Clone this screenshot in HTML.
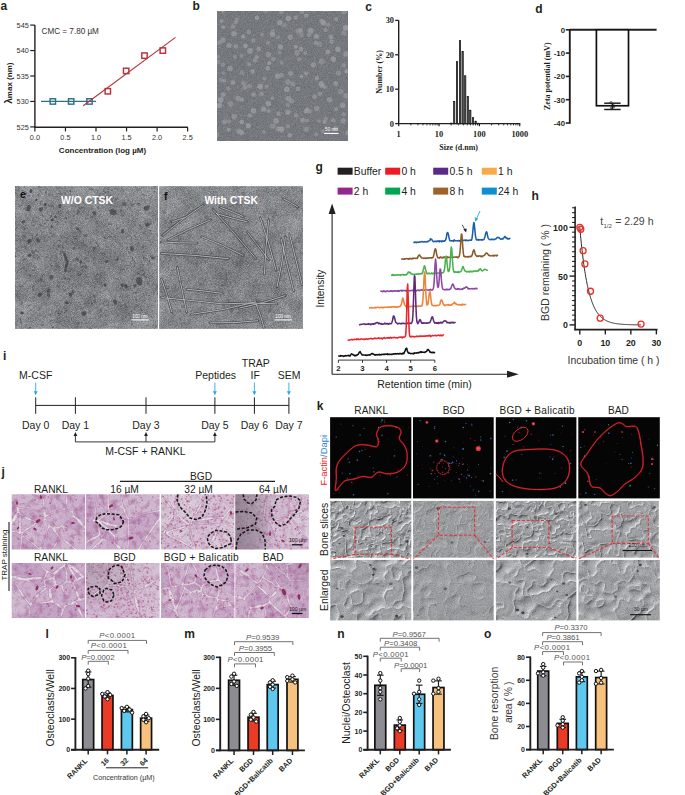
<!DOCTYPE html>
<html><head><meta charset="utf-8"><style>
html,body{margin:0;padding:0;background:#fff;}
body{width:685px;height:795px;overflow:hidden;}
svg{display:block;}

</style></head><body>
<svg width="685" height="795" viewBox="0 0 685 795">
<defs>
<filter id="nb" x="0" y="0" width="100%" height="100%" color-interpolation-filters="sRGB">
<feTurbulence type="fractalNoise" baseFrequency="1.2" numOctaves="2" seed="3"/>
<feColorMatrix type="matrix" values="0.2 0 0 0 0.350  0.2 0 0 0 0.365  0.2 0 0 0 0.385  0 0 0 0 1"/>
<feComposite in2="SourceGraphic" operator="in"/>
</filter>
<clipPath id="cb"><rect x="217" y="11" width="131" height="130"/></clipPath>
<filter id="blur06" x="-5%" y="-5%" width="110%" height="110%"><feGaussianBlur stdDeviation="0.75"/></filter>
<filter id="blur04" x="-5%" y="-5%" width="110%" height="110%"><feGaussianBlur stdDeviation="0.4"/></filter>
<filter id="nb2" x="0" y="0" width="100%" height="100%" color-interpolation-filters="sRGB">
<feTurbulence type="fractalNoise" baseFrequency="1.3" numOctaves="1" seed="13"/>
<feColorMatrix type="matrix" values="0.6 0 0 0 0.200  0.6 0 0 0 0.200  0.6 0 0 0 0.200  0 0 0 0 0.22"/>
<feComposite in2="SourceGraphic" operator="in"/>
</filter>
<filter id="ne" x="0" y="0" width="100%" height="100%" color-interpolation-filters="sRGB">
<feTurbulence type="fractalNoise" baseFrequency="1.4" numOctaves="2" seed="5"/>
<feColorMatrix type="matrix" values="0.56 0 0 0 0.240  0.56 0 0 0 0.255  0.56 0 0 0 0.275  0 0 0 0 1"/>
<feComposite in2="SourceGraphic" operator="in"/>
</filter>
<filter id="nf" x="0" y="0" width="100%" height="100%" color-interpolation-filters="sRGB">
<feTurbulence type="fractalNoise" baseFrequency="1.4" numOctaves="2" seed="9"/>
<feColorMatrix type="matrix" values="0.56 0 0 0 0.240  0.56 0 0 0 0.255  0.56 0 0 0 0.275  0 0 0 0 1"/>
<feComposite in2="SourceGraphic" operator="in"/>
</filter>
<clipPath id="ce"><rect x="15" y="186.2" width="143" height="142.6"/></clipPath>
<clipPath id="cf"><rect x="159.3" y="186.2" width="143.6" height="142.6"/></clipPath>
<filter id="blur08" x="-20%" y="-20%" width="140%" height="140%"><feGaussianBlur stdDeviation="0.65"/></filter>
<radialGradient id="gshade" cx="0.5" cy="0.6" r="0.75"><stop offset="0" stop-color="#000" stop-opacity="0.07"/><stop offset="1" stop-color="#fff" stop-opacity="0.05"/></radialGradient>
<filter id="mott" x="0" y="0" width="100%" height="100%" color-interpolation-filters="sRGB">
<feTurbulence type="fractalNoise" baseFrequency="0.06" numOctaves="3" seed="21"/>
<feColorMatrix type="matrix" values="1.0 0 0 0 0.000  1.0 0 0 0 0.000  1.0 0 0 0 0.000  0 0 0 0 0.22"/>
<feComposite in2="SourceGraphic" operator="in"/>
</filter>
<filter id="mott2" x="0" y="0" width="100%" height="100%" color-interpolation-filters="sRGB">
<feTurbulence type="fractalNoise" baseFrequency="0.06" numOctaves="3" seed="27"/>
<feColorMatrix type="matrix" values="1.0 0 0 0 0.000  1.0 0 0 0 0.000  1.0 0 0 0 0.000  0 0 0 0 0.22"/>
<feComposite in2="SourceGraphic" operator="in"/>
</filter>
<filter id="nstr" x="0" y="0" width="100%" height="100%" color-interpolation-filters="sRGB">
<feTurbulence type="fractalNoise" baseFrequency="0.25 1.1" numOctaves="2" seed="33"/>
<feColorMatrix type="matrix" values="1.0 0 0 0 0.000  1.0 0 0 0 0.000  1.0 0 0 0 0.000  0 0 0 0 0.13"/>
<feComposite in2="SourceGraphic" operator="in"/>
</filter>
<filter id="nstr2" x="0" y="0" width="100%" height="100%" color-interpolation-filters="sRGB">
<feTurbulence type="fractalNoise" baseFrequency="0.25 1.1" numOctaves="2" seed="35"/>
<feColorMatrix type="matrix" values="1.0 0 0 0 0.000  1.0 0 0 0 0.000  1.0 0 0 0 0.000  0 0 0 0 0.13"/>
<feComposite in2="SourceGraphic" operator="in"/>
</filter>
<filter id="nj2" x="0" y="0" width="100%" height="100%" color-interpolation-filters="sRGB"><feTurbulence type="fractalNoise" baseFrequency="0.16" numOctaves="3" seed="4"/><feColorMatrix type="matrix" values="0 0 0 0 0.62  0 0 0 0 0.25  0 0 0 0 0.52  2.4 0 0 0 -1.1"/><feComposite in2="SourceGraphic" operator="in"/></filter>
<filter id="nj3" x="0" y="0" width="100%" height="100%" color-interpolation-filters="sRGB"><feTurbulence type="fractalNoise" baseFrequency="0.9" numOctaves="2" seed="8"/><feColorMatrix type="matrix" values="0 0 0 0 0.55  0 0 0 0 0.25  0 0 0 0 0.5  0 0 0 0 0  2.0 0 0 0 -0.9"/><feComposite in2="SourceGraphic" operator="in"/></filter>
<clipPath id="cj00"><rect x="11.7" y="494.2" width="73.5" height="55.2"/></clipPath>
<clipPath id="cj01"><rect x="86.1" y="494.2" width="73.5" height="55.2"/></clipPath>
<clipPath id="cj02"><rect x="161.0" y="494.2" width="73.5" height="55.2"/></clipPath>
<clipPath id="cj03"><rect x="235.3" y="494.2" width="73.5" height="55.2"/></clipPath>
<clipPath id="cj10"><rect x="11.7" y="562.9" width="73.5" height="55.2"/></clipPath>
<clipPath id="cj11"><rect x="86.1" y="562.9" width="73.5" height="55.2"/></clipPath>
<clipPath id="cj12"><rect x="161.0" y="562.9" width="73.5" height="55.2"/></clipPath>
<clipPath id="cj13"><rect x="235.3" y="562.9" width="73.5" height="55.2"/></clipPath>
<linearGradient id="gj64" x1="0" y1="0" x2="1" y2="0"><stop offset="0" stop-color="#5e5360" stop-opacity="0.55"/><stop offset="0.35" stop-color="#6e6270" stop-opacity="0.35"/><stop offset="0.5" stop-color="#6e6270" stop-opacity="0"/></linearGradient>
<radialGradient id="gjb" cx="0" cy="0" r="0.9"><stop offset="0" stop-color="#6a626b" stop-opacity="0.3"/><stop offset="1" stop-color="#6a626b" stop-opacity="0"/></radialGradient>
<radialGradient id="gjr" cx="1" cy="0" r="0.7"><stop offset="0" stop-color="#8a5a80" stop-opacity="0.35"/><stop offset="1" stop-color="#8a5a80" stop-opacity="0"/></radialGradient>
<filter id="sem2_0" x="0" y="0" width="100%" height="100%" color-interpolation-filters="sRGB">
<feTurbulence type="fractalNoise" baseFrequency="0.13" numOctaves="2" seed="20" result="n1"/>
<feTurbulence type="fractalNoise" baseFrequency="0.0927" numOctaves="2" seed="23" result="n2"/>
<feComposite in="n1" in2="n2" operator="arithmetic" k2="0.5" k3="0.5" result="s"/>
<feColorMatrix in="s" type="matrix" values="1 0 0 0 0  1 0 0 0 0  1 0 0 0 0  0 0 0 0 1" result="s1"/>
<feComponentTransfer in="s1" result="r"><feFuncR type="table" tableValues="0 0 1 0 0"/><feFuncG type="table" tableValues="0 0 1 0 0"/><feFuncB type="table" tableValues="0 0 1 0 0"/></feComponentTransfer>
<feComponentTransfer in="r" result="r2"><feFuncR type="gamma" exponent="6"/><feFuncG type="gamma" exponent="6"/><feFuncB type="gamma" exponent="6"/></feComponentTransfer>
<feGaussianBlur in="r2" stdDeviation="0.35" result="rb"/>
<feOffset in="rb" dx="0.9" dy="0.9" result="ro"/>
<feColorMatrix in="s" type="matrix" values="0 0 0 0 0  0 0 0 0 0  0 0 0 0 0  1 0 0 0 0" result="a"/>
<feDiffuseLighting in="a" surfaceScale="4" diffuseConstant="1" lighting-color="#fff" result="l"><feDistantLight azimuth="235" elevation="55"/></feDiffuseLighting>
<feTurbulence type="fractalNoise" baseFrequency="1.1" numOctaves="1" seed="25" result="n"/>
<feColorMatrix in="n" type="matrix" values="0.22 0 0 0 0.485  0.22 0 0 0 0.490  0.22 0 0 0 0.500  0 0 0 0 1" result="g"/>
<feComposite in="l" in2="g" operator="arithmetic" k2="0.4" k3="1" k4="-0.300" result="g2"/>
<feComposite in="ro" in2="g2" operator="arithmetic" k2="-0.24" k3="1" k4="0" result="g3"/>
<feComposite in="rb" in2="g3" operator="arithmetic" k2="0.27" k3="1" k4="0" result="c"/>
<feComposite in="c" in2="SourceGraphic" operator="in"/>
</filter>
<filter id="sem3_0" x="0" y="0" width="100%" height="100%" color-interpolation-filters="sRGB">
<feTurbulence type="fractalNoise" baseFrequency="0.065" numOctaves="2" seed="40" result="n1"/>
<feTurbulence type="fractalNoise" baseFrequency="0.0463" numOctaves="2" seed="43" result="n2"/>
<feComposite in="n1" in2="n2" operator="arithmetic" k2="0.5" k3="0.5" result="s"/>
<feColorMatrix in="s" type="matrix" values="1 0 0 0 0  1 0 0 0 0  1 0 0 0 0  0 0 0 0 1" result="s1"/>
<feComponentTransfer in="s1" result="r"><feFuncR type="table" tableValues="0 0 1 0 0"/><feFuncG type="table" tableValues="0 0 1 0 0"/><feFuncB type="table" tableValues="0 0 1 0 0"/></feComponentTransfer>
<feComponentTransfer in="r" result="r2"><feFuncR type="gamma" exponent="5"/><feFuncG type="gamma" exponent="5"/><feFuncB type="gamma" exponent="5"/></feComponentTransfer>
<feGaussianBlur in="r2" stdDeviation="0.5" result="rb"/>
<feOffset in="rb" dx="0.9" dy="0.9" result="ro"/>
<feColorMatrix in="s" type="matrix" values="0 0 0 0 0  0 0 0 0 0  0 0 0 0 0  1 0 0 0 0" result="a"/>
<feDiffuseLighting in="a" surfaceScale="4" diffuseConstant="1" lighting-color="#fff" result="l"><feDistantLight azimuth="235" elevation="55"/></feDiffuseLighting>
<feTurbulence type="fractalNoise" baseFrequency="1.1" numOctaves="1" seed="45" result="n"/>
<feColorMatrix in="n" type="matrix" values="0.22 0 0 0 0.480  0.22 0 0 0 0.485  0.22 0 0 0 0.495  0 0 0 0 1" result="g"/>
<feComposite in="l" in2="g" operator="arithmetic" k2="0.55" k3="1" k4="-0.413" result="g2"/>
<feComposite in="ro" in2="g2" operator="arithmetic" k2="-0.3" k3="1" k4="0" result="g3"/>
<feComposite in="rb" in2="g3" operator="arithmetic" k2="0.32" k3="1" k4="0" result="c"/>
<feComposite in="c" in2="SourceGraphic" operator="in"/>
</filter>
<filter id="sem2_1" x="0" y="0" width="100%" height="100%" color-interpolation-filters="sRGB">
<feTurbulence type="fractalNoise" baseFrequency="0.1" numOctaves="2" seed="21" result="n1"/>
<feTurbulence type="fractalNoise" baseFrequency="0.0713" numOctaves="2" seed="24" result="n2"/>
<feComposite in="n1" in2="n2" operator="arithmetic" k2="0.5" k3="0.5" result="s"/>
<feColorMatrix in="s" type="matrix" values="1 0 0 0 0  1 0 0 0 0  1 0 0 0 0  0 0 0 0 1" result="s1"/>
<feComponentTransfer in="s1" result="r"><feFuncR type="table" tableValues="0 0 1 0 0"/><feFuncG type="table" tableValues="0 0 1 0 0"/><feFuncB type="table" tableValues="0 0 1 0 0"/></feComponentTransfer>
<feComponentTransfer in="r" result="r2"><feFuncR type="gamma" exponent="6"/><feFuncG type="gamma" exponent="6"/><feFuncB type="gamma" exponent="6"/></feComponentTransfer>
<feGaussianBlur in="r2" stdDeviation="0.35" result="rb"/>
<feOffset in="rb" dx="0.9" dy="0.9" result="ro"/>
<feColorMatrix in="s" type="matrix" values="0 0 0 0 0  0 0 0 0 0  0 0 0 0 0  1 0 0 0 0" result="a"/>
<feDiffuseLighting in="a" surfaceScale="4" diffuseConstant="1" lighting-color="#fff" result="l"><feDistantLight azimuth="235" elevation="55"/></feDiffuseLighting>
<feTurbulence type="fractalNoise" baseFrequency="1.1" numOctaves="1" seed="26" result="n"/>
<feColorMatrix in="n" type="matrix" values="0.22 0 0 0 0.485  0.22 0 0 0 0.490  0.22 0 0 0 0.500  0 0 0 0 1" result="g"/>
<feComposite in="l" in2="g" operator="arithmetic" k2="0.18000000000000002" k3="1" k4="-0.135" result="g2"/>
<feComposite in="ro" in2="g2" operator="arithmetic" k2="-0.108" k3="1" k4="0" result="g3"/>
<feComposite in="rb" in2="g3" operator="arithmetic" k2="0.12150000000000001" k3="1" k4="0" result="c"/>
<feComposite in="c" in2="SourceGraphic" operator="in"/>
</filter>
<filter id="sem3_1" x="0" y="0" width="100%" height="100%" color-interpolation-filters="sRGB">
<feTurbulence type="fractalNoise" baseFrequency="0.065" numOctaves="2" seed="41" result="n1"/>
<feTurbulence type="fractalNoise" baseFrequency="0.0463" numOctaves="2" seed="44" result="n2"/>
<feComposite in="n1" in2="n2" operator="arithmetic" k2="0.5" k3="0.5" result="s"/>
<feColorMatrix in="s" type="matrix" values="1 0 0 0 0  1 0 0 0 0  1 0 0 0 0  0 0 0 0 1" result="s1"/>
<feComponentTransfer in="s1" result="r"><feFuncR type="table" tableValues="0 0 1 0 0"/><feFuncG type="table" tableValues="0 0 1 0 0"/><feFuncB type="table" tableValues="0 0 1 0 0"/></feComponentTransfer>
<feComponentTransfer in="r" result="r2"><feFuncR type="gamma" exponent="5"/><feFuncG type="gamma" exponent="5"/><feFuncB type="gamma" exponent="5"/></feComponentTransfer>
<feGaussianBlur in="r2" stdDeviation="0.5" result="rb"/>
<feOffset in="rb" dx="0.9" dy="0.9" result="ro"/>
<feColorMatrix in="s" type="matrix" values="0 0 0 0 0  0 0 0 0 0  0 0 0 0 0  1 0 0 0 0" result="a"/>
<feDiffuseLighting in="a" surfaceScale="4" diffuseConstant="1" lighting-color="#fff" result="l"><feDistantLight azimuth="235" elevation="55"/></feDiffuseLighting>
<feTurbulence type="fractalNoise" baseFrequency="1.1" numOctaves="1" seed="46" result="n"/>
<feColorMatrix in="n" type="matrix" values="0.22 0 0 0 0.480  0.22 0 0 0 0.485  0.22 0 0 0 0.495  0 0 0 0 1" result="g"/>
<feComposite in="l" in2="g" operator="arithmetic" k2="0.24750000000000003" k3="1" k4="-0.186" result="g2"/>
<feComposite in="ro" in2="g2" operator="arithmetic" k2="-0.135" k3="1" k4="0" result="g3"/>
<feComposite in="rb" in2="g3" operator="arithmetic" k2="0.14400000000000002" k3="1" k4="0" result="c"/>
<feComposite in="c" in2="SourceGraphic" operator="in"/>
</filter>
<filter id="sem2_2" x="0" y="0" width="100%" height="100%" color-interpolation-filters="sRGB">
<feTurbulence type="fractalNoise" baseFrequency="0.12" numOctaves="2" seed="22" result="n1"/>
<feTurbulence type="fractalNoise" baseFrequency="0.0856" numOctaves="2" seed="25" result="n2"/>
<feComposite in="n1" in2="n2" operator="arithmetic" k2="0.5" k3="0.5" result="s"/>
<feColorMatrix in="s" type="matrix" values="1 0 0 0 0  1 0 0 0 0  1 0 0 0 0  0 0 0 0 1" result="s1"/>
<feComponentTransfer in="s1" result="r"><feFuncR type="table" tableValues="0 0 1 0 0"/><feFuncG type="table" tableValues="0 0 1 0 0"/><feFuncB type="table" tableValues="0 0 1 0 0"/></feComponentTransfer>
<feComponentTransfer in="r" result="r2"><feFuncR type="gamma" exponent="6"/><feFuncG type="gamma" exponent="6"/><feFuncB type="gamma" exponent="6"/></feComponentTransfer>
<feGaussianBlur in="r2" stdDeviation="0.35" result="rb"/>
<feOffset in="rb" dx="0.9" dy="0.9" result="ro"/>
<feColorMatrix in="s" type="matrix" values="0 0 0 0 0  0 0 0 0 0  0 0 0 0 0  1 0 0 0 0" result="a"/>
<feDiffuseLighting in="a" surfaceScale="4" diffuseConstant="1" lighting-color="#fff" result="l"><feDistantLight azimuth="235" elevation="55"/></feDiffuseLighting>
<feTurbulence type="fractalNoise" baseFrequency="1.1" numOctaves="1" seed="27" result="n"/>
<feColorMatrix in="n" type="matrix" values="0.22 0 0 0 0.485  0.22 0 0 0 0.490  0.22 0 0 0 0.500  0 0 0 0 1" result="g"/>
<feComposite in="l" in2="g" operator="arithmetic" k2="0.4" k3="1" k4="-0.300" result="g2"/>
<feComposite in="ro" in2="g2" operator="arithmetic" k2="-0.24" k3="1" k4="0" result="g3"/>
<feComposite in="rb" in2="g3" operator="arithmetic" k2="0.27" k3="1" k4="0" result="c"/>
<feComposite in="c" in2="SourceGraphic" operator="in"/>
</filter>
<filter id="sem3_2" x="0" y="0" width="100%" height="100%" color-interpolation-filters="sRGB">
<feTurbulence type="fractalNoise" baseFrequency="0.065" numOctaves="2" seed="42" result="n1"/>
<feTurbulence type="fractalNoise" baseFrequency="0.0463" numOctaves="2" seed="45" result="n2"/>
<feComposite in="n1" in2="n2" operator="arithmetic" k2="0.5" k3="0.5" result="s"/>
<feColorMatrix in="s" type="matrix" values="1 0 0 0 0  1 0 0 0 0  1 0 0 0 0  0 0 0 0 1" result="s1"/>
<feComponentTransfer in="s1" result="r"><feFuncR type="table" tableValues="0 0 1 0 0"/><feFuncG type="table" tableValues="0 0 1 0 0"/><feFuncB type="table" tableValues="0 0 1 0 0"/></feComponentTransfer>
<feComponentTransfer in="r" result="r2"><feFuncR type="gamma" exponent="5"/><feFuncG type="gamma" exponent="5"/><feFuncB type="gamma" exponent="5"/></feComponentTransfer>
<feGaussianBlur in="r2" stdDeviation="0.5" result="rb"/>
<feOffset in="rb" dx="0.9" dy="0.9" result="ro"/>
<feColorMatrix in="s" type="matrix" values="0 0 0 0 0  0 0 0 0 0  0 0 0 0 0  1 0 0 0 0" result="a"/>
<feDiffuseLighting in="a" surfaceScale="4" diffuseConstant="1" lighting-color="#fff" result="l"><feDistantLight azimuth="235" elevation="55"/></feDiffuseLighting>
<feTurbulence type="fractalNoise" baseFrequency="1.1" numOctaves="1" seed="47" result="n"/>
<feColorMatrix in="n" type="matrix" values="0.22 0 0 0 0.480  0.22 0 0 0 0.485  0.22 0 0 0 0.495  0 0 0 0 1" result="g"/>
<feComposite in="l" in2="g" operator="arithmetic" k2="0.55" k3="1" k4="-0.413" result="g2"/>
<feComposite in="ro" in2="g2" operator="arithmetic" k2="-0.3" k3="1" k4="0" result="g3"/>
<feComposite in="rb" in2="g3" operator="arithmetic" k2="0.32" k3="1" k4="0" result="c"/>
<feComposite in="c" in2="SourceGraphic" operator="in"/>
</filter>
<filter id="sem2_3" x="0" y="0" width="100%" height="100%" color-interpolation-filters="sRGB">
<feTurbulence type="fractalNoise" baseFrequency="0.1" numOctaves="2" seed="23" result="n1"/>
<feTurbulence type="fractalNoise" baseFrequency="0.0713" numOctaves="2" seed="26" result="n2"/>
<feComposite in="n1" in2="n2" operator="arithmetic" k2="0.5" k3="0.5" result="s"/>
<feColorMatrix in="s" type="matrix" values="1 0 0 0 0  1 0 0 0 0  1 0 0 0 0  0 0 0 0 1" result="s1"/>
<feComponentTransfer in="s1" result="r"><feFuncR type="table" tableValues="0 0 1 0 0"/><feFuncG type="table" tableValues="0 0 1 0 0"/><feFuncB type="table" tableValues="0 0 1 0 0"/></feComponentTransfer>
<feComponentTransfer in="r" result="r2"><feFuncR type="gamma" exponent="6"/><feFuncG type="gamma" exponent="6"/><feFuncB type="gamma" exponent="6"/></feComponentTransfer>
<feGaussianBlur in="r2" stdDeviation="0.35" result="rb"/>
<feOffset in="rb" dx="0.9" dy="0.9" result="ro"/>
<feColorMatrix in="s" type="matrix" values="0 0 0 0 0  0 0 0 0 0  0 0 0 0 0  1 0 0 0 0" result="a"/>
<feDiffuseLighting in="a" surfaceScale="4" diffuseConstant="1" lighting-color="#fff" result="l"><feDistantLight azimuth="235" elevation="55"/></feDiffuseLighting>
<feTurbulence type="fractalNoise" baseFrequency="1.1" numOctaves="1" seed="28" result="n"/>
<feColorMatrix in="n" type="matrix" values="0.22 0 0 0 0.485  0.22 0 0 0 0.490  0.22 0 0 0 0.500  0 0 0 0 1" result="g"/>
<feComposite in="l" in2="g" operator="arithmetic" k2="0.38" k3="1" k4="-0.285" result="g2"/>
<feComposite in="ro" in2="g2" operator="arithmetic" k2="-0.22799999999999998" k3="1" k4="0" result="g3"/>
<feComposite in="rb" in2="g3" operator="arithmetic" k2="0.2565" k3="1" k4="0" result="c"/>
<feComposite in="c" in2="SourceGraphic" operator="in"/>
</filter>
<filter id="sem3_3" x="0" y="0" width="100%" height="100%" color-interpolation-filters="sRGB">
<feTurbulence type="fractalNoise" baseFrequency="0.065" numOctaves="2" seed="43" result="n1"/>
<feTurbulence type="fractalNoise" baseFrequency="0.0463" numOctaves="2" seed="46" result="n2"/>
<feComposite in="n1" in2="n2" operator="arithmetic" k2="0.5" k3="0.5" result="s"/>
<feColorMatrix in="s" type="matrix" values="1 0 0 0 0  1 0 0 0 0  1 0 0 0 0  0 0 0 0 1" result="s1"/>
<feComponentTransfer in="s1" result="r"><feFuncR type="table" tableValues="0 0 1 0 0"/><feFuncG type="table" tableValues="0 0 1 0 0"/><feFuncB type="table" tableValues="0 0 1 0 0"/></feComponentTransfer>
<feComponentTransfer in="r" result="r2"><feFuncR type="gamma" exponent="5"/><feFuncG type="gamma" exponent="5"/><feFuncB type="gamma" exponent="5"/></feComponentTransfer>
<feGaussianBlur in="r2" stdDeviation="0.5" result="rb"/>
<feOffset in="rb" dx="0.9" dy="0.9" result="ro"/>
<feColorMatrix in="s" type="matrix" values="0 0 0 0 0  0 0 0 0 0  0 0 0 0 0  1 0 0 0 0" result="a"/>
<feDiffuseLighting in="a" surfaceScale="4" diffuseConstant="1" lighting-color="#fff" result="l"><feDistantLight azimuth="235" elevation="55"/></feDiffuseLighting>
<feTurbulence type="fractalNoise" baseFrequency="1.1" numOctaves="1" seed="48" result="n"/>
<feColorMatrix in="n" type="matrix" values="0.22 0 0 0 0.480  0.22 0 0 0 0.485  0.22 0 0 0 0.495  0 0 0 0 1" result="g"/>
<feComposite in="l" in2="g" operator="arithmetic" k2="0.5225" k3="1" k4="-0.392" result="g2"/>
<feComposite in="ro" in2="g2" operator="arithmetic" k2="-0.285" k3="1" k4="0" result="g3"/>
<feComposite in="rb" in2="g3" operator="arithmetic" k2="0.304" k3="1" k4="0" result="c"/>
<feComposite in="c" in2="SourceGraphic" operator="in"/>
</filter>
<filter id="glow" x="-10%" y="-10%" width="120%" height="120%"><feGaussianBlur stdDeviation="0.5"/></filter>
<filter id="glow2" x="-50%" y="-50%" width="200%" height="200%"><feGaussianBlur stdDeviation="0.7"/></filter>
</defs>
<rect width="685" height="795" fill="#fff"/>
<text x="0.50" y="10.00" font-size="12" text-anchor="start" font-weight="bold" font-style="normal" fill="#231f20" font-family='"Liberation Sans", sans-serif' >a</text>
<line x1="34.90" y1="25.10" x2="34.90" y2="127.90" stroke="#231f20" stroke-width="1.4" />
<line x1="30.20" y1="126.90" x2="34.90" y2="126.90" stroke="#231f20" stroke-width="1.2" />
<text x="28.80" y="129.50" font-size="7.3" text-anchor="end" font-weight="normal" font-style="normal" fill="#333" font-family='"Liberation Sans", sans-serif' >525</text>
<line x1="30.20" y1="101.45" x2="34.90" y2="101.45" stroke="#231f20" stroke-width="1.2" />
<text x="28.80" y="104.05" font-size="7.3" text-anchor="end" font-weight="normal" font-style="normal" fill="#333" font-family='"Liberation Sans", sans-serif' >530</text>
<line x1="30.20" y1="76.00" x2="34.90" y2="76.00" stroke="#231f20" stroke-width="1.2" />
<text x="28.80" y="78.60" font-size="7.3" text-anchor="end" font-weight="normal" font-style="normal" fill="#333" font-family='"Liberation Sans", sans-serif' >535</text>
<line x1="30.20" y1="50.55" x2="34.90" y2="50.55" stroke="#231f20" stroke-width="1.2" />
<text x="28.80" y="53.15" font-size="7.3" text-anchor="end" font-weight="normal" font-style="normal" fill="#333" font-family='"Liberation Sans", sans-serif' >540</text>
<line x1="30.20" y1="25.10" x2="34.90" y2="25.10" stroke="#231f20" stroke-width="1.2" />
<text x="28.80" y="27.70" font-size="7.3" text-anchor="end" font-weight="normal" font-style="normal" fill="#333" font-family='"Liberation Sans", sans-serif' >545</text>
<line x1="34.20" y1="127.20" x2="187.90" y2="127.20" stroke="#231f20" stroke-width="1.4" />
<line x1="34.90" y1="127.20" x2="34.90" y2="131.40" stroke="#231f20" stroke-width="1.2" />
<text x="34.90" y="140.30" font-size="7.3" text-anchor="middle" font-weight="normal" font-style="normal" fill="#333" font-family='"Liberation Sans", sans-serif' >0.0</text>
<line x1="65.45" y1="127.20" x2="65.45" y2="131.40" stroke="#231f20" stroke-width="1.2" />
<text x="65.45" y="140.30" font-size="7.3" text-anchor="middle" font-weight="normal" font-style="normal" fill="#333" font-family='"Liberation Sans", sans-serif' >0.5</text>
<line x1="96.00" y1="127.20" x2="96.00" y2="131.40" stroke="#231f20" stroke-width="1.2" />
<text x="96.00" y="140.30" font-size="7.3" text-anchor="middle" font-weight="normal" font-style="normal" fill="#333" font-family='"Liberation Sans", sans-serif' >1.0</text>
<line x1="126.55" y1="127.20" x2="126.55" y2="131.40" stroke="#231f20" stroke-width="1.2" />
<text x="126.55" y="140.30" font-size="7.3" text-anchor="middle" font-weight="normal" font-style="normal" fill="#333" font-family='"Liberation Sans", sans-serif' >1.5</text>
<line x1="157.10" y1="127.20" x2="157.10" y2="131.40" stroke="#231f20" stroke-width="1.2" />
<text x="157.10" y="140.30" font-size="7.3" text-anchor="middle" font-weight="normal" font-style="normal" fill="#333" font-family='"Liberation Sans", sans-serif' >2.0</text>
<line x1="187.65" y1="127.20" x2="187.65" y2="131.40" stroke="#231f20" stroke-width="1.2" />
<text x="187.65" y="140.30" font-size="7.3" text-anchor="middle" font-weight="normal" font-style="normal" fill="#333" font-family='"Liberation Sans", sans-serif' >2.5</text>
<text x="102.50" y="153.30" font-size="8" text-anchor="middle" font-weight="bold" font-style="normal" fill="#231f20" font-family='"Liberation Sans", sans-serif' >Concentration (log µM)</text>
<text x="11.90" y="83.20" font-size="8.0" text-anchor="middle" font-weight="bold" font-style="normal" fill="#231f20" font-family='"Liberation Sans", sans-serif' transform="rotate(-90 11.9 83.2)" ><tspan font-size="10.2">λ</tspan>max (nm)</text>
<text x="41.60" y="33.90" font-size="8.15" text-anchor="start" font-weight="normal" font-style="normal" fill="#333" font-family='"Liberation Sans", sans-serif' >CMC = 7.80 µM</text>
<line x1="41.01" y1="101.45" x2="96.00" y2="101.45" stroke="#2f7286" stroke-width="1.2" />
<rect x="50.13" y="98.75" width="5.4" height="5.4" fill="none" stroke="#2f7286" stroke-width="1.45"/>
<rect x="68.46" y="98.75" width="5.4" height="5.4" fill="none" stroke="#2f7286" stroke-width="1.45"/>
<rect x="86.79" y="98.75" width="5.4" height="5.4" fill="none" stroke="#2f7286" stroke-width="1.45"/>
<line x1="83.20" y1="105.70" x2="175.50" y2="37.40" stroke="#b8333b" stroke-width="1.15" />
<rect x="105.12" y="88.57" width="5.4" height="5.4" fill="none" stroke="#b8333b" stroke-width="1.45"/>
<rect x="123.45" y="68.21" width="5.4" height="5.4" fill="none" stroke="#b8333b" stroke-width="1.45"/>
<rect x="141.78" y="52.94" width="5.4" height="5.4" fill="none" stroke="#b8333b" stroke-width="1.45"/>
<rect x="160.11" y="47.85" width="5.4" height="5.4" fill="none" stroke="#b8333b" stroke-width="1.45"/>
<text x="192.50" y="10.00" font-size="12" text-anchor="start" font-weight="bold" font-style="normal" fill="#231f20" font-family='"Liberation Sans", sans-serif' >b</text>
<rect x="217.00" y="11.00" width="131.00" height="130.00" fill="#6c6f73" filter="url(#nb)"/>
<g clip-path="url(#cb)" filter="url(#blur06)">
<circle cx="214.0" cy="12.2" r="2.0" fill="#9fa2a7" opacity="0.74"/>
<circle cx="222.8" cy="11.1" r="1.9" fill="#9fa2a7" opacity="0.70"/>
<circle cx="258.2" cy="8.1" r="2.1" fill="#9fa2a7" opacity="0.77"/>
<circle cx="265.7" cy="10.2" r="2.9" fill="#9fa2a7" opacity="0.57"/>
<circle cx="272.8" cy="8.2" r="2.0" fill="#9fa2a7" opacity="0.66"/>
<circle cx="281.4" cy="11.6" r="2.5" fill="#9fa2a7" opacity="0.68"/>
<circle cx="290.0" cy="7.6" r="2.1" fill="#9fa2a7" opacity="0.79"/>
<circle cx="301.8" cy="11.7" r="2.4" fill="#9fa2a7" opacity="0.65"/>
<circle cx="314.7" cy="9.0" r="2.5" fill="#9fa2a7" opacity="0.73"/>
<circle cx="324.6" cy="9.4" r="2.9" fill="#9fa2a7" opacity="0.59"/>
<circle cx="334.4" cy="8.3" r="2.4" fill="#9fa2a7" opacity="0.56"/>
<circle cx="344.1" cy="11.6" r="2.8" fill="#9fa2a7" opacity="0.66"/>
<circle cx="352.2" cy="11.6" r="2.4" fill="#9fa2a7" opacity="0.84"/>
<circle cx="221.6" cy="20.9" r="2.0" fill="#9fa2a7" opacity="0.80"/>
<circle cx="235.7" cy="22.1" r="2.2" fill="#9fa2a7" opacity="0.69"/>
<circle cx="236.9" cy="19.3" r="2.1" fill="#9fa2a7" opacity="0.59"/>
<circle cx="257.0" cy="17.7" r="2.3" fill="#9fa2a7" opacity="0.85"/>
<circle cx="279.8" cy="22.6" r="2.7" fill="#9fa2a7" opacity="0.85"/>
<circle cx="288.3" cy="18.5" r="2.8" fill="#9fa2a7" opacity="0.89"/>
<circle cx="295.8" cy="17.6" r="2.1" fill="#9fa2a7" opacity="0.72"/>
<circle cx="306.2" cy="15.8" r="2.3" fill="#9fa2a7" opacity="0.68"/>
<circle cx="321.7" cy="21.1" r="2.4" fill="#9fa2a7" opacity="0.77"/>
<circle cx="323.5" cy="22.7" r="2.7" fill="#9fa2a7" opacity="0.86"/>
<circle cx="336.1" cy="18.9" r="2.0" fill="#9fa2a7" opacity="0.77"/>
<circle cx="214.1" cy="27.0" r="2.0" fill="#9fa2a7" opacity="0.55"/>
<circle cx="223.2" cy="27.2" r="1.9" fill="#9fa2a7" opacity="0.86"/>
<circle cx="233.2" cy="26.4" r="2.2" fill="#9fa2a7" opacity="0.68"/>
<circle cx="248.8" cy="32.1" r="2.4" fill="#9fa2a7" opacity="0.72"/>
<circle cx="272.6" cy="30.8" r="2.1" fill="#9fa2a7" opacity="0.56"/>
<circle cx="284.4" cy="25.5" r="2.4" fill="#9fa2a7" opacity="0.56"/>
<circle cx="297.9" cy="31.1" r="2.6" fill="#9fa2a7" opacity="0.64"/>
<circle cx="300.5" cy="30.4" r="2.4" fill="#9fa2a7" opacity="0.82"/>
<circle cx="310.6" cy="30.7" r="2.9" fill="#9fa2a7" opacity="0.85"/>
<circle cx="325.4" cy="30.1" r="2.1" fill="#9fa2a7" opacity="0.73"/>
<circle cx="328.1" cy="24.6" r="2.2" fill="#9fa2a7" opacity="0.64"/>
<circle cx="345.7" cy="27.9" r="2.8" fill="#9fa2a7" opacity="0.90"/>
<circle cx="350.2" cy="26.1" r="2.1" fill="#9fa2a7" opacity="0.62"/>
<circle cx="222.9" cy="40.0" r="2.7" fill="#9fa2a7" opacity="0.72"/>
<circle cx="234.0" cy="33.7" r="2.6" fill="#9fa2a7" opacity="0.87"/>
<circle cx="243.2" cy="36.7" r="2.1" fill="#9fa2a7" opacity="0.83"/>
<circle cx="253.2" cy="40.6" r="2.3" fill="#9fa2a7" opacity="0.69"/>
<circle cx="262.1" cy="34.4" r="2.0" fill="#9fa2a7" opacity="0.60"/>
<circle cx="272.4" cy="34.2" r="2.7" fill="#9fa2a7" opacity="0.89"/>
<circle cx="278.1" cy="37.3" r="2.0" fill="#9fa2a7" opacity="0.55"/>
<circle cx="290.3" cy="37.1" r="2.8" fill="#9fa2a7" opacity="0.70"/>
<circle cx="301.4" cy="34.7" r="2.2" fill="#9fa2a7" opacity="0.65"/>
<circle cx="308.9" cy="35.0" r="2.3" fill="#9fa2a7" opacity="0.60"/>
<circle cx="316.5" cy="36.6" r="2.5" fill="#9fa2a7" opacity="0.87"/>
<circle cx="331.0" cy="36.9" r="2.4" fill="#9fa2a7" opacity="0.73"/>
<circle cx="343.9" cy="33.1" r="2.7" fill="#9fa2a7" opacity="0.61"/>
<circle cx="358.1" cy="37.4" r="2.2" fill="#9fa2a7" opacity="0.73"/>
<circle cx="219.5" cy="42.5" r="2.5" fill="#9fa2a7" opacity="0.64"/>
<circle cx="229.0" cy="45.6" r="2.5" fill="#9fa2a7" opacity="0.82"/>
<circle cx="235.7" cy="46.4" r="2.4" fill="#9fa2a7" opacity="0.73"/>
<circle cx="245.4" cy="45.8" r="2.4" fill="#9fa2a7" opacity="0.88"/>
<circle cx="258.7" cy="49.0" r="2.2" fill="#9fa2a7" opacity="0.75"/>
<circle cx="267.9" cy="42.7" r="2.0" fill="#9fa2a7" opacity="0.70"/>
<circle cx="280.5" cy="46.9" r="2.7" fill="#9fa2a7" opacity="0.86"/>
<circle cx="295.7" cy="46.8" r="2.0" fill="#9fa2a7" opacity="0.86"/>
<circle cx="301.0" cy="49.1" r="2.3" fill="#9fa2a7" opacity="0.72"/>
<circle cx="315.9" cy="42.9" r="2.3" fill="#9fa2a7" opacity="0.73"/>
<circle cx="320.0" cy="44.1" r="2.6" fill="#9fa2a7" opacity="0.56"/>
<circle cx="331.7" cy="41.8" r="2.2" fill="#9fa2a7" opacity="0.77"/>
<circle cx="338.0" cy="49.3" r="2.7" fill="#9fa2a7" opacity="0.89"/>
<circle cx="217.8" cy="56.4" r="2.2" fill="#9fa2a7" opacity="0.60"/>
<circle cx="235.0" cy="56.7" r="2.2" fill="#9fa2a7" opacity="0.60"/>
<circle cx="241.6" cy="55.8" r="2.0" fill="#9fa2a7" opacity="0.57"/>
<circle cx="250.0" cy="50.9" r="2.8" fill="#9fa2a7" opacity="0.77"/>
<circle cx="256.6" cy="57.0" r="2.0" fill="#9fa2a7" opacity="0.85"/>
<circle cx="268.4" cy="54.6" r="2.8" fill="#9fa2a7" opacity="0.64"/>
<circle cx="279.6" cy="52.2" r="2.0" fill="#9fa2a7" opacity="0.61"/>
<circle cx="297.0" cy="52.7" r="2.7" fill="#9fa2a7" opacity="0.65"/>
<circle cx="305.4" cy="53.0" r="1.9" fill="#9fa2a7" opacity="0.64"/>
<circle cx="327.8" cy="51.8" r="2.4" fill="#9fa2a7" opacity="0.88"/>
<circle cx="346.0" cy="54.2" r="2.7" fill="#9fa2a7" opacity="0.69"/>
<circle cx="357.8" cy="58.0" r="2.2" fill="#9fa2a7" opacity="0.84"/>
<circle cx="218.2" cy="62.1" r="2.2" fill="#9fa2a7" opacity="0.57"/>
<circle cx="222.9" cy="64.7" r="2.2" fill="#9fa2a7" opacity="0.61"/>
<circle cx="249.0" cy="64.2" r="2.2" fill="#9fa2a7" opacity="0.63"/>
<circle cx="255.0" cy="60.2" r="2.3" fill="#9fa2a7" opacity="0.64"/>
<circle cx="269.1" cy="63.2" r="2.1" fill="#9fa2a7" opacity="0.89"/>
<circle cx="273.4" cy="59.0" r="2.3" fill="#9fa2a7" opacity="0.72"/>
<circle cx="281.6" cy="62.9" r="1.9" fill="#9fa2a7" opacity="0.64"/>
<circle cx="299.4" cy="59.1" r="2.2" fill="#9fa2a7" opacity="0.63"/>
<circle cx="313.3" cy="64.8" r="2.6" fill="#9fa2a7" opacity="0.80"/>
<circle cx="321.6" cy="61.5" r="2.9" fill="#9fa2a7" opacity="0.60"/>
<circle cx="333.4" cy="59.3" r="2.7" fill="#9fa2a7" opacity="0.86"/>
<circle cx="343.8" cy="65.3" r="2.0" fill="#9fa2a7" opacity="0.73"/>
<circle cx="354.3" cy="65.2" r="2.7" fill="#9fa2a7" opacity="0.75"/>
<circle cx="223.4" cy="73.0" r="2.1" fill="#9fa2a7" opacity="0.56"/>
<circle cx="230.2" cy="68.4" r="2.7" fill="#9fa2a7" opacity="0.75"/>
<circle cx="242.1" cy="72.9" r="2.4" fill="#9fa2a7" opacity="0.55"/>
<circle cx="252.7" cy="71.5" r="2.4" fill="#9fa2a7" opacity="0.78"/>
<circle cx="267.7" cy="68.2" r="2.2" fill="#9fa2a7" opacity="0.81"/>
<circle cx="281.5" cy="75.2" r="2.4" fill="#9fa2a7" opacity="0.68"/>
<circle cx="290.6" cy="73.6" r="2.5" fill="#9fa2a7" opacity="0.77"/>
<circle cx="306.1" cy="73.4" r="2.2" fill="#9fa2a7" opacity="0.75"/>
<circle cx="338.5" cy="73.0" r="2.6" fill="#9fa2a7" opacity="0.65"/>
<circle cx="346.3" cy="71.2" r="2.0" fill="#9fa2a7" opacity="0.86"/>
<circle cx="360.3" cy="74.9" r="1.9" fill="#9fa2a7" opacity="0.71"/>
<circle cx="221.0" cy="79.7" r="2.2" fill="#9fa2a7" opacity="0.62"/>
<circle cx="224.1" cy="80.8" r="2.0" fill="#9fa2a7" opacity="0.73"/>
<circle cx="233.0" cy="82.6" r="2.4" fill="#9fa2a7" opacity="0.86"/>
<circle cx="243.5" cy="83.2" r="2.4" fill="#9fa2a7" opacity="0.56"/>
<circle cx="264.6" cy="78.6" r="2.0" fill="#9fa2a7" opacity="0.67"/>
<circle cx="277.5" cy="76.2" r="2.7" fill="#9fa2a7" opacity="0.84"/>
<circle cx="287.9" cy="81.8" r="2.8" fill="#9fa2a7" opacity="0.65"/>
<circle cx="292.9" cy="84.0" r="2.5" fill="#9fa2a7" opacity="0.68"/>
<circle cx="301.5" cy="76.6" r="2.0" fill="#9fa2a7" opacity="0.84"/>
<circle cx="316.8" cy="78.2" r="2.2" fill="#9fa2a7" opacity="0.73"/>
<circle cx="321.5" cy="83.7" r="2.8" fill="#9fa2a7" opacity="0.83"/>
<circle cx="335.8" cy="83.5" r="2.4" fill="#9fa2a7" opacity="0.80"/>
<circle cx="351.0" cy="82.1" r="2.5" fill="#9fa2a7" opacity="0.65"/>
<circle cx="228.2" cy="88.5" r="2.2" fill="#9fa2a7" opacity="0.65"/>
<circle cx="245.1" cy="86.9" r="2.6" fill="#9fa2a7" opacity="0.66"/>
<circle cx="249.7" cy="86.2" r="2.1" fill="#9fa2a7" opacity="0.62"/>
<circle cx="260.2" cy="86.6" r="2.8" fill="#9fa2a7" opacity="0.90"/>
<circle cx="266.7" cy="86.4" r="2.0" fill="#9fa2a7" opacity="0.67"/>
<circle cx="286.9" cy="89.3" r="2.8" fill="#9fa2a7" opacity="0.81"/>
<circle cx="297.9" cy="88.9" r="2.3" fill="#9fa2a7" opacity="0.67"/>
<circle cx="321.8" cy="85.9" r="2.4" fill="#9fa2a7" opacity="0.77"/>
<circle cx="324.9" cy="87.0" r="2.1" fill="#9fa2a7" opacity="0.69"/>
<circle cx="340.9" cy="91.5" r="2.8" fill="#9fa2a7" opacity="0.56"/>
<circle cx="359.6" cy="88.6" r="2.5" fill="#9fa2a7" opacity="0.55"/>
<circle cx="220.7" cy="99.9" r="2.8" fill="#9fa2a7" opacity="0.89"/>
<circle cx="223.2" cy="94.7" r="2.4" fill="#9fa2a7" opacity="0.79"/>
<circle cx="238.1" cy="98.5" r="2.7" fill="#9fa2a7" opacity="0.71"/>
<circle cx="241.8" cy="99.6" r="2.1" fill="#9fa2a7" opacity="0.87"/>
<circle cx="253.7" cy="94.5" r="2.2" fill="#9fa2a7" opacity="0.77"/>
<circle cx="261.6" cy="94.1" r="2.4" fill="#9fa2a7" opacity="0.75"/>
<circle cx="272.2" cy="98.2" r="1.9" fill="#9fa2a7" opacity="0.66"/>
<circle cx="288.2" cy="98.5" r="2.8" fill="#9fa2a7" opacity="0.72"/>
<circle cx="291.6" cy="101.0" r="2.6" fill="#9fa2a7" opacity="0.66"/>
<circle cx="314.5" cy="96.8" r="2.2" fill="#9fa2a7" opacity="0.78"/>
<circle cx="320.2" cy="93.8" r="2.2" fill="#9fa2a7" opacity="0.70"/>
<circle cx="329.6" cy="99.7" r="2.6" fill="#9fa2a7" opacity="0.73"/>
<circle cx="345.9" cy="95.9" r="2.7" fill="#9fa2a7" opacity="0.63"/>
<circle cx="353.7" cy="95.8" r="2.9" fill="#9fa2a7" opacity="0.72"/>
<circle cx="219.4" cy="105.4" r="2.6" fill="#9fa2a7" opacity="0.88"/>
<circle cx="230.5" cy="103.8" r="2.9" fill="#9fa2a7" opacity="0.60"/>
<circle cx="263.6" cy="109.0" r="2.6" fill="#9fa2a7" opacity="0.90"/>
<circle cx="268.3" cy="103.6" r="2.8" fill="#9fa2a7" opacity="0.81"/>
<circle cx="288.0" cy="105.1" r="2.2" fill="#9fa2a7" opacity="0.61"/>
<circle cx="306.9" cy="109.6" r="2.0" fill="#9fa2a7" opacity="0.89"/>
<circle cx="316.6" cy="108.5" r="2.7" fill="#9fa2a7" opacity="0.70"/>
<circle cx="335.9" cy="109.3" r="2.1" fill="#9fa2a7" opacity="0.68"/>
<circle cx="342.5" cy="105.3" r="2.7" fill="#9fa2a7" opacity="0.82"/>
<circle cx="234.1" cy="116.6" r="2.8" fill="#9fa2a7" opacity="0.67"/>
<circle cx="249.8" cy="115.6" r="2.2" fill="#9fa2a7" opacity="0.80"/>
<circle cx="253.5" cy="110.8" r="2.7" fill="#9fa2a7" opacity="0.87"/>
<circle cx="268.8" cy="111.0" r="2.1" fill="#9fa2a7" opacity="0.72"/>
<circle cx="278.5" cy="113.8" r="2.2" fill="#9fa2a7" opacity="0.70"/>
<circle cx="287.9" cy="112.2" r="2.7" fill="#9fa2a7" opacity="0.81"/>
<circle cx="296.2" cy="115.5" r="2.2" fill="#9fa2a7" opacity="0.66"/>
<circle cx="305.8" cy="111.4" r="2.1" fill="#9fa2a7" opacity="0.81"/>
<circle cx="309.2" cy="111.1" r="2.5" fill="#9fa2a7" opacity="0.66"/>
<circle cx="325.9" cy="118.5" r="2.2" fill="#9fa2a7" opacity="0.58"/>
<circle cx="343.6" cy="114.3" r="2.1" fill="#9fa2a7" opacity="0.70"/>
<circle cx="352.9" cy="116.6" r="2.7" fill="#9fa2a7" opacity="0.78"/>
<circle cx="224.7" cy="121.7" r="2.5" fill="#9fa2a7" opacity="0.68"/>
<circle cx="228.8" cy="121.4" r="2.1" fill="#9fa2a7" opacity="0.60"/>
<circle cx="241.7" cy="122.0" r="2.3" fill="#9fa2a7" opacity="0.90"/>
<circle cx="248.3" cy="125.7" r="2.6" fill="#9fa2a7" opacity="0.90"/>
<circle cx="272.6" cy="126.0" r="2.8" fill="#9fa2a7" opacity="0.56"/>
<circle cx="276.1" cy="120.9" r="2.9" fill="#9fa2a7" opacity="0.75"/>
<circle cx="287.9" cy="126.2" r="2.3" fill="#9fa2a7" opacity="0.64"/>
<circle cx="302.5" cy="120.3" r="2.5" fill="#9fa2a7" opacity="0.77"/>
<circle cx="307.1" cy="120.5" r="2.1" fill="#9fa2a7" opacity="0.64"/>
<circle cx="319.1" cy="121.0" r="1.9" fill="#9fa2a7" opacity="0.66"/>
<circle cx="324.7" cy="121.9" r="2.1" fill="#9fa2a7" opacity="0.83"/>
<circle cx="333.2" cy="120.2" r="2.3" fill="#9fa2a7" opacity="0.74"/>
<circle cx="343.1" cy="120.7" r="2.6" fill="#9fa2a7" opacity="0.69"/>
<circle cx="354.5" cy="126.8" r="2.2" fill="#9fa2a7" opacity="0.75"/>
<circle cx="216.3" cy="134.8" r="2.9" fill="#9fa2a7" opacity="0.68"/>
<circle cx="228.6" cy="129.7" r="1.9" fill="#9fa2a7" opacity="0.87"/>
<circle cx="239.0" cy="131.2" r="2.8" fill="#9fa2a7" opacity="0.71"/>
<circle cx="241.6" cy="132.4" r="2.5" fill="#9fa2a7" opacity="0.87"/>
<circle cx="263.9" cy="132.0" r="2.0" fill="#9fa2a7" opacity="0.65"/>
<circle cx="278.3" cy="128.9" r="2.4" fill="#9fa2a7" opacity="0.83"/>
<circle cx="281.6" cy="129.1" r="2.8" fill="#9fa2a7" opacity="0.89"/>
<circle cx="289.9" cy="135.3" r="2.3" fill="#9fa2a7" opacity="0.87"/>
<circle cx="306.2" cy="129.3" r="2.7" fill="#9fa2a7" opacity="0.63"/>
<circle cx="316.0" cy="134.5" r="2.1" fill="#9fa2a7" opacity="0.63"/>
<circle cx="322.8" cy="131.1" r="2.0" fill="#9fa2a7" opacity="0.64"/>
<circle cx="335.6" cy="128.4" r="2.5" fill="#9fa2a7" opacity="0.82"/>
<circle cx="348.1" cy="132.7" r="2.5" fill="#9fa2a7" opacity="0.77"/>
</g>
<rect x="217.00" y="11.00" width="131.00" height="130.00" fill="#777" filter="url(#nb2)"/>
<text x="331.50" y="131.40" font-size="4.6" text-anchor="middle" font-weight="normal" font-style="normal" fill="#fff" font-family='"Liberation Sans", sans-serif' >50 nm</text>
<line x1="324.00" y1="133.40" x2="338.50" y2="133.40" stroke="#fff" stroke-width="1.1" />
<text x="365.30" y="10.50" font-size="12" text-anchor="start" font-weight="bold" font-style="normal" fill="#231f20" font-family='"Liberation Sans", sans-serif' >c</text>
<line x1="398.70" y1="20.20" x2="398.70" y2="124.30" stroke="#231f20" stroke-width="1.4" />
<line x1="395.20" y1="123.60" x2="398.70" y2="123.60" stroke="#231f20" stroke-width="1.3" />
<text x="394.00" y="126.50" font-size="8.4" text-anchor="end" font-weight="bold" font-style="normal" fill="#231f20" font-family='"Liberation Serif", serif' >0</text>
<line x1="395.20" y1="89.20" x2="398.70" y2="89.20" stroke="#231f20" stroke-width="1.3" />
<text x="394.00" y="92.10" font-size="8.4" text-anchor="end" font-weight="bold" font-style="normal" fill="#231f20" font-family='"Liberation Serif", serif' >10</text>
<line x1="395.20" y1="54.80" x2="398.70" y2="54.80" stroke="#231f20" stroke-width="1.3" />
<text x="394.00" y="57.70" font-size="8.4" text-anchor="end" font-weight="bold" font-style="normal" fill="#231f20" font-family='"Liberation Serif", serif' >20</text>
<line x1="395.20" y1="20.40" x2="398.70" y2="20.40" stroke="#231f20" stroke-width="1.3" />
<text x="394.00" y="23.30" font-size="8.4" text-anchor="end" font-weight="bold" font-style="normal" fill="#231f20" font-family='"Liberation Serif", serif' >30</text>
<rect x="450.62" y="123.04" width="1.36" height="0.86" fill="#555" stroke="#000" stroke-width="0.6"/>
<rect x="453.52" y="101.54" width="1.36" height="22.36" fill="#555" stroke="#000" stroke-width="0.6"/>
<rect x="456.32" y="61.29" width="1.36" height="62.61" fill="#555" stroke="#000" stroke-width="0.6"/>
<rect x="459.32" y="40.31" width="1.36" height="83.59" fill="#555" stroke="#000" stroke-width="0.6"/>
<rect x="461.92" y="51.66" width="1.36" height="72.24" fill="#555" stroke="#000" stroke-width="0.6"/>
<rect x="464.52" y="75.74" width="1.36" height="48.16" fill="#555" stroke="#000" stroke-width="0.6"/>
<rect x="467.12" y="96.38" width="1.36" height="27.52" fill="#555" stroke="#000" stroke-width="0.6"/>
<rect x="469.62" y="110.14" width="1.36" height="13.76" fill="#555" stroke="#000" stroke-width="0.6"/>
<rect x="472.32" y="117.36" width="1.36" height="6.54" fill="#555" stroke="#000" stroke-width="0.6"/>
<rect x="474.92" y="121.15" width="1.36" height="2.75" fill="#555" stroke="#000" stroke-width="0.6"/>
<rect x="477.52" y="123.21" width="1.36" height="0.69" fill="#555" stroke="#000" stroke-width="0.6"/>
<line x1="398.00" y1="123.60" x2="520.30" y2="123.60" stroke="#231f20" stroke-width="1.4" />
<line x1="398.70" y1="123.60" x2="398.70" y2="126.20" stroke="#231f20" stroke-width="1.2" />
<line x1="410.85" y1="123.60" x2="410.85" y2="125.40" stroke="#231f20" stroke-width="0.9" />
<line x1="417.95" y1="123.60" x2="417.95" y2="125.40" stroke="#231f20" stroke-width="0.9" />
<line x1="422.99" y1="123.60" x2="422.99" y2="125.40" stroke="#231f20" stroke-width="0.9" />
<line x1="426.90" y1="123.60" x2="426.90" y2="125.40" stroke="#231f20" stroke-width="0.9" />
<line x1="430.10" y1="123.60" x2="430.10" y2="125.40" stroke="#231f20" stroke-width="0.9" />
<line x1="432.80" y1="123.60" x2="432.80" y2="125.40" stroke="#231f20" stroke-width="0.9" />
<line x1="435.14" y1="123.60" x2="435.14" y2="125.40" stroke="#231f20" stroke-width="0.9" />
<line x1="437.20" y1="123.60" x2="437.20" y2="125.40" stroke="#231f20" stroke-width="0.9" />
<line x1="439.05" y1="123.60" x2="439.05" y2="126.20" stroke="#231f20" stroke-width="1.2" />
<line x1="451.20" y1="123.60" x2="451.20" y2="125.40" stroke="#231f20" stroke-width="0.9" />
<line x1="458.30" y1="123.60" x2="458.30" y2="125.40" stroke="#231f20" stroke-width="0.9" />
<line x1="463.34" y1="123.60" x2="463.34" y2="125.40" stroke="#231f20" stroke-width="0.9" />
<line x1="467.25" y1="123.60" x2="467.25" y2="125.40" stroke="#231f20" stroke-width="0.9" />
<line x1="470.45" y1="123.60" x2="470.45" y2="125.40" stroke="#231f20" stroke-width="0.9" />
<line x1="473.15" y1="123.60" x2="473.15" y2="125.40" stroke="#231f20" stroke-width="0.9" />
<line x1="475.49" y1="123.60" x2="475.49" y2="125.40" stroke="#231f20" stroke-width="0.9" />
<line x1="477.55" y1="123.60" x2="477.55" y2="125.40" stroke="#231f20" stroke-width="0.9" />
<line x1="479.40" y1="123.60" x2="479.40" y2="126.20" stroke="#231f20" stroke-width="1.2" />
<line x1="491.55" y1="123.60" x2="491.55" y2="125.40" stroke="#231f20" stroke-width="0.9" />
<line x1="498.65" y1="123.60" x2="498.65" y2="125.40" stroke="#231f20" stroke-width="0.9" />
<line x1="503.69" y1="123.60" x2="503.69" y2="125.40" stroke="#231f20" stroke-width="0.9" />
<line x1="507.60" y1="123.60" x2="507.60" y2="125.40" stroke="#231f20" stroke-width="0.9" />
<line x1="510.80" y1="123.60" x2="510.80" y2="125.40" stroke="#231f20" stroke-width="0.9" />
<line x1="513.50" y1="123.60" x2="513.50" y2="125.40" stroke="#231f20" stroke-width="0.9" />
<line x1="515.84" y1="123.60" x2="515.84" y2="125.40" stroke="#231f20" stroke-width="0.9" />
<line x1="517.90" y1="123.60" x2="517.90" y2="125.40" stroke="#231f20" stroke-width="0.9" />
<line x1="519.75" y1="123.60" x2="519.75" y2="126.20" stroke="#231f20" stroke-width="1.2" />
<text x="398.70" y="136.80" font-size="8.4" text-anchor="middle" font-weight="bold" font-style="normal" fill="#231f20" font-family='"Liberation Serif", serif' >1</text>
<text x="439.05" y="136.80" font-size="8.4" text-anchor="middle" font-weight="bold" font-style="normal" fill="#231f20" font-family='"Liberation Serif", serif' >10</text>
<text x="479.40" y="136.80" font-size="8.4" text-anchor="middle" font-weight="bold" font-style="normal" fill="#231f20" font-family='"Liberation Serif", serif' >100</text>
<text x="519.75" y="136.80" font-size="8.4" text-anchor="middle" font-weight="bold" font-style="normal" fill="#231f20" font-family='"Liberation Serif", serif' >1000</text>
<text x="458.70" y="150.00" font-size="8.0" text-anchor="middle" font-weight="bold" font-style="normal" fill="#231f20" font-family='"Liberation Serif", serif' >Size (d.nm)</text>
<text x="381.50" y="72.00" font-size="8.0" text-anchor="middle" font-weight="bold" font-style="normal" fill="#231f20" font-family='"Liberation Serif", serif' transform="rotate(-90 381.5 72.0)" >Number (%)</text>
<text x="535.30" y="13.00" font-size="12" text-anchor="start" font-weight="bold" font-style="normal" fill="#231f20" font-family='"Liberation Sans", sans-serif' >d</text>
<line x1="569.80" y1="29.00" x2="569.80" y2="123.80" stroke="#231f20" stroke-width="1.9" />
<line x1="565.80" y1="29.80" x2="569.80" y2="29.80" stroke="#231f20" stroke-width="1.6" />
<text x="565.00" y="32.60" font-size="7.8" text-anchor="end" font-weight="bold" font-style="normal" fill="#231f20" font-family='"Liberation Sans", sans-serif' >0</text>
<line x1="565.80" y1="53.10" x2="569.80" y2="53.10" stroke="#231f20" stroke-width="1.6" />
<text x="565.00" y="55.90" font-size="7.8" text-anchor="end" font-weight="bold" font-style="normal" fill="#231f20" font-family='"Liberation Sans", sans-serif' >-10</text>
<line x1="565.80" y1="76.40" x2="569.80" y2="76.40" stroke="#231f20" stroke-width="1.6" />
<text x="565.00" y="79.20" font-size="7.8" text-anchor="end" font-weight="bold" font-style="normal" fill="#231f20" font-family='"Liberation Sans", sans-serif' >-20</text>
<line x1="565.80" y1="99.70" x2="569.80" y2="99.70" stroke="#231f20" stroke-width="1.6" />
<text x="565.00" y="102.50" font-size="7.8" text-anchor="end" font-weight="bold" font-style="normal" fill="#231f20" font-family='"Liberation Sans", sans-serif' >-30</text>
<line x1="565.80" y1="123.00" x2="569.80" y2="123.00" stroke="#231f20" stroke-width="1.6" />
<text x="565.00" y="125.80" font-size="7.8" text-anchor="end" font-weight="bold" font-style="normal" fill="#231f20" font-family='"Liberation Sans", sans-serif' >-40</text>
<line x1="569.80" y1="29.80" x2="656.60" y2="29.80" stroke="#231f20" stroke-width="1.9" />
<rect x="596.4" y="29.80" width="32.1" height="75.96" fill="#fff" stroke="#111" stroke-width="1.7"/>
<line x1="612.40" y1="103.19" x2="612.40" y2="109.49" stroke="#231f20" stroke-width="1.5" />
<line x1="604.20" y1="103.19" x2="620.60" y2="103.19" stroke="#231f20" stroke-width="1.5" />
<line x1="604.20" y1="109.49" x2="620.60" y2="109.49" stroke="#231f20" stroke-width="1.5" />
<circle cx="610.90" cy="102.50" r="1.0" fill="none" stroke="#111" stroke-width="0.6"/>
<circle cx="613.20" cy="105.06" r="1.0" fill="none" stroke="#111" stroke-width="0.6"/>
<circle cx="611.40" cy="107.86" r="1.0" fill="none" stroke="#111" stroke-width="0.6"/>
<circle cx="613.80" cy="106.69" r="1.0" fill="none" stroke="#111" stroke-width="0.6"/>
<text x="550.20" y="76.20" font-size="8.0" text-anchor="middle" font-weight="bold" font-style="normal" fill="#231f20" font-family='"Liberation Serif", serif' transform="rotate(-90 550.2 76.2)" >Zeta potential (mV)</text>
<rect x="15.00" y="186.20" width="143.00" height="142.60" fill="#8f9195" filter="url(#ne)"/>
<rect x="159.30" y="186.20" width="143.60" height="142.60" fill="#8f9195" filter="url(#nf)"/>
<rect x="15.00" y="186.20" width="143.00" height="142.60" fill="#888" filter="url(#mott)"/>
<rect x="159.30" y="186.20" width="143.60" height="142.60" fill="#888" filter="url(#mott2)"/>
<g clip-path="url(#ce)"><rect x="-25" y="146.2" width="223" height="222.6" fill="#888" filter="url(#nstr)" transform="rotate(-35 86.5 257.5)"/></g>
<g clip-path="url(#cf)"><rect x="119.30000000000001" y="146.2" width="223.6" height="222.6" fill="#888" filter="url(#nstr2)" transform="rotate(-35 231.10000000000002 257.5)"/></g>
<rect x="15.00" y="186.20" width="143.00" height="142.60" fill="url(#gshade)" />
<rect x="159.30" y="186.20" width="143.60" height="142.60" fill="url(#gshade)" />
<g clip-path="url(#ce)"><g filter="url(#blur08)">
<ellipse cx="58.8" cy="246.1" rx="1.3" ry="1.0" fill="#3e4146" opacity="0.59" transform="rotate(119 58.8 246.1)"/>
<ellipse cx="78.9" cy="248.7" rx="0.7" ry="0.5" fill="#3e4146" opacity="0.69" transform="rotate(88 78.9 248.7)"/>
<ellipse cx="48.6" cy="295.1" rx="1.8" ry="1.4" fill="#3e4146" opacity="0.61" transform="rotate(32 48.6 295.1)"/>
<ellipse cx="82.7" cy="201.5" rx="0.7" ry="0.5" fill="#3e4146" opacity="0.59" transform="rotate(17 82.7 201.5)"/>
<ellipse cx="78.2" cy="258.9" rx="0.7" ry="0.5" fill="#3e4146" opacity="0.70" transform="rotate(15 78.2 258.9)"/>
<ellipse cx="119.9" cy="297.1" rx="1.1" ry="0.9" fill="#3e4146" opacity="0.39" transform="rotate(91 119.9 297.1)"/>
<ellipse cx="69.0" cy="321.8" rx="0.7" ry="0.5" fill="#3e4146" opacity="0.82" transform="rotate(179 69.0 321.8)"/>
<ellipse cx="119.7" cy="302.4" rx="0.7" ry="0.6" fill="#3e4146" opacity="0.89" transform="rotate(89 119.7 302.4)"/>
<ellipse cx="151.8" cy="316.8" rx="0.7" ry="0.5" fill="#3e4146" opacity="0.79" transform="rotate(168 151.8 316.8)"/>
<ellipse cx="24.4" cy="236.2" rx="1.7" ry="1.3" fill="#3e4146" opacity="0.45" transform="rotate(161 24.4 236.2)"/>
<ellipse cx="54.3" cy="302.5" rx="0.7" ry="0.5" fill="#3e4146" opacity="0.63" transform="rotate(166 54.3 302.5)"/>
<ellipse cx="44.8" cy="223.7" rx="1.1" ry="0.9" fill="#3e4146" opacity="0.53" transform="rotate(7 44.8 223.7)"/>
<ellipse cx="41.0" cy="209.2" rx="2.2" ry="1.7" fill="#3e4146" opacity="0.73" transform="rotate(161 41.0 209.2)"/>
<ellipse cx="39.1" cy="298.1" rx="0.7" ry="0.5" fill="#3e4146" opacity="0.65" transform="rotate(115 39.1 298.1)"/>
<ellipse cx="66.4" cy="310.7" rx="1.2" ry="0.9" fill="#3e4146" opacity="0.67" transform="rotate(159 66.4 310.7)"/>
<ellipse cx="30.0" cy="327.8" rx="1.4" ry="1.1" fill="#3e4146" opacity="0.57" transform="rotate(144 30.0 327.8)"/>
<ellipse cx="52.9" cy="327.4" rx="1.3" ry="1.0" fill="#3e4146" opacity="0.55" transform="rotate(138 52.9 327.4)"/>
<ellipse cx="78.2" cy="211.4" rx="1.7" ry="1.3" fill="#3e4146" opacity="0.39" transform="rotate(148 78.2 211.4)"/>
<ellipse cx="51.3" cy="277.4" rx="2.4" ry="1.9" fill="#3e4146" opacity="0.68" transform="rotate(119 51.3 277.4)"/>
<ellipse cx="59.7" cy="186.5" rx="0.7" ry="0.5" fill="#3e4146" opacity="0.44" transform="rotate(111 59.7 186.5)"/>
<ellipse cx="76.8" cy="259.3" rx="2.1" ry="1.6" fill="#3e4146" opacity="0.43" transform="rotate(41 76.8 259.3)"/>
<ellipse cx="108.4" cy="189.4" rx="0.7" ry="0.5" fill="#3e4146" opacity="0.55" transform="rotate(19 108.4 189.4)"/>
<ellipse cx="66.1" cy="218.2" rx="1.3" ry="1.0" fill="#3e4146" opacity="0.68" transform="rotate(37 66.1 218.2)"/>
<ellipse cx="104.2" cy="253.9" rx="0.7" ry="0.5" fill="#3e4146" opacity="0.87" transform="rotate(44 104.2 253.9)"/>
<ellipse cx="36.4" cy="199.9" rx="1.4" ry="1.1" fill="#3e4146" opacity="0.83" transform="rotate(141 36.4 199.9)"/>
<ellipse cx="72.5" cy="223.9" rx="0.7" ry="0.5" fill="#3e4146" opacity="0.71" transform="rotate(101 72.5 223.9)"/>
<ellipse cx="65.1" cy="278.3" rx="1.0" ry="0.8" fill="#3e4146" opacity="0.87" transform="rotate(132 65.1 278.3)"/>
<ellipse cx="50.5" cy="315.0" rx="0.7" ry="0.5" fill="#3e4146" opacity="0.65" transform="rotate(73 50.5 315.0)"/>
<ellipse cx="49.0" cy="194.5" rx="1.8" ry="1.3" fill="#3e4146" opacity="0.37" transform="rotate(99 49.0 194.5)"/>
<ellipse cx="149.6" cy="206.5" rx="0.7" ry="0.6" fill="#3e4146" opacity="0.69" transform="rotate(91 149.6 206.5)"/>
<ellipse cx="106.7" cy="302.2" rx="0.7" ry="0.5" fill="#3e4146" opacity="0.53" transform="rotate(54 106.7 302.2)"/>
<ellipse cx="21.9" cy="313.0" rx="1.8" ry="1.4" fill="#3e4146" opacity="0.75" transform="rotate(1 21.9 313.0)"/>
<ellipse cx="135.8" cy="292.5" rx="1.0" ry="0.8" fill="#3e4146" opacity="0.76" transform="rotate(81 135.8 292.5)"/>
<ellipse cx="47.3" cy="201.2" rx="0.7" ry="0.6" fill="#3e4146" opacity="0.38" transform="rotate(60 47.3 201.2)"/>
<ellipse cx="122.2" cy="285.3" rx="2.0" ry="1.5" fill="#3e4146" opacity="0.74" transform="rotate(48 122.2 285.3)"/>
<ellipse cx="94.2" cy="248.4" rx="1.8" ry="1.4" fill="#3e4146" opacity="0.64" transform="rotate(48 94.2 248.4)"/>
<ellipse cx="106.8" cy="323.8" rx="0.7" ry="0.6" fill="#3e4146" opacity="0.84" transform="rotate(3 106.8 323.8)"/>
<ellipse cx="52.2" cy="219.9" rx="1.7" ry="1.3" fill="#3e4146" opacity="0.87" transform="rotate(134 52.2 219.9)"/>
<ellipse cx="61.7" cy="311.7" rx="0.8" ry="0.7" fill="#3e4146" opacity="0.49" transform="rotate(163 61.7 311.7)"/>
<ellipse cx="105.2" cy="285.0" rx="1.5" ry="1.1" fill="#3e4146" opacity="0.89" transform="rotate(85 105.2 285.0)"/>
<ellipse cx="135.1" cy="285.7" rx="2.0" ry="1.5" fill="#3e4146" opacity="0.60" transform="rotate(130 135.1 285.7)"/>
<ellipse cx="96.6" cy="230.1" rx="0.7" ry="0.6" fill="#3e4146" opacity="0.70" transform="rotate(14 96.6 230.1)"/>
<ellipse cx="145.2" cy="206.8" rx="0.7" ry="0.5" fill="#3e4146" opacity="0.42" transform="rotate(167 145.2 206.8)"/>
<ellipse cx="64.3" cy="206.4" rx="0.7" ry="0.5" fill="#3e4146" opacity="0.38" transform="rotate(125 64.3 206.4)"/>
<ellipse cx="105.6" cy="285.6" rx="1.6" ry="1.3" fill="#3e4146" opacity="0.40" transform="rotate(106 105.6 285.6)"/>
<ellipse cx="67.0" cy="302.8" rx="1.9" ry="1.4" fill="#3e4146" opacity="0.84" transform="rotate(12 67.0 302.8)"/>
<ellipse cx="139.1" cy="316.6" rx="2.3" ry="1.7" fill="#3e4146" opacity="0.42" transform="rotate(37 139.1 316.6)"/>
<ellipse cx="31.0" cy="191.1" rx="2.0" ry="1.5" fill="#3e4146" opacity="0.80" transform="rotate(114 31.0 191.1)"/>
<ellipse cx="133.0" cy="276.3" rx="0.8" ry="0.6" fill="#3e4146" opacity="0.41" transform="rotate(18 133.0 276.3)"/>
<ellipse cx="123.3" cy="215.4" rx="0.8" ry="0.6" fill="#3e4146" opacity="0.59" transform="rotate(4 123.3 215.4)"/>
<ellipse cx="51.7" cy="226.5" rx="1.6" ry="1.2" fill="#3e4146" opacity="0.56" transform="rotate(58 51.7 226.5)"/>
<ellipse cx="152.9" cy="258.0" rx="2.0" ry="1.5" fill="#3e4146" opacity="0.69" transform="rotate(6 152.9 258.0)"/>
<ellipse cx="74.0" cy="248.4" rx="1.7" ry="1.3" fill="#3e4146" opacity="0.55" transform="rotate(127 74.0 248.4)"/>
<ellipse cx="91.9" cy="217.1" rx="2.0" ry="1.5" fill="#3e4146" opacity="0.41" transform="rotate(148 91.9 217.1)"/>
<ellipse cx="39.4" cy="186.4" rx="0.7" ry="0.6" fill="#3e4146" opacity="0.77" transform="rotate(176 39.4 186.4)"/>
<ellipse cx="15.6" cy="256.2" rx="1.1" ry="0.8" fill="#3e4146" opacity="0.79" transform="rotate(33 15.6 256.2)"/>
<ellipse cx="85.7" cy="235.7" rx="1.9" ry="1.5" fill="#3e4146" opacity="0.50" transform="rotate(170 85.7 235.7)"/>
<ellipse cx="55.6" cy="216.8" rx="1.5" ry="1.2" fill="#3e4146" opacity="0.63" transform="rotate(20 55.6 216.8)"/>
<ellipse cx="106.0" cy="197.7" rx="1.8" ry="1.4" fill="#3e4146" opacity="0.74" transform="rotate(142 106.0 197.7)"/>
<ellipse cx="104.8" cy="236.9" rx="0.9" ry="0.7" fill="#3e4146" opacity="0.57" transform="rotate(160 104.8 236.9)"/>
<ellipse cx="27.3" cy="312.9" rx="0.7" ry="0.5" fill="#3e4146" opacity="0.47" transform="rotate(47 27.3 312.9)"/>
<ellipse cx="143.9" cy="257.7" rx="0.9" ry="0.7" fill="#3e4146" opacity="0.84" transform="rotate(42 143.9 257.7)"/>
<ellipse cx="80.9" cy="262.0" rx="1.7" ry="1.3" fill="#3e4146" opacity="0.77" transform="rotate(116 80.9 262.0)"/>
<ellipse cx="64.8" cy="232.8" rx="0.7" ry="0.5" fill="#3e4146" opacity="0.82" transform="rotate(119 64.8 232.8)"/>
<ellipse cx="121.1" cy="210.4" rx="1.0" ry="0.8" fill="#3e4146" opacity="0.78" transform="rotate(104 121.1 210.4)"/>
<ellipse cx="33.0" cy="252.1" rx="2.1" ry="1.6" fill="#3e4146" opacity="0.49" transform="rotate(34 33.0 252.1)"/>
<ellipse cx="58.1" cy="286.5" rx="1.9" ry="1.5" fill="#3e4146" opacity="0.44" transform="rotate(28 58.1 286.5)"/>
<ellipse cx="50.4" cy="232.8" rx="1.1" ry="0.9" fill="#3e4146" opacity="0.45" transform="rotate(59 50.4 232.8)"/>
<ellipse cx="42.1" cy="325.3" rx="1.6" ry="1.2" fill="#3e4146" opacity="0.41" transform="rotate(173 42.1 325.3)"/>
<ellipse cx="29.5" cy="241.0" rx="2.4" ry="1.9" fill="#3e4146" opacity="0.79" transform="rotate(132 29.5 241.0)"/>
<ellipse cx="77.2" cy="214.2" rx="1.4" ry="1.1" fill="#3e4146" opacity="0.42" transform="rotate(37 77.2 214.2)"/>
<ellipse cx="70.5" cy="191.0" rx="0.9" ry="0.7" fill="#3e4146" opacity="0.79" transform="rotate(125 70.5 191.0)"/>
<ellipse cx="86.6" cy="276.4" rx="1.0" ry="0.8" fill="#3e4146" opacity="0.44" transform="rotate(109 86.6 276.4)"/>
<ellipse cx="72.9" cy="291.9" rx="2.2" ry="1.7" fill="#3e4146" opacity="0.59" transform="rotate(103 72.9 291.9)"/>
<ellipse cx="122.1" cy="246.3" rx="0.7" ry="0.6" fill="#3e4146" opacity="0.75" transform="rotate(158 122.1 246.3)"/>
<ellipse cx="125.7" cy="286.0" rx="2.0" ry="1.5" fill="#3e4146" opacity="0.73" transform="rotate(115 125.7 286.0)"/>
<ellipse cx="79.9" cy="230.8" rx="1.4" ry="1.1" fill="#3e4146" opacity="0.41" transform="rotate(76 79.9 230.8)"/>
<ellipse cx="126.9" cy="287.9" rx="1.4" ry="1.1" fill="#3e4146" opacity="0.50" transform="rotate(76 126.9 287.9)"/>
<ellipse cx="80.1" cy="274.8" rx="1.0" ry="0.7" fill="#3e4146" opacity="0.72" transform="rotate(167 80.1 274.8)"/>
<ellipse cx="41.2" cy="279.5" rx="1.8" ry="1.3" fill="#3e4146" opacity="0.57" transform="rotate(88 41.2 279.5)"/>
<ellipse cx="154.4" cy="191.6" rx="1.2" ry="0.9" fill="#3e4146" opacity="0.45" transform="rotate(141 154.4 191.6)"/>
<ellipse cx="149.5" cy="260.2" rx="0.7" ry="0.5" fill="#3e4146" opacity="0.67" transform="rotate(97 149.5 260.2)"/>
<ellipse cx="117.6" cy="259.2" rx="1.4" ry="1.1" fill="#3e4146" opacity="0.81" transform="rotate(94 117.6 259.2)"/>
<ellipse cx="73.7" cy="321.4" rx="0.7" ry="0.6" fill="#3e4146" opacity="0.73" transform="rotate(71 73.7 321.4)"/>
<ellipse cx="124.1" cy="203.7" rx="2.4" ry="1.9" fill="#3e4146" opacity="0.55" transform="rotate(10 124.1 203.7)"/>
<ellipse cx="54.2" cy="243.2" rx="0.7" ry="0.5" fill="#3e4146" opacity="0.59" transform="rotate(76 54.2 243.2)"/>
<ellipse cx="114.9" cy="236.4" rx="0.8" ry="0.6" fill="#3e4146" opacity="0.48" transform="rotate(133 114.9 236.4)"/>
<ellipse cx="149.4" cy="261.4" rx="0.7" ry="0.6" fill="#3e4146" opacity="0.79" transform="rotate(71 149.4 261.4)"/>
<ellipse cx="45.3" cy="204.6" rx="1.7" ry="1.3" fill="#3e4146" opacity="0.80" transform="rotate(114 45.3 204.6)"/>
<ellipse cx="82.1" cy="266.3" rx="0.7" ry="0.6" fill="#3e4146" opacity="0.88" transform="rotate(64 82.1 266.3)"/>
<ellipse cx="106.3" cy="303.0" rx="3.0" ry="2.5" fill="none" stroke="#55585d" stroke-width="0.7" opacity="0.59"/>
<ellipse cx="57.1" cy="264.4" rx="1.7" ry="1.4" fill="none" stroke="#55585d" stroke-width="0.7" opacity="0.73"/>
<ellipse cx="65.7" cy="307.5" rx="2.0" ry="1.6" fill="none" stroke="#55585d" stroke-width="0.7" opacity="0.55"/>
<ellipse cx="51.3" cy="247.0" rx="1.8" ry="1.5" fill="none" stroke="#55585d" stroke-width="0.7" opacity="0.40"/>
<ellipse cx="118.2" cy="226.3" rx="1.9" ry="1.6" fill="none" stroke="#55585d" stroke-width="0.7" opacity="0.52"/>
<ellipse cx="83.6" cy="247.3" rx="2.7" ry="2.2" fill="none" stroke="#55585d" stroke-width="0.7" opacity="0.66"/>
<ellipse cx="66.8" cy="318.6" rx="3.1" ry="2.6" fill="none" stroke="#55585d" stroke-width="0.7" opacity="0.42"/>
<ellipse cx="133.4" cy="315.4" rx="2.9" ry="2.5" fill="none" stroke="#55585d" stroke-width="0.7" opacity="0.46"/>
<ellipse cx="133.9" cy="276.5" rx="1.5" ry="1.2" fill="none" stroke="#55585d" stroke-width="0.7" opacity="0.40"/>
<ellipse cx="151.1" cy="279.7" rx="1.9" ry="1.6" fill="none" stroke="#55585d" stroke-width="0.7" opacity="0.44"/>
<ellipse cx="35.4" cy="219.5" rx="2.9" ry="2.4" fill="none" stroke="#55585d" stroke-width="0.7" opacity="0.54"/>
<ellipse cx="36.8" cy="315.1" rx="3.0" ry="2.5" fill="none" stroke="#55585d" stroke-width="0.7" opacity="0.47"/>
<ellipse cx="142.4" cy="273.0" rx="2.9" ry="2.5" fill="none" stroke="#55585d" stroke-width="0.7" opacity="0.67"/>
<ellipse cx="142.8" cy="298.6" rx="3.1" ry="2.5" fill="none" stroke="#55585d" stroke-width="0.7" opacity="0.48"/>
<ellipse cx="114.1" cy="261.9" rx="2.9" ry="2.4" fill="none" stroke="#55585d" stroke-width="0.7" opacity="0.58"/>
<ellipse cx="141.2" cy="265.4" rx="1.9" ry="1.6" fill="none" stroke="#55585d" stroke-width="0.7" opacity="0.49"/>
<ellipse cx="34.9" cy="256.5" rx="1.6" ry="1.3" fill="none" stroke="#55585d" stroke-width="0.7" opacity="0.59"/>
<ellipse cx="35.7" cy="256.3" rx="2.4" ry="2.0" fill="none" stroke="#55585d" stroke-width="0.7" opacity="0.62"/>
<ellipse cx="138.4" cy="187.1" rx="3.1" ry="2.5" fill="none" stroke="#55585d" stroke-width="0.7" opacity="0.59"/>
<ellipse cx="95.4" cy="281.1" rx="3.1" ry="2.5" fill="none" stroke="#55585d" stroke-width="0.7" opacity="0.55"/>
<ellipse cx="74.9" cy="323.2" rx="1.6" ry="1.3" fill="none" stroke="#55585d" stroke-width="0.7" opacity="0.65"/>
<ellipse cx="106.0" cy="190.3" rx="2.6" ry="2.2" fill="none" stroke="#55585d" stroke-width="0.7" opacity="0.67"/>
<ellipse cx="148.2" cy="233.3" rx="3.3" ry="2.8" fill="none" stroke="#55585d" stroke-width="0.7" opacity="0.60"/>
<ellipse cx="84.3" cy="314.2" rx="1.5" ry="1.3" fill="none" stroke="#55585d" stroke-width="0.7" opacity="0.69"/>
<ellipse cx="104.4" cy="234.5" rx="3.1" ry="2.6" fill="none" stroke="#55585d" stroke-width="0.7" opacity="0.55"/>
<ellipse cx="82.9" cy="261.1" rx="2.9" ry="2.4" fill="none" stroke="#55585d" stroke-width="0.7" opacity="0.48"/>
<ellipse cx="77.2" cy="246.4" rx="2.5" ry="2.1" fill="none" stroke="#55585d" stroke-width="0.7" opacity="0.73"/>
<ellipse cx="56.9" cy="304.2" rx="2.2" ry="1.8" fill="none" stroke="#55585d" stroke-width="0.7" opacity="0.60"/>
<ellipse cx="53.9" cy="258.4" rx="3.3" ry="2.8" fill="none" stroke="#55585d" stroke-width="0.7" opacity="0.66"/>
<ellipse cx="128.2" cy="233.4" rx="2.0" ry="1.7" fill="none" stroke="#55585d" stroke-width="0.7" opacity="0.52"/>
<ellipse cx="98.9" cy="276.7" rx="2.9" ry="2.5" fill="none" stroke="#55585d" stroke-width="0.7" opacity="0.42"/>
<ellipse cx="118.3" cy="312.5" rx="2.5" ry="2.1" fill="none" stroke="#55585d" stroke-width="0.7" opacity="0.42"/>
<ellipse cx="58.0" cy="187.1" rx="1.8" ry="1.5" fill="none" stroke="#55585d" stroke-width="0.7" opacity="0.77"/>
<ellipse cx="102.0" cy="280.0" rx="3.0" ry="2.5" fill="none" stroke="#55585d" stroke-width="0.7" opacity="0.76"/>
<ellipse cx="102.5" cy="274.1" rx="2.6" ry="2.2" fill="none" stroke="#55585d" stroke-width="0.7" opacity="0.68"/>
<ellipse cx="100.3" cy="283.3" rx="1.8" ry="1.5" fill="none" stroke="#55585d" stroke-width="0.7" opacity="0.67"/>
<ellipse cx="80.5" cy="295.0" rx="1.6" ry="1.4" fill="none" stroke="#55585d" stroke-width="0.7" opacity="0.47"/>
<ellipse cx="20.3" cy="296.6" rx="3.2" ry="2.7" fill="none" stroke="#55585d" stroke-width="0.7" opacity="0.66"/>
<ellipse cx="67.7" cy="303.5" rx="3.0" ry="2.5" fill="none" stroke="#55585d" stroke-width="0.7" opacity="0.62"/>
<ellipse cx="51.9" cy="229.3" rx="2.2" ry="1.9" fill="none" stroke="#55585d" stroke-width="0.7" opacity="0.53"/>
<ellipse cx="76.6" cy="277.7" rx="3.2" ry="2.7" fill="none" stroke="#55585d" stroke-width="0.7" opacity="0.42"/>
<ellipse cx="96.2" cy="191.8" rx="1.7" ry="1.4" fill="none" stroke="#55585d" stroke-width="0.7" opacity="0.72"/>
<ellipse cx="97.3" cy="317.2" rx="2.3" ry="1.9" fill="none" stroke="#55585d" stroke-width="0.7" opacity="0.41"/>
<ellipse cx="70.4" cy="270.6" rx="3.2" ry="2.7" fill="none" stroke="#55585d" stroke-width="0.7" opacity="0.79"/>
<ellipse cx="83.0" cy="245.0" rx="1.6" ry="1.4" fill="none" stroke="#55585d" stroke-width="0.7" opacity="0.66"/>
<ellipse cx="45.4" cy="207.8" rx="1.5" ry="1.2" fill="none" stroke="#55585d" stroke-width="0.7" opacity="0.40"/>
<ellipse cx="112.8" cy="203.6" rx="3.3" ry="2.7" fill="none" stroke="#55585d" stroke-width="0.7" opacity="0.44"/>
<ellipse cx="139.3" cy="204.6" rx="1.5" ry="1.2" fill="none" stroke="#55585d" stroke-width="0.7" opacity="0.69"/>
<ellipse cx="49.6" cy="290.8" rx="1.8" ry="1.5" fill="none" stroke="#55585d" stroke-width="0.7" opacity="0.42"/>
<ellipse cx="125.7" cy="288.0" rx="3.1" ry="2.6" fill="none" stroke="#55585d" stroke-width="0.7" opacity="0.69"/>
<ellipse cx="27.1" cy="275.8" rx="2.8" ry="2.3" fill="none" stroke="#55585d" stroke-width="0.7" opacity="0.58"/>
<ellipse cx="148.3" cy="222.4" rx="3.3" ry="2.7" fill="none" stroke="#55585d" stroke-width="0.7" opacity="0.69"/>
<ellipse cx="16.6" cy="188.3" rx="2.7" ry="2.2" fill="none" stroke="#55585d" stroke-width="0.7" opacity="0.73"/>
<ellipse cx="26.4" cy="230.6" rx="2.8" ry="2.4" fill="none" stroke="#55585d" stroke-width="0.7" opacity="0.47"/>
<ellipse cx="138.1" cy="255.6" rx="1.6" ry="1.3" fill="none" stroke="#55585d" stroke-width="0.7" opacity="0.55"/>
<ellipse cx="97.2" cy="248.8" rx="2.7" ry="2.3" fill="none" stroke="#55585d" stroke-width="0.7" opacity="0.46"/>
<ellipse cx="129.0" cy="238.0" rx="2.7" ry="2.2" fill="none" stroke="#55585d" stroke-width="0.7" opacity="0.65"/>
<ellipse cx="74.8" cy="241.2" rx="2.9" ry="2.5" fill="none" stroke="#55585d" stroke-width="0.7" opacity="0.78"/>
<ellipse cx="127.2" cy="267.0" rx="2.0" ry="1.7" fill="none" stroke="#55585d" stroke-width="0.7" opacity="0.42"/>
<ellipse cx="154.3" cy="286.5" rx="3.0" ry="2.5" fill="none" stroke="#55585d" stroke-width="0.7" opacity="0.53"/>
<ellipse cx="28.6" cy="208.1" rx="3.0" ry="2.2" fill="#3c3f44" opacity="0.7" transform="rotate(109 28.6 208.1)"/>
<ellipse cx="113.1" cy="212.3" rx="3.5" ry="2.6" fill="#3c3f44" opacity="0.7" transform="rotate(176 113.1 212.3)"/>
<ellipse cx="146.5" cy="208.1" rx="3.0" ry="2.2" fill="#3c3f44" opacity="0.7" transform="rotate(150 146.5 208.1)"/>
<ellipse cx="122.5" cy="231.1" rx="2.4" ry="1.8" fill="#3c3f44" opacity="0.7" transform="rotate(108 122.5 231.1)"/>
<ellipse cx="38.0" cy="240.5" rx="2.4" ry="1.8" fill="#3c3f44" opacity="0.7" transform="rotate(56 38.0 240.5)"/>
<ellipse cx="131.9" cy="248.8" rx="2.7" ry="2.0" fill="#3c3f44" opacity="0.7" transform="rotate(77 131.9 248.8)"/>
<ellipse cx="83.9" cy="313.5" rx="2.7" ry="2.0" fill="#3c3f44" opacity="0.7" transform="rotate(160 83.9 313.5)"/>
<ellipse cx="115.2" cy="302.1" rx="2.7" ry="2.0" fill="#3c3f44" opacity="0.7" transform="rotate(68 115.2 302.1)"/>
<ellipse cx="40.1" cy="294.8" rx="2.4" ry="1.8" fill="#3c3f44" opacity="0.7" transform="rotate(123 40.1 294.8)"/>
<ellipse cx="48.4" cy="290.6" rx="2.2" ry="1.6" fill="#3c3f44" opacity="0.7" transform="rotate(108 48.4 290.6)"/>
<ellipse cx="147.6" cy="224.8" rx="2.4" ry="1.8" fill="#3c3f44" opacity="0.7" transform="rotate(161 147.6 224.8)"/>
<ellipse cx="23.4" cy="221.7" rx="2.0" ry="1.5" fill="#3c3f44" opacity="0.7" transform="rotate(145 23.4 221.7)"/>
<ellipse cx="70.3" cy="294.8" rx="2.2" ry="1.6" fill="#3c3f44" opacity="0.7" transform="rotate(51 70.3 294.8)"/>
<ellipse cx="77.6" cy="229.0" rx="1.9" ry="1.4" fill="#3c3f44" opacity="0.7" transform="rotate(0 77.6 229.0)"/>
<ellipse cx="94.3" cy="213.3" rx="2.4" ry="1.8" fill="#3c3f44" opacity="0.7" transform="rotate(47 94.3 213.3)"/>
<ellipse cx="139.2" cy="281.2" rx="4.1" ry="3.0" fill="#3c3f44" opacity="0.7" transform="rotate(76 139.2 281.2)"/>
<ellipse cx="59.9" cy="206.0" rx="2.2" ry="1.6" fill="#3c3f44" opacity="0.7" transform="rotate(106 59.9 206.0)"/>
<ellipse cx="29.6" cy="255.1" rx="2.0" ry="1.5" fill="#3c3f44" opacity="0.7" transform="rotate(147 29.6 255.1)"/>
<ellipse cx="106.9" cy="261.4" rx="1.9" ry="1.4" fill="#3c3f44" opacity="0.7" transform="rotate(160 106.9 261.4)"/>
<path d="M64.1,253.0 L67.2,262.4 L65.1,271.8" stroke="#3c3f44" stroke-width="2.6" fill="none" opacity="0.7"/>
</g>
<path d="M21.0 305.0Q22.0 302.4 22.6 301.2M136.7 301.3Q135.4 298.1 135.0 297.4M94.2 299.9Q96.0 300.9 95.3 303.5M101.8 282.8Q100.0 283.8 99.7 283.3M128.2 251.8Q130.7 252.0 131.5 253.8M97.9 314.1Q99.0 313.4 100.2 312.1M42.0 213.6Q42.4 215.5 43.6 216.9M72.6 260.0Q74.5 260.2 73.5 261.3M30.2 276.4Q30.7 275.0 30.6 274.5M89.3 189.1Q92.6 189.6 93.7 190.1M96.1 223.5Q97.7 222.9 96.6 220.8M132.1 323.6Q131.2 323.4 132.1 325.2M27.0 193.5Q24.9 194.1 23.1 192.0M145.1 195.4Q142.9 196.0 142.9 193.8M51.8 266.7Q50.9 264.7 49.0 263.3M79.1 209.0Q80.5 207.1 83.5 208.0M51.6 236.4Q54.3 233.8 55.0 234.0M127.5 287.4Q124.8 284.6 124.8 283.8M123.0 320.2Q122.7 319.9 121.9 318.0M30.1 232.4Q30.0 232.3 30.0 234.3M49.1 206.6Q49.4 205.0 48.4 205.2M20.1 318.5Q21.6 321.8 20.9 322.7M35.0 250.0Q37.8 251.6 38.5 252.4M79.7 234.7Q80.7 232.3 81.0 232.0M46.7 194.3Q45.3 193.9 46.0 191.2M53.1 244.9Q54.8 245.4 54.4 246.8M39.0 256.2Q37.0 259.6 37.3 260.0M23.1 313.8Q22.5 312.3 22.1 312.0M51.9 215.0Q51.9 217.9 48.9 218.3M29.0 227.5Q30.3 226.3 30.3 226.5M154.9 188.5Q154.3 185.8 155.8 186.1M134.0 261.3Q135.8 261.7 135.1 263.9M96.7 205.9Q98.1 206.7 98.3 209.3M26.3 198.7Q24.5 196.8 24.0 196.8M102.6 287.1Q102.3 284.3 103.8 284.1M119.8 244.4Q120.6 243.1 119.5 242.8M135.4 309.5Q135.9 309.4 133.8 309.5M139.7 224.2Q140.1 225.0 141.3 227.8M68.1 271.0Q69.4 271.1 71.1 271.1M32.3 288.1Q32.6 286.9 33.9 284.4M69.5 293.3Q72.8 294.1 73.4 294.9M88.4 261.9Q89.0 260.8 86.9 261.5M41.1 200.8Q39.7 201.6 41.1 204.8M115.0 214.0Q116.8 214.3 118.2 214.4M115.5 200.9Q115.4 198.4 118.0 198.2M85.6 257.6Q85.1 257.4 85.2 259.4M99.6 309.0Q101.3 309.3 101.6 311.6M133.1 319.9Q133.1 320.9 131.0 321.7M71.6 320.4Q71.0 318.7 72.0 317.9M77.3 326.1Q78.9 325.2 78.7 322.1M22.7 260.0Q24.0 259.2 26.8 258.8M105.5 238.2Q104.4 238.0 103.8 237.8M18.0 206.1Q21.2 206.1 21.7 205.3M130.7 312.3Q131.7 311.1 131.9 311.2M112.0 225.2Q110.3 223.9 107.9 224.1M89.4 248.0Q89.9 248.1 91.7 247.3M32.2 270.9Q33.0 270.4 35.1 270.1M91.3 207.4Q91.4 207.7 92.7 208.7M56.2 220.9Q58.6 222.1 58.9 222.6M96.5 278.9Q97.0 280.8 97.6 282.4M102.6 253.1Q101.4 254.1 101.8 255.1M69.8 269.7Q72.2 269.0 72.3 269.9M94.6 256.3Q93.5 259.3 93.6 260.6M37.7 195.7Q37.3 194.4 39.6 193.7M77.9 291.1Q80.1 292.5 79.6 292.4M37.1 234.3Q36.4 236.7 35.0 237.1M132.4 260.0Q133.1 258.1 132.2 256.3M127.2 287.2Q129.2 285.3 128.9 286.3M124.5 269.7Q122.5 269.5 120.1 269.8M127.1 310.7Q125.9 309.7 125.0 309.0M118.4 228.0Q116.8 228.4 116.0 230.0M127.6 307.3Q125.2 306.8 124.7 307.4M35.7 268.3Q36.2 267.3 34.2 267.4M135.6 305.7Q136.4 306.7 137.6 305.2M16.5 193.0Q16.4 193.2 13.8 191.8M92.0 328.6Q91.0 328.1 89.0 328.2M66.2 271.0Q65.4 272.8 63.6 274.5M29.2 239.6Q28.1 241.7 26.6 241.5M152.9 255.6Q152.8 255.8 149.8 256.8M90.8 302.5Q92.8 304.6 92.0 304.7M88.3 202.0Q90.7 202.3 91.1 199.8M142.0 246.2Q142.7 247.2 143.3 248.2M41.9 212.2Q40.3 212.5 39.6 209.8M106.0 192.2Q103.8 193.8 102.7 194.3M15.6 229.6Q17.0 227.3 17.3 226.9M86.2 265.1Q86.1 268.3 85.9 268.5M97.1 244.8Q98.6 244.3 98.6 246.2M29.3 210.5Q27.7 211.2 25.4 210.0M23.9 188.0Q24.7 186.3 24.2 185.5M39.2 224.2Q41.2 225.0 42.6 226.7M79.3 241.2Q81.5 243.3 83.3 242.6M77.9 274.6Q79.2 276.5 77.9 276.3M60.0 314.4Q60.8 314.7 61.0 312.2M85.9 321.6Q86.6 322.1 86.0 324.3M59.2 311.0Q56.5 310.2 55.4 311.4M66.3 212.8Q67.6 211.4 68.6 212.4M91.3 241.2Q89.5 242.6 89.9 242.2M65.2 221.1Q64.9 220.8 66.1 223.3M110.0 234.9Q109.8 235.7 112.0 237.9M134.4 204.4Q133.4 204.1 130.7 205.8M65.5 289.2Q63.0 292.1 62.3 292.3M87.2 218.6Q86.9 218.2 85.4 219.2M143.6 270.0Q143.2 270.0 142.1 271.6M139.8 203.7Q137.5 204.4 136.6 203.5M70.0 280.0Q68.6 278.2 67.8 279.0M40.3 307.6Q38.4 309.3 38.8 310.7M66.7 257.6Q65.9 257.5 66.2 259.2M33.0 288.4Q34.0 290.6 32.5 291.1M141.2 309.0Q140.6 310.4 142.8 310.7M109.9 236.3Q109.0 236.5 106.9 238.1M136.1 236.4Q134.2 236.9 134.7 234.9M120.0 287.8Q119.7 287.1 121.5 288.2M58.3 240.5Q59.9 239.8 60.7 241.1M135.0 267.5Q134.6 267.0 134.6 265.3M64.9 186.3Q65.2 183.3 66.8 183.0M137.1 272.8Q137.0 274.0 139.3 273.5M45.0 316.6Q45.6 315.4 45.0 314.8M121.9 304.4Q123.1 305.0 121.6 306.1M148.0 284.8Q148.3 282.7 147.7 280.8M22.8 285.8Q22.7 285.3 20.0 287.1M124.0 192.4Q122.7 190.7 122.8 188.7M153.6 277.1Q151.2 276.4 151.5 276.5M73.9 214.9Q74.1 216.3 73.2 216.7M49.0 220.7Q48.9 220.1 46.2 220.4M57.8 312.4Q58.3 314.5 59.8 314.8M93.4 294.6Q94.5 296.1 95.1 297.7M124.6 304.7Q125.0 304.6 126.3 306.3M23.6 226.3Q24.1 226.8 24.8 229.7M61.4 253.0Q59.5 252.3 60.1 254.6M156.9 293.2Q159.9 294.3 160.0 295.1M30.6 255.9Q29.7 254.9 28.7 256.7M146.5 278.1Q145.5 275.8 143.5 275.0M50.2 206.0Q53.1 205.7 53.9 206.6M41.6 277.2Q41.8 276.3 44.0 273.7M133.7 292.1Q134.2 292.4 132.8 293.9M67.7 264.8Q65.6 264.9 65.0 267.7M96.1 275.8Q98.0 275.5 97.6 272.5M85.7 257.4Q86.6 257.2 87.0 259.4M113.4 209.5Q110.1 208.9 109.3 211.1M77.8 213.4Q78.7 213.7 77.6 211.9M127.5 246.9Q127.2 248.3 126.8 250.3M63.4 248.8Q63.6 246.0 61.4 245.3M57.3 249.4Q55.2 247.7 54.9 248.4M61.3 251.9Q64.5 252.9 65.4 251.1M152.5 274.6Q153.4 274.1 153.2 273.0M57.5 267.6Q59.3 266.6 60.3 266.8M64.1 312.4Q65.7 312.4 66.1 312.8M27.2 280.4Q25.8 281.6 24.9 282.7M95.8 242.7Q97.7 243.5 97.3 244.1M31.1 309.1Q31.1 309.3 31.0 310.9M85.0 265.2Q84.0 266.8 85.4 268.4M99.1 197.6Q98.2 199.2 97.7 198.6M93.7 288.1Q95.2 287.8 93.8 286.3M29.6 304.6Q30.2 305.4 28.0 305.9M125.8 205.7Q125.2 204.5 126.1 204.1M17.2 270.9Q18.1 271.9 17.7 273.3M142.1 274.8Q144.4 274.7 144.3 272.5M39.0 292.5Q38.5 295.1 37.0 295.7M32.5 239.4Q33.0 235.9 32.2 235.1M101.3 200.4Q98.3 201.1 97.6 199.2" stroke="#3a3e44" stroke-width="0.9" fill="none" opacity="0.6"/>
</g>
<g clip-path="url(#cf)">
<path d="M162.5 235.6Q181.8 218.8 203.4 205.1M167.7 239.8Q188.6 228.5 210.8 219.8M212.9 209.3Q234.9 233.7 256.0 258.7M216.1 213.5Q231.7 218.2 247.6 221.9M220.3 207.2Q232.1 211.3 243.4 216.7M201.3 236.7Q223.0 244.8 243.4 255.6M161.4 253.5Q195.1 254.7 228.7 258.7M161.4 241.9Q179.2 243.2 197.1 243.0M260.2 217.7Q269.6 243.6 276.0 270.3M268.6 219.8Q265.5 247.1 264.4 274.5M281.2 238.8Q286.9 265.2 293.8 291.3M285.4 236.7Q282.7 262.1 277.0 287.1M289.6 234.6Q295.8 259.8 302.2 285.0M177.2 267.1Q182.1 289.7 186.6 312.3M161.4 297.6Q191.9 300.3 222.4 303.9M190.8 314.4Q223.9 310.7 256.0 301.8M222.4 303.9Q249.7 302.1 277.0 303.9M256.0 303.9Q261.2 316.2 264.4 329.1M209.8 322.8Q234.0 323.5 258.1 320.7M247.6 232.4Q258.3 245.9 268.6 259.8M283.3 198.8Q290.9 202.7 298.0 207.2M186.6 289.2Q204.6 290.8 222.4 293.4M171.9 221.9Q178.2 219.7 184.5 217.7M239.2 308.1Q262.8 303.5 285.4 295.5M161.4 278.7Q167.4 295.3 171.9 312.3" stroke="#34383e" stroke-width="2.4" fill="none" opacity="0.68" stroke-linecap="round"/>
<path d="M162.5 235.6Q181.8 218.8 203.4 205.1M167.7 239.8Q188.6 228.5 210.8 219.8M212.9 209.3Q234.9 233.7 256.0 258.7M216.1 213.5Q231.7 218.2 247.6 221.9M220.3 207.2Q232.1 211.3 243.4 216.7M201.3 236.7Q223.0 244.8 243.4 255.6M161.4 253.5Q195.1 254.7 228.7 258.7M161.4 241.9Q179.2 243.2 197.1 243.0M260.2 217.7Q269.6 243.6 276.0 270.3M268.6 219.8Q265.5 247.1 264.4 274.5M281.2 238.8Q286.9 265.2 293.8 291.3M285.4 236.7Q282.7 262.1 277.0 287.1M289.6 234.6Q295.8 259.8 302.2 285.0M177.2 267.1Q182.1 289.7 186.6 312.3M161.4 297.6Q191.9 300.3 222.4 303.9M190.8 314.4Q223.9 310.7 256.0 301.8M222.4 303.9Q249.7 302.1 277.0 303.9M256.0 303.9Q261.2 316.2 264.4 329.1M209.8 322.8Q234.0 323.5 258.1 320.7M247.6 232.4Q258.3 245.9 268.6 259.8M283.3 198.8Q290.9 202.7 298.0 207.2M186.6 289.2Q204.6 290.8 222.4 293.4M171.9 221.9Q178.2 219.7 184.5 217.7M239.2 308.1Q262.8 303.5 285.4 295.5M161.4 278.7Q167.4 295.3 171.9 312.3" stroke="#c0c3c7" stroke-width="1.0" fill="none" opacity="0.85"/>
<g filter="url(#blur08)">
<circle cx="256.3" cy="222.5" r="1.1" fill="#55585d" opacity="0.5"/>
<circle cx="223.5" cy="305.7" r="1.7" fill="#55585d" opacity="0.5"/>
<circle cx="175.6" cy="189.2" r="1.0" fill="#55585d" opacity="0.5"/>
<circle cx="274.3" cy="212.6" r="1.6" fill="#55585d" opacity="0.5"/>
<circle cx="200.9" cy="284.2" r="1.4" fill="#55585d" opacity="0.5"/>
<circle cx="180.0" cy="311.0" r="1.6" fill="#55585d" opacity="0.5"/>
<circle cx="258.3" cy="301.4" r="2.2" fill="#55585d" opacity="0.5"/>
<circle cx="161.3" cy="235.0" r="1.0" fill="#55585d" opacity="0.5"/>
<circle cx="231.4" cy="310.7" r="2.0" fill="#55585d" opacity="0.5"/>
<circle cx="164.4" cy="212.2" r="2.0" fill="#55585d" opacity="0.5"/>
<circle cx="256.9" cy="242.2" r="1.5" fill="#55585d" opacity="0.5"/>
<circle cx="182.0" cy="306.7" r="1.4" fill="#55585d" opacity="0.5"/>
<circle cx="284.7" cy="273.3" r="0.9" fill="#55585d" opacity="0.5"/>
<circle cx="206.6" cy="217.0" r="2.1" fill="#55585d" opacity="0.5"/>
<circle cx="243.9" cy="192.4" r="1.1" fill="#55585d" opacity="0.5"/>
<circle cx="211.1" cy="252.9" r="1.7" fill="#55585d" opacity="0.5"/>
<circle cx="215.0" cy="236.6" r="0.8" fill="#55585d" opacity="0.5"/>
<circle cx="242.5" cy="233.8" r="0.8" fill="#55585d" opacity="0.5"/>
<circle cx="225.3" cy="326.9" r="0.9" fill="#55585d" opacity="0.5"/>
<circle cx="180.2" cy="281.9" r="1.2" fill="#55585d" opacity="0.5"/>
<circle cx="198.6" cy="257.5" r="1.2" fill="#55585d" opacity="0.5"/>
<circle cx="241.0" cy="261.5" r="2.2" fill="#55585d" opacity="0.5"/>
<circle cx="301.8" cy="191.1" r="1.6" fill="#55585d" opacity="0.5"/>
<circle cx="270.0" cy="310.6" r="2.0" fill="#55585d" opacity="0.5"/>
<circle cx="250.2" cy="276.7" r="1.3" fill="#55585d" opacity="0.5"/>
</g></g>
<text x="20.00" y="198.20" font-size="10.5" text-anchor="start" font-weight="bold" font-style="normal" fill="#111" font-family='"Liberation Sans", sans-serif' >e</text>
<text x="164.00" y="200.40" font-size="10.5" text-anchor="start" font-weight="bold" font-style="normal" fill="#111" font-family='"Liberation Sans", sans-serif' >f</text>
<text x="87.00" y="204.20" font-size="10.4" text-anchor="middle" font-weight="bold" font-style="normal" fill="#fff" font-family='"Liberation Sans", sans-serif' >W/O CTSK</text>
<text x="231.20" y="204.20" font-size="10.4" text-anchor="middle" font-weight="bold" font-style="normal" fill="#fff" font-family='"Liberation Sans", sans-serif' >With CTSK</text>
<text x="140.00" y="318.40" font-size="4.6" text-anchor="middle" font-weight="normal" font-style="normal" fill="#fff" font-family='"Liberation Sans", sans-serif' >100 nm</text>
<line x1="131.50" y1="319.90" x2="148.80" y2="319.90" stroke="#fff" stroke-width="1.0" />
<text x="283.00" y="318.40" font-size="4.6" text-anchor="middle" font-weight="normal" font-style="normal" fill="#fff" font-family='"Liberation Sans", sans-serif' >100 nm</text>
<line x1="274.50" y1="319.90" x2="291.80" y2="319.90" stroke="#fff" stroke-width="1.0" />
<text x="315.50" y="171.00" font-size="12" text-anchor="start" font-weight="bold" font-style="normal" fill="#231f20" font-family='"Liberation Sans", sans-serif' >g</text>
<rect x="337.60" y="167.70" width="15.00" height="7.00" fill="#231f20" />
<text x="353.80" y="175.00" font-size="10.4" text-anchor="start" font-weight="normal" font-style="normal" fill="#231f20" font-family='"Liberation Sans", sans-serif' >Buffer</text>
<rect x="385.20" y="167.70" width="15.00" height="7.00" fill="#ed1c24" />
<text x="401.40" y="175.00" font-size="10.4" text-anchor="start" font-weight="normal" font-style="normal" fill="#231f20" font-family='"Liberation Sans", sans-serif' >0 h</text>
<rect x="433.20" y="167.70" width="15.00" height="7.00" fill="#5b2a86" />
<text x="449.40" y="175.00" font-size="10.4" text-anchor="start" font-weight="normal" font-style="normal" fill="#231f20" font-family='"Liberation Sans", sans-serif' >0.5 h</text>
<rect x="481.80" y="167.70" width="15.00" height="7.00" fill="#f8a94a" />
<text x="498.00" y="175.00" font-size="10.4" text-anchor="start" font-weight="normal" font-style="normal" fill="#231f20" font-family='"Liberation Sans", sans-serif' >1 h</text>
<rect x="337.60" y="187.60" width="15.00" height="7.00" fill="#92278f" />
<text x="353.80" y="194.90" font-size="10.4" text-anchor="start" font-weight="normal" font-style="normal" fill="#231f20" font-family='"Liberation Sans", sans-serif' >2 h</text>
<rect x="385.20" y="187.60" width="15.00" height="7.00" fill="#00a651" />
<text x="401.40" y="194.90" font-size="10.4" text-anchor="start" font-weight="normal" font-style="normal" fill="#231f20" font-family='"Liberation Sans", sans-serif' >4 h</text>
<rect x="433.20" y="187.60" width="15.00" height="7.00" fill="#a0622d" />
<text x="449.40" y="194.90" font-size="10.4" text-anchor="start" font-weight="normal" font-style="normal" fill="#231f20" font-family='"Liberation Sans", sans-serif' >8 h</text>
<rect x="481.80" y="187.60" width="15.00" height="7.00" fill="#0d8fd0" />
<text x="498.00" y="194.90" font-size="10.4" text-anchor="start" font-weight="normal" font-style="normal" fill="#231f20" font-family='"Liberation Sans", sans-serif' >24 h</text>
<line x1="332.10" y1="374.20" x2="332.10" y2="212.00" stroke="#231f20" stroke-width="1.1" />
<path d="M332.1,203.5 L328.6,214 L335.6,214 Z" fill="#231f20"/>
<line x1="332.10" y1="374.20" x2="508.00" y2="374.20" stroke="#231f20" stroke-width="1.1" />
<path d="M518.7,374.2 L507,370.7 L507,377.7 Z" fill="#231f20"/>
<text x="324.30" y="288.50" font-size="10.2" text-anchor="middle" font-weight="normal" font-style="normal" fill="#231f20" font-family='"Liberation Sans", sans-serif' transform="rotate(-90 324.3 288.5)" >Intensity</text>
<text x="424.50" y="387.80" font-size="10.5" text-anchor="middle" font-weight="normal" font-style="normal" fill="#231f20" font-family='"Liberation Sans", sans-serif' >Retention time (min)</text>
<line x1="338.40" y1="360.10" x2="434.80" y2="360.10" stroke="#231f20" stroke-width="0.9" />
<line x1="338.40" y1="360.10" x2="338.40" y2="362.80" stroke="#231f20" stroke-width="0.9" />
<text x="338.40" y="370.70" font-size="7.8" text-anchor="middle" font-weight="bold" font-style="normal" fill="#231f20" font-family='"Liberation Sans", sans-serif' >2</text>
<line x1="362.50" y1="360.10" x2="362.50" y2="362.80" stroke="#231f20" stroke-width="0.9" />
<text x="362.50" y="370.70" font-size="7.8" text-anchor="middle" font-weight="bold" font-style="normal" fill="#231f20" font-family='"Liberation Sans", sans-serif' >3</text>
<line x1="386.60" y1="360.10" x2="386.60" y2="362.80" stroke="#231f20" stroke-width="0.9" />
<text x="386.60" y="370.70" font-size="7.8" text-anchor="middle" font-weight="bold" font-style="normal" fill="#231f20" font-family='"Liberation Sans", sans-serif' >4</text>
<line x1="410.70" y1="360.10" x2="410.70" y2="362.80" stroke="#231f20" stroke-width="0.9" />
<text x="410.70" y="370.70" font-size="7.8" text-anchor="middle" font-weight="bold" font-style="normal" fill="#231f20" font-family='"Liberation Sans", sans-serif' >5</text>
<line x1="434.80" y1="360.10" x2="434.80" y2="362.80" stroke="#231f20" stroke-width="0.9" />
<text x="434.80" y="370.70" font-size="7.8" text-anchor="middle" font-weight="bold" font-style="normal" fill="#231f20" font-family='"Liberation Sans", sans-serif' >6</text>
<polyline points="413.40,242.32 413.90,242.59 414.40,242.03 414.90,242.49 415.40,242.16 415.90,242.14 416.40,242.67 416.90,242.21 417.40,242.14 417.90,242.32 418.40,242.40 418.90,242.09 419.40,242.23 419.90,241.82 420.40,241.96 420.90,241.92 421.40,241.68 421.90,241.62 422.40,241.57 422.90,241.90 423.40,241.90 423.90,241.84 424.40,241.92 424.90,241.55 425.40,241.85 425.90,241.91 426.40,242.02 426.90,241.60 427.40,241.69 427.90,241.25 428.40,241.54 428.90,240.88 429.40,240.59 429.90,240.45 430.40,238.80 430.90,239.08 431.40,239.15 431.90,239.69 432.40,240.68 432.90,241.27 433.40,241.68 433.90,241.46 434.40,241.39 434.90,241.37 435.40,241.26 435.90,241.48 436.40,241.27 436.90,241.72 437.40,240.97 437.90,241.14 438.40,241.16 438.90,240.86 439.40,241.84 439.90,240.74 440.40,241.25 440.90,241.18 441.40,241.70 441.90,240.78 442.40,241.52 442.90,241.05 443.40,241.18 443.90,241.02 444.40,241.29 444.90,240.64 445.40,240.33 445.90,239.09 446.40,237.19 446.90,233.45 447.40,232.63 447.90,232.69 448.40,234.38 448.90,237.23 449.40,239.10 449.90,240.76 450.40,240.84 450.90,240.85 451.40,240.87 451.90,240.86 452.40,240.85 452.90,240.65 453.40,241.37 453.90,240.36 454.40,239.92 454.90,240.77 455.40,240.75 455.90,240.86 456.40,240.70 456.90,240.69 457.40,240.80 457.90,240.94 458.40,240.56 458.90,240.57 459.40,241.13 459.90,240.75 460.40,240.36 460.90,241.17 461.40,240.76 461.90,240.40 462.40,240.24 462.90,240.59 463.40,240.29 463.90,240.21 464.40,240.14 464.90,240.32 465.40,240.70 465.90,240.30 466.40,240.03 466.90,240.54 467.40,240.37 467.90,240.54 468.40,240.62 468.90,240.26 469.40,240.24 469.90,240.25 470.40,239.95 470.90,240.32 471.40,240.18 471.90,238.75 472.40,235.75 472.90,230.65 473.40,224.94 473.90,222.42 474.40,225.00 474.90,230.43 475.40,235.59 475.90,238.17 476.40,239.74 476.90,239.95 477.40,239.69 477.90,239.40 478.40,239.95 478.90,240.21 479.40,239.74 479.90,239.78 480.40,239.74 480.90,240.03 481.40,239.62 481.90,240.07 482.40,239.73 482.90,240.01 483.40,239.69 483.90,239.35 484.40,238.29 484.90,236.95 485.40,234.78 485.90,232.79 486.40,231.73 486.90,232.41 487.40,234.88 487.90,237.26 488.40,238.47 488.90,239.11 489.40,239.37 489.90,239.72 490.40,239.65 490.90,239.27 491.40,239.58 491.90,239.35 492.40,239.26 492.90,239.74 493.40,239.62 493.90,239.21 494.40,239.37 494.90,239.41 495.40,238.99 495.90,238.86 496.40,238.65 496.90,237.53 497.40,237.59 497.90,237.44 498.40,237.47 498.90,237.37 499.40,238.26 499.90,238.39 500.40,239.03 500.90,239.19 501.40,239.14 501.90,238.88 502.40,238.85 502.90,239.01 503.40,238.13 503.90,237.79 504.40,237.06 504.90,236.44 505.40,237.27 505.90,237.31 506.40,238.54 506.90,238.01 507.40,238.21 507.90,239.10 508.40,239.02 508.90,238.77 509.40,238.82 509.90,238.34 510.40,238.64" fill="none" stroke="#1f5fa8" stroke-width="1.55" stroke-linejoin="round" />
<polyline points="401.20,259.01 401.70,259.10 402.20,258.85 402.70,259.03 403.21,259.16 403.71,259.01 404.21,259.28 404.71,258.65 405.21,258.87 405.71,258.66 406.22,258.62 406.72,258.75 407.22,258.84 407.72,258.87 408.22,258.87 408.72,259.29 409.22,258.93 409.73,258.29 410.23,258.72 410.73,258.50 411.23,258.51 411.73,258.95 412.23,258.55 412.74,258.10 413.24,258.64 413.74,258.47 414.24,258.23 414.74,258.28 415.24,258.33 415.75,258.46 416.25,258.32 416.75,258.32 417.25,258.45 417.75,257.15 418.25,256.16 418.75,255.29 419.26,255.12 419.76,255.00 420.26,256.46 420.76,256.76 421.26,257.51 421.76,258.07 422.27,257.98 422.77,258.06 423.27,258.31 423.77,258.36 424.27,258.19 424.77,258.08 425.27,258.47 425.78,258.21 426.28,258.03 426.78,258.38 427.28,257.83 427.78,258.08 428.28,258.19 428.79,258.00 429.29,257.84 429.79,258.05 430.29,257.81 430.79,257.78 431.29,257.65 431.79,258.20 432.30,257.64 432.80,257.75 433.30,256.72 433.80,254.83 434.30,252.50 434.80,249.89 435.31,248.80 435.81,249.49 436.31,252.34 436.81,255.06 437.31,256.63 437.81,257.54 438.32,257.94 438.82,257.72 439.32,258.11 439.82,257.22 440.32,257.53 440.82,256.94 441.32,257.75 441.83,257.55 442.33,257.94 442.83,257.40 443.33,256.97 443.83,257.78 444.33,257.11 444.84,257.11 445.34,257.36 445.84,257.54 446.34,257.24 446.84,257.40 447.34,256.86 447.84,257.75 448.35,257.28 448.85,257.31 449.35,257.41 449.85,257.28 450.35,257.27 450.85,256.97 451.36,257.16 451.86,257.28 452.36,257.41 452.86,257.10 453.36,257.14 453.86,257.18 454.36,257.22 454.87,257.11 455.37,256.98 455.87,256.90 456.37,257.29 456.87,257.06 457.37,256.97 457.88,257.82 458.38,257.11 458.88,256.88 459.38,255.81 459.88,252.83 460.38,247.72 460.88,239.68 461.39,233.99 461.89,234.74 462.39,241.05 462.89,248.43 463.39,253.52 463.89,256.35 464.40,256.67 464.90,256.41 465.40,256.86 465.90,256.70 466.40,256.65 466.90,256.79 467.41,256.66 467.91,257.09 468.41,256.62 468.91,256.61 469.41,256.82 469.91,256.37 470.41,256.74 470.92,256.39 471.42,256.46 471.92,255.32 472.42,254.35 472.92,251.98 473.42,250.47 473.93,249.88 474.43,250.82 474.93,253.00 475.43,254.76 475.93,255.14 476.43,255.83 476.93,256.51 477.44,256.34 477.94,255.88 478.44,256.33 478.94,255.91 479.44,255.96 479.94,255.84 480.45,256.07 480.95,256.68 481.45,256.19 481.95,256.05 482.45,256.68 482.95,255.88 483.45,255.84 483.96,255.56 484.46,255.28 484.96,254.43 485.46,254.11 485.96,253.06 486.46,253.06 486.97,253.27 487.47,253.65 487.97,254.34 488.47,255.15 488.97,254.95 489.47,255.70 489.98,255.77 490.48,255.80 490.98,255.73 491.48,255.82 491.98,255.63 492.48,255.86 492.98,255.27 493.49,255.89 493.99,255.43 494.49,255.75 494.99,255.49 495.49,255.48 495.99,255.38 496.50,255.89 497.00,255.27 497.50,255.22 498.00,255.55" fill="none" stroke="#8c5a2b" stroke-width="1.55" stroke-linejoin="round" />
<polyline points="391.00,275.01 391.50,274.99 392.00,275.42 392.51,274.66 393.01,275.17 393.51,274.62 394.01,275.43 394.51,275.18 395.02,275.45 395.52,274.96 396.02,275.16 396.52,274.97 397.02,274.83 397.53,275.03 398.03,274.65 398.53,274.85 399.03,275.09 399.54,274.91 400.04,274.77 400.54,275.39 401.04,274.84 401.54,274.65 402.05,274.82 402.55,274.62 403.05,274.63 403.55,274.62 404.05,275.19 404.56,274.66 405.06,274.67 405.56,274.74 406.06,274.96 406.56,274.19 407.07,273.70 407.57,273.91 408.07,272.27 408.57,272.03 409.07,272.11 409.58,272.76 410.08,272.49 410.58,272.71 411.08,273.96 411.58,273.95 412.09,274.11 412.59,274.36 413.09,274.30 413.59,274.30 414.10,274.10 414.60,274.50 415.10,274.53 415.60,274.14 416.10,274.00 416.61,274.27 417.11,274.18 417.61,273.78 418.11,273.90 418.61,274.25 419.12,273.94 419.62,273.86 420.12,273.97 420.62,273.88 421.12,273.84 421.63,273.23 422.13,273.78 422.63,272.45 423.13,270.41 423.63,268.49 424.14,266.31 424.64,265.78 425.14,267.43 425.64,270.06 426.15,271.70 426.65,273.21 427.15,273.88 427.65,273.25 428.15,273.40 428.66,273.71 429.16,273.06 429.66,273.40 430.16,273.76 430.66,273.68 431.17,273.54 431.67,272.90 432.17,273.93 432.67,273.46 433.17,273.49 433.68,273.40 434.18,272.82 434.68,272.87 435.18,272.90 435.68,273.66 436.19,272.95 436.69,273.07 437.19,273.04 437.69,273.23 438.19,273.18 438.70,273.10 439.20,272.70 439.70,272.20 440.20,273.01 440.71,273.01 441.21,273.22 441.71,272.87 442.21,272.71 442.71,272.93 443.22,272.33 443.72,272.03 444.22,270.60 444.72,267.56 445.22,262.66 445.73,257.30 446.23,256.13 446.73,259.41 447.23,264.99 447.73,269.22 448.24,271.44 448.74,271.39 449.24,270.73 449.74,267.42 450.24,261.29 450.75,252.65 451.25,247.09 451.75,248.71 452.25,255.72 452.75,264.26 453.26,269.74 453.76,271.48 454.26,272.40 454.76,272.21 455.27,271.84 455.77,272.26 456.27,272.00 456.77,272.20 457.27,272.04 457.78,272.21 458.28,271.57 458.78,272.60 459.28,272.39 459.78,271.92 460.29,271.66 460.79,271.55 461.29,270.97 461.79,269.63 462.29,268.12 462.80,266.50 463.30,266.80 463.80,268.55 464.30,269.74 464.80,270.43 465.31,271.21 465.81,271.29 466.31,271.45 466.81,271.99 467.32,271.62 467.82,271.94 468.32,271.68 468.82,271.23 469.32,271.42 469.83,272.14 470.33,271.34 470.83,271.24 471.33,271.80 471.83,271.49 472.34,271.44 472.84,271.79 473.34,270.94 473.84,271.47 474.34,271.08 474.85,270.96 475.35,271.09 475.85,271.56 476.35,271.19 476.85,270.69 477.36,270.74 477.86,271.16 478.36,270.63 478.86,269.57 479.36,269.99 479.87,269.00 480.37,268.84 480.87,269.46 481.37,270.21 481.88,270.80 482.38,270.90 482.88,270.56 483.38,270.33 483.88,269.70 484.39,269.60 484.89,269.20 485.39,269.49 485.89,269.46 486.39,270.07 486.90,270.27 487.40,270.33 487.90,270.37" fill="none" stroke="#4bb24f" stroke-width="1.55" stroke-linejoin="round" />
<polyline points="380.40,291.52 380.90,290.94 381.40,291.18 381.90,291.37 382.41,291.71 382.91,291.33 383.41,290.90 383.91,291.37 384.41,290.98 384.91,291.57 385.42,291.19 385.92,291.68 386.42,291.19 386.92,290.95 387.42,290.82 387.92,291.09 388.42,291.27 388.93,291.44 389.43,291.20 389.93,290.93 390.43,291.23 390.93,290.73 391.43,291.20 391.94,290.87 392.44,291.42 392.94,291.27 393.44,291.10 393.94,290.74 394.44,291.12 394.94,291.06 395.45,290.81 395.95,290.78 396.45,291.24 396.95,290.81 397.45,291.00 397.95,291.22 398.46,290.49 398.96,291.29 399.46,291.09 399.96,290.66 400.46,290.56 400.96,290.48 401.46,291.01 401.97,290.11 402.47,290.98 402.97,290.77 403.47,290.54 403.97,290.57 404.47,290.59 404.98,290.61 405.48,290.88 405.98,290.43 406.48,290.90 406.98,290.85 407.48,290.53 407.99,290.73 408.49,290.43 408.99,290.56 409.49,290.66 409.99,291.00 410.49,290.49 410.99,290.45 411.50,290.48 412.00,290.41 412.50,290.17 413.00,290.90 413.50,290.26 414.00,290.25 414.51,290.21 415.01,290.54 415.51,291.10 416.01,291.10 416.51,290.57 417.01,290.40 417.51,290.29 418.02,290.03 418.52,290.45 419.02,290.23 419.52,290.76 420.02,290.15 420.52,289.95 421.03,289.73 421.53,289.73 422.03,290.31 422.53,290.23 423.03,289.84 423.53,289.73 424.03,290.17 424.54,290.00 425.04,290.13 425.54,290.05 426.04,289.84 426.54,289.59 427.04,290.04 427.55,290.02 428.05,290.03 428.55,290.20 429.05,290.18 429.55,289.81 430.05,290.07 430.55,289.36 431.06,290.06 431.56,289.87 432.06,290.10 432.56,289.99 433.06,289.02 433.56,287.42 434.07,282.95 434.57,273.86 435.07,264.17 435.57,259.12 436.07,263.30 436.57,272.80 437.07,281.50 437.58,286.38 438.08,287.44 438.58,286.38 439.08,281.13 439.58,274.18 440.08,269.08 440.59,269.40 441.09,275.44 441.59,282.20 442.09,286.09 442.59,288.72 443.09,289.39 443.59,289.41 444.10,289.53 444.60,289.91 445.10,289.55 445.60,289.76 446.10,289.70 446.60,289.04 447.11,289.86 447.61,289.45 448.11,289.31 448.61,289.58 449.11,289.91 449.61,289.10 450.11,289.00 450.62,288.89 451.12,287.51 451.62,286.26 452.12,284.91 452.62,284.02 453.12,284.15 453.63,285.52 454.13,287.20 454.63,288.05 455.13,288.72 455.63,288.98 456.13,289.04 456.64,289.41 457.14,289.33 457.64,288.58 458.14,289.21 458.64,288.80 459.14,288.77 459.64,289.37 460.15,289.36 460.65,289.31 461.15,289.17 461.65,289.44 462.15,288.66 462.65,289.12 463.16,288.64 463.66,288.47 464.16,287.87 464.66,288.21 465.16,287.76 465.66,287.16 466.16,286.72 466.67,287.16 467.17,287.30 467.67,287.97 468.17,288.78 468.67,289.01 469.17,288.87 469.68,288.92 470.18,288.69 470.68,288.81 471.18,288.66 471.68,288.81 472.18,288.51 472.68,288.91 473.19,288.58 473.69,288.68 474.19,288.57 474.69,288.98 475.19,288.81 475.69,288.36 476.20,288.31 476.70,288.68 477.20,288.55 477.70,288.44" fill="none" stroke="#8e4aa0" stroke-width="1.55" stroke-linejoin="round" />
<polyline points="369.00,307.84 369.50,308.01 370.00,307.81 370.50,307.77 371.00,307.60 371.50,307.76 372.00,308.07 372.50,307.88 373.00,308.01 373.50,307.80 374.00,307.82 374.50,307.75 375.00,307.27 375.50,307.88 376.00,307.77 376.50,307.75 377.00,307.19 377.50,307.16 378.00,307.35 378.50,307.44 379.00,307.62 379.50,307.51 380.00,307.63 380.50,307.32 381.00,307.54 381.50,307.55 382.00,307.27 382.50,307.84 383.00,307.53 383.50,307.68 384.00,307.20 384.50,307.16 385.00,307.24 385.50,307.28 386.00,307.44 386.50,307.33 387.00,307.14 387.50,306.99 388.00,307.08 388.50,307.50 389.00,306.98 389.50,307.22 390.00,307.25 390.50,306.75 391.00,307.12 391.50,307.41 392.00,306.57 392.50,306.97 393.00,307.01 393.50,306.81 394.00,307.12 394.50,306.96 395.00,306.60 395.50,307.15 396.00,307.09 396.50,307.14 397.00,307.25 397.50,306.96 398.00,306.88 398.50,306.51 399.00,306.97 399.50,306.62 400.00,306.55 400.50,305.99 401.00,305.15 401.50,303.52 402.00,301.56 402.50,298.61 403.00,298.15 403.50,299.87 404.00,302.52 404.50,304.48 405.00,305.22 405.50,305.67 406.00,306.59 406.50,306.35 407.00,306.25 407.50,306.75 408.00,306.77 408.50,306.51 409.00,306.52 409.50,306.55 410.00,306.82 410.50,306.56 411.00,306.51 411.50,306.50 412.00,305.96 412.50,306.65 413.00,306.55 413.50,306.43 414.00,305.78 414.50,306.10 415.00,306.45 415.50,305.77 416.00,306.16 416.50,306.44 417.00,305.84 417.50,306.55 418.00,306.27 418.50,306.08 419.00,306.18 419.50,306.24 420.00,306.09 420.50,306.33 421.00,305.85 421.50,305.81 422.00,305.72 422.50,303.74 423.00,298.73 423.50,290.06 424.00,279.06 424.50,272.00 425.00,274.73 425.50,285.21 426.00,295.66 426.50,302.07 427.00,305.07 427.50,304.79 428.00,304.10 428.50,300.32 429.00,295.77 429.50,292.16 430.00,291.83 430.50,295.18 431.00,299.79 431.50,303.24 432.00,304.93 432.50,305.59 433.00,305.52 433.50,305.64 434.00,305.70 434.50,305.54 435.00,305.71 435.50,305.64 436.00,305.99 436.50,305.55 437.00,305.34 437.50,305.33 438.00,305.40 438.50,305.56 439.00,305.05 439.50,304.71 440.00,304.01 440.50,301.34 441.00,300.17 441.50,299.84 442.00,300.51 442.50,301.97 443.00,303.34 443.50,304.63 444.00,305.02 444.50,304.98 445.00,305.75 445.50,305.23 446.00,304.98 446.50,305.08 447.00,305.03 447.50,305.05 448.00,304.37 448.50,304.91 449.00,305.27 449.50,304.70 450.00,304.96 450.50,305.18 451.00,305.11 451.50,305.16 452.00,304.16 452.50,304.15 453.00,303.67 453.50,303.41 454.00,303.17 454.50,302.17 455.00,303.38 455.50,303.20 456.00,304.20 456.50,304.00 457.00,304.61 457.50,304.95 458.00,304.63 458.50,304.71 459.00,304.85 459.50,304.67 460.00,304.59 460.50,304.98 461.00,304.84 461.50,304.49 462.00,305.23 462.50,304.24 463.00,304.74 463.50,304.42 464.00,304.51 464.50,304.63 465.00,304.49 465.50,304.58 466.00,304.02" fill="none" stroke="#f0823a" stroke-width="1.55" stroke-linejoin="round" />
<polyline points="359.20,324.29 359.70,324.82 360.20,324.46 360.70,324.45 361.21,324.33 361.71,324.25 362.21,324.32 362.71,324.14 363.21,323.96 363.71,323.91 364.22,323.84 364.72,324.19 365.22,324.27 365.72,324.53 366.22,324.24 366.72,324.17 367.22,324.26 367.73,324.08 368.23,323.60 368.73,324.34 369.23,323.94 369.73,324.11 370.23,323.98 370.74,324.78 371.24,324.32 371.74,324.13 372.24,323.72 372.74,324.23 373.24,323.76 373.75,324.26 374.25,323.52 374.75,323.76 375.25,323.80 375.75,323.01 376.25,322.88 376.75,322.58 377.26,322.67 377.76,322.45 378.26,323.08 378.76,323.80 379.26,323.17 379.76,323.51 380.27,323.94 380.77,323.68 381.27,323.51 381.77,324.23 382.27,324.10 382.77,324.13 383.27,324.11 383.78,324.01 384.28,323.60 384.78,323.19 385.28,323.93 385.78,323.51 386.28,323.80 386.79,323.88 387.29,323.44 387.79,323.67 388.29,324.20 388.79,323.94 389.29,323.31 389.80,323.67 390.30,323.70 390.80,323.77 391.30,323.54 391.80,322.59 392.30,321.01 392.80,319.03 393.31,316.21 393.81,315.96 394.31,316.71 394.81,318.71 395.31,320.93 395.81,322.63 396.32,322.89 396.82,322.91 397.32,323.68 397.82,323.96 398.32,323.54 398.82,323.58 399.32,323.55 399.83,323.30 400.33,323.65 400.83,323.74 401.33,323.53 401.83,323.75 402.33,323.24 402.84,323.56 403.34,323.29 403.84,323.35 404.34,323.54 404.84,323.50 405.34,323.67 405.85,323.61 406.35,323.13 406.85,323.76 407.35,323.01 407.85,323.38 408.35,323.47 408.85,323.36 409.36,323.50 409.86,323.37 410.36,323.10 410.86,323.55 411.36,323.25 411.86,322.61 412.37,321.09 412.87,315.63 413.37,304.17 413.87,287.87 414.37,275.88 414.87,276.44 415.38,289.86 415.88,305.25 416.38,316.62 416.88,321.24 417.38,323.09 417.88,323.65 418.38,322.66 418.89,321.92 419.39,320.36 419.89,319.54 420.39,319.93 420.89,321.32 421.39,322.64 421.90,323.18 422.40,322.99 422.90,323.17 423.40,322.76 423.90,323.27 424.40,323.06 424.90,322.83 425.41,322.91 425.91,323.24 426.41,323.11 426.91,323.24 427.41,322.95 427.91,323.10 428.42,322.98 428.92,322.61 429.42,322.81 429.92,322.39 430.42,321.25 430.92,319.96 431.43,318.37 431.93,316.95 432.43,316.83 432.93,318.07 433.43,320.24 433.93,321.59 434.43,322.56 434.94,323.13 435.44,322.89 435.94,322.56 436.44,323.26 436.94,322.92 437.44,323.25 437.95,322.67 438.45,323.52 438.95,322.56 439.45,322.90 439.95,323.06 440.45,322.19 440.95,322.63 441.46,322.40 441.96,323.18 442.46,322.78 442.96,322.09 443.46,321.48 443.96,320.97 444.47,321.02 444.97,320.57 445.47,321.01 445.97,321.18 446.47,321.38 446.97,322.68 447.48,322.62 447.98,322.46 448.48,322.60 448.98,323.03 449.48,322.91 449.98,322.37 450.48,323.05 450.99,322.52 451.49,322.81 451.99,322.35 452.49,322.48 452.99,322.84 453.49,322.33 454.00,322.64 454.50,322.72 455.00,322.44 455.50,322.97" fill="none" stroke="#5e2a7e" stroke-width="1.55" stroke-linejoin="round" />
<polyline points="347.60,339.66 348.10,339.93 348.60,340.17 349.10,340.21 349.60,340.10 350.11,339.79 350.61,339.84 351.11,339.67 351.61,339.38 352.11,339.56 352.61,339.89 353.11,339.69 353.61,339.53 354.11,339.32 354.61,339.53 355.12,339.39 355.62,339.52 356.12,339.60 356.62,338.89 357.12,339.41 357.62,339.05 358.12,339.15 358.62,339.05 359.12,339.61 359.62,339.48 360.13,339.41 360.63,339.08 361.13,338.88 361.63,339.12 362.13,339.24 362.63,339.15 363.13,339.31 363.63,339.03 364.13,339.54 364.64,339.23 365.14,339.54 365.64,339.08 366.14,338.94 366.64,338.76 367.14,339.15 367.64,339.18 368.14,338.94 368.64,338.97 369.14,338.78 369.65,338.72 370.15,338.73 370.65,338.31 371.15,338.50 371.65,338.73 372.15,338.73 372.65,338.95 373.15,338.81 373.65,338.73 374.16,338.61 374.66,338.02 375.16,338.57 375.66,338.31 376.16,338.63 376.66,338.41 377.16,338.37 377.66,338.30 378.16,338.33 378.66,337.89 379.17,337.96 379.67,338.63 380.17,338.42 380.67,338.17 381.17,338.17 381.67,338.14 382.17,339.02 382.67,338.31 383.17,338.16 383.68,337.97 384.18,337.52 384.68,338.12 385.18,338.41 385.68,338.27 386.18,338.08 386.68,337.84 387.18,337.67 387.68,337.96 388.18,337.81 388.69,337.61 389.19,338.28 389.69,337.61 390.19,337.68 390.69,337.20 391.19,338.19 391.69,337.70 392.19,337.70 392.69,337.77 393.19,337.46 393.70,337.49 394.20,337.69 394.70,337.39 395.20,337.65 395.70,337.85 396.20,337.71 396.70,337.85 397.20,337.74 397.70,337.88 398.21,337.50 398.71,337.51 399.21,337.10 399.71,337.31 400.21,337.15 400.71,337.28 401.21,337.02 401.71,337.33 402.21,337.87 402.71,337.01 403.22,337.32 403.72,337.31 404.22,336.95 404.72,337.00 405.22,336.60 405.72,334.83 406.22,326.89 406.72,310.40 407.22,289.58 407.73,283.99 408.23,299.36 408.73,319.80 409.23,331.74 409.73,335.99 410.23,336.73 410.73,336.87 411.23,337.03 411.73,336.27 412.23,336.32 412.74,336.63 413.24,336.80 413.74,336.54 414.24,336.59 414.74,336.89 415.24,336.76 415.74,336.54 416.24,336.46 416.74,336.15 417.24,336.61 417.75,336.49 418.25,336.20 418.75,336.54 419.25,336.30 419.75,336.28 420.25,335.93 420.75,336.54 421.25,336.10 421.75,336.34 422.26,336.30 422.76,336.08 423.26,336.18 423.76,336.11 424.26,336.08 424.76,336.16 425.26,335.93 425.76,336.24 426.26,336.07 426.76,335.72 427.27,336.09 427.77,335.87 428.27,336.06 428.77,335.33 429.27,335.98 429.77,335.30 430.27,335.73 430.77,336.61 431.27,335.95 431.78,336.03 432.28,335.56 432.78,335.43 433.28,335.67 433.78,335.77 434.28,335.62 434.78,335.45 435.28,335.37 435.78,335.47 436.28,335.95 436.79,335.52 437.29,335.40 437.79,335.41 438.29,335.21 438.79,335.09 439.29,335.44 439.79,335.72 440.29,335.48 440.79,334.99 441.29,335.69 441.80,335.35 442.30,335.74 442.80,335.20 443.30,334.88 443.80,335.25" fill="none" stroke="#e8262c" stroke-width="1.55" stroke-linejoin="round" />
<polyline points="338.20,355.86 338.70,355.97 339.20,355.91 339.70,355.97 340.20,356.21 340.70,355.58 341.20,355.91 341.70,355.85 342.20,355.73 342.70,355.91 343.21,355.92 343.71,356.52 344.21,355.96 344.71,355.86 345.21,356.06 345.71,355.57 346.21,355.66 346.71,355.93 347.21,355.65 347.71,355.51 348.21,355.59 348.71,355.37 349.21,355.94 349.71,355.84 350.21,355.91 350.71,354.73 351.21,354.23 351.71,353.89 352.21,354.11 352.72,354.36 353.22,355.04 353.72,355.13 354.22,355.05 354.72,355.87 355.22,355.35 355.72,355.75 356.22,355.35 356.72,355.40 357.22,354.78 357.72,354.58 358.22,354.26 358.72,353.40 359.22,352.32 359.72,351.96 360.22,351.68 360.72,352.90 361.22,353.63 361.72,354.25 362.22,355.02 362.73,355.00 363.23,354.95 363.73,355.07 364.23,355.06 364.73,355.07 365.23,355.14 365.73,354.99 366.23,355.31 366.73,355.46 367.23,355.30 367.73,354.94 368.23,354.85 368.73,355.08 369.23,354.90 369.73,355.21 370.23,354.74 370.73,354.50 371.23,353.86 371.73,353.77 372.24,353.42 372.74,353.56 373.24,354.32 373.74,354.27 374.24,354.54 374.74,354.97 375.24,355.15 375.74,354.75 376.24,354.61 376.74,354.89 377.24,354.92 377.74,354.80 378.24,354.43 378.74,354.51 379.24,354.87 379.74,354.32 380.24,354.59 380.74,354.86 381.24,354.80 381.75,354.36 382.25,354.43 382.75,354.43 383.25,354.19 383.75,354.47 384.25,354.22 384.75,354.57 385.25,354.13 385.75,354.22 386.25,354.21 386.75,354.35 387.25,353.71 387.75,354.54 388.25,354.23 388.75,354.30 389.25,354.56 389.75,354.24 390.25,354.32 390.75,354.23 391.25,354.39 391.76,354.33 392.26,354.43 392.76,354.11 393.26,353.85 393.76,354.16 394.26,353.80 394.76,354.05 395.26,353.95 395.76,353.49 396.26,353.91 396.76,353.73 397.26,353.64 397.76,353.50 398.26,354.03 398.76,354.06 399.26,353.61 399.76,353.61 400.26,353.64 400.76,353.57 401.27,353.95 401.77,353.55 402.27,354.00 402.77,353.15 403.27,353.21 403.77,353.63 404.27,352.75 404.77,351.20 405.27,350.63 405.77,348.80 406.27,348.21 406.77,348.31 407.27,350.70 407.77,351.96 408.27,352.85 408.77,353.22 409.27,353.01 409.77,353.18 410.27,353.57 410.78,353.69 411.28,353.59 411.78,353.51 412.28,353.44 412.78,353.50 413.28,353.89 413.78,353.34 414.28,352.91 414.78,353.36 415.28,353.12 415.78,352.89 416.28,352.78 416.78,353.20 417.28,352.76 417.78,352.78 418.28,352.50 418.78,352.88 419.28,352.38 419.78,352.26 420.28,351.88 420.79,351.86 421.29,352.37 421.79,351.81 422.29,352.30 422.79,352.18 423.29,352.18 423.79,352.20 424.29,352.20 424.79,352.52 425.29,352.21 425.79,351.62 426.29,351.44 426.79,351.22 427.29,349.81 427.79,349.59 428.29,349.54 428.79,350.30 429.29,350.58 429.79,351.90 430.30,351.87 430.80,352.50 431.30,352.34 431.80,352.72 432.30,352.53 432.80,352.30 433.30,352.73 433.80,352.39 434.30,352.79 434.80,351.98" fill="none" stroke="#111111" stroke-width="1.55" stroke-linejoin="round" />
<line x1="480.00" y1="211.00" x2="476.20" y2="219.50" stroke="#29a9e0" stroke-width="0.9" />
<path d="M475.3,221.8 L474.6,217.2 L478.2,218.8 Z" fill="#29a9e0"/>
<line x1="462.20" y1="224.80" x2="465.30" y2="230.50" stroke="#231f20" stroke-width="0.8" />
<path d="M466.2,232.6 L463.3,229.6 L466.7,228.6 Z" fill="#231f20"/>
<text x="531.50" y="200.00" font-size="12" text-anchor="start" font-weight="bold" font-style="normal" fill="#231f20" font-family='"Liberation Sans", sans-serif' >h</text>
<line x1="575.10" y1="206.50" x2="575.10" y2="330.20" stroke="#231f20" stroke-width="1.6" />
<line x1="569.50" y1="324.90" x2="575.10" y2="324.90" stroke="#231f20" stroke-width="1.4" />
<line x1="572.10" y1="320.02" x2="575.10" y2="320.02" stroke="#231f20" stroke-width="1.1" />
<line x1="572.10" y1="315.14" x2="575.10" y2="315.14" stroke="#231f20" stroke-width="1.1" />
<line x1="572.10" y1="310.26" x2="575.10" y2="310.26" stroke="#231f20" stroke-width="1.1" />
<line x1="572.10" y1="305.38" x2="575.10" y2="305.38" stroke="#231f20" stroke-width="1.1" />
<line x1="572.10" y1="300.50" x2="575.10" y2="300.50" stroke="#231f20" stroke-width="1.1" />
<line x1="572.10" y1="295.62" x2="575.10" y2="295.62" stroke="#231f20" stroke-width="1.1" />
<line x1="572.10" y1="290.74" x2="575.10" y2="290.74" stroke="#231f20" stroke-width="1.1" />
<line x1="572.10" y1="285.86" x2="575.10" y2="285.86" stroke="#231f20" stroke-width="1.1" />
<line x1="572.10" y1="280.98" x2="575.10" y2="280.98" stroke="#231f20" stroke-width="1.1" />
<line x1="569.50" y1="276.10" x2="575.10" y2="276.10" stroke="#231f20" stroke-width="1.4" />
<line x1="572.10" y1="271.22" x2="575.10" y2="271.22" stroke="#231f20" stroke-width="1.1" />
<line x1="572.10" y1="266.34" x2="575.10" y2="266.34" stroke="#231f20" stroke-width="1.1" />
<line x1="572.10" y1="261.46" x2="575.10" y2="261.46" stroke="#231f20" stroke-width="1.1" />
<line x1="572.10" y1="256.58" x2="575.10" y2="256.58" stroke="#231f20" stroke-width="1.1" />
<line x1="572.10" y1="251.70" x2="575.10" y2="251.70" stroke="#231f20" stroke-width="1.1" />
<line x1="572.10" y1="246.82" x2="575.10" y2="246.82" stroke="#231f20" stroke-width="1.1" />
<line x1="572.10" y1="241.94" x2="575.10" y2="241.94" stroke="#231f20" stroke-width="1.1" />
<line x1="572.10" y1="237.06" x2="575.10" y2="237.06" stroke="#231f20" stroke-width="1.1" />
<line x1="572.10" y1="232.18" x2="575.10" y2="232.18" stroke="#231f20" stroke-width="1.1" />
<line x1="569.50" y1="227.30" x2="575.10" y2="227.30" stroke="#231f20" stroke-width="1.4" />
<line x1="572.10" y1="222.42" x2="575.10" y2="222.42" stroke="#231f20" stroke-width="1.1" />
<line x1="572.10" y1="217.54" x2="575.10" y2="217.54" stroke="#231f20" stroke-width="1.1" />
<line x1="572.10" y1="212.66" x2="575.10" y2="212.66" stroke="#231f20" stroke-width="1.1" />
<line x1="572.10" y1="207.78" x2="575.10" y2="207.78" stroke="#231f20" stroke-width="1.1" />
<text x="567.80" y="328.30" font-size="9.4" text-anchor="end" font-weight="bold" font-style="normal" fill="#231f20" font-family='"Liberation Sans", sans-serif' textLength="4.9" lengthAdjust="spacingAndGlyphs">0</text>
<text x="567.80" y="279.50" font-size="9.4" text-anchor="end" font-weight="bold" font-style="normal" fill="#231f20" font-family='"Liberation Sans", sans-serif' textLength="9.8" lengthAdjust="spacingAndGlyphs">50</text>
<text x="567.80" y="230.70" font-size="9.4" text-anchor="end" font-weight="bold" font-style="normal" fill="#231f20" font-family='"Liberation Sans", sans-serif' textLength="14.7" lengthAdjust="spacingAndGlyphs">100</text>
<line x1="574.30" y1="329.60" x2="657.50" y2="329.60" stroke="#231f20" stroke-width="1.6" />
<line x1="579.80" y1="329.60" x2="579.80" y2="334.40" stroke="#231f20" stroke-width="1.4" />
<text x="579.80" y="345.80" font-size="8.9" text-anchor="middle" font-weight="bold" font-style="normal" fill="#231f20" font-family='"Liberation Sans", sans-serif' >0</text>
<line x1="605.33" y1="329.60" x2="605.33" y2="334.40" stroke="#231f20" stroke-width="1.4" />
<text x="605.33" y="345.80" font-size="8.9" text-anchor="middle" font-weight="bold" font-style="normal" fill="#231f20" font-family='"Liberation Sans", sans-serif' >10</text>
<line x1="630.86" y1="329.60" x2="630.86" y2="334.40" stroke="#231f20" stroke-width="1.4" />
<text x="630.86" y="345.80" font-size="8.9" text-anchor="middle" font-weight="bold" font-style="normal" fill="#231f20" font-family='"Liberation Sans", sans-serif' >20</text>
<line x1="656.39" y1="329.60" x2="656.39" y2="334.40" stroke="#231f20" stroke-width="1.4" />
<text x="656.39" y="345.80" font-size="8.9" text-anchor="middle" font-weight="bold" font-style="normal" fill="#231f20" font-family='"Liberation Sans", sans-serif' >30</text>
<polyline points="579.80,227.30 580.06,230.21 580.31,233.03 580.57,235.77 580.82,238.43 581.08,241.01 581.33,243.51 581.59,245.94 581.84,248.29 582.10,250.57 582.35,252.79 582.61,254.94 582.86,257.03 583.12,259.05 583.37,261.01 583.63,262.92 583.88,264.77 584.14,266.56 584.40,268.30 584.65,269.99 584.91,271.62 585.16,273.21 585.42,274.75 585.67,276.25 585.93,277.70 586.18,279.11 586.44,280.47 586.69,281.80 586.95,283.08 587.20,284.33 587.46,285.54 587.71,286.71 587.97,287.85 588.22,288.95 588.48,290.03 588.74,291.07 588.99,292.07 589.25,293.05 589.50,294.00 589.76,294.92 590.01,295.82 590.27,296.68 590.52,297.53 590.78,298.34 591.03,299.13 591.29,299.90 591.54,300.65 591.80,301.37 592.05,302.07 592.31,302.75 592.56,303.41 592.82,304.05 593.08,304.68 593.33,305.28 593.59,305.86 593.84,306.43 594.10,306.98 594.35,307.52 594.61,308.03 594.86,308.54 595.12,309.02 595.37,309.50 595.63,309.96 595.88,310.40 596.14,310.83 596.39,311.25 596.65,311.66 596.91,312.06 597.16,312.44 597.42,312.81 597.67,313.17 597.93,313.52 598.18,313.86 598.44,314.19 598.69,314.51 598.95,314.82 599.20,315.12 599.46,315.41 599.71,315.69 599.97,315.97 600.22,316.23 600.48,316.49 600.73,316.74 600.99,316.99 601.25,317.22 601.50,317.45 601.76,317.67 602.01,317.89 602.27,318.10 602.52,318.30 602.78,318.50 603.03,318.69 603.29,318.87 603.54,319.05 603.80,319.23 604.05,319.40 604.31,319.56 604.56,319.72 604.82,319.87 605.07,320.02 605.33,320.17 605.59,320.31 605.84,320.45 606.10,320.58 606.35,320.71 606.61,320.83 606.86,320.96 607.12,321.07 607.37,321.19 607.63,321.30 607.88,321.40 608.14,321.51 608.39,321.61 608.65,321.71 608.90,321.80 609.16,321.90 609.41,321.99 609.67,322.07 609.93,322.16 610.18,322.24 610.44,322.32 610.69,322.39 610.95,322.47 611.20,322.54 611.46,322.61 611.71,322.68 611.97,322.75 612.22,322.81 612.48,322.87 612.73,322.93 612.99,322.99 613.24,323.05 613.50,323.10 613.75,323.16 614.01,323.21 614.27,323.26 614.52,323.31 614.78,323.36 615.03,323.40 615.29,323.45 615.54,323.49 615.80,323.53 616.05,323.57 616.31,323.61 616.56,323.65 616.82,323.69 617.07,323.72 617.33,323.76 617.58,323.79 617.84,323.83 618.09,323.86 618.35,323.89 618.61,323.92 618.86,323.95 619.12,323.98 619.37,324.00 619.63,324.03 619.88,324.06 620.14,324.08 620.39,324.11 620.65,324.13 620.90,324.15 621.16,324.18 621.41,324.20 621.67,324.22 621.92,324.24 622.18,324.26 622.44,324.28 622.69,324.30 622.95,324.31 623.20,324.33 623.46,324.35 623.71,324.36 623.97,324.38 624.22,324.40 624.48,324.41 624.73,324.43 624.99,324.44 625.24,324.45 625.50,324.47 625.75,324.48 626.01,324.49 626.26,324.50 626.52,324.52 626.78,324.53 627.03,324.54 627.29,324.55 627.54,324.56 627.80,324.57 628.05,324.58 628.31,324.59 628.56,324.60 628.82,324.61 629.07,324.62 629.33,324.63 629.58,324.63 629.84,324.64 630.09,324.65 630.35,324.66 630.60,324.66 630.86,324.67 631.12,324.68 631.37,324.68 631.63,324.69 631.88,324.70 632.14,324.70 632.39,324.71 632.65,324.71 632.90,324.72 633.16,324.73 633.41,324.73 633.67,324.74 633.92,324.74 634.18,324.75 634.43,324.75 634.69,324.75 634.94,324.76 635.20,324.76 635.46,324.77 635.71,324.77 635.97,324.77 636.22,324.78 636.48,324.78 636.73,324.79 636.99,324.79 637.24,324.79 637.50,324.80 637.75,324.80 638.01,324.80 638.26,324.80 638.52,324.81 638.77,324.81 639.03,324.81 639.28,324.82 639.54,324.82 639.80,324.82 640.05,324.82 640.31,324.83 640.56,324.83 640.82,324.83 641.07,324.83" fill="none" stroke="#111" stroke-width="0.9" stroke-linejoin="round" />
<circle cx="579.80" cy="227.30" r="3.0" fill="none" stroke="#e8302a" stroke-width="1.3"/>
<circle cx="580.82" cy="229.25" r="3.0" fill="none" stroke="#e8302a" stroke-width="1.3"/>
<circle cx="583.12" cy="250.72" r="3.0" fill="none" stroke="#e8302a" stroke-width="1.3"/>
<circle cx="584.91" cy="263.90" r="3.0" fill="none" stroke="#e8302a" stroke-width="1.3"/>
<circle cx="590.52" cy="291.23" r="3.0" fill="none" stroke="#e8302a" stroke-width="1.3"/>
<circle cx="600.22" cy="318.17" r="3.0" fill="none" stroke="#e8302a" stroke-width="1.3"/>
<circle cx="641.07" cy="324.12" r="3.0" fill="none" stroke="#e8302a" stroke-width="1.3"/>
<text x="548.60" y="272.50" font-size="10.4" text-anchor="middle" font-weight="normal" font-style="normal" fill="#333" font-family='"Liberation Sans", sans-serif' transform="rotate(-90 548.6 272.5)" textLength="97" lengthAdjust="spacingAndGlyphs">BGD remaining ( % )</text>
<text x="600.20" y="225.40" font-size="10.4" text-anchor="start" font-weight="normal" font-style="normal" fill="#444" font-family='"Liberation Sans", sans-serif' >t</text>
<text x="603.40" y="227.60" font-size="6.0" text-anchor="start" font-weight="normal" font-style="normal" fill="#444" font-family='"Liberation Sans", sans-serif' >1/2</text>
<text x="615.20" y="225.40" font-size="10.4" text-anchor="start" font-weight="normal" font-style="normal" fill="#444" font-family='"Liberation Sans", sans-serif' textLength="38.3" lengthAdjust="spacingAndGlyphs">= 2.29 h</text>
<text x="567.50" y="364.00" font-size="10.6" text-anchor="start" font-weight="normal" font-style="normal" fill="#333" font-family='"Liberation Sans", sans-serif' textLength="92" lengthAdjust="spacingAndGlyphs">Incubation time ( h )</text>
<text x="3.00" y="360.00" font-size="12" text-anchor="start" font-weight="bold" font-style="normal" fill="#231f20" font-family='"Liberation Sans", sans-serif' >i</text>
<line x1="35.70" y1="405.40" x2="288.90" y2="405.40" stroke="#231f20" stroke-width="1.0" />
<line x1="35.70" y1="397.30" x2="35.70" y2="413.80" stroke="#231f20" stroke-width="1.0" />
<text x="35.70" y="428.90" font-size="10.5" text-anchor="middle" font-weight="normal" font-style="normal" fill="#231f20" font-family='"Liberation Sans", sans-serif' >Day 0</text>
<line x1="75.40" y1="397.30" x2="75.40" y2="413.80" stroke="#231f20" stroke-width="1.0" />
<text x="75.40" y="428.90" font-size="10.5" text-anchor="middle" font-weight="normal" font-style="normal" fill="#231f20" font-family='"Liberation Sans", sans-serif' >Day 1</text>
<line x1="146.00" y1="397.30" x2="146.00" y2="413.80" stroke="#231f20" stroke-width="1.0" />
<text x="146.00" y="428.90" font-size="10.5" text-anchor="middle" font-weight="normal" font-style="normal" fill="#231f20" font-family='"Liberation Sans", sans-serif' >Day 3</text>
<line x1="214.90" y1="397.30" x2="214.90" y2="413.80" stroke="#231f20" stroke-width="1.0" />
<text x="214.90" y="428.90" font-size="10.5" text-anchor="middle" font-weight="normal" font-style="normal" fill="#231f20" font-family='"Liberation Sans", sans-serif' >Day 5</text>
<line x1="254.40" y1="397.30" x2="254.40" y2="413.80" stroke="#231f20" stroke-width="1.0" />
<text x="254.40" y="428.90" font-size="10.5" text-anchor="middle" font-weight="normal" font-style="normal" fill="#231f20" font-family='"Liberation Sans", sans-serif' >Day 6</text>
<line x1="288.90" y1="397.30" x2="288.90" y2="413.80" stroke="#231f20" stroke-width="1.0" />
<text x="288.90" y="428.90" font-size="10.5" text-anchor="middle" font-weight="normal" font-style="normal" fill="#231f20" font-family='"Liberation Sans", sans-serif' >Day 7</text>
<line x1="35.70" y1="382.60" x2="35.70" y2="392.20" stroke="#29abe2" stroke-width="0.9" />
<path d="M33.70,391.20 L37.70,391.20 L35.70,395.20 Z" fill="#29abe2"/>
<line x1="214.90" y1="382.60" x2="214.90" y2="392.20" stroke="#29abe2" stroke-width="0.9" />
<path d="M212.90,391.20 L216.90,391.20 L214.90,395.20 Z" fill="#29abe2"/>
<line x1="254.40" y1="382.60" x2="254.40" y2="392.20" stroke="#29abe2" stroke-width="0.9" />
<path d="M252.40,391.20 L256.40,391.20 L254.40,395.20 Z" fill="#29abe2"/>
<line x1="288.90" y1="382.60" x2="288.90" y2="392.20" stroke="#29abe2" stroke-width="0.9" />
<path d="M286.90,391.20 L290.90,391.20 L288.90,395.20 Z" fill="#29abe2"/>
<text x="35.70" y="379.40" font-size="10.5" text-anchor="middle" font-weight="normal" font-style="normal" fill="#231f20" font-family='"Liberation Sans", sans-serif' >M-CSF</text>
<text x="215.70" y="379.40" font-size="10.5" text-anchor="middle" font-weight="normal" font-style="normal" fill="#231f20" font-family='"Liberation Sans", sans-serif' >Peptides</text>
<text x="255.80" y="367.00" font-size="10.5" text-anchor="middle" font-weight="normal" font-style="normal" fill="#231f20" font-family='"Liberation Sans", sans-serif' >TRAP</text>
<text x="255.20" y="379.40" font-size="10.5" text-anchor="middle" font-weight="normal" font-style="normal" fill="#231f20" font-family='"Liberation Sans", sans-serif' >IF</text>
<text x="289.10" y="379.40" font-size="10.5" text-anchor="middle" font-weight="normal" font-style="normal" fill="#231f20" font-family='"Liberation Sans", sans-serif' >SEM</text>
<line x1="75.40" y1="441.90" x2="214.90" y2="441.90" stroke="#231f20" stroke-width="0.9" />
<line x1="75.40" y1="441.90" x2="75.40" y2="435.00" stroke="#231f20" stroke-width="0.9" />
<path d="M73.50,436.00 L77.30,436.00 L75.40,432.00 Z" fill="#231f20"/>
<line x1="146.00" y1="441.90" x2="146.00" y2="435.00" stroke="#231f20" stroke-width="0.9" />
<path d="M144.10,436.00 L147.90,436.00 L146.00,432.00 Z" fill="#231f20"/>
<line x1="214.90" y1="441.90" x2="214.90" y2="435.00" stroke="#231f20" stroke-width="0.9" />
<path d="M213.00,436.00 L216.80,436.00 L214.90,432.00 Z" fill="#231f20"/>
<text x="145.40" y="454.50" font-size="10.5" text-anchor="middle" font-weight="normal" font-style="normal" fill="#231f20" font-family='"Liberation Sans", sans-serif' >M-CSF + RANKL</text>
<text x="1.50" y="475.50" font-size="12" text-anchor="start" font-weight="bold" font-style="normal" fill="#231f20" font-family='"Liberation Sans", sans-serif' >j</text>
<line x1="119.90" y1="481.40" x2="275.00" y2="481.40" stroke="#231f20" stroke-width="1.2" />
<text x="201.10" y="479.90" font-size="10.2" text-anchor="middle" font-weight="normal" font-style="normal" fill="#231f20" font-family='"Liberation Sans", sans-serif' >BGD</text>
<text x="51.00" y="492.50" font-size="10.2" text-anchor="middle" font-weight="normal" font-style="normal" fill="#231f20" font-family='"Liberation Sans", sans-serif' >RANKL</text>
<text x="124.50" y="492.50" font-size="10.2" text-anchor="middle" font-weight="normal" font-style="normal" fill="#231f20" font-family='"Liberation Sans", sans-serif' >16 µM</text>
<text x="198.60" y="492.50" font-size="10.2" text-anchor="middle" font-weight="normal" font-style="normal" fill="#231f20" font-family='"Liberation Sans", sans-serif' >32 µM</text>
<text x="273.20" y="492.50" font-size="10.2" text-anchor="middle" font-weight="normal" font-style="normal" fill="#231f20" font-family='"Liberation Sans", sans-serif' >64 µM</text>
<text x="51.00" y="560.60" font-size="10.2" text-anchor="middle" font-weight="normal" font-style="normal" fill="#231f20" font-family='"Liberation Sans", sans-serif' >RANKL</text>
<text x="124.50" y="560.60" font-size="10.2" text-anchor="middle" font-weight="normal" font-style="normal" fill="#231f20" font-family='"Liberation Sans", sans-serif' >BGD</text>
<text x="201.20" y="560.60" font-size="10.2" text-anchor="middle" font-weight="normal" font-style="normal" fill="#231f20" font-family='"Liberation Sans", sans-serif' textLength="75">BGD + Balicatib</text>
<text x="273.20" y="560.60" font-size="10.2" text-anchor="middle" font-weight="normal" font-style="normal" fill="#231f20" font-family='"Liberation Sans", sans-serif' >BAD</text>
<line x1="9.00" y1="522.00" x2="9.00" y2="591.00" stroke="#231f20" stroke-width="1.1" />
<text x="7.30" y="555.10" font-size="8" text-anchor="middle" font-weight="normal" font-style="normal" fill="#231f20" font-family='"Liberation Sans", sans-serif' transform="rotate(-90 7.3 555.1)" >TRAP staining</text>
<g clip-path="url(#cj00)">
<rect x="11.70" y="494.20" width="73.50" height="55.20" fill="#f3edf3" />
<path d="M21.5,531.7 C22.4,532.2 24.7,529.6 26.8,528.0 C29.0,526.5 34.2,523.9 34.3,522.6 C34.4,521.2 29.5,520.9 27.3,519.8 C25.2,518.6 22.5,514.8 21.5,515.7 C20.5,516.5 21.3,522.3 21.3,524.9 C21.3,527.6 20.6,531.2 21.5,531.7 Z" fill="#dabcda" stroke="#c07fb6" stroke-width="0.6" opacity="0.95"/>
<path d="M61.4,527.9 C59.1,527.8 60.5,528.7 59.5,528.9 C58.5,529.0 55.6,528.1 55.4,528.8 C55.3,529.5 57.5,531.7 58.5,533.2 C59.5,534.7 59.6,536.2 61.4,537.8 C63.2,539.4 66.6,540.7 69.4,542.8 C72.2,544.8 75.8,548.9 77.9,550.1 C80.1,551.3 80.6,549.6 82.1,549.7 C83.5,549.7 85.8,551.7 86.4,550.5 C87.1,549.3 86.0,545.5 85.9,542.7 C85.9,539.9 88.5,535.9 86.4,533.7 C84.3,531.5 77.5,530.4 73.3,529.5 C69.1,528.5 63.7,528.0 61.4,527.9 Z" fill="#dabcda" stroke="#c07fb6" stroke-width="0.6" opacity="0.95"/>
<path d="M53.9,526.7 C54.8,526.7 56.8,527.1 58.0,526.8 C59.1,526.6 59.3,526.3 60.8,525.2 C62.3,524.0 65.1,521.5 66.9,519.9 C68.8,518.3 71.2,516.5 72.1,515.6 C73.0,514.8 72.3,515.3 72.2,514.8 C72.1,514.3 72.4,513.5 71.5,512.8 C70.6,512.1 68.0,511.0 66.8,510.6 C65.5,510.1 66.0,509.7 64.2,510.1 C62.4,510.4 59.0,511.4 56.0,512.5 C53.1,513.7 48.1,515.9 46.4,516.9 C44.8,517.8 46.2,517.9 46.2,518.2 C46.2,518.6 46.1,518.5 46.4,519.1 C46.7,519.8 47.4,521.3 48.1,522.2 C48.7,523.2 49.5,524.1 50.2,524.9 C51.0,525.7 51.9,526.8 52.5,527.1 C53.1,527.4 53.0,526.8 53.9,526.7 Z" fill="#d8b8d8" stroke="#c07fb6" stroke-width="0.6" opacity="0.95"/>
<path d="M74.0,517.8 C72.0,517.1 69.6,519.3 67.9,520.6 C66.2,521.9 62.6,524.2 63.7,525.6 C64.8,527.0 70.7,528.1 74.4,529.0 C78.2,529.8 84.4,530.3 86.3,530.5 C88.2,530.8 85.9,530.4 85.9,530.3 C85.9,530.2 87.3,530.8 86.3,529.8 C85.3,528.9 82.1,526.4 80.1,524.4 C78.0,522.4 76.0,518.4 74.0,517.8 Z" fill="#cea8cf" stroke="#c07fb6" stroke-width="0.6" opacity="0.95"/>
<path d="M18.7,531.4 C19.4,530.4 18.7,526.9 18.7,524.1 C18.8,521.4 19.0,516.8 18.9,515.0 C18.9,513.3 18.4,513.9 18.4,513.7 C18.3,513.5 19.0,512.6 18.6,513.7 C18.2,514.7 17.1,517.9 15.8,520.0 C14.5,522.1 11.5,524.6 10.6,526.2 C9.7,527.9 10.2,529.0 10.3,529.7 C10.5,530.5 10.6,530.9 11.3,531.0 C12.0,531.0 13.0,530.1 14.3,530.1 C15.5,530.2 17.9,532.4 18.7,531.4 Z" fill="#d8b8d8" stroke="#c07fb6" stroke-width="0.6" opacity="0.95"/>
<path d="M20.9,536.2 C21.1,534.6 21.4,534.2 21.3,533.9 C21.1,533.6 20.1,533.9 19.8,534.1 C19.6,534.3 19.7,534.9 19.7,534.9 C19.6,535.0 20.1,534.6 19.5,534.2 C18.9,533.8 17.8,532.7 16.4,532.5 C14.9,532.4 11.8,531.9 11.0,533.5 C10.2,535.0 11.7,539.0 11.6,541.8 C11.5,544.7 9.8,549.3 10.5,550.5 C11.1,551.7 14.2,549.2 15.7,549.1 C17.2,549.1 18.8,551.1 19.5,550.2 C20.2,549.3 19.9,546.1 20.2,543.7 C20.4,541.4 20.7,537.8 20.9,536.2 Z" fill="#d2aed3" stroke="#c07fb6" stroke-width="0.6" opacity="0.95"/>
<path d="M73.2,512.1 C72.5,513.4 74.7,513.4 74.8,513.9 C75.0,514.5 73.3,514.3 74.3,515.3 C75.2,516.4 78.6,518.2 80.6,520.1 C82.6,522.0 85.4,528.0 86.2,526.8 C86.9,525.6 85.1,517.4 85.2,512.9 C85.2,508.5 87.5,501.3 86.5,500.1 C85.5,499.0 81.4,504.0 79.2,506.0 C76.9,508.0 74.0,510.7 73.2,512.1 Z" fill="#cea8cf" stroke="#c07fb6" stroke-width="0.6" opacity="0.95"/>
<path d="M47.9,526.1 C48.5,523.7 47.9,523.3 47.4,522.4 C47.0,521.4 46.2,520.5 45.1,520.5 C43.9,520.4 42.1,521.6 40.7,522.1 C39.3,522.6 38.5,522.4 36.7,523.5 C34.9,524.6 32.2,527.1 29.9,528.7 C27.6,530.3 23.7,532.2 22.8,533.1 C21.8,534.1 23.9,534.0 23.9,534.4 C23.9,534.8 21.6,534.5 22.8,535.6 C24.0,536.7 28.3,539.2 31.1,541.0 C34.0,542.9 37.7,547.6 39.9,546.9 C42.1,546.1 42.9,539.9 44.2,536.4 C45.5,532.9 47.4,528.4 47.9,526.1 Z" fill="#dcc0dc" stroke="#c07fb6" stroke-width="0.6" opacity="0.95"/>
<path d="M17.6,507.0 C20.6,508.0 26.8,508.6 31.0,509.1 C35.1,509.6 40.4,511.2 42.3,509.8 C44.3,508.5 42.8,503.9 42.5,501.1 C42.2,498.2 43.4,494.1 40.6,492.8 C37.9,491.5 31.0,493.3 26.0,493.4 C20.9,493.5 13.1,493.1 10.4,493.4 C7.7,493.8 9.7,494.8 9.7,495.5 C9.8,496.2 10.2,496.3 10.8,497.6 C11.4,498.8 12.2,501.6 13.3,503.2 C14.5,504.8 14.7,506.0 17.6,507.0 Z" fill="#dabcda" stroke="#c07fb6" stroke-width="0.6" opacity="0.95"/>
<path d="M36.1,521.0 C38.3,521.7 38.8,521.5 40.1,521.1 C41.5,520.7 43.9,519.2 44.4,518.6 C44.9,518.0 43.2,517.7 43.2,517.3 C43.1,516.9 44.3,517.0 44.2,516.3 C44.0,515.6 42.7,513.9 42.5,513.1 C42.4,512.3 45.4,512.0 43.4,511.5 C41.3,510.9 34.4,510.3 30.4,509.9 C26.4,509.5 20.9,509.2 19.2,509.1 C17.5,509.1 20.2,509.1 20.1,509.5 C20.1,509.9 18.8,510.9 18.9,511.4 C19.0,511.9 20.3,512.4 20.6,512.7 C21.0,513.1 20.0,512.8 21.1,513.5 C22.2,514.3 24.9,515.7 27.4,517.0 C29.9,518.2 34.0,520.3 36.1,521.0 Z" fill="#d2aed3" stroke="#c07fb6" stroke-width="0.6" opacity="0.95"/>
<path d="M60.2,539.3 C58.1,539.5 57.0,544.2 56.0,546.0 C54.9,547.8 52.4,549.3 53.8,550.0 C55.1,550.7 60.6,550.2 64.1,550.2 C67.6,550.3 74.1,551.4 74.8,550.5 C75.5,549.6 70.8,546.7 68.3,544.8 C65.9,543.0 62.3,539.1 60.2,539.3 Z" fill="#dcc0dc" stroke="#c07fb6" stroke-width="0.6" opacity="0.95"/>
<path d="M38.7,549.0 C37.2,548.0 33.6,545.0 31.0,543.1 C28.4,541.2 24.4,537.5 22.9,537.5 C21.4,537.6 22.2,541.2 22.0,543.4 C21.8,545.6 20.1,549.6 21.7,550.7 C23.3,551.8 28.8,549.8 31.7,549.7 C34.6,549.6 37.5,550.2 38.9,550.1 C40.3,549.9 40.1,549.0 40.1,548.8 C40.1,548.7 40.2,549.9 38.7,549.0 Z" fill="#cea8cf" stroke="#c07fb6" stroke-width="0.6" opacity="0.95"/>
<path d="M58.4,537.9 C58.5,536.1 55.9,535.3 54.9,533.9 C53.9,532.4 53.1,530.3 52.5,529.3 C51.9,528.4 51.8,528.3 51.3,528.1 C50.7,527.9 50.5,526.3 49.3,528.0 C48.2,529.6 45.7,534.6 44.5,538.1 C43.2,541.5 42.4,546.7 41.8,548.8 C41.3,550.8 41.2,550.2 41.1,550.4 C41.0,550.7 40.4,550.3 41.3,550.4 C42.2,550.4 44.8,550.9 46.3,550.8 C47.9,550.8 49.2,551.1 50.5,550.2 C51.9,549.3 53.0,547.2 54.4,545.2 C55.7,543.2 58.3,539.8 58.4,537.9 Z" fill="#d2aed3" stroke="#c07fb6" stroke-width="0.6" opacity="0.95"/>
<path d="M85.9,497.3 C87.1,495.5 86.4,495.3 86.4,494.5 C86.4,493.8 87.8,493.3 86.1,492.9 C84.4,492.5 79.5,492.2 76.4,492.3 C73.4,492.4 69.2,491.9 67.7,493.4 C66.2,495.0 68.1,499.0 67.7,501.5 C67.3,504.1 65.3,507.2 65.4,508.6 C65.6,510.0 67.4,509.6 68.5,509.9 C69.6,510.3 70.3,511.6 72.1,510.8 C74.0,509.9 77.2,507.1 79.5,504.8 C81.8,502.6 84.8,499.0 85.9,497.3 Z" fill="#d8b8d8" stroke="#c07fb6" stroke-width="0.6" opacity="0.95"/>
<path d="M44.9,511.0 C45.1,512.6 45.8,511.6 46.1,512.1 C46.4,512.7 45.4,514.1 46.7,514.2 C48.0,514.2 50.9,513.3 53.8,512.3 C56.6,511.2 62.0,509.9 64.0,508.1 C65.9,506.2 65.1,503.5 65.3,501.1 C65.6,498.7 67.2,494.7 65.5,493.6 C63.8,492.5 58.6,494.5 54.9,494.4 C51.2,494.3 45.0,491.8 43.3,493.1 C41.6,494.4 44.5,499.1 44.7,502.1 C45.0,505.1 44.6,509.3 44.9,511.0 Z" fill="#d8b8d8" stroke="#c07fb6" stroke-width="0.6" opacity="0.95"/>
<path d="M16.4,508.3 C15.8,507.1 14.0,504.9 13.2,503.7 C12.3,502.6 11.3,500.2 11.1,501.4 C10.8,502.7 11.8,507.6 11.7,511.1 C11.6,514.6 10.2,521.4 10.4,522.4 C10.6,523.3 12.1,518.6 13.1,516.8 C14.2,515.0 16.1,512.7 16.7,511.7 C17.3,510.6 16.6,511.3 16.6,510.7 C16.5,510.2 17.0,509.4 16.4,508.3 Z" fill="#cea8cf" stroke="#c07fb6" stroke-width="0.6" opacity="0.95"/>
<rect x="11.70" y="494.20" width="73.50" height="55.20" fill="#000" filter="url(#nj2)" opacity="0.55"/>
<rect x="11.70" y="494.20" width="73.50" height="55.20" fill="#000" filter="url(#nj3)" opacity="0.3"/>
<path d="M73.4 537.8l-0.1 0.4M68.9 496.0l-0.5 -0.1M41.3 530.6l0.1 -0.2M20.4 504.3l0.2 -0.3M54.2 524.5l0.1 0.2M14.3 524.3l0.0 0.3" stroke="#b0437f" stroke-width="1.6" stroke-linecap="round" opacity="0.36" fill="none"/>
<path d="M11.8 517.6l0.3 0.2M38.7 547.1l-0.2 -0.1M63.8 531.3l-0.1 0.4M48.0 536.2l-0.5 -0.1M85.1 509.9l0.5 0.1M65.2 549.0l-0.2 -0.1M34.1 516.1l0.1 -0.0" stroke="#b0437f" stroke-width="1.1" stroke-linecap="round" opacity="0.64" fill="none"/>
<path d="M47.7 533.6l-0.4 0.3M67.1 540.0l-0.2 0.0M32.3 549.2l0.1 0.0M30.2 507.0l0.3 -0.4M16.0 512.6l0.1 0.2" stroke="#b0437f" stroke-width="0.7" stroke-linecap="round" opacity="0.64" fill="none"/>
<path d="M32.8 494.7l0.3 0.4M84.1 515.6l0.1 0.2M78.9 539.5l0.3 0.3M58.4 507.1l-0.1 -0.0M47.1 509.8l0.2 0.4M22.6 495.6l0.2 -0.4M18.4 513.4l-0.2 0.1M78.3 525.7l-0.4 0.1" stroke="#b0437f" stroke-width="1.1" stroke-linecap="round" opacity="0.36" fill="none"/>
<path d="M69.4 526.1l0.4 0.3M39.8 495.3l0.2 -0.2M50.1 516.2l-0.2 -0.4M13.3 535.6l0.2 -0.1M32.2 532.3l0.3 -0.3" stroke="#b0437f" stroke-width="0.7" stroke-linecap="round" opacity="0.36" fill="none"/>
<path d="M40.3 515.7l-0.4 0.1M49.9 503.2l0.4 0.2M18.5 538.9l0.3 0.3M66.6 525.9l-0.2 -0.1M34.7 499.8l0.5 0.4M23.2 503.7l-0.0 0.1M66.1 530.0l0.3 0.2M48.4 497.1l-0.0 0.1M76.1 499.6l0.1 -0.1" stroke="#b0437f" stroke-width="1.6" stroke-linecap="round" opacity="0.64" fill="none"/>
<ellipse cx="41.0" cy="497.0" rx="2.1" ry="1.0" fill="#8a1d55" opacity="0.9" transform="rotate(77 41.0 497.0)"/>
<ellipse cx="38.0" cy="521.0" rx="2.9" ry="1.4" fill="#8a1d55" opacity="0.9" transform="rotate(146 38.0 521.0)"/>
<ellipse cx="73.0" cy="523.0" rx="1.9" ry="1.0" fill="#8a1d55" opacity="0.9" transform="rotate(1 73.0 523.0)"/>
<ellipse cx="17.0" cy="503.0" rx="1.8" ry="0.9" fill="#8a1d55" opacity="0.9" transform="rotate(89 17.0 503.0)"/>
<ellipse cx="18.0" cy="528.0" rx="1.6" ry="0.8" fill="#8a1d55" opacity="0.9" transform="rotate(126 18.0 528.0)"/>
<ellipse cx="35.0" cy="529.0" rx="1.9" ry="1.0" fill="#8a1d55" opacity="0.9" transform="rotate(35 35.0 529.0)"/>
</g>
<g clip-path="url(#cj01)">
<rect x="86.10" y="494.20" width="73.50" height="55.20" fill="#f3edf3" />
<path d="M123.8,505.9 C124.5,507.8 125.3,509.6 126.3,511.6 C127.3,513.6 126.7,517.5 129.6,517.7 C132.6,518.0 138.8,514.6 143.9,513.1 C149.1,511.7 158.0,510.7 160.5,508.8 C163.1,506.8 159.4,504.2 159.4,501.6 C159.3,499.0 163.1,494.9 160.0,493.4 C156.9,491.8 147.0,492.3 140.8,492.2 C134.5,492.1 125.5,491.5 122.4,492.9 C119.3,494.2 122.0,497.9 122.2,500.1 C122.5,502.3 123.1,504.0 123.8,505.9 Z" fill="#dcc0dc" stroke="#c07fb6" stroke-width="0.6" opacity="0.95"/>
<path d="M139.9,550.4 C140.0,553.0 145.8,551.1 149.2,551.1 C152.6,551.2 158.8,553.4 160.5,550.7 C162.3,548.0 159.7,540.1 159.7,535.0 C159.8,529.9 162.7,520.0 160.9,520.0 C159.1,520.1 152.5,530.1 149.0,535.1 C145.5,540.2 139.9,547.7 139.9,550.4 Z" fill="#dabcda" stroke="#c07fb6" stroke-width="0.6" opacity="0.95"/>
<path d="M116.9,544.0 C117.8,544.8 119.3,544.9 120.3,546.0 C121.3,547.1 121.9,549.7 122.7,550.6 C123.6,551.4 124.9,551.1 125.5,551.0 C126.2,550.9 126.3,552.4 126.7,550.0 C127.1,547.5 127.7,541.0 127.8,536.2 C128.0,531.3 127.8,523.5 127.6,520.9 C127.5,518.2 127.3,520.1 126.9,520.2 C126.6,520.3 126.4,521.2 125.3,521.6 C124.2,522.1 121.8,522.1 120.4,523.0 C119.0,523.9 117.6,525.8 116.9,527.0 C116.1,528.2 116.1,528.8 115.8,530.4 C115.6,532.0 115.4,534.7 115.3,536.4 C115.2,538.2 114.7,539.6 115.0,540.9 C115.3,542.2 116.0,543.1 116.9,544.0 Z" fill="#dcc0dc" stroke="#c07fb6" stroke-width="0.6" opacity="0.95"/>
<path d="M95.5,519.8 C95.4,522.3 95.7,520.7 95.9,520.7 C96.1,520.7 96.5,519.8 96.6,519.8 C96.6,519.9 96.1,521.2 96.2,521.1 C96.3,521.0 96.8,519.5 97.0,519.3 C97.2,519.1 97.2,520.0 97.4,520.0 C97.6,519.9 97.3,519.8 98.1,519.1 C99.0,518.5 100.9,517.6 102.5,516.3 C104.1,515.0 106.8,512.2 107.8,511.3 C108.7,510.4 108.2,511.0 108.1,510.9 C108.1,510.8 107.7,512.1 107.5,510.6 C107.3,509.1 107.2,504.7 107.1,501.8 C107.1,499.0 107.5,494.9 106.9,493.4 C106.4,492.0 105.2,493.3 103.9,493.3 C102.6,493.3 100.4,491.4 99.2,493.5 C98.0,495.5 97.3,501.3 96.7,505.7 C96.1,510.1 95.7,517.3 95.5,519.8 Z" fill="#d8b8d8" stroke="#c07fb6" stroke-width="0.6" opacity="0.95"/>
<path d="M97.5,522.4 C96.3,522.2 99.1,526.7 99.7,528.7 C100.3,530.7 100.4,533.2 100.9,534.3 C101.3,535.5 101.9,534.8 102.3,535.5 C102.8,536.1 102.3,537.4 103.5,538.4 C104.6,539.3 107.4,540.4 109.2,541.0 C110.9,541.7 113.1,542.7 113.8,542.4 C114.6,542.0 113.8,540.1 113.6,539.0 C113.5,538.0 114.1,537.7 112.9,536.2 C111.8,534.7 109.2,532.3 106.6,530.0 C104.1,527.7 98.6,522.7 97.5,522.4 Z" fill="#cea8cf" stroke="#c07fb6" stroke-width="0.6" opacity="0.95"/>
<path d="M114.7,544.6 C113.3,543.5 111.0,542.7 109.0,542.1 C106.9,541.6 104.1,540.5 102.4,541.1 C100.8,541.7 100.4,544.3 98.8,545.8 C97.2,547.2 91.4,549.0 92.8,549.8 C94.1,550.6 102.5,550.5 107.0,550.7 C111.5,550.9 118.1,551.1 119.8,550.8 C121.5,550.4 118.0,549.4 117.1,548.4 C116.3,547.4 116.1,545.6 114.7,544.6 Z" fill="#d8b8d8" stroke="#c07fb6" stroke-width="0.6" opacity="0.95"/>
<path d="M92.9,520.0 C93.9,517.6 94.9,510.0 95.6,505.6 C96.2,501.1 97.6,495.5 96.9,493.4 C96.1,491.4 93.1,493.4 91.1,493.3 C89.1,493.3 85.6,491.2 84.8,493.3 C84.0,495.3 86.4,501.3 86.3,505.7 C86.3,510.1 84.2,517.5 84.7,519.8 C85.3,522.2 88.3,519.8 89.6,519.9 C91.0,519.9 91.9,522.4 92.9,520.0 Z" fill="#d2aed3" stroke="#c07fb6" stroke-width="0.6" opacity="0.95"/>
<path d="M95.4,522.2 C94.9,521.5 94.1,523.0 93.9,522.9 C93.8,522.9 95.3,522.3 94.5,522.0 C93.7,521.7 90.4,521.0 89.0,521.1 C87.5,521.2 86.1,520.7 85.7,522.6 C85.2,524.5 86.3,529.3 86.3,532.5 C86.2,535.7 84.6,540.9 85.4,541.8 C86.2,542.7 88.9,539.0 91.0,537.8 C93.1,536.6 97.2,536.2 98.2,534.5 C99.2,532.7 97.4,529.2 97.0,527.2 C96.5,525.1 95.9,522.9 95.4,522.2 Z" fill="#cea8cf" stroke="#c07fb6" stroke-width="0.6" opacity="0.95"/>
<path d="M116.0,524.6 C118.2,524.7 119.1,523.2 120.1,522.5 C121.2,521.9 123.0,521.8 122.3,520.7 C121.6,519.6 118.1,517.1 115.9,516.0 C113.6,514.8 110.4,513.8 108.7,513.8 C106.9,513.8 106.6,515.0 105.3,515.9 C104.0,516.9 100.7,518.7 101.0,519.7 C101.3,520.7 104.7,521.2 107.2,522.1 C109.7,522.9 113.9,524.5 116.0,524.6 Z" fill="#d2aed3" stroke="#c07fb6" stroke-width="0.6" opacity="0.95"/>
<path d="M101.4,522.5 C101.4,522.8 105.4,525.4 107.5,527.4 C109.6,529.4 112.8,533.6 114.0,534.3 C115.2,535.0 114.6,532.8 114.7,531.5 C114.8,530.2 115.6,527.4 114.4,526.5 C113.2,525.5 109.6,526.4 107.4,525.7 C105.2,525.1 101.4,522.2 101.4,522.5 Z" fill="#cea8cf" stroke="#c07fb6" stroke-width="0.6" opacity="0.95"/>
<path d="M109.9,509.5 C110.9,510.6 114.0,508.3 115.9,507.6 C117.8,506.9 120.5,506.8 121.2,505.2 C121.9,503.7 120.4,500.3 120.3,498.3 C120.3,496.3 122.0,494.0 120.9,493.1 C119.8,492.2 115.8,492.8 113.8,492.8 C111.8,492.9 109.7,492.2 109.0,493.6 C108.3,494.9 109.2,498.2 109.4,500.9 C109.5,503.5 108.8,508.4 109.9,509.5 Z" fill="#dabcda" stroke="#c07fb6" stroke-width="0.6" opacity="0.95"/>
<path d="M110.2,512.1 C110.8,513.3 116.1,514.5 118.5,515.7 C121.0,516.9 124.0,518.8 125.1,519.4 C126.2,520.0 124.7,519.3 125.1,519.2 C125.5,519.1 127.5,519.6 127.4,518.8 C127.3,517.9 125.5,515.8 124.5,514.0 C123.5,512.2 123.0,509.0 121.4,508.1 C119.8,507.2 116.9,508.0 115.0,508.7 C113.1,509.4 109.6,511.0 110.2,512.1 Z" fill="#d8b8d8" stroke="#c07fb6" stroke-width="0.6" opacity="0.95"/>
<path d="M101.2,539.2 C102.1,537.7 100.4,537.2 100.2,536.7 C99.9,536.2 101.0,535.4 99.8,536.0 C98.6,536.7 95.2,539.3 92.8,540.6 C90.3,541.9 86.3,542.8 85.1,543.8 C84.0,544.8 85.9,545.3 86.0,546.4 C86.0,547.6 85.2,550.1 85.3,550.7 C85.4,551.2 85.6,549.6 86.3,549.5 C87.0,549.4 88.0,550.7 89.3,550.1 C90.7,549.5 92.6,547.5 94.6,545.7 C96.5,543.8 100.2,540.7 101.2,539.2 Z" fill="#dabcda" stroke="#c07fb6" stroke-width="0.6" opacity="0.95"/>
<path d="M129.3,519.9 C126.9,520.6 130.0,518.8 130.1,518.8 C130.1,518.8 129.7,517.1 129.6,519.9 C129.5,522.7 129.8,530.4 129.6,535.5 C129.5,540.6 128.4,548.4 128.9,550.7 C129.4,553.1 131.1,549.6 132.5,549.4 C133.8,549.3 134.3,552.5 136.8,549.9 C139.4,547.2 143.8,539.3 147.7,533.6 C151.6,527.9 157.8,519.1 160.1,515.7 C162.4,512.4 161.3,514.0 161.4,513.3 C161.5,512.6 163.7,511.3 160.8,511.5 C158.0,511.7 149.6,513.1 144.3,514.5 C139.1,515.9 131.7,519.1 129.3,519.9 Z" fill="#d2aed3" stroke="#c07fb6" stroke-width="0.6" opacity="0.95"/>
<rect x="86.10" y="494.20" width="73.50" height="55.20" fill="#000" filter="url(#nj2)" opacity="0.55"/>
<rect x="86.10" y="494.20" width="73.50" height="55.20" fill="#000" filter="url(#nj3)" opacity="0.3"/>
<path d="M149.8 541.3l0.2 0.2M138.7 523.4l0.0 0.1M112.4 543.1l-0.3 -0.4M141.0 497.6l0.1 0.1M101.2 543.6l0.3 -0.3M132.1 517.7l0.2 0.0M104.1 513.1l0.4 0.4" stroke="#b0437f" stroke-width="1.6" stroke-linecap="round" opacity="0.64" fill="none"/>
<path d="M153.1 497.2l-0.5 -0.2M135.9 507.8l-0.3 -0.4M99.9 520.5l-0.0 0.4M117.1 537.8l0.2 -0.4M90.0 514.3l0.3 0.1M147.4 523.4l-0.3 -0.1M87.0 519.9l-0.2 -0.0M102.3 533.0l-0.2 0.1M122.0 500.3l0.4 0.1M99.6 547.5l-0.1 0.1M125.5 519.6l0.2 -0.2M145.9 526.1l-0.2 -0.3M113.0 506.2l-0.2 0.3" stroke="#b0437f" stroke-width="1.6" stroke-linecap="round" opacity="0.36" fill="none"/>
<path d="M99.6 504.4l-0.0 -0.4M96.9 545.3l0.4 0.3M114.4 506.7l0.5 0.0M89.0 498.2l0.5 -0.4M135.3 527.1l0.2 -0.1M136.2 511.3l-0.3 -0.4M132.2 533.3l0.1 0.1M142.4 500.4l0.3 0.2M151.6 510.2l-0.1 -0.2M99.4 507.0l-0.3 0.1" stroke="#b0437f" stroke-width="1.1" stroke-linecap="round" opacity="0.64" fill="none"/>
<path d="M158.5 496.3l0.4 0.1M159.2 541.9l0.1 -0.2M115.2 537.3l0.1 0.0M91.2 531.1l0.2 -0.1M144.3 520.0l-0.2 -0.2M93.6 533.4l0.4 0.1M138.7 512.7l0.1 -0.2M100.0 515.2l0.4 0.3M131.4 533.4l0.3 0.2M107.7 497.0l0.4 0.1M99.2 494.7l0.2 0.0" stroke="#b0437f" stroke-width="1.1" stroke-linecap="round" opacity="0.36" fill="none"/>
<path d="M94.1 518.3l-0.3 -0.0M128.6 501.1l0.4 0.2M148.1 505.4l-0.2 0.3M123.5 537.4l0.5 -0.4M113.4 539.8l0.3 -0.3M92.2 513.1l0.3 -0.1M126.3 536.8l-0.3 -0.4M139.7 502.5l0.3 0.0M122.4 525.0l0.3 -0.2" stroke="#b0437f" stroke-width="0.7" stroke-linecap="round" opacity="0.64" fill="none"/>
<path d="M110.8 548.3l0.3 0.1M117.1 523.5l-0.4 -0.0M110.4 521.8l0.0 -0.1M127.6 519.4l-0.4 -0.0M155.3 533.0l-0.4 -0.2M103.6 498.8l0.1 0.1M144.8 540.9l-0.4 -0.3M142.7 543.6l-0.0 0.1M146.1 505.0l-0.1 -0.1M158.7 512.7l-0.5 0.3" stroke="#b0437f" stroke-width="0.7" stroke-linecap="round" opacity="0.36" fill="none"/>
<ellipse cx="111.0" cy="506.0" rx="2.4" ry="1.2" fill="#8a1d55" opacity="0.9" transform="rotate(147 111.0 506.0)"/>
<ellipse cx="131.0" cy="538.0" rx="2.6" ry="1.3" fill="#8a1d55" opacity="0.9" transform="rotate(167 131.0 538.0)"/>
<ellipse cx="114.0" cy="519.0" rx="1.6" ry="0.8" fill="#8a1d55" opacity="0.9" transform="rotate(78 114.0 519.0)"/>
</g>
<g clip-path="url(#cj02)">
<rect x="161.00" y="494.20" width="73.50" height="55.20" fill="#f4f0f5" />
<path d="M188.1,525.3 C189.7,524.9 187.8,525.1 187.7,525.0 C187.7,524.9 188.7,525.6 187.6,524.8 C186.5,524.0 182.9,521.9 181.0,520.3 C179.0,518.8 177.7,515.1 175.9,515.5 C174.1,515.9 171.9,519.8 170.1,522.5 C168.4,525.3 166.3,530.3 165.6,531.9 C164.8,533.5 165.8,532.4 165.8,532.3 C165.9,532.3 163.8,532.4 165.8,531.6 C167.8,530.9 174.2,528.7 177.9,527.7 C181.6,526.6 186.5,525.8 188.1,525.3 Z" fill="#e2cce2" stroke="#c07fb6" stroke-width="0.6" opacity="0.95"/>
<path d="M192.7,546.7 C194.1,546.0 190.9,539.4 190.2,536.3 C189.5,533.1 190.2,528.9 188.4,527.8 C186.6,526.8 182.5,528.8 179.2,529.7 C175.9,530.6 168.3,531.7 168.6,533.4 C168.9,535.2 177.3,537.9 181.3,540.2 C185.3,542.4 191.2,547.3 192.7,546.7 Z" fill="#e6d6e7" stroke="#c07fb6" stroke-width="0.6" opacity="0.95"/>
<path d="M194.6,519.4 C195.7,521.3 203.1,517.7 207.8,517.1 C212.5,516.6 219.0,517.6 222.6,516.2 C226.1,514.8 227.0,511.0 229.2,508.8 C231.4,506.6 234.9,505.0 235.7,503.0 C236.6,501.1 234.4,498.9 234.3,497.3 C234.3,495.8 237.6,494.2 235.4,493.7 C233.2,493.1 225.6,494.0 221.0,494.0 C216.4,494.0 210.8,491.7 207.6,493.7 C204.3,495.7 203.5,501.9 201.4,506.2 C199.2,510.5 193.6,517.6 194.6,519.4 Z" fill="#e2cce2" stroke="#c07fb6" stroke-width="0.6" opacity="0.95"/>
<path d="M216.5,525.9 C215.3,523.5 208.4,524.7 204.0,524.4 C199.7,524.1 192.7,524.0 190.4,523.9 C188.1,523.8 190.3,523.7 190.2,523.8 C190.1,523.9 189.8,524.5 189.6,524.5 C189.5,524.6 189.2,524.1 189.3,524.3 C189.3,524.5 189.3,523.5 189.8,525.7 C190.4,528.0 191.6,534.1 192.5,537.9 C193.5,541.7 195.3,546.7 195.7,548.6 C196.2,550.5 195.2,548.9 195.3,549.1 C195.5,549.3 195.7,549.7 196.6,550.0 C197.5,550.3 199.1,551.0 200.6,551.0 C202.1,551.1 203.5,552.4 205.3,550.3 C207.2,548.2 209.9,542.5 211.7,538.4 C213.6,534.4 217.8,528.2 216.5,525.9 Z" fill="#e2cce2" stroke="#c07fb6" stroke-width="0.6" opacity="0.95"/>
<path d="M162.9,532.1 C164.4,530.7 167.7,526.2 169.6,523.2 C171.5,520.2 174.6,517.2 174.4,514.0 C174.1,510.8 170.6,507.4 168.2,503.9 C165.8,500.5 161.3,495.0 159.9,493.1 C158.5,491.2 159.9,492.4 160.0,492.5 C160.0,492.7 160.1,490.5 160.0,493.7 C159.9,497.0 159.5,505.8 159.5,512.3 C159.4,518.7 159.5,529.3 159.7,532.5 C159.9,535.7 160.2,531.5 160.7,531.5 C161.2,531.4 161.4,533.5 162.9,532.1 Z" fill="#e6d6e7" stroke="#c07fb6" stroke-width="0.6" opacity="0.95"/>
<path d="M193.0,522.0 C190.6,522.2 193.6,520.8 193.5,521.0 C193.3,521.1 190.3,522.3 192.1,522.7 C193.9,523.0 200.0,522.7 204.3,522.9 C208.6,523.1 215.4,523.9 218.1,523.8 C220.8,523.7 220.0,523.2 220.5,522.2 C221.0,521.3 223.2,518.5 221.1,518.1 C219.0,517.8 212.7,519.4 208.0,520.0 C203.3,520.7 195.5,521.9 193.0,522.0 Z" fill="#e2cce2" stroke="#c07fb6" stroke-width="0.6" opacity="0.95"/>
<path d="M224.6,518.0 C223.3,519.7 222.1,521.6 221.3,522.8 C220.5,524.0 221.0,522.4 219.9,525.1 C218.8,527.8 216.8,534.9 214.7,539.0 C212.6,543.2 206.0,548.1 207.2,549.9 C208.3,551.6 216.9,549.6 221.6,549.6 C226.3,549.6 233.0,553.6 235.3,550.1 C237.6,546.5 235.4,535.8 235.4,528.5 C235.3,521.2 236.1,508.8 235.1,506.1 C234.0,503.4 230.6,510.6 228.9,512.5 C227.1,514.5 225.8,516.3 224.6,518.0 Z" fill="#e6d6e7" stroke="#c07fb6" stroke-width="0.6" opacity="0.95"/>
<path d="M176.0,512.7 C178.4,515.4 181.4,516.9 183.6,518.5 C185.7,520.2 188.0,521.7 189.1,522.4 C190.1,523.1 189.7,522.9 189.8,523.0 C189.9,523.0 189.5,522.8 189.7,522.7 C189.8,522.5 190.5,522.5 190.8,522.1 C191.0,521.7 190.0,522.7 191.2,520.3 C192.4,517.8 195.7,512.0 198.0,507.4 C200.4,502.9 207.8,495.5 205.3,493.1 C202.9,490.7 190.5,493.1 183.4,493.2 C176.3,493.2 165.0,492.0 162.6,493.5 C160.3,494.9 167.1,498.8 169.4,502.0 C171.6,505.2 173.6,509.9 176.0,512.7 Z" fill="#e6d6e7" stroke="#c07fb6" stroke-width="0.6" opacity="0.95"/>
<path d="M163.9,533.7 C163.3,533.7 163.2,533.2 162.5,533.5 C161.8,533.8 159.9,534.1 159.7,535.5 C159.4,536.8 161.2,539.1 161.3,541.6 C161.4,544.2 157.3,549.2 160.1,550.8 C162.8,552.4 172.2,551.5 177.9,551.5 C183.5,551.5 191.5,551.0 194.0,550.8 C196.5,550.5 192.8,550.2 192.9,550.0 C192.9,549.9 196.4,551.2 194.2,549.8 C192.0,548.4 184.4,544.4 179.6,541.8 C174.8,539.2 167.8,535.7 165.5,534.2 C163.2,532.8 166.2,533.2 166.0,533.2 C165.7,533.1 164.5,533.6 163.9,533.7 Z" fill="#dcc3dd" stroke="#c07fb6" stroke-width="0.6" opacity="0.95"/>
<rect x="161.00" y="494.20" width="73.50" height="55.20" fill="#000" filter="url(#nj2)" opacity="0.3"/>
<rect x="161.00" y="494.20" width="73.50" height="55.20" fill="#000" filter="url(#nj3)" opacity="0.3"/>
<path d="M174.4 509.5l0.3 0.1M175.2 498.6l0.0 -0.2M204.8 509.2l0.5 0.4M193.3 545.1l0.1 0.2M214.4 521.3l0.3 -0.4M226.9 522.0l-0.2 -0.3M221.6 522.3l0.2 -0.2M199.9 539.4l0.4 -0.1M227.2 535.5l0.3 0.3M166.5 535.4l-0.4 0.4M225.7 495.6l0.4 0.4M204.2 543.3l-0.2 -0.0M171.0 495.5l0.2 0.2M220.9 541.5l-0.3 0.1M229.8 513.1l0.5 0.2M208.8 514.0l-0.4 -0.1M208.3 499.9l0.3 0.0M205.8 537.8l0.4 0.1M184.6 511.1l-0.5 -0.0M164.3 541.1l0.4 0.2M230.5 536.4l0.1 0.3M186.0 509.3l0.4 -0.3M173.2 518.9l0.0 -0.2M208.4 495.4l0.1 0.4M162.6 538.5l0.5 -0.3M215.7 520.7l-0.3 -0.4M162.1 531.3l0.5 0.1M218.3 532.9l-0.3 0.3M190.1 538.6l-0.2 0.3M199.3 545.9l-0.0 -0.3M217.1 535.5l0.4 -0.2M175.5 525.2l-0.2 -0.1M226.4 494.8l0.2 0.2M172.2 533.9l0.0 -0.3M172.7 520.6l-0.4 0.2M229.9 544.5l-0.5 0.3M201.6 542.9l0.2 -0.2M205.9 516.3l-0.0 -0.1M221.6 536.3l0.3 -0.2M213.4 495.8l0.5 0.2M202.7 527.5l-0.2 0.2M186.5 496.5l0.4 0.2M209.9 532.8l0.1 -0.2M222.7 539.8l0.4 0.3M186.6 506.2l0.0 0.3M181.9 531.1l-0.3 -0.0M231.1 547.6l-0.1 0.3M227.1 499.9l0.4 0.3M175.4 524.6l-0.5 0.3M231.7 498.6l0.5 0.4M184.2 517.6l-0.2 0.2M165.4 514.1l0.2 -0.3M208.6 508.7l0.4 0.3M203.6 530.3l-0.2 -0.0M178.1 543.1l-0.3 -0.2M228.7 518.5l0.0 0.0M208.0 536.0l0.5 0.4M168.2 526.2l-0.4 0.2M203.1 515.4l-0.5 -0.2M193.7 535.7l0.1 0.1M178.7 510.1l-0.3 -0.2M219.8 500.5l0.1 0.0M223.7 542.6l0.2 -0.0M175.6 514.1l0.5 -0.2" stroke="#b0437f" stroke-width="1.6" stroke-linecap="round" opacity="0.36" fill="none"/>
<path d="M181.8 498.9l-0.2 0.0M221.9 512.2l-0.3 0.4M206.0 527.4l0.3 -0.0M185.9 499.1l-0.0 -0.3M206.1 507.6l0.1 -0.2M162.0 538.3l-0.3 0.4M176.5 496.1l-0.4 0.1M184.5 504.9l-0.2 0.2M188.8 501.2l0.3 0.4M187.1 501.3l0.5 -0.3M224.4 531.6l0.3 -0.1M203.0 528.3l0.3 0.1M232.2 546.3l-0.1 0.2M187.3 520.9l-0.4 -0.1M175.1 547.2l0.4 -0.3M195.7 544.6l0.4 0.2M208.4 522.3l-0.3 -0.4M219.4 539.6l0.0 0.0M230.3 502.9l0.3 0.3M218.9 507.1l-0.3 -0.1M208.2 522.8l-0.0 0.2M165.1 547.8l-0.3 0.4M202.8 500.8l0.2 -0.3M224.8 508.7l-0.1 -0.3M180.1 521.8l-0.4 -0.0M206.3 547.2l0.1 -0.2M200.4 518.5l0.4 -0.2M165.9 501.8l0.1 0.1M218.0 526.9l0.4 -0.3M202.2 499.9l-0.5 -0.2M233.6 496.8l0.2 -0.3M171.4 524.4l-0.1 -0.4M197.0 541.9l0.2 -0.0M168.4 537.1l-0.1 -0.3M202.7 497.2l0.1 0.0M215.3 509.9l0.0 0.0M195.8 545.8l-0.0 -0.0M161.3 543.3l0.1 -0.0M161.1 503.5l0.3 -0.0M221.4 498.2l-0.3 0.2M174.5 502.1l0.3 -0.3M222.5 528.9l0.0 0.1M225.3 547.3l-0.1 0.2M173.7 512.3l-0.0 0.1M189.0 494.5l-0.5 -0.2M213.8 534.9l-0.1 -0.1M167.6 545.8l-0.1 -0.0M170.6 512.6l-0.3 0.3M200.5 511.8l0.3 0.2M219.5 516.2l-0.2 -0.0M187.1 521.1l-0.0 -0.3M218.5 508.4l-0.2 0.3M221.9 520.4l-0.4 -0.1M219.6 496.2l0.4 0.1M180.8 542.6l-0.4 0.2M180.0 531.9l0.4 0.1M189.9 507.7l-0.0 -0.3M226.7 540.9l-0.5 -0.4M221.3 545.0l0.4 0.1M216.8 529.2l-0.5 0.4M167.0 525.0l0.1 -0.2M186.6 525.9l-0.3 0.3" stroke="#b0437f" stroke-width="1.6" stroke-linecap="round" opacity="0.64" fill="none"/>
<path d="M190.5 531.7l0.3 -0.3M192.1 496.0l-0.2 0.1M208.4 513.2l0.2 0.4M223.8 543.5l0.2 -0.1M176.9 523.6l0.4 -0.3M233.2 507.0l-0.4 -0.1M172.2 543.2l0.2 -0.3M194.4 523.8l-0.3 -0.0M184.4 510.8l-0.2 -0.0M189.9 524.6l-0.0 0.1M223.0 539.0l0.1 -0.1M177.7 524.7l0.1 0.2M211.8 542.3l0.4 0.4M203.6 505.9l-0.2 0.1M205.3 524.1l0.1 -0.1M214.5 503.3l-0.1 -0.2M193.5 536.4l0.4 0.2M188.7 515.1l-0.4 -0.1M210.7 501.5l0.5 0.0M167.1 546.8l-0.0 0.3M198.1 541.4l-0.0 -0.0M212.1 513.9l0.4 0.1M168.9 507.3l0.1 -0.0M161.8 517.9l0.5 -0.3M227.3 548.3l0.5 -0.3M216.5 547.6l0.1 0.2M197.9 513.1l-0.1 -0.3M202.2 506.7l-0.5 0.1M230.9 516.3l-0.3 -0.3M165.7 538.6l-0.4 0.1M208.5 499.6l0.3 -0.4M179.9 522.8l-0.4 -0.3M188.5 526.2l0.4 -0.1M233.9 494.6l-0.0 -0.1M175.3 526.7l0.1 -0.0M186.9 494.6l-0.0 -0.3M192.7 523.1l0.3 -0.0M163.6 503.0l-0.0 0.1M168.0 501.3l-0.0 0.2M167.9 498.2l-0.3 -0.2M207.5 521.2l0.0 -0.2M215.8 499.8l-0.4 -0.1M219.9 525.6l0.3 0.1M183.3 518.1l-0.3 -0.1M229.3 512.2l0.3 -0.3M224.4 498.6l-0.4 -0.1M189.2 542.8l-0.0 -0.1M210.6 539.9l0.2 -0.3M201.8 499.0l-0.3 0.2M167.4 502.5l-0.2 0.0M161.9 527.0l0.3 -0.2" stroke="#b0437f" stroke-width="0.7" stroke-linecap="round" opacity="0.64" fill="none"/>
<path d="M195.6 514.4l-0.2 -0.1M226.6 527.1l0.3 -0.3M227.6 545.4l0.2 -0.3M195.4 511.8l0.2 0.1M229.1 517.2l-0.0 0.3M161.4 542.3l0.2 0.4M214.9 508.4l0.2 -0.0M192.7 531.9l0.2 -0.2M205.4 521.2l0.4 -0.1M161.7 514.9l0.4 0.2M218.6 518.8l0.4 -0.1M164.4 510.7l-0.3 -0.0M202.2 521.9l0.1 -0.4M170.9 524.0l-0.4 -0.1M234.4 531.5l-0.2 -0.4M204.5 495.9l0.2 -0.4M210.7 509.3l0.2 0.2M219.8 505.2l0.2 0.0M227.4 547.2l0.3 -0.3M161.6 533.2l-0.2 -0.1M205.6 523.1l0.5 -0.0M233.2 532.8l0.2 -0.3M211.8 544.3l0.3 0.3M162.2 507.5l0.3 -0.0M191.9 539.6l-0.1 0.3M224.8 526.7l0.3 0.1M197.7 541.3l-0.5 -0.3M233.0 495.5l0.2 0.4M215.3 497.0l0.2 0.0M215.6 544.3l-0.1 0.1M227.2 500.6l0.2 -0.0M207.5 521.1l-0.2 0.3M223.6 518.1l-0.1 0.2M173.5 535.0l-0.1 0.3M215.4 507.1l0.3 -0.2M229.8 539.0l-0.2 -0.2M199.0 497.3l0.5 0.4M226.8 540.8l-0.2 0.3M228.6 500.0l-0.4 0.2M164.3 495.8l-0.4 0.3M219.9 512.3l0.4 0.1M198.9 512.1l0.4 0.0M176.5 527.2l0.3 -0.3M224.8 502.6l0.2 0.2M173.1 542.7l0.2 -0.1M184.6 546.6l0.4 -0.0M203.4 548.2l-0.2 -0.1M225.2 539.4l-0.4 -0.1M229.2 523.1l-0.4 -0.2M184.4 508.6l-0.4 -0.3M205.3 518.7l0.1 0.4M161.0 540.1l-0.1 -0.4M170.8 498.6l0.4 0.2M208.0 498.6l-0.2 0.2M178.4 495.7l-0.0 -0.2M166.3 535.9l-0.2 0.0M185.0 529.8l-0.3 0.3M201.8 518.9l-0.3 0.2M224.7 539.8l-0.3 -0.0M231.6 521.7l-0.1 0.1M190.1 512.0l-0.1 0.2M214.7 517.4l-0.4 -0.3M227.7 496.0l0.5 -0.3" stroke="#b0437f" stroke-width="0.7" stroke-linecap="round" opacity="0.36" fill="none"/>
<path d="M189.3 546.9l0.0 -0.3M201.0 514.5l0.4 -0.2M187.2 502.9l-0.1 -0.3M161.6 535.3l0.0 -0.3M211.0 525.4l0.1 0.3M230.2 525.8l-0.1 -0.3M208.5 521.1l-0.3 -0.3M209.3 503.7l-0.3 0.3M203.1 549.3l-0.1 0.2M202.9 542.6l0.1 0.0M208.9 506.5l-0.5 0.1M182.3 500.5l0.0 0.2M232.7 499.4l0.1 0.3M165.7 506.8l-0.0 -0.4M196.8 510.8l0.4 -0.3M211.2 537.4l0.3 -0.3M195.4 504.6l0.2 -0.1M189.2 527.7l-0.0 0.3M185.6 516.3l0.2 -0.4M189.2 509.9l-0.4 -0.1M224.9 531.2l-0.1 -0.2M165.4 533.7l0.5 0.2M161.1 496.6l0.3 0.4M185.7 516.6l-0.0 -0.2M177.9 528.9l-0.3 0.2M177.2 518.4l0.4 -0.1M219.5 503.7l0.4 0.3M230.5 512.4l0.4 -0.4M226.9 545.7l-0.2 -0.1M179.7 495.0l0.4 -0.2M168.8 543.5l-0.3 -0.1M165.5 544.0l-0.4 -0.4M197.6 502.1l-0.4 0.0M201.6 527.8l0.4 -0.3M190.7 497.3l-0.3 0.0M173.4 518.3l-0.1 0.2M189.3 511.4l0.2 0.3M228.7 523.2l0.2 -0.3M177.5 504.9l-0.5 -0.1M230.7 531.9l-0.0 0.3M206.3 509.7l-0.5 0.0M163.0 531.4l0.2 0.3M214.1 497.2l-0.5 -0.2M218.1 496.0l-0.4 0.1M177.5 503.5l0.1 -0.2M170.4 518.2l0.3 0.2M231.4 543.8l0.5 0.1M188.5 495.7l0.4 -0.1M182.4 536.9l0.2 -0.1M168.5 519.2l0.5 -0.3M182.1 523.5l-0.4 -0.3M197.0 510.9l-0.4 -0.3M162.6 535.9l-0.2 -0.2M223.1 508.9l-0.1 -0.3M177.6 521.0l0.2 -0.3M213.7 495.4l0.4 -0.0M215.1 504.6l0.4 0.2M221.2 543.8l0.2 -0.1" stroke="#b0437f" stroke-width="1.1" stroke-linecap="round" opacity="0.36" fill="none"/>
<path d="M173.4 514.6l-0.2 -0.3M167.8 516.3l0.4 0.1M168.8 545.1l-0.0 0.3M216.1 546.0l0.3 -0.4M194.1 515.4l-0.2 -0.3M213.7 503.9l0.1 0.3M213.3 545.9l-0.2 -0.2M218.4 495.8l0.1 0.3M175.8 501.0l-0.4 -0.0M188.2 522.7l0.2 -0.4M167.9 546.8l0.2 -0.3M188.1 534.7l-0.4 0.4M202.1 543.7l-0.2 0.4M202.4 506.5l-0.2 0.2M213.2 517.1l0.0 -0.2M233.0 523.5l0.3 0.3M213.0 547.4l-0.5 0.1M228.2 500.4l0.2 0.0M233.9 524.6l-0.2 0.0M206.2 498.4l-0.4 -0.3M191.8 525.3l-0.4 -0.1M231.5 543.7l-0.4 0.3M163.0 509.3l0.1 -0.4M234.0 538.8l-0.2 -0.3M215.3 538.8l0.1 0.2M229.9 515.5l-0.3 -0.2M164.8 515.0l0.5 0.0M175.5 540.5l0.2 0.1M232.1 527.2l0.1 0.2M193.8 513.5l0.3 0.3M174.3 503.9l0.2 0.2M181.9 525.9l-0.1 0.3M177.7 497.8l-0.2 -0.2M233.0 518.2l-0.4 0.1M182.9 519.0l-0.0 -0.2M216.2 508.8l0.2 0.3M187.0 501.4l0.1 -0.0M217.6 514.1l-0.1 0.2M162.6 496.9l0.5 -0.3M180.9 546.4l0.4 -0.1M233.1 513.8l0.5 -0.3M226.1 529.3l0.5 0.2M227.9 494.8l-0.4 0.1M185.4 545.6l-0.0 -0.1M224.6 508.0l0.1 0.1M200.7 538.5l-0.1 -0.1M223.6 532.8l-0.0 -0.2M214.4 496.4l-0.5 0.3M179.5 518.0l0.1 0.3M214.0 510.1l0.4 -0.1M195.8 542.0l-0.4 0.0M202.7 534.1l0.4 -0.2M220.8 501.4l-0.0 -0.1M190.5 544.8l0.1 -0.4M203.5 514.8l-0.4 0.1M222.8 516.6l0.0 -0.2M196.4 528.2l0.4 0.2M222.9 547.3l0.3 0.4M179.9 506.3l-0.2 -0.1M192.9 509.9l0.4 -0.1M209.3 500.0l0.2 0.2M232.6 503.4l0.3 -0.2M196.9 508.2l0.0 0.1M182.8 502.7l-0.4 0.2M207.1 496.9l0.2 -0.2M173.5 528.2l0.3 -0.3M211.6 519.7l0.2 -0.3M233.2 544.3l-0.2 0.1M211.1 498.3l-0.2 0.4M170.8 507.2l0.5 0.3M177.7 535.9l-0.4 -0.2M213.7 534.4l0.4 0.3M209.4 508.1l-0.4 0.2M165.7 523.3l-0.3 0.1M175.0 528.8l0.1 -0.2M232.2 540.3l-0.4 -0.1M211.9 528.3l-0.2 0.3M197.9 507.5l0.2 -0.3M190.5 537.5l0.1 -0.2M233.0 546.2l0.2 0.3M172.5 533.3l-0.0 -0.1M195.5 541.8l-0.4 0.2" stroke="#b0437f" stroke-width="1.1" stroke-linecap="round" opacity="0.64" fill="none"/>
<ellipse cx="231.0" cy="513.0" rx="1.9" ry="1.0" fill="#8a1d55" opacity="0.9" transform="rotate(87 231.0 513.0)"/>
<ellipse cx="181.0" cy="531.0" rx="1.4" ry="0.7" fill="#8a1d55" opacity="0.9" transform="rotate(37 181.0 531.0)"/>
</g>
<g clip-path="url(#cj03)">
<rect x="235.30" y="494.20" width="73.50" height="55.20" fill="#f3eef4" />
<path d="M291.0,516.1 C290.9,518.5 296.5,523.5 299.5,527.5 C302.6,531.5 307.8,540.8 309.3,540.3 C310.9,539.7 308.8,529.4 308.9,524.2 C309.0,519.0 311.4,510.6 309.9,508.8 C308.4,507.0 303.1,512.1 300.0,513.3 C296.8,514.5 291.1,513.8 291.0,516.1 Z" fill="#e6d6e7" stroke="#c07fb6" stroke-width="0.6" opacity="0.95"/>
<path d="M281.1,550.4 C284.3,552.6 289.5,549.6 294.3,549.6 C299.0,549.6 306.8,550.8 309.4,550.5 C312.0,550.2 309.6,548.9 309.7,547.8 C309.8,546.8 311.6,547.0 309.9,544.2 C308.3,541.3 303.3,535.2 299.9,530.8 C296.4,526.4 292.5,519.5 289.1,517.7 C285.6,515.9 282.3,519.2 279.2,520.0 C276.1,520.8 271.3,519.8 270.7,522.5 C270.0,525.2 273.3,531.6 275.1,536.3 C276.8,540.9 277.9,548.2 281.1,550.4 Z" fill="#e2cce2" stroke="#c07fb6" stroke-width="0.6" opacity="0.95"/>
<path d="M260.9,518.6 C262.9,520.8 262.3,519.0 262.6,518.9 C263.0,518.8 262.7,520.4 263.0,518.1 C263.2,515.8 263.8,509.0 264.1,504.9 C264.5,500.8 267.3,495.5 265.2,493.6 C263.1,491.6 255.7,493.1 251.5,493.0 C247.2,493.0 239.8,491.2 239.6,493.3 C239.5,495.4 247.3,501.5 250.8,505.7 C254.4,510.0 259.0,516.4 260.9,518.6 Z" fill="#e6d6e7" stroke="#c07fb6" stroke-width="0.6" opacity="0.95"/>
<path d="M264.8,518.7 C264.8,520.7 265.5,518.9 266.3,519.2 C267.0,519.5 267.0,520.6 269.3,520.4 C271.6,520.2 276.8,518.8 280.0,518.0 C283.2,517.2 287.3,516.1 288.6,515.7 C289.9,515.2 287.9,515.3 287.9,515.3 C287.9,515.3 288.6,517.5 288.6,515.7 C288.7,513.8 288.2,508.1 288.1,504.4 C288.1,500.6 289.8,495.3 288.2,493.4 C286.5,491.4 281.6,492.8 278.1,492.9 C274.6,492.9 269.2,491.3 267.2,493.6 C265.2,496.0 266.4,502.8 266.0,507.0 C265.6,511.2 264.8,516.6 264.8,518.7 Z" fill="#dcc3dd" stroke="#c07fb6" stroke-width="0.6" opacity="0.95"/>
<path d="M260.9,520.7 C258.2,522.1 251.5,526.3 247.1,529.1 C242.7,531.8 236.6,534.6 234.5,537.1 C232.4,539.6 234.7,541.8 234.7,544.0 C234.7,546.2 231.1,549.2 234.6,550.3 C238.0,551.4 248.2,550.6 255.6,550.7 C262.9,550.7 275.7,553.1 278.7,550.6 C281.8,548.2 275.6,540.8 273.9,536.0 C272.3,531.3 270.2,524.5 269.0,522.2 C267.9,519.8 267.9,522.2 267.0,521.9 C266.2,521.6 264.6,520.6 264.0,520.4 C263.3,520.2 263.8,520.7 263.3,520.8 C262.8,520.8 263.6,519.3 260.9,520.7 Z" fill="#dcc3dd" stroke="#c07fb6" stroke-width="0.6" opacity="0.95"/>
<path d="M290.5,514.2 C292.2,515.3 296.8,511.7 300.0,510.4 C303.1,509.1 307.9,508.4 309.5,506.5 C311.1,504.6 309.4,501.0 309.5,498.9 C309.6,496.7 311.5,494.6 310.0,493.7 C308.5,492.8 303.7,493.4 300.6,493.4 C297.4,493.4 292.8,492.0 290.9,493.7 C289.1,495.5 289.5,500.3 289.5,503.7 C289.4,507.1 288.7,513.1 290.5,514.2 Z" fill="#e2cce2" stroke="#c07fb6" stroke-width="0.6" opacity="0.95"/>
<path d="M259.2,519.4 C259.6,515.9 252.0,511.4 248.3,507.0 C244.6,502.6 239.2,495.1 237.2,492.9 C235.1,490.7 236.7,493.6 236.3,493.7 C235.8,493.8 234.8,490.1 234.5,493.5 C234.2,496.9 234.6,507.4 234.5,514.1 C234.4,520.9 232.1,531.7 234.0,534.0 C236.0,536.3 242.1,530.2 246.3,527.8 C250.5,525.3 258.9,522.8 259.2,519.4 Z" fill="#e2cce2" stroke="#c07fb6" stroke-width="0.6" opacity="0.95"/>
<rect x="235.30" y="494.20" width="73.50" height="55.20" fill="#000" filter="url(#nj2)" opacity="0.35"/>
<rect x="235.30" y="494.20" width="73.50" height="55.20" fill="#000" filter="url(#nj3)" opacity="0.3"/>
<path d="M290.5 538.6l-0.2 0.4M303.5 526.1l0.4 -0.3M268.6 533.3l-0.1 -0.1M255.0 500.3l0.2 0.3M308.6 504.8l-0.2 -0.3M247.7 518.3l-0.1 0.2M308.8 503.6l0.1 0.1M308.7 532.6l0.4 -0.3M298.2 497.0l-0.0 0.1M286.2 544.4l0.4 0.2M295.6 528.3l0.4 0.3M282.0 502.3l0.3 0.1M237.6 536.4l0.2 0.0M243.0 510.2l-0.0 -0.3M296.7 524.0l-0.3 -0.1M289.9 544.9l0.4 -0.0M263.4 511.9l0.5 0.1M281.7 494.3l0.5 0.2M294.6 507.2l-0.4 -0.1M265.0 514.3l0.1 0.0M243.6 525.9l0.3 0.1M261.6 542.5l0.2 -0.1M245.2 547.6l0.1 -0.2M267.4 526.3l0.1 -0.0M239.7 511.4l0.1 0.0M275.2 540.8l0.1 -0.3M237.3 513.7l-0.3 0.1M301.8 516.4l0.1 0.1M255.0 541.8l0.4 0.0M289.5 520.3l0.4 -0.1M247.8 508.1l-0.4 -0.2M306.7 509.2l0.2 -0.0M275.3 530.5l-0.3 0.3M269.8 544.8l-0.1 -0.2M293.8 505.6l0.3 -0.0M258.1 512.1l0.4 -0.3M253.9 494.6l0.4 -0.0M307.3 547.9l-0.4 -0.3M266.3 509.9l-0.1 -0.4M246.3 503.1l-0.4 -0.0M275.9 513.6l-0.4 0.1M298.3 534.1l0.2 -0.1M280.6 547.4l0.3 -0.3M238.1 545.3l-0.4 -0.3M272.2 547.3l-0.4 -0.4M280.2 536.0l0.3 -0.4M237.2 502.9l0.1 0.3M299.7 523.8l-0.4 0.1" stroke="#b0437f" stroke-width="1.1" stroke-linecap="round" opacity="0.36" fill="none"/>
<path d="M241.9 510.4l-0.2 -0.1M290.5 516.9l0.4 -0.1M280.6 537.4l-0.4 -0.4M262.5 526.1l0.3 0.1M265.1 501.5l-0.5 0.2M267.1 496.8l-0.5 0.2M306.3 519.8l0.2 -0.1M246.5 502.6l0.3 0.3M284.3 529.7l0.0 0.1M277.5 511.2l-0.4 0.1M270.7 494.5l0.4 0.4M301.0 546.1l-0.2 -0.3M267.2 521.5l-0.4 -0.3M280.1 529.9l-0.4 0.1M259.8 505.5l0.4 -0.0M264.5 500.2l0.2 0.1M262.3 513.5l-0.3 -0.3M264.1 505.0l0.4 -0.1M237.2 509.5l-0.1 -0.1M263.1 502.4l-0.5 -0.1M275.2 530.8l0.3 -0.4M295.3 543.0l-0.4 0.3M295.7 499.9l-0.4 0.4M279.5 541.6l-0.5 -0.0M292.4 540.4l0.2 -0.3M282.5 523.6l0.2 -0.1M269.0 540.4l-0.2 -0.3M245.1 510.5l0.1 -0.2M303.0 519.6l-0.5 0.4M299.6 515.6l-0.0 0.3M292.9 510.8l0.2 -0.0M253.2 509.5l-0.4 -0.4M298.3 505.3l0.2 0.4M239.5 509.4l-0.4 -0.3M251.0 549.1l0.3 -0.2M308.2 497.3l-0.1 -0.0M286.8 525.3l-0.4 -0.1M238.0 522.4l0.4 -0.4M304.7 542.5l0.3 -0.2M247.9 513.9l0.1 0.2M308.3 518.5l-0.3 0.2M246.9 528.4l0.4 0.3M271.7 506.6l0.3 -0.1" stroke="#b0437f" stroke-width="1.1" stroke-linecap="round" opacity="0.64" fill="none"/>
<path d="M256.4 528.0l-0.4 -0.0M264.7 533.4l-0.0 -0.3M308.4 502.9l-0.2 0.2M258.8 518.8l-0.5 -0.3M262.4 494.6l-0.1 -0.3M291.1 549.3l-0.2 -0.3M283.2 535.2l0.3 0.2M260.1 539.7l-0.5 -0.2M287.3 517.6l0.1 0.1M286.2 495.2l-0.2 0.0M236.8 512.7l-0.3 0.3M266.9 534.4l0.2 0.4M295.2 528.8l0.3 0.4M248.3 496.8l0.0 0.2M277.4 545.7l-0.4 0.3M265.2 519.9l0.4 0.2M246.8 509.2l0.0 -0.2M255.3 497.0l0.0 -0.1M266.6 542.5l0.1 -0.2M277.6 524.1l0.1 -0.0M308.0 500.6l-0.2 -0.4M297.3 526.7l0.2 0.2M270.3 531.8l-0.4 -0.4M276.9 540.2l-0.4 0.0M301.8 547.5l0.2 0.1M261.1 507.2l-0.1 -0.2M267.5 534.3l-0.0 -0.3M275.0 544.4l-0.1 -0.0M291.5 498.9l-0.5 -0.0M302.3 538.4l0.4 0.3M247.6 533.4l0.5 -0.4M264.7 517.4l0.1 0.1M247.6 518.6l-0.0 0.0M246.7 525.3l-0.1 0.3M302.9 510.9l0.4 0.1M273.1 515.6l-0.2 0.1M275.8 528.6l0.3 -0.1M259.6 539.0l0.4 0.2M238.5 511.4l-0.1 -0.0M248.7 533.1l0.3 0.2M289.5 520.7l-0.2 -0.2M272.6 522.8l-0.3 0.2M299.6 533.2l-0.3 0.2M243.1 533.6l0.0 -0.3M297.7 527.6l-0.3 -0.1M244.8 496.1l-0.2 -0.2M288.9 522.4l0.2 0.3M245.7 528.7l0.0 0.3M301.4 500.0l-0.4 0.1M269.7 513.2l-0.2 0.2M302.3 540.9l-0.2 -0.2M290.1 524.0l0.4 0.0M260.5 520.2l0.2 0.3M242.3 530.1l0.0 -0.3M258.8 529.2l0.1 -0.1M259.4 499.4l-0.3 0.0M299.8 506.3l-0.0 -0.4" stroke="#b0437f" stroke-width="1.6" stroke-linecap="round" opacity="0.64" fill="none"/>
<path d="M248.4 536.8l-0.2 -0.1M262.9 505.1l0.1 -0.1M268.8 516.9l0.2 0.1M281.8 542.2l-0.0 0.3M279.5 547.1l-0.3 0.4M264.1 542.6l0.0 -0.1M281.6 517.6l0.4 -0.0M277.5 534.4l0.4 -0.0M300.6 496.6l0.1 0.2M306.1 517.3l-0.0 0.3M268.3 503.8l-0.2 -0.1M300.1 519.5l0.2 0.2M307.5 503.9l-0.5 0.0M240.3 500.7l0.2 0.2M240.0 533.5l-0.3 -0.3M247.8 498.8l0.4 -0.1M305.6 526.3l-0.4 0.3M289.2 507.1l-0.0 -0.3M251.1 549.1l-0.0 0.1M292.2 526.3l-0.1 -0.3M281.6 542.0l0.2 -0.2M291.4 527.2l-0.2 -0.3M270.8 495.5l0.3 0.3M253.9 539.6l0.2 -0.3M288.6 508.5l-0.5 -0.2M301.5 501.7l0.5 -0.2M301.5 520.5l0.2 -0.1M258.2 506.1l-0.4 0.0M296.6 543.8l-0.2 0.2M251.0 506.4l-0.5 -0.3M270.9 538.4l-0.1 -0.2M279.5 545.5l0.4 -0.2M280.9 517.1l0.2 0.3M279.8 514.2l0.3 -0.0M259.0 540.9l0.4 0.2M236.5 504.6l0.2 0.4M308.2 495.6l0.4 0.3M303.6 507.7l-0.1 -0.1M304.7 502.0l-0.3 0.2M282.3 503.3l-0.3 0.2" stroke="#b0437f" stroke-width="0.7" stroke-linecap="round" opacity="0.36" fill="none"/>
<path d="M259.1 531.0l0.4 -0.2M244.2 511.8l-0.4 -0.1M244.6 521.1l-0.2 0.2M235.6 502.3l0.3 0.4M264.5 534.9l-0.5 -0.0M285.6 540.1l0.5 0.1M247.4 527.0l0.1 -0.1M304.8 519.0l0.2 0.2M244.2 524.2l0.3 -0.2M282.0 506.4l0.3 0.2M246.9 515.4l-0.1 -0.3M294.5 540.8l-0.3 0.2M242.8 521.0l0.5 -0.3M304.7 509.9l-0.2 -0.3M242.1 545.2l0.3 0.4M289.6 545.5l-0.1 -0.3M239.5 496.2l-0.2 -0.2M305.4 547.4l0.0 -0.3M286.8 545.5l0.0 0.0M297.1 530.6l0.4 -0.1M267.9 547.1l0.2 -0.0M282.2 522.6l0.3 0.2M256.8 518.3l-0.5 0.1M252.0 505.1l0.4 -0.1M236.5 545.1l0.5 -0.3M260.8 520.4l0.5 -0.2M301.7 542.0l-0.2 0.0M251.1 515.8l0.3 0.1M292.3 539.3l0.2 -0.3M304.8 539.6l-0.5 0.2M261.2 494.8l-0.4 0.4M290.9 508.0l-0.0 -0.3M297.6 547.5l0.3 -0.1M245.3 517.0l0.5 -0.0M238.3 534.3l-0.2 -0.3M299.8 512.8l-0.2 0.0M295.7 542.4l0.4 0.0M276.5 536.8l0.5 -0.2M253.8 495.9l-0.5 -0.2" stroke="#b0437f" stroke-width="0.7" stroke-linecap="round" opacity="0.64" fill="none"/>
<path d="M287.7 504.3l-0.4 0.2M282.3 537.2l0.2 -0.3M270.6 501.4l-0.3 0.2M294.7 506.3l-0.4 0.3M283.6 499.9l0.0 0.3M283.3 522.0l0.3 -0.1M255.5 520.1l-0.5 -0.3M276.5 511.5l-0.5 -0.2M306.7 539.3l0.2 0.3M235.7 502.4l0.2 0.4M244.1 528.4l0.4 -0.2M260.6 532.1l0.3 -0.3M280.3 496.0l-0.3 0.2M298.1 540.9l0.2 -0.3M283.1 525.6l0.3 0.3M285.9 505.0l0.4 0.3M290.4 511.2l-0.3 0.1M293.0 513.9l-0.3 0.0M289.6 541.6l-0.3 -0.0M259.7 511.4l-0.0 0.1M252.9 548.9l0.0 -0.2M296.7 535.0l0.2 0.0M301.7 498.5l-0.5 -0.3M286.9 527.4l-0.0 0.1M261.7 524.4l0.4 -0.2M247.6 544.1l0.5 -0.3M257.9 547.2l0.4 -0.1M256.8 507.8l-0.4 -0.2M238.8 548.5l-0.3 0.0M246.7 522.0l0.1 0.4M239.5 527.3l-0.2 0.1M291.8 510.6l-0.1 0.2M270.5 516.8l-0.1 -0.1" stroke="#b0437f" stroke-width="1.6" stroke-linecap="round" opacity="0.36" fill="none"/>
<ellipse cx="283.0" cy="541.0" rx="2.1" ry="1.0" fill="#8a1d55" opacity="0.9" transform="rotate(31 283.0 541.0)"/>
<ellipse cx="270.0" cy="534.0" rx="1.9" ry="1.0" fill="#8a1d55" opacity="0.9" transform="rotate(90 270.0 534.0)"/>
<ellipse cx="296.0" cy="510.0" rx="1.6" ry="0.8" fill="#8a1d55" opacity="0.9" transform="rotate(152 296.0 510.0)"/>
</g>
<g clip-path="url(#cj10)">
<rect x="11.70" y="562.90" width="73.50" height="55.20" fill="#f3ecf3" />
<path d="M74.5,583.2 C74.8,585.0 77.2,589.7 78.1,592.1 C79.1,594.6 79.5,597.2 80.3,598.1 C81.0,598.9 81.5,597.4 82.4,597.3 C83.4,597.1 85.5,599.0 86.1,597.4 C86.7,595.8 86.0,591.0 86.1,587.8 C86.1,584.5 86.4,579.9 86.2,578.1 C86.0,576.3 85.2,577.1 84.8,577.1 C84.5,577.2 84.5,578.0 84.0,578.3 C83.4,578.6 82.7,578.5 81.6,579.0 C80.5,579.4 78.3,580.5 77.4,580.9 C76.5,581.2 76.8,580.8 76.3,581.2 C75.8,581.5 74.2,581.3 74.5,583.2 Z" fill="#d2aed3" stroke="#c07fb6" stroke-width="0.6" opacity="0.95"/>
<path d="M66.7,564.3 C66.3,563.2 67.3,564.3 67.1,564.5 C66.9,564.7 65.3,564.2 65.3,565.7 C65.4,567.2 67.2,571.0 67.6,573.5 C68.0,576.0 67.4,579.5 67.8,580.7 C68.2,581.8 69.2,580.0 70.0,580.2 C70.8,580.4 72.0,581.8 72.8,581.8 C73.6,581.7 74.3,580.1 74.7,579.6 C75.1,579.2 76.1,580.5 75.3,579.0 C74.5,577.6 71.3,573.4 69.9,570.9 C68.4,568.5 67.2,565.4 66.7,564.3 Z" fill="#d2aed3" stroke="#c07fb6" stroke-width="0.6" opacity="0.95"/>
<path d="M52.7,576.4 C53.4,575.9 53.8,575.0 53.7,574.8 C53.7,574.5 52.7,575.3 52.3,575.0 C51.8,574.8 51.6,573.6 50.9,573.3 C50.2,572.9 48.6,572.6 48.0,572.9 C47.4,573.1 47.7,573.9 47.3,574.8 C46.8,575.7 45.4,577.8 45.2,578.2 C45.0,578.7 46.2,577.4 46.3,577.5 C46.4,577.7 45.0,579.0 45.6,579.1 C46.1,579.1 48.3,578.3 49.5,577.9 C50.7,577.4 52.0,577.0 52.7,576.4 Z" fill="#dabcda" stroke="#c07fb6" stroke-width="0.6" opacity="0.95"/>
<path d="M47.9,570.5 C49.1,571.2 49.0,571.2 49.9,571.6 C50.8,572.0 52.0,573.3 53.3,572.7 C54.6,572.2 56.1,569.6 57.7,568.3 C59.4,567.0 62.0,565.8 63.2,564.8 C64.4,563.8 64.6,563.0 65.0,562.5 C65.3,562.1 65.4,562.4 65.3,562.3 C65.2,562.2 64.3,562.0 64.3,562.0 C64.3,562.0 67.1,562.6 65.2,562.4 C63.3,562.3 57.1,561.3 52.9,561.1 C48.6,561.0 41.3,560.7 39.6,561.7 C38.0,562.7 41.6,565.6 43.0,567.1 C44.4,568.6 46.7,569.7 47.9,570.5 Z" fill="#d8b8d8" stroke="#c07fb6" stroke-width="0.6" opacity="0.95"/>
<path d="M43.7,580.7 C43.9,580.1 44.8,579.4 44.7,579.0 C44.7,578.7 44.8,578.4 43.4,578.6 C41.9,578.8 38.5,579.9 36.0,580.2 C33.6,580.4 28.7,579.6 28.7,580.2 C28.8,580.8 34.0,582.8 36.6,583.8 C39.1,584.8 42.8,586.2 43.9,586.0 C45.1,585.8 43.6,583.6 43.6,582.7 C43.5,581.8 43.5,581.3 43.7,580.7 Z" fill="#cea8cf" stroke="#c07fb6" stroke-width="0.6" opacity="0.95"/>
<path d="M11.2,579.7 C9.7,580.9 11.2,593.8 11.1,600.3 C10.9,606.8 8.9,615.7 10.4,618.7 C11.9,621.7 17.1,618.4 20.0,618.5 C22.9,618.5 26.6,620.3 28.1,619.1 C29.5,617.9 28.5,613.7 28.7,611.3 C29.0,609.0 29.6,606.0 29.4,604.9 C29.3,603.7 27.8,604.2 27.7,604.3 C27.6,604.3 30.2,606.8 28.9,605.0 C27.6,603.1 23.1,597.3 20.1,593.1 C17.1,588.9 12.7,578.5 11.2,579.7 Z" fill="#dcc0dc" stroke="#c07fb6" stroke-width="0.6" opacity="0.95"/>
<path d="M67.3,562.3 C67.5,563.4 74.1,566.0 76.7,568.3 C79.4,570.6 82.1,574.8 83.4,576.0 C84.7,577.2 83.9,575.5 84.3,575.4 C84.8,575.4 86.0,576.9 86.1,575.7 C86.2,574.6 85.0,570.9 85.0,568.5 C84.9,566.2 87.2,562.7 85.7,561.5 C84.2,560.4 78.9,561.6 75.8,561.7 C72.8,561.8 67.2,561.2 67.3,562.3 Z" fill="#d8b8d8" stroke="#c07fb6" stroke-width="0.6" opacity="0.95"/>
<path d="M53.8,601.4 C54.8,602.9 57.2,602.5 58.7,603.6 C60.2,604.7 61.6,607.5 62.6,607.7 C63.6,607.9 64.0,605.4 64.8,604.9 C65.6,604.3 67.3,605.8 67.3,604.3 C67.4,602.9 66.2,598.9 65.1,596.0 C64.0,593.1 61.8,588.6 60.6,586.9 C59.4,585.2 58.9,586.0 58.1,585.8 C57.3,585.5 56.6,585.0 55.7,585.5 C54.8,586.1 53.5,588.1 52.7,588.9 C51.9,589.7 51.1,589.2 51.0,590.1 C50.9,591.0 51.7,592.7 52.2,594.5 C52.6,596.4 52.7,599.8 53.8,601.4 Z" fill="#d8b8d8" stroke="#c07fb6" stroke-width="0.6" opacity="0.95"/>
<path d="M32.3,603.5 C32.9,604.5 39.0,602.5 42.1,602.0 C45.1,601.4 49.4,601.2 50.5,600.2 C51.6,599.3 49.1,598.2 48.7,596.5 C48.4,594.8 48.6,591.4 48.5,590.2 C48.5,589.0 48.7,589.5 48.2,589.4 C47.8,589.3 47.3,588.5 45.7,589.6 C44.2,590.8 41.1,594.1 38.8,596.4 C36.6,598.7 31.8,602.6 32.3,603.5 Z" fill="#dabcda" stroke="#c07fb6" stroke-width="0.6" opacity="0.95"/>
<path d="M61.4,584.8 C62.2,584.4 62.6,582.7 63.3,582.0 C64.0,581.3 65.2,582.0 65.6,580.5 C66.0,579.0 66.0,575.4 65.7,573.2 C65.4,571.0 64.8,567.6 63.6,567.4 C62.4,567.3 60.1,571.0 58.6,572.3 C57.1,573.5 55.1,574.6 54.5,575.1 C54.0,575.6 55.1,574.8 55.2,575.1 C55.4,575.5 55.1,576.0 55.3,577.1 C55.5,578.2 56.2,580.6 56.3,581.7 C56.5,582.7 55.8,583.0 56.1,583.5 C56.5,583.9 57.7,584.2 58.6,584.4 C59.5,584.7 60.6,585.2 61.4,584.8 Z" fill="#d2aed3" stroke="#c07fb6" stroke-width="0.6" opacity="0.95"/>
<path d="M23.5,580.7 C20.7,580.1 19.6,580.6 17.8,580.2 C16.0,579.8 12.0,576.5 12.6,578.3 C13.2,580.1 18.6,586.9 21.4,590.9 C24.2,594.9 27.1,601.4 29.5,602.2 C31.9,602.9 33.6,597.5 35.9,595.3 C38.3,593.1 42.0,590.2 43.5,588.8 C45.0,587.4 44.8,587.2 44.9,587.0 C45.0,586.8 45.9,588.3 44.2,587.8 C42.5,587.2 38.2,584.8 34.8,583.6 C31.3,582.5 26.3,581.2 23.5,580.7 Z" fill="#d8b8d8" stroke="#c07fb6" stroke-width="0.6" opacity="0.95"/>
<path d="M84.4,619.5 C85.1,620.7 85.2,617.9 85.5,617.8 C85.8,617.8 85.9,620.3 86.2,619.1 C86.5,617.8 87.2,613.4 87.3,610.2 C87.3,606.9 87.1,601.1 86.3,599.5 C85.5,598.0 83.8,600.8 82.7,601.0 C81.5,601.2 80.4,600.8 79.5,600.9 C78.7,601.0 77.8,601.5 77.3,601.7 C76.9,601.8 76.1,600.4 76.7,601.8 C77.4,603.3 80.0,607.5 81.2,610.4 C82.5,613.4 83.7,618.2 84.4,619.5 Z" fill="#d2aed3" stroke="#c07fb6" stroke-width="0.6" opacity="0.95"/>
<path d="M75.0,600.4 C75.6,600.2 76.2,600.3 76.6,600.1 C77.0,599.8 77.6,600.0 77.4,598.8 C77.3,597.6 76.6,595.4 75.7,592.9 C74.9,590.4 73.3,585.4 72.4,583.9 C71.4,582.4 71.0,584.2 70.0,584.0 C69.1,583.9 67.8,582.8 66.9,583.0 C65.9,583.2 64.9,584.7 64.3,585.1 C63.6,585.5 62.9,584.1 63.0,585.6 C63.2,587.1 64.2,591.2 65.2,594.2 C66.2,597.2 67.7,602.2 68.9,603.3 C70.2,604.5 71.7,601.8 72.7,601.3 C73.7,600.8 74.3,600.6 75.0,600.4 Z" fill="#d8b8d8" stroke="#c07fb6" stroke-width="0.6" opacity="0.95"/>
<path d="M75.5,603.2 C74.7,602.1 74.0,604.4 73.0,604.7 C72.0,605.0 70.5,604.7 69.4,605.0 C68.4,605.3 67.7,605.7 66.8,606.6 C65.8,607.4 64.6,609.0 64.0,610.2 C63.3,611.3 63.4,612.0 62.9,613.5 C62.5,615.0 60.1,617.9 61.4,619.0 C62.7,620.1 67.4,620.1 70.9,620.1 C74.4,620.1 81.1,620.5 82.3,619.0 C83.4,617.5 79.0,613.8 77.9,611.1 C76.7,608.5 76.3,604.3 75.5,603.2 Z" fill="#cea8cf" stroke="#c07fb6" stroke-width="0.6" opacity="0.95"/>
<path d="M71.6,568.2 C71.3,568.4 73.5,571.9 74.5,573.6 C75.4,575.3 76.5,578.0 77.3,578.5 C78.2,578.9 78.9,576.6 79.6,576.4 C80.3,576.2 81.9,577.8 81.3,577.2 C80.7,576.6 77.8,574.1 76.1,572.6 C74.5,571.1 71.8,568.1 71.6,568.2 Z" fill="#d2aed3" stroke="#c07fb6" stroke-width="0.6" opacity="0.95"/>
<path d="M11.1,575.3 C12.1,576.3 14.7,575.4 17.0,575.9 C19.2,576.3 21.4,577.8 24.4,577.9 C27.3,578.1 31.5,577.0 34.7,576.7 C38.0,576.5 42.0,577.1 43.7,576.6 C45.4,576.0 44.6,574.2 44.9,573.5 C45.2,572.7 46.0,573.1 45.4,572.0 C44.8,571.0 42.9,568.7 41.5,567.0 C40.1,565.4 39.8,562.8 37.0,562.1 C34.3,561.5 29.4,563.1 25.1,563.1 C20.8,563.1 13.6,561.0 11.2,562.0 C8.8,563.1 10.7,567.3 10.6,569.5 C10.6,571.7 10.0,574.2 11.1,575.3 Z" fill="#cea8cf" stroke="#c07fb6" stroke-width="0.6" opacity="0.95"/>
<path d="M61.0,609.5 C60.4,607.9 58.1,606.4 56.5,605.3 C54.9,604.3 54.0,603.5 51.6,603.2 C49.3,602.9 45.7,603.3 42.3,603.6 C38.9,604.0 33.0,603.9 31.1,605.4 C29.2,606.9 31.0,610.1 30.8,612.4 C30.7,614.7 27.8,618.0 30.1,619.3 C32.5,620.6 40.1,620.2 45.0,620.0 C49.9,619.9 56.8,619.5 59.4,618.6 C62.1,617.7 60.3,616.4 60.6,614.9 C60.9,613.4 61.7,611.1 61.0,609.5 Z" fill="#cea8cf" stroke="#c07fb6" stroke-width="0.6" opacity="0.95"/>
<path d="M45.9,587.2 C46.0,587.2 47.2,587.6 47.8,587.8 C48.4,588.0 48.7,588.6 49.4,588.5 C50.1,588.4 51.4,588.2 52.1,587.4 C52.9,586.6 54.0,584.6 54.1,583.7 C54.1,582.8 52.8,582.7 52.5,582.0 C52.3,581.2 53.0,579.6 52.5,579.3 C52.0,578.9 50.5,579.8 49.4,580.0 C48.3,580.3 46.4,579.9 45.8,580.8 C45.3,581.6 46.1,583.9 46.1,584.9 C46.1,585.9 45.8,586.3 45.9,586.8 C46.1,587.3 46.9,587.9 46.9,588.0 C46.9,588.1 45.7,587.3 45.9,587.2 Z" fill="#d2aed3" stroke="#c07fb6" stroke-width="0.6" opacity="0.95"/>
<rect x="11.70" y="562.90" width="73.50" height="55.20" fill="#000" filter="url(#nj2)" opacity="0.55"/>
<rect x="11.70" y="562.90" width="73.50" height="55.20" fill="#000" filter="url(#nj3)" opacity="0.3"/>
<path d="M52.1 574.8l0.4 -0.2M58.3 615.2l0.3 -0.2M48.0 614.9l0.4 -0.3M71.7 568.5l-0.4 0.1M72.7 580.7l-0.3 -0.3M76.5 590.2l-0.4 0.1M42.4 577.8l0.4 -0.3M66.8 604.1l0.3 0.2M73.5 564.2l-0.3 -0.3M73.9 578.5l0.1 0.4M49.9 613.5l-0.2 0.1" stroke="#b0437f" stroke-width="1.6" stroke-linecap="round" opacity="0.36" fill="none"/>
<path d="M66.2 590.0l0.2 -0.3M47.4 603.9l0.4 0.1M75.3 609.9l0.5 -0.0M30.9 570.3l0.0 -0.0M48.9 605.9l-0.3 0.3M72.7 588.0l0.0 -0.3M36.3 613.4l-0.1 0.1" stroke="#b0437f" stroke-width="1.6" stroke-linecap="round" opacity="0.64" fill="none"/>
<path d="M41.8 581.1l-0.4 -0.2M66.0 563.8l-0.4 -0.2M13.0 598.2l-0.1 0.1M83.6 610.2l-0.4 0.3M81.4 590.1l-0.0 -0.2M70.0 614.0l-0.3 -0.2" stroke="#b0437f" stroke-width="1.1" stroke-linecap="round" opacity="0.64" fill="none"/>
<path d="M46.4 603.6l-0.2 0.0M19.4 611.4l-0.2 -0.1M31.1 615.7l-0.0 0.4M70.7 586.7l-0.4 0.3M72.1 611.5l0.4 -0.1M75.9 612.1l-0.4 0.2M15.5 580.7l-0.2 0.4M39.0 603.0l-0.5 -0.3M77.2 607.5l0.4 0.3M71.6 588.3l0.5 0.1M62.4 598.0l-0.4 0.4M82.2 612.8l0.0 -0.0M54.3 604.7l0.3 0.3" stroke="#b0437f" stroke-width="0.7" stroke-linecap="round" opacity="0.36" fill="none"/>
<path d="M81.6 609.5l0.2 0.0M65.4 607.0l0.4 -0.2M15.2 605.8l0.3 -0.1M18.3 581.4l0.0 0.4M72.0 589.1l-0.4 0.1M35.6 570.2l-0.3 -0.3M43.5 589.4l-0.2 0.0M56.7 569.7l-0.3 -0.1" stroke="#b0437f" stroke-width="0.7" stroke-linecap="round" opacity="0.64" fill="none"/>
<path d="M34.4 614.4l-0.1 -0.3M60.5 595.6l0.2 -0.1M44.3 598.7l0.4 0.4M39.5 594.6l-0.2 0.2M70.7 600.5l0.4 -0.2" stroke="#b0437f" stroke-width="1.1" stroke-linecap="round" opacity="0.36" fill="none"/>
<ellipse cx="37.0" cy="588.0" rx="2.6" ry="1.3" fill="#8a1d55" opacity="0.9" transform="rotate(109 37.0 588.0)"/>
<ellipse cx="57.0" cy="587.0" rx="2.1" ry="1.0" fill="#8a1d55" opacity="0.9" transform="rotate(129 57.0 587.0)"/>
<ellipse cx="71.0" cy="577.0" rx="1.9" ry="1.0" fill="#8a1d55" opacity="0.9" transform="rotate(107 71.0 577.0)"/>
<ellipse cx="78.0" cy="606.0" rx="2.2" ry="1.1" fill="#8a1d55" opacity="0.9" transform="rotate(6 78.0 606.0)"/>
<ellipse cx="52.0" cy="568.0" rx="1.9" ry="1.0" fill="#8a1d55" opacity="0.9" transform="rotate(124 52.0 568.0)"/>
<ellipse cx="30.0" cy="574.0" rx="1.6" ry="0.8" fill="#8a1d55" opacity="0.9" transform="rotate(30 30.0 574.0)"/>
</g>
<g clip-path="url(#cj11)">
<rect x="86.10" y="562.90" width="73.50" height="55.20" fill="#f1edf2" />
<path d="M133.6,587.2 C133.8,589.5 133.9,587.5 134.1,588.0 C134.3,588.5 132.5,590.9 135.0,590.0 C137.5,589.1 144.6,584.9 148.9,582.6 C153.2,580.2 158.8,578.2 160.8,575.8 C162.8,573.5 161.2,570.7 161.1,568.4 C161.1,566.1 162.8,562.9 160.6,561.9 C158.3,560.9 152.2,562.7 147.5,562.6 C142.8,562.6 134.7,559.7 132.3,561.6 C129.9,563.5 132.8,569.7 133.0,573.9 C133.2,578.2 133.5,584.8 133.6,587.2 Z" fill="#e2cce2" stroke="#c07fb6" stroke-width="0.6" opacity="0.95"/>
<path d="M141.2,619.0 C143.2,621.3 148.2,619.5 151.4,619.5 C154.6,619.5 158.8,622.3 160.4,619.0 C162.0,615.7 160.9,606.6 160.9,599.9 C160.9,593.1 162.3,580.8 160.3,578.5 C158.4,576.3 153.2,584.0 149.2,586.2 C145.2,588.5 137.9,588.8 136.2,592.0 C134.5,595.3 138.3,601.2 139.1,605.7 C139.9,610.2 139.1,616.7 141.2,619.0 Z" fill="#e2cce2" stroke="#c07fb6" stroke-width="0.6" opacity="0.95"/>
<path d="M133.6,592.1 C133.3,589.6 133.8,590.6 133.5,590.1 C133.2,589.6 134.3,589.7 131.9,589.1 C129.5,588.6 123.2,587.3 119.1,586.9 C114.9,586.6 111.1,585.7 107.2,587.0 C103.2,588.4 98.9,592.5 95.3,595.0 C91.6,597.6 86.8,599.6 85.1,602.4 C83.4,605.2 85.1,608.8 85.1,611.7 C85.2,614.5 80.6,618.4 85.3,619.5 C89.9,620.5 104.0,618.1 113.0,618.1 C121.9,618.1 135.3,621.4 139.0,619.3 C142.7,617.2 136.3,610.0 135.4,605.5 C134.5,601.0 133.9,594.7 133.6,592.1 Z" fill="#dcc3dd" stroke="#c07fb6" stroke-width="0.6" opacity="0.95"/>
<path d="M105.5,584.8 C107.6,581.7 107.3,577.8 107.7,574.0 C108.2,570.3 110.2,564.4 108.2,562.4 C106.2,560.3 99.6,561.9 95.7,561.8 C91.8,561.7 86.6,558.4 84.9,561.7 C83.2,565.0 85.4,575.1 85.4,581.4 C85.4,587.7 83.2,597.7 84.8,599.5 C86.4,601.4 91.7,595.0 95.2,592.5 C98.6,590.1 103.4,587.9 105.5,584.8 Z" fill="#dcc3dd" stroke="#c07fb6" stroke-width="0.6" opacity="0.95"/>
<path d="M107.6,584.1 C109.6,586.0 116.6,584.1 120.6,584.6 C124.6,585.0 129.9,588.6 131.6,586.7 C133.3,584.8 131.0,577.2 130.8,573.1 C130.6,569.1 132.0,564.2 130.2,562.4 C128.4,560.7 123.6,562.8 120.2,562.7 C116.8,562.5 111.8,559.8 109.9,561.5 C108.0,563.2 109.1,569.1 108.7,572.9 C108.4,576.6 105.6,582.2 107.6,584.1 Z" fill="#e2cce2" stroke="#c07fb6" stroke-width="0.6" opacity="0.95"/>
<rect x="86.10" y="562.90" width="73.50" height="55.20" fill="#000" filter="url(#nj2)" opacity="0.25"/>
<rect x="86.10" y="562.90" width="73.50" height="55.20" fill="#000" filter="url(#nj3)" opacity="0.3"/>
<path d="M152.1 609.8l-0.2 -0.1M123.6 569.1l-0.5 -0.0M124.3 563.6l0.0 0.4M124.1 605.3l-0.1 0.1M102.9 607.8l0.0 0.0M118.0 590.5l-0.4 -0.2M87.9 597.3l0.4 0.1M144.9 579.6l0.1 -0.2M93.9 597.3l0.1 -0.2M133.4 609.3l0.3 0.4M103.5 605.5l0.3 -0.3M151.6 578.6l0.1 0.4M120.9 590.3l0.3 -0.3M93.2 572.1l0.2 0.2M122.8 580.2l-0.1 0.1M139.5 583.8l0.3 0.0M88.5 588.8l-0.0 0.1M86.5 582.4l-0.1 -0.3M137.1 617.6l0.3 -0.1M101.0 576.5l0.5 -0.0M113.4 581.5l0.5 0.1M125.2 599.7l0.4 0.2M123.0 573.4l0.2 0.4M115.4 563.5l-0.2 0.1M90.2 591.1l0.0 -0.2M146.0 567.8l-0.5 -0.0M103.8 573.0l0.2 -0.3M138.4 602.1l0.4 -0.2M96.6 616.8l-0.3 -0.3M116.5 604.0l-0.5 0.2M97.8 582.7l-0.1 -0.1M145.2 579.1l0.2 0.1M124.0 612.0l-0.4 -0.0M126.9 592.9l0.4 0.0M129.0 605.7l0.4 -0.3M139.7 571.1l0.2 0.4M151.8 617.0l0.3 0.1M147.5 572.9l0.1 -0.3M131.2 613.4l0.2 0.1M99.9 574.9l0.2 -0.1M105.9 593.3l-0.4 0.3M142.6 606.8l0.4 -0.1M141.6 616.7l-0.3 -0.3M150.7 586.9l0.4 -0.2M108.3 576.7l0.5 -0.2M90.9 602.1l0.3 0.1M143.2 581.1l-0.3 0.1M157.9 589.3l0.4 -0.2M107.7 570.5l-0.3 0.4M86.8 610.0l-0.0 0.2M128.9 583.5l0.4 0.3M101.3 606.6l-0.1 -0.0M159.4 580.0l0.2 0.2M115.6 575.6l-0.1 -0.0M134.0 569.4l-0.1 0.4M127.3 564.6l0.0 -0.1M143.4 600.8l-0.1 0.3M86.7 577.8l0.2 0.3M130.2 601.7l0.4 -0.3M132.2 604.5l0.4 -0.1M158.2 586.5l-0.3 0.4M148.2 602.1l0.2 -0.0M98.2 588.4l0.3 -0.3M118.7 565.4l-0.4 0.2M121.1 573.0l-0.3 0.4M124.3 586.0l0.2 -0.4M148.4 582.7l0.3 0.2M87.6 594.3l-0.5 0.2M116.6 616.7l0.1 0.1M150.1 617.8l-0.4 0.1M113.8 564.7l0.2 -0.2M103.2 563.8l0.4 -0.0M108.9 606.9l0.2 -0.4M111.9 572.6l-0.1 -0.3M123.7 598.0l0.0 0.3M128.0 592.3l0.2 -0.3M121.3 598.4l-0.4 -0.1M125.6 577.3l0.2 0.0M106.8 601.2l0.0 0.3M114.5 607.1l-0.2 -0.2M123.1 576.8l0.3 0.1M96.7 615.7l-0.5 -0.0M109.3 597.5l0.2 0.4M151.6 607.7l0.1 0.2M121.4 588.9l-0.3 -0.2M121.2 585.0l-0.4 0.2M94.3 614.3l-0.3 0.0M117.7 606.7l-0.2 -0.1" stroke="#b0437f" stroke-width="1.6" stroke-linecap="round" opacity="0.64" fill="none"/>
<path d="M105.8 593.4l0.3 -0.1M127.7 604.8l0.4 0.2M128.4 591.1l-0.3 -0.2M108.7 600.8l-0.5 0.1M129.7 583.5l-0.2 -0.4M123.9 617.9l0.0 -0.0M138.5 606.3l0.5 0.3M115.3 589.3l-0.0 -0.1M113.0 569.6l-0.4 -0.3M131.7 612.8l0.1 0.0M121.5 606.9l-0.1 -0.4M116.6 583.5l-0.5 -0.4M93.5 567.3l0.0 0.3M141.4 579.2l-0.2 0.1M144.7 606.3l-0.3 -0.2M124.7 582.4l-0.2 -0.1M89.2 571.5l-0.4 -0.1M126.8 616.2l0.2 0.2M151.1 606.9l-0.1 0.2M135.0 594.0l0.1 -0.3M140.1 593.2l-0.1 0.1M149.6 579.8l-0.2 0.4M146.0 581.3l0.4 -0.3M88.8 564.2l0.3 -0.2M145.8 617.1l0.0 -0.1M135.2 586.2l-0.1 0.2M130.9 603.0l0.3 0.1M146.9 563.6l0.2 -0.2M117.8 586.5l-0.2 0.2M136.0 613.5l-0.4 -0.0M97.4 565.6l0.4 0.1M122.6 569.7l0.3 -0.4M110.4 579.5l0.2 0.3M110.1 595.1l0.1 -0.3M106.0 570.6l0.0 -0.4M159.1 610.1l-0.2 -0.1M109.6 584.6l0.2 -0.2M144.7 614.1l-0.5 0.0M128.6 574.6l-0.4 0.2M93.0 589.7l-0.2 0.1M97.1 572.0l0.4 0.4M112.3 598.0l0.5 -0.2M88.7 583.3l-0.3 0.1M117.0 614.0l-0.3 -0.0M146.4 571.7l0.4 0.0M103.7 601.5l-0.1 -0.0M159.4 598.9l-0.0 -0.1M117.8 616.5l-0.5 0.3M105.0 578.5l-0.1 0.3M118.4 564.0l-0.5 0.0M97.6 578.5l0.2 0.3M93.3 564.0l-0.2 -0.2M157.0 607.8l0.2 -0.1M118.0 604.2l0.2 -0.1M148.9 568.7l-0.1 -0.1M133.4 564.5l0.2 -0.4M122.5 580.7l0.4 0.3M118.6 593.9l-0.2 0.3M97.9 588.3l-0.1 0.2M152.1 601.3l-0.4 -0.4M116.9 582.8l-0.1 0.3M104.8 609.0l0.3 -0.4M115.7 598.9l0.0 -0.3M132.4 584.6l-0.3 0.2M146.3 607.8l0.0 0.0M94.4 589.9l0.2 0.0M141.5 597.1l-0.3 0.2M99.1 565.3l-0.4 -0.3M129.2 568.1l0.3 -0.1M131.7 594.0l0.4 -0.1M136.2 613.3l0.4 0.1M87.5 613.2l0.3 0.3M99.6 603.3l0.1 -0.1M121.9 584.5l-0.0 -0.2M147.6 582.4l-0.3 0.4M145.4 616.3l-0.2 0.3" stroke="#b0437f" stroke-width="1.1" stroke-linecap="round" opacity="0.64" fill="none"/>
<path d="M115.1 604.2l-0.4 0.3M87.2 588.7l-0.3 0.2M128.1 573.7l-0.3 -0.2M101.6 565.1l0.3 0.3M128.2 595.3l0.1 0.3M121.8 591.4l0.1 -0.3M148.3 567.3l-0.1 -0.1M143.1 570.1l0.4 -0.2M108.8 563.8l-0.2 0.3M131.3 611.2l0.4 0.4M106.8 583.5l-0.4 -0.1M135.2 581.5l-0.1 0.1M114.6 582.3l0.4 0.2M141.2 588.6l0.3 0.3M89.5 566.8l-0.3 -0.0M103.4 610.8l-0.5 -0.3M151.9 563.3l0.1 -0.4M135.3 564.6l-0.3 0.1M93.6 563.2l0.1 -0.1M155.6 585.3l-0.4 0.3M155.1 598.2l-0.3 -0.2M135.6 583.6l-0.2 0.2M106.6 613.7l0.4 -0.0M87.2 614.5l-0.0 0.2M149.6 608.4l-0.5 0.4M99.4 572.6l-0.2 -0.1M141.3 580.9l0.4 -0.1M149.4 589.3l0.5 -0.4M88.0 568.8l-0.2 0.4M92.6 569.6l-0.4 -0.2M103.8 581.7l0.5 -0.0M118.7 602.7l-0.4 0.0M95.6 594.9l-0.2 0.1M91.4 594.9l0.0 0.3M128.4 602.6l-0.1 0.2M149.9 586.0l-0.3 0.0M137.8 580.9l-0.4 0.2M147.9 616.5l0.2 -0.1M150.1 595.1l-0.0 0.3M92.2 596.3l0.4 -0.4M106.2 599.4l-0.3 -0.3M156.2 599.3l0.3 -0.1M106.3 567.0l-0.0 0.1M129.7 611.4l-0.1 0.4M123.8 610.9l-0.2 0.2M109.9 567.4l0.2 -0.0M153.6 607.2l-0.3 0.3M149.5 606.0l-0.2 -0.2M87.4 585.3l0.1 -0.1M104.6 611.8l-0.1 -0.0M145.7 580.8l0.4 0.3M119.3 564.1l-0.5 -0.3M118.6 583.0l0.3 -0.4M95.4 592.1l-0.4 0.1M118.4 599.2l0.4 0.3M109.2 571.4l-0.0 -0.3M123.1 605.1l-0.5 -0.4M117.0 585.8l-0.3 0.0M97.0 579.0l-0.4 -0.1M118.0 600.6l0.1 -0.3M109.4 614.2l0.4 0.1M95.0 572.5l-0.3 0.0M133.7 616.9l-0.4 0.1M91.3 605.8l0.1 0.2M154.3 610.8l0.2 0.4M159.0 604.5l0.1 0.3M155.5 582.2l-0.4 0.2M110.9 564.9l0.3 -0.2M122.7 613.6l-0.3 0.4M142.6 572.1l0.1 -0.3M141.7 565.4l0.4 0.1" stroke="#b0437f" stroke-width="0.7" stroke-linecap="round" opacity="0.64" fill="none"/>
<path d="M86.9 573.6l0.2 0.3M151.7 608.7l0.2 -0.2M153.6 607.0l0.3 0.2M118.7 587.3l-0.3 0.4M157.2 585.8l-0.5 -0.4M147.9 571.3l-0.3 -0.3M132.4 613.2l-0.1 0.2M126.9 594.4l0.5 0.4M116.6 592.0l0.3 -0.1M145.5 594.1l0.4 0.3M102.1 591.5l-0.1 -0.2M144.5 594.3l-0.3 0.3M146.3 604.5l-0.0 0.3M110.8 590.0l0.5 -0.3M153.8 563.8l-0.1 0.3M94.9 603.8l0.3 -0.1M144.2 594.8l-0.4 -0.3M131.4 569.8l-0.0 -0.0M100.5 598.5l-0.3 -0.1M105.5 600.0l-0.3 -0.2M111.1 587.9l-0.1 0.3M159.3 605.7l0.1 0.3M110.6 600.9l0.4 0.4M153.6 609.8l-0.4 -0.2M106.4 569.4l0.3 -0.3M144.0 598.6l0.1 -0.1M95.2 599.6l-0.1 -0.4M135.6 591.3l0.3 -0.2M140.9 592.4l0.2 0.2M116.8 594.8l0.0 -0.3M111.4 596.3l-0.0 -0.1M131.4 570.7l-0.0 0.1M109.7 598.2l-0.3 -0.2M126.5 595.9l0.2 0.2M130.6 604.0l0.1 0.1M121.0 599.9l-0.2 -0.3M127.4 600.3l-0.3 -0.2M108.5 597.0l-0.4 0.1M127.7 577.1l0.3 -0.3M149.6 591.9l-0.2 -0.1M148.7 600.7l-0.4 0.1M149.7 594.5l0.4 0.3M87.6 575.8l-0.5 -0.3M114.8 584.5l-0.3 -0.0M99.6 591.9l0.2 0.3M106.8 594.3l0.2 -0.3M128.1 583.2l-0.3 -0.2M91.8 607.1l0.5 0.2M96.8 593.7l-0.2 -0.2M93.6 593.2l0.1 0.2M143.8 615.3l0.3 -0.3M97.9 614.3l-0.4 -0.0M120.7 571.1l-0.2 -0.3M134.9 595.5l-0.1 0.4M125.4 565.9l0.5 -0.4M100.8 577.3l0.1 -0.2M95.1 610.9l-0.3 0.4M154.5 598.4l-0.4 -0.1M151.4 570.4l-0.5 -0.4M116.5 572.3l0.3 0.1M99.7 577.0l-0.2 0.0M87.3 613.5l-0.2 -0.2M132.9 563.3l-0.3 -0.2M158.5 604.5l0.3 -0.3M153.3 616.2l0.1 -0.4M147.3 567.2l-0.0 -0.2M95.8 598.9l0.3 0.3M86.6 610.2l-0.0 0.2M129.9 598.9l0.3 -0.0M119.9 609.1l-0.1 0.4M131.2 580.4l0.3 -0.0M115.4 599.9l0.2 -0.1M94.0 602.6l-0.4 -0.0M125.0 580.3l0.1 -0.2M110.2 598.7l-0.3 -0.3" stroke="#b0437f" stroke-width="1.1" stroke-linecap="round" opacity="0.36" fill="none"/>
<path d="M111.1 593.3l0.3 0.2M117.7 580.7l0.2 0.4M96.1 577.0l-0.2 -0.2M136.7 612.2l-0.3 -0.4M143.3 583.9l0.5 -0.3M126.4 609.7l-0.4 0.1M106.9 575.6l-0.1 0.2M145.5 595.8l0.5 -0.3M107.5 607.4l0.2 -0.2M138.0 569.7l0.3 0.2M140.1 613.8l0.2 0.2M88.6 591.9l-0.3 -0.2M111.8 606.2l-0.2 0.0M127.8 599.4l0.3 -0.2M115.1 583.3l0.0 -0.3M121.4 614.3l-0.2 -0.3M98.3 574.2l-0.1 0.4M108.9 606.1l0.4 -0.1M157.0 588.6l-0.3 -0.3M95.2 617.9l-0.1 -0.0M122.4 593.0l0.3 -0.4M118.8 616.9l-0.3 -0.1M118.7 569.6l0.2 0.0M101.3 566.7l-0.3 0.4M154.5 594.2l0.4 0.1M94.9 596.9l-0.3 -0.0M149.1 582.1l0.1 -0.3M103.7 572.0l0.2 -0.4M104.1 604.9l-0.1 -0.2M120.0 563.2l-0.2 -0.1M95.0 570.4l0.1 0.2M121.3 569.8l0.3 -0.0M142.8 609.8l0.4 0.1M148.2 568.8l-0.1 -0.1M144.9 595.7l0.1 0.3M112.0 581.3l0.2 -0.1M118.0 595.1l0.1 -0.1M126.1 589.8l0.1 -0.0M129.2 585.4l-0.4 -0.2M119.5 585.3l0.0 -0.3M125.1 588.0l0.2 -0.2M95.6 572.1l0.3 -0.1M107.3 576.5l0.0 -0.3M143.9 568.2l0.3 -0.1M120.1 580.0l0.4 -0.2M119.6 565.7l-0.2 0.2M135.9 586.5l0.3 -0.1M92.1 574.2l-0.0 -0.1M125.7 566.8l0.4 0.0M128.0 602.6l-0.4 0.2M93.8 599.7l-0.4 -0.0M114.4 575.0l-0.1 0.3M116.6 585.8l-0.0 -0.3M132.6 574.4l0.3 -0.1M146.9 577.3l0.4 -0.4M143.5 586.9l0.4 0.0M127.1 570.7l0.1 -0.2M127.2 616.4l0.2 -0.3M152.2 577.0l-0.3 0.1M97.1 617.1l-0.3 -0.2M112.2 586.1l0.0 0.3M138.1 600.3l0.5 -0.1M105.7 601.4l-0.1 0.2M132.2 596.8l0.3 0.3M91.8 617.8l0.3 -0.0M115.0 583.4l-0.1 -0.4M92.0 587.7l-0.1 0.3M100.9 606.7l0.4 0.3M122.2 568.0l0.4 -0.1M122.8 580.4l0.2 0.1M91.8 566.8l-0.1 -0.4M102.1 575.7l0.4 -0.3M87.7 588.5l0.2 0.1M98.7 567.5l0.4 0.2M153.7 584.3l0.4 -0.1M98.7 599.6l-0.0 0.1M145.1 610.8l-0.2 -0.1M122.7 563.0l0.3 -0.1M122.0 593.6l-0.5 -0.1M129.1 569.2l0.3 -0.3M129.0 608.9l0.1 0.4M151.3 616.8l0.3 -0.1M142.1 615.5l-0.4 0.2" stroke="#b0437f" stroke-width="1.6" stroke-linecap="round" opacity="0.36" fill="none"/>
<path d="M131.3 577.8l0.2 0.3M119.1 566.7l-0.0 0.0M130.3 587.5l0.3 -0.2M123.6 572.0l-0.0 0.3M123.1 574.1l0.1 -0.3M148.5 598.7l0.3 0.3M93.0 597.4l-0.2 0.1M118.2 597.7l0.3 -0.0M99.9 608.2l-0.1 0.2M117.2 595.8l-0.1 -0.0M120.6 577.7l0.3 -0.0M107.5 596.2l-0.1 0.1M112.7 597.8l0.3 -0.1M86.8 601.4l-0.2 -0.3M114.5 596.1l-0.3 0.1M102.0 615.4l-0.1 0.3M121.4 573.8l-0.5 -0.2M147.3 594.1l-0.3 -0.0M91.9 614.4l-0.5 0.4M92.2 608.5l0.2 -0.2M106.7 581.4l0.2 -0.3M143.2 574.5l0.4 -0.2M152.4 611.4l-0.2 -0.3M119.5 603.4l0.0 -0.0M139.5 616.3l0.0 0.1M159.1 577.9l0.3 -0.4M132.3 598.3l-0.0 0.0M147.4 604.7l-0.1 0.2M129.4 570.5l-0.5 -0.1M144.5 577.3l0.3 0.3M158.4 602.1l-0.2 0.1M113.9 574.4l-0.2 -0.1M117.4 615.8l-0.1 0.3M99.2 615.2l0.5 0.1M132.4 611.3l-0.1 -0.1M87.3 578.4l0.1 0.2M148.2 587.9l-0.5 -0.1M112.5 585.0l0.4 -0.4M121.3 596.6l-0.2 -0.3M150.4 592.1l-0.5 0.1M106.9 585.8l-0.1 0.4M109.1 577.0l-0.2 0.4M137.9 589.8l0.2 -0.1M87.6 565.2l0.5 -0.3M157.3 600.3l0.3 -0.1M142.1 617.5l0.0 0.1M104.3 601.0l-0.0 -0.2M152.0 592.1l-0.3 -0.2M134.8 575.6l0.3 -0.3M108.5 590.6l-0.1 -0.3M121.6 565.7l0.5 -0.3M120.3 608.9l-0.4 0.1M131.5 609.7l0.4 0.0M116.6 604.2l0.2 0.2M135.7 609.4l0.2 0.2M139.3 600.4l0.1 0.3M141.8 603.1l-0.3 0.0M108.0 585.2l-0.0 0.2M110.8 608.0l0.2 -0.0M120.9 567.1l-0.0 0.2M138.6 589.1l-0.2 0.0M129.3 579.1l-0.2 0.4M107.5 617.1l0.0 0.1M139.6 613.4l0.2 -0.0M98.2 589.2l-0.3 0.2M131.5 594.3l0.0 -0.3M152.0 611.2l0.3 -0.0M143.6 576.5l0.1 0.4M119.7 576.6l0.1 -0.3M140.1 571.3l-0.3 -0.4M110.7 582.2l0.4 0.3M144.8 586.5l-0.4 -0.2M97.2 601.3l0.3 -0.4M127.5 566.8l-0.3 0.1M128.8 609.1l0.5 0.3M128.6 596.8l-0.0 -0.1M158.2 615.4l-0.3 -0.0M110.8 616.2l0.1 0.4M90.4 599.0l-0.5 -0.4M152.8 579.2l-0.4 -0.3M138.6 589.0l0.1 0.1M131.0 575.4l-0.2 -0.2M143.0 611.2l0.5 -0.3M111.3 615.8l-0.3 0.1M129.5 587.2l0.3 0.2M127.6 568.5l-0.1 -0.1M152.6 613.3l-0.5 -0.3" stroke="#b0437f" stroke-width="0.7" stroke-linecap="round" opacity="0.36" fill="none"/>
<ellipse cx="128.0" cy="580.0" rx="1.4" ry="0.7" fill="#8a1d55" opacity="0.9" transform="rotate(56 128.0 580.0)"/>
</g>
<g clip-path="url(#cj12)">
<rect x="161.00" y="562.90" width="73.50" height="55.20" fill="#f3edf3" />
<path d="M201.6,594.2 C201.9,591.9 201.1,593.0 200.9,592.6 C200.6,592.3 201.0,591.9 200.2,592.2 C199.4,592.5 197.7,594.0 196.2,594.2 C194.7,594.4 192.2,591.2 191.2,593.4 C190.3,595.6 191.0,603.0 190.7,607.2 C190.3,611.5 188.6,617.1 189.1,618.9 C189.6,620.7 192.2,618.1 193.5,618.2 C194.7,618.3 195.6,621.1 196.6,619.2 C197.6,617.4 198.7,611.0 199.5,606.8 C200.4,602.7 201.4,596.6 201.6,594.2 Z" fill="#dabcda" stroke="#c07fb6" stroke-width="0.6" opacity="0.95"/>
<path d="M199.1,619.3 C199.8,621.5 202.6,620.1 204.8,620.1 C207.0,620.0 211.0,619.7 212.3,618.8 C213.6,617.8 212.1,616.0 212.5,614.3 C212.8,612.6 213.8,610.3 214.5,608.5 C215.2,606.7 216.4,604.9 216.7,603.5 C216.9,602.0 216.5,600.5 216.3,599.7 C216.1,598.9 215.6,598.7 215.5,598.5 C215.4,598.4 216.7,599.0 215.7,598.9 C214.6,598.8 211.0,598.5 208.9,598.0 C206.9,597.4 204.8,594.1 203.4,595.6 C202.0,597.1 201.2,603.0 200.5,607.0 C199.8,610.9 198.4,617.1 199.1,619.3 Z" fill="#dabcda" stroke="#c07fb6" stroke-width="0.6" opacity="0.95"/>
<path d="M217.7,607.1 C218.5,607.2 220.9,605.9 222.6,605.6 C224.3,605.2 227.3,605.4 228.1,604.9 C229.0,604.4 227.7,603.1 227.7,602.5 C227.7,601.8 228.9,601.2 228.0,601.1 C227.1,601.0 224.0,601.8 222.4,601.7 C220.9,601.6 219.5,600.0 218.7,600.5 C217.9,601.0 217.9,603.6 217.8,604.7 C217.6,605.8 216.9,606.9 217.7,607.1 Z" fill="#dcc0dc" stroke="#c07fb6" stroke-width="0.6" opacity="0.95"/>
<path d="M172.3,585.0 C173.6,586.9 175.9,584.9 177.4,584.6 C178.9,584.4 180.1,585.4 181.4,583.6 C182.6,581.7 183.7,577.1 184.8,573.6 C185.8,570.0 188.7,564.1 187.7,562.1 C186.6,560.2 181.8,561.8 178.4,561.9 C175.0,561.9 168.9,560.4 167.5,562.3 C166.1,564.3 169.3,569.7 170.1,573.5 C170.9,577.3 171.1,583.2 172.3,585.0 Z" fill="#dabcda" stroke="#c07fb6" stroke-width="0.6" opacity="0.95"/>
<path d="M183.5,585.3 C182.8,585.6 185.0,586.4 185.3,586.7 C185.5,586.9 184.7,586.6 185.0,587.0 C185.4,587.4 186.5,588.4 187.4,589.1 C188.4,589.8 189.6,591.1 190.9,591.2 C192.1,591.4 193.3,590.1 194.8,589.9 C196.3,589.7 199.2,589.9 200.0,589.9 C200.8,589.8 199.6,589.9 199.6,589.5 C199.7,589.2 200.9,588.2 200.5,587.7 C200.1,587.1 198.1,586.7 197.1,586.1 C196.1,585.5 195.7,584.3 194.4,584.2 C193.2,584.0 191.4,584.8 189.6,585.0 C187.7,585.2 184.2,585.1 183.5,585.3 Z" fill="#cea8cf" stroke="#c07fb6" stroke-width="0.6" opacity="0.95"/>
<path d="M229.3,600.8 C229.0,601.5 229.3,602.0 229.6,602.7 C229.9,603.3 230.4,604.1 231.1,604.7 C231.8,605.2 233.0,605.5 233.7,606.2 C234.3,606.9 234.7,609.5 235.1,608.8 C235.6,608.1 236.5,603.8 236.5,602.0 C236.4,600.2 235.8,598.6 235.0,597.9 C234.2,597.3 232.4,597.5 231.5,598.0 C230.5,598.5 229.6,600.0 229.3,600.8 Z" fill="#dabcda" stroke="#c07fb6" stroke-width="0.6" opacity="0.95"/>
<path d="M196.3,582.2 C196.6,582.6 197.4,582.8 198.3,583.2 C199.1,583.7 200.7,584.6 201.4,584.8 C202.1,585.1 202.4,584.6 202.5,584.5 C202.6,584.4 202.3,585.0 202.0,584.1 C201.7,583.3 201.5,580.7 200.8,579.4 C200.2,578.2 198.8,576.5 198.0,576.7 C197.2,576.9 196.4,579.7 196.1,580.6 C195.8,581.5 195.9,581.7 196.3,582.2 Z" fill="#cea8cf" stroke="#c07fb6" stroke-width="0.6" opacity="0.95"/>
<path d="M181.0,585.0 C180.1,585.1 179.2,586.5 177.7,587.0 C176.2,587.5 173.1,588.0 172.1,588.0 C171.1,588.0 171.9,586.9 171.6,587.0 C171.3,587.2 169.7,587.2 170.1,588.9 C170.5,590.5 172.9,594.0 173.9,596.9 C174.8,599.7 174.5,605.9 175.6,606.0 C176.6,606.1 178.8,600.5 180.1,597.5 C181.5,594.6 183.2,590.1 183.6,588.3 C184.1,586.5 183.4,587.1 183.0,586.5 C182.5,586.0 181.9,584.9 181.0,585.0 Z" fill="#d8b8d8" stroke="#c07fb6" stroke-width="0.6" opacity="0.95"/>
<path d="M219.5,579.1 C220.0,580.7 220.6,580.3 221.1,580.8 C221.6,581.4 221.1,582.1 222.4,582.3 C223.8,582.4 226.9,581.7 229.1,581.8 C231.3,582.0 234.7,584.6 235.7,583.0 C236.7,581.4 235.0,575.8 235.0,572.4 C234.9,568.9 237.2,564.1 235.5,562.2 C233.8,560.4 227.9,561.3 224.5,561.3 C221.2,561.3 216.6,560.6 215.5,562.2 C214.3,563.8 217.0,568.1 217.7,570.9 C218.3,573.7 218.9,577.4 219.5,579.1 Z" fill="#d2aed3" stroke="#c07fb6" stroke-width="0.6" opacity="0.95"/>
<path d="M191.1,561.6 C190.6,560.8 190.0,562.1 189.8,562.2 C189.6,562.4 190.5,560.6 190.0,562.4 C189.5,564.3 187.9,570.0 186.8,573.4 C185.7,576.8 183.5,581.2 183.7,582.7 C183.9,584.3 186.2,583.1 187.9,582.9 C189.5,582.8 192.6,582.5 193.6,581.8 C194.6,581.1 193.4,580.0 193.9,578.7 C194.5,577.4 197.0,576.0 196.8,574.0 C196.7,571.9 193.9,568.8 192.9,566.7 C192.0,564.6 191.6,562.3 191.1,561.6 Z" fill="#dabcda" stroke="#c07fb6" stroke-width="0.6" opacity="0.95"/>
<path d="M198.2,573.6 C199.0,575.2 200.3,576.2 201.1,577.8 C202.0,579.4 201.6,582.7 203.3,583.1 C205.0,583.5 209.2,580.8 211.5,580.1 C213.7,579.4 216.4,580.4 217.0,578.9 C217.6,577.3 215.7,573.4 215.2,570.7 C214.6,567.9 215.6,564.0 213.7,562.5 C211.7,560.9 206.9,561.6 203.6,561.6 C200.2,561.5 194.7,561.1 193.5,562.3 C192.4,563.4 195.7,566.6 196.5,568.5 C197.3,570.3 197.5,572.0 198.2,573.6 Z" fill="#d8b8d8" stroke="#c07fb6" stroke-width="0.6" opacity="0.95"/>
<path d="M159.8,589.0 C159.0,589.6 160.0,592.3 160.1,594.4 C160.2,596.4 159.3,599.6 160.4,601.4 C161.5,603.3 164.4,604.3 166.8,605.6 C169.1,606.8 173.9,609.9 174.4,609.0 C175.0,608.1 171.1,603.6 169.9,600.3 C168.8,597.0 168.3,590.6 167.4,589.0 C166.5,587.4 165.8,590.6 164.5,590.5 C163.2,590.5 160.5,588.4 159.8,589.0 Z" fill="#dcc0dc" stroke="#c07fb6" stroke-width="0.6" opacity="0.95"/>
<path d="M184.8,590.3 C183.6,591.8 182.1,597.1 180.8,600.3 C179.5,603.5 177.5,607.9 177.0,609.5 C176.5,611.1 177.9,609.8 177.9,610.0 C177.9,610.1 177.0,609.6 177.0,610.4 C177.0,611.3 177.5,613.4 178.0,614.8 C178.5,616.3 179.2,618.6 180.0,619.2 C180.9,619.8 181.8,618.5 183.1,618.6 C184.3,618.6 186.6,621.3 187.6,619.4 C188.7,617.4 189.1,611.1 189.4,606.8 C189.6,602.4 189.4,595.5 189.2,593.0 C188.9,590.5 188.6,592.1 187.8,591.6 C187.1,591.2 186.0,588.9 184.8,590.3 Z" fill="#dcc0dc" stroke="#c07fb6" stroke-width="0.6" opacity="0.95"/>
<path d="M222.3,584.0 C221.0,585.4 221.8,589.5 221.1,591.8 C220.4,594.1 218.5,596.8 218.1,597.8 C217.7,598.8 218.6,597.9 218.6,598.0 C218.6,598.0 217.1,597.9 218.1,598.1 C219.0,598.4 222.4,599.2 224.2,599.3 C225.9,599.5 227.3,599.5 228.6,599.1 C229.8,598.6 230.6,597.2 231.8,596.4 C233.0,595.7 235.0,595.7 235.8,594.5 C236.5,593.2 236.3,590.6 236.3,588.9 C236.2,587.3 236.9,585.5 235.6,584.6 C234.3,583.8 230.6,583.8 228.4,583.7 C226.2,583.6 223.5,582.7 222.3,584.0 Z" fill="#dabcda" stroke="#c07fb6" stroke-width="0.6" opacity="0.95"/>
<path d="M214.1,618.8 C215.6,619.4 220.2,618.0 223.8,618.0 C227.4,617.9 233.7,619.3 235.7,618.6 C237.7,618.0 235.7,615.4 235.7,614.2 C235.7,613.1 236.3,612.6 235.7,611.7 C235.1,610.8 233.0,609.7 232.0,608.8 C231.1,607.9 231.3,606.4 229.9,606.2 C228.6,606.0 225.9,607.1 223.8,607.7 C221.7,608.3 218.9,608.6 217.4,609.8 C215.9,610.9 215.2,613.0 214.7,614.6 C214.1,616.1 212.6,618.3 214.1,618.8 Z" fill="#d2aed3" stroke="#c07fb6" stroke-width="0.6" opacity="0.95"/>
<path d="M165.4,562.1 C164.8,560.3 164.9,562.8 164.0,562.9 C163.0,562.9 160.8,560.4 160.0,562.2 C159.2,564.1 159.3,569.8 159.3,573.9 C159.3,578.0 159.0,584.6 159.8,586.8 C160.7,589.0 163.2,587.1 164.5,587.1 C165.8,587.2 166.8,587.2 167.7,587.0 C168.5,586.8 169.2,586.1 169.6,586.0 C169.9,585.9 170.0,588.3 169.7,586.2 C169.4,584.1 168.6,577.3 167.9,573.2 C167.2,569.2 166.1,563.8 165.4,562.1 Z" fill="#cea8cf" stroke="#c07fb6" stroke-width="0.6" opacity="0.95"/>
<path d="M203.3,586.8 C203.2,587.3 202.6,588.1 202.3,588.9 C202.1,589.7 201.8,591.2 202.0,591.6 C202.2,592.1 203.2,591.2 203.3,591.5 C203.5,591.7 201.9,592.4 203.0,593.0 C204.0,593.6 207.5,594.6 209.7,595.2 C212.0,595.8 215.1,597.6 216.4,596.6 C217.7,595.7 216.9,591.7 217.6,589.5 C218.3,587.3 220.1,584.6 220.5,583.5 C221.0,582.4 220.5,583.0 220.1,582.7 C219.7,582.4 219.5,581.5 218.0,581.5 C216.5,581.5 213.5,581.8 211.1,582.5 C208.7,583.3 205.1,585.4 203.7,585.9 C202.3,586.4 202.9,585.6 202.8,585.8 C202.8,585.9 203.4,586.2 203.3,586.8 Z" fill="#dcc0dc" stroke="#c07fb6" stroke-width="0.6" opacity="0.95"/>
<path d="M174.8,612.0 C173.2,610.7 169.0,608.6 166.5,607.2 C163.9,605.8 160.8,602.8 159.6,603.6 C158.4,604.3 159.4,609.2 159.4,611.7 C159.5,614.2 158.3,617.3 159.9,618.7 C161.6,620.0 166.3,619.7 169.3,619.8 C172.3,619.9 176.9,620.1 178.0,619.3 C179.1,618.5 176.7,616.3 176.1,615.1 C175.6,613.9 176.4,613.3 174.8,612.0 Z" fill="#d2aed3" stroke="#c07fb6" stroke-width="0.6" opacity="0.95"/>
<rect x="161.00" y="562.90" width="73.50" height="55.20" fill="#000" filter="url(#nj2)" opacity="0.55"/>
<rect x="161.00" y="562.90" width="73.50" height="55.20" fill="#000" filter="url(#nj3)" opacity="0.3"/>
<path d="M232.3 617.0l0.1 0.3M163.3 564.1l0.3 0.1M164.8 594.2l0.2 -0.4M172.6 567.5l0.5 0.0M166.0 611.4l0.1 -0.1M198.6 588.2l0.3 -0.3M170.1 575.2l-0.1 -0.2M172.5 598.3l-0.1 -0.1M171.6 578.9l0.0 -0.4M186.3 594.3l-0.4 -0.3M233.9 605.9l0.2 0.0M203.5 593.4l-0.2 -0.1M208.4 592.8l0.2 -0.3M223.6 607.2l0.3 0.3M219.5 588.6l-0.4 -0.1" stroke="#b0437f" stroke-width="1.6" stroke-linecap="round" opacity="0.36" fill="none"/>
<path d="M206.0 585.9l0.3 -0.2M176.3 569.3l-0.2 0.1M207.3 604.9l0.2 0.0M204.7 595.7l-0.3 -0.4M206.8 598.8l-0.2 0.1M201.2 586.1l-0.2 0.0M191.7 602.2l0.3 -0.3M204.9 578.2l-0.5 0.3M200.6 579.3l0.0 0.3M167.8 590.0l0.1 -0.3M220.4 569.1l-0.4 -0.2M196.6 592.1l0.3 -0.2M205.3 564.4l0.0 -0.0M220.0 585.4l-0.1 -0.4M188.8 582.9l0.0 0.4M214.4 579.1l0.4 0.3M175.7 615.5l0.2 -0.2M171.1 595.5l0.2 0.2M166.8 573.2l0.2 -0.2" stroke="#b0437f" stroke-width="1.6" stroke-linecap="round" opacity="0.64" fill="none"/>
<path d="M217.9 603.5l-0.0 -0.1M202.8 598.5l0.4 -0.1M233.8 585.9l-0.3 0.2M177.1 591.2l0.1 0.0M207.4 584.2l-0.5 -0.4M179.0 572.5l-0.1 0.1M182.9 595.8l-0.3 -0.2M230.7 614.4l-0.2 0.4M167.8 566.5l0.1 -0.3M176.4 617.2l-0.1 0.2M223.7 602.9l0.1 0.3M231.8 568.1l0.3 -0.3M217.3 588.8l0.0 -0.3M183.6 594.9l-0.0 -0.2" stroke="#b0437f" stroke-width="1.1" stroke-linecap="round" opacity="0.64" fill="none"/>
<path d="M167.9 599.0l0.2 0.1M187.0 593.8l0.5 0.3M233.9 583.4l0.0 -0.2M223.0 576.9l0.5 0.2M176.6 576.9l0.4 0.3M216.0 567.0l0.3 0.3" stroke="#b0437f" stroke-width="0.7" stroke-linecap="round" opacity="0.36" fill="none"/>
<path d="M186.8 581.5l0.4 0.3M225.0 594.6l0.5 0.1M231.8 593.2l-0.2 -0.1M188.9 563.4l-0.3 -0.1M167.9 573.3l-0.1 -0.1M192.2 587.0l-0.3 -0.3M164.7 573.3l0.2 -0.0M184.6 589.7l0.3 -0.2M166.8 580.5l0.0 -0.3M211.9 566.2l0.3 0.2M178.2 617.2l0.5 -0.2M168.3 587.5l-0.3 0.4M195.5 588.2l-0.4 0.3M189.3 577.6l0.2 0.1M199.7 589.5l-0.0 0.2M208.4 595.3l-0.2 0.3M189.5 616.2l-0.1 -0.3M162.9 597.5l-0.3 0.2M167.0 616.1l-0.1 -0.3M208.2 582.1l-0.2 -0.4M204.9 581.7l0.4 -0.3M181.0 585.5l-0.0 0.3M205.1 604.5l0.4 -0.3" stroke="#b0437f" stroke-width="0.7" stroke-linecap="round" opacity="0.64" fill="none"/>
<path d="M232.8 607.7l-0.3 0.3M209.1 568.8l-0.2 0.1M185.0 569.7l-0.5 -0.3M199.1 577.2l0.1 0.3M225.6 606.9l-0.4 -0.2M224.2 607.8l-0.1 -0.2M204.0 596.7l-0.0 -0.3M174.3 587.3l-0.1 0.2M174.4 595.1l-0.2 -0.1M210.8 567.5l-0.4 -0.4M214.6 600.3l0.0 -0.3M169.2 576.8l-0.3 0.1M218.5 614.5l0.4 -0.2" stroke="#b0437f" stroke-width="1.1" stroke-linecap="round" opacity="0.36" fill="none"/>
<ellipse cx="196.0" cy="576.0" rx="1.9" ry="1.0" fill="#8a1d55" opacity="0.9" transform="rotate(52 196.0 576.0)"/>
<ellipse cx="170.0" cy="600.0" rx="1.6" ry="0.8" fill="#8a1d55" opacity="0.9" transform="rotate(170 170.0 600.0)"/>
</g>
<g clip-path="url(#cj13)">
<rect x="235.30" y="562.90" width="73.50" height="55.20" fill="#f3edf3" />
<path d="M249.2,608.2 C249.2,606.4 248.3,604.7 247.4,603.3 C246.5,601.9 245.2,600.7 243.7,599.9 C242.1,599.2 239.6,599.5 238.0,598.9 C236.4,598.2 234.8,594.8 234.1,596.1 C233.3,597.4 233.3,602.7 233.4,606.6 C233.5,610.5 233.5,617.3 234.6,619.3 C235.6,621.3 237.7,618.6 239.8,618.6 C241.8,618.5 245.8,619.9 247.1,619.1 C248.4,618.3 247.0,615.8 247.4,613.9 C247.8,612.1 249.2,609.9 249.2,608.2 Z" fill="#d8b8d8" stroke="#c07fb6" stroke-width="0.6" opacity="0.95"/>
<path d="M291.0,562.4 C291.1,562.3 289.9,561.4 289.3,561.4 C288.7,561.3 287.9,561.6 287.5,562.0 C287.1,562.3 286.6,563.3 286.8,563.5 C286.9,563.7 287.9,563.4 288.3,563.2 C288.6,563.0 288.4,562.5 288.9,562.3 C289.3,562.2 290.9,562.6 291.0,562.4 Z" fill="#d2aed3" stroke="#c07fb6" stroke-width="0.6" opacity="0.95"/>
<path d="M281.3,586.9 C282.1,586.5 284.7,585.3 286.0,584.2 C287.3,583.2 289.0,581.6 289.2,580.6 C289.3,579.6 287.4,578.7 287.0,578.1 C286.5,577.5 288.1,578.6 286.4,577.0 C284.7,575.4 279.7,571.2 276.9,568.7 C274.1,566.2 271.2,563.2 269.9,562.1 C268.5,560.9 269.0,561.7 268.8,561.7 C268.7,561.7 269.0,561.4 268.9,561.9 C268.8,562.4 268.3,564.2 268.1,564.7 C267.9,565.3 267.0,563.4 267.9,565.4 C268.8,567.4 271.3,573.4 273.5,577.0 C275.7,580.5 279.6,585.1 280.9,586.6 C282.2,588.1 281.0,586.1 281.1,586.2 C281.1,586.2 280.5,587.2 281.3,586.9 Z" fill="#d2aed3" stroke="#c07fb6" stroke-width="0.6" opacity="0.95"/>
<path d="M286.7,616.3 C286.5,617.2 287.9,617.2 288.0,617.7 C288.1,618.2 285.5,619.3 287.2,619.5 C288.8,619.7 294.1,619.0 297.9,618.9 C301.7,618.8 308.0,620.8 310.1,618.9 C312.2,617.0 310.5,611.4 310.6,607.5 C310.6,603.6 311.6,596.5 310.2,595.5 C308.7,594.4 304.8,599.3 301.7,601.2 C298.6,603.1 293.6,605.1 291.5,606.9 C289.5,608.7 290.0,610.5 289.2,612.0 C288.4,613.6 286.9,615.4 286.7,616.3 Z" fill="#cea8cf" stroke="#c07fb6" stroke-width="0.6" opacity="0.95"/>
<path d="M269.5,597.2 C268.9,596.4 266.5,595.2 264.4,593.6 C262.3,591.9 259.1,587.4 257.0,587.2 C254.8,587.0 253.3,590.4 251.4,592.3 C249.5,594.2 246.1,596.9 245.6,598.8 C245.2,600.7 247.9,602.2 248.9,603.5 C249.8,604.9 249.5,606.6 251.1,606.8 C252.7,607.0 256.3,605.3 258.5,604.8 C260.7,604.3 263.1,604.4 264.4,603.9 C265.7,603.5 265.8,602.7 266.5,602.3 C267.2,601.9 268.5,602.0 268.7,601.4 C269.0,600.8 268.0,599.5 268.1,598.8 C268.3,598.1 270.1,598.1 269.5,597.2 Z" fill="#cea8cf" stroke="#c07fb6" stroke-width="0.6" opacity="0.95"/>
<path d="M267.6,568.8 C266.7,568.1 267.0,570.8 266.5,572.2 C265.9,573.6 263.6,575.7 264.2,577.1 C264.9,578.5 268.1,579.1 270.3,580.6 C272.6,582.1 277.3,586.7 277.6,586.0 C277.8,585.3 273.6,579.3 271.9,576.5 C270.2,573.6 268.5,569.5 267.6,568.8 Z" fill="#d8b8d8" stroke="#c07fb6" stroke-width="0.6" opacity="0.95"/>
<path d="M263.0,578.8 C261.6,578.3 262.9,580.1 262.1,580.9 C261.3,581.7 259.1,583.0 258.3,583.6 C257.5,584.2 257.1,584.0 257.2,584.4 C257.2,584.7 257.5,584.9 258.7,585.8 C259.9,586.8 262.4,588.1 264.4,589.8 C266.3,591.5 268.8,595.6 270.3,596.0 C271.8,596.4 272.2,593.6 273.4,592.4 C274.5,591.2 277.7,590.3 277.3,588.8 C276.9,587.3 273.3,585.0 270.9,583.4 C268.5,581.7 264.5,579.2 263.0,578.8 Z" fill="#dabcda" stroke="#c07fb6" stroke-width="0.6" opacity="0.95"/>
<path d="M284.5,617.0 C283.2,615.5 278.5,611.9 275.9,609.7 C273.3,607.5 270.2,604.6 268.9,603.8 C267.5,602.9 268.3,604.3 267.8,604.6 C267.2,604.9 265.9,604.2 265.7,605.7 C265.4,607.2 266.1,611.3 266.2,613.6 C266.3,615.8 264.9,618.4 266.5,619.2 C268.0,620.0 272.6,618.3 275.7,618.3 C278.7,618.2 283.2,619.0 284.6,619.1 C285.9,619.2 283.7,619.1 283.7,618.7 C283.7,618.4 285.8,618.5 284.5,617.0 Z" fill="#cea8cf" stroke="#c07fb6" stroke-width="0.6" opacity="0.95"/>
<path d="M309.5,578.1 C311.0,576.6 308.7,573.3 308.7,570.6 C308.7,568.0 310.4,563.6 309.4,562.1 C308.5,560.6 305.4,561.4 303.1,561.4 C300.8,561.5 297.4,561.7 295.7,562.3 C293.9,562.8 293.7,564.4 292.5,564.9 C291.4,565.4 289.2,564.4 288.6,565.3 C288.1,566.2 289.4,568.3 289.4,570.1 C289.4,571.8 288.5,574.2 288.5,575.6 C288.6,577.0 289.6,577.6 289.9,578.2 C290.3,578.8 289.3,579.2 290.9,579.4 C292.5,579.6 296.4,579.7 299.5,579.4 C302.6,579.2 307.9,579.6 309.5,578.1 Z" fill="#d8b8d8" stroke="#c07fb6" stroke-width="0.6" opacity="0.95"/>
<path d="M251.6,608.8 C250.5,609.7 251.0,612.3 250.6,614.0 C250.3,615.7 248.2,618.3 249.3,618.9 C250.4,619.5 254.5,617.8 257.1,617.8 C259.6,617.8 263.5,619.7 264.8,618.7 C266.0,617.7 264.6,613.8 264.4,611.7 C264.2,609.7 264.6,606.9 263.4,606.3 C262.2,605.8 259.4,608.0 257.4,608.4 C255.5,608.8 252.8,607.9 251.6,608.8 Z" fill="#dcc0dc" stroke="#c07fb6" stroke-width="0.6" opacity="0.95"/>
<path d="M291.7,604.7 C293.9,605.5 298.4,601.9 301.5,599.9 C304.5,597.8 308.9,594.7 310.1,592.5 C311.3,590.2 308.8,588.2 308.8,586.2 C308.7,584.1 310.9,581.0 309.8,580.1 C308.6,579.3 304.6,580.9 301.6,581.1 C298.6,581.3 294.3,580.7 291.6,581.3 C289.0,582.0 287.3,583.8 285.9,584.9 C284.5,586.0 282.8,586.1 283.2,587.8 C283.6,589.6 286.8,592.6 288.3,595.4 C289.7,598.3 289.5,604.0 291.7,604.7 Z" fill="#d8b8d8" stroke="#c07fb6" stroke-width="0.6" opacity="0.95"/>
<path d="M279.5,589.0 C278.7,589.7 277.4,592.8 276.0,594.2 C274.6,595.6 272.2,596.9 271.2,597.6 C270.2,598.4 270.1,598.0 270.0,598.7 C270.0,599.3 269.5,599.8 270.9,601.5 C272.3,603.2 276.2,606.9 278.5,609.0 C280.8,611.1 283.1,614.0 284.7,614.1 C286.4,614.2 287.7,611.0 288.5,609.7 C289.3,608.4 289.9,608.2 289.4,606.2 C289.0,604.3 287.3,600.6 285.9,597.8 C284.5,595.0 282.3,590.9 281.3,589.5 C280.2,588.1 279.8,589.5 279.7,589.5 C279.5,589.5 280.1,589.3 280.2,589.4 C280.4,589.6 280.8,590.5 280.7,590.4 C280.6,590.3 280.3,588.4 279.5,589.0 Z" fill="#dabcda" stroke="#c07fb6" stroke-width="0.6" opacity="0.95"/>
<path d="M256.0,585.5 C257.2,584.1 256.5,584.3 256.6,584.0 C256.7,583.7 258.3,585.0 256.6,583.8 C254.8,582.6 249.7,579.6 246.0,577.0 C242.4,574.4 236.6,567.6 234.6,568.3 C232.6,569.0 234.2,577.1 234.1,581.4 C234.0,585.7 233.0,591.8 234.0,594.2 C235.0,596.5 238.4,595.1 239.9,595.7 C241.5,596.2 241.9,597.8 243.5,597.3 C245.0,596.7 247.3,594.1 249.4,592.1 C251.5,590.1 254.8,586.8 256.0,585.5 Z" fill="#dabcda" stroke="#c07fb6" stroke-width="0.6" opacity="0.95"/>
<path d="M266.7,562.4 C264.0,562.3 256.4,562.5 251.0,562.5 C245.6,562.4 237.0,561.9 234.3,562.1 C231.6,562.3 234.7,563.1 234.7,563.8 C234.7,564.4 232.4,564.3 234.4,565.8 C236.4,567.3 243.1,570.4 246.8,573.0 C250.6,575.7 254.6,580.7 256.8,581.8 C259.0,582.9 259.1,580.5 260.0,579.5 C260.9,578.6 261.3,577.4 262.1,576.2 C262.9,574.9 264.0,573.9 264.6,572.0 C265.1,570.1 265.1,566.4 265.5,564.9 C266.0,563.4 266.9,563.4 267.1,563.0 C267.3,562.6 269.4,562.5 266.7,562.4 Z" fill="#dcc0dc" stroke="#c07fb6" stroke-width="0.6" opacity="0.95"/>
<path d="M285.8,573.3 C286.9,573.4 285.4,570.8 285.4,569.5 C285.5,568.2 286.2,566.7 286.1,565.7 C286.1,564.7 285.3,564.1 285.0,563.5 C284.7,562.8 285.5,562.0 284.6,561.6 C283.7,561.2 281.4,561.0 279.5,561.0 C277.6,561.0 273.2,560.2 273.1,561.5 C273.0,562.8 276.8,566.9 278.9,568.8 C281.0,570.8 284.7,573.2 285.8,573.3 Z" fill="#dabcda" stroke="#c07fb6" stroke-width="0.6" opacity="0.95"/>
<rect x="235.30" y="562.90" width="73.50" height="55.20" fill="#000" filter="url(#nj2)" opacity="0.55"/>
<rect x="235.30" y="562.90" width="73.50" height="55.20" fill="#000" filter="url(#nj3)" opacity="0.3"/>
<path d="M249.8 609.5l-0.0 -0.3M290.4 585.6l-0.5 -0.1M279.0 576.7l-0.4 0.1M298.4 614.0l0.1 0.3M268.7 606.8l0.5 -0.2M252.1 594.2l0.2 0.3M267.0 617.3l-0.5 0.3M279.3 567.3l-0.4 0.3M307.3 570.9l0.1 -0.1M256.8 594.2l0.0 -0.1M291.3 575.7l-0.2 -0.1" stroke="#b0437f" stroke-width="1.6" stroke-linecap="round" opacity="0.64" fill="none"/>
<path d="M254.5 599.4l-0.3 0.4M261.2 585.2l0.4 0.3M269.6 584.0l0.3 0.2M238.0 596.7l-0.5 0.2M247.4 590.6l0.3 0.3M280.7 614.9l-0.3 0.4M275.0 587.7l0.2 -0.2M237.7 600.1l0.2 0.1M255.5 591.9l0.4 0.2M282.6 602.1l-0.2 0.1M277.4 587.2l-0.5 0.0M243.7 565.0l0.4 0.1M238.3 573.6l0.2 0.3M262.1 609.1l-0.3 0.2M272.9 615.2l-0.4 0.1M254.8 611.8l-0.1 0.3" stroke="#b0437f" stroke-width="1.1" stroke-linecap="round" opacity="0.64" fill="none"/>
<path d="M270.7 580.3l-0.2 0.2M263.7 564.7l-0.2 -0.2M237.0 570.9l0.3 0.1M278.5 580.0l-0.4 0.1M303.6 599.2l-0.1 0.3M261.7 587.6l-0.5 0.4M241.9 606.7l-0.1 0.3M241.4 577.5l-0.4 -0.0M291.9 572.4l0.2 -0.4M240.9 586.5l-0.5 0.3M237.5 600.9l-0.4 0.2M236.7 580.8l-0.0 0.4M293.6 617.9l0.1 0.2M278.1 572.5l0.5 -0.3" stroke="#b0437f" stroke-width="1.1" stroke-linecap="round" opacity="0.36" fill="none"/>
<path d="M285.7 612.5l0.1 -0.0M264.7 606.7l0.1 -0.3M266.9 603.1l-0.1 -0.2M286.4 575.6l0.3 0.0M255.4 613.7l-0.1 -0.1M237.2 608.7l0.2 -0.3M266.5 568.5l-0.4 0.4M298.6 592.4l0.0 -0.1M257.5 578.8l-0.5 -0.2" stroke="#b0437f" stroke-width="0.7" stroke-linecap="round" opacity="0.64" fill="none"/>
<path d="M271.9 564.8l0.1 -0.3M305.3 617.5l0.0 0.1M239.5 606.7l0.2 0.0M274.0 565.9l-0.4 0.1M288.6 568.4l0.2 -0.3M243.4 617.5l0.5 0.1" stroke="#b0437f" stroke-width="0.7" stroke-linecap="round" opacity="0.36" fill="none"/>
<path d="M266.4 563.9l0.0 -0.4M286.6 570.4l0.3 -0.2M266.8 602.3l0.1 -0.0M299.1 573.9l-0.3 -0.2" stroke="#b0437f" stroke-width="1.6" stroke-linecap="round" opacity="0.36" fill="none"/>
<ellipse cx="284.0" cy="592.0" rx="3.5" ry="1.8" fill="#8a1d55" opacity="0.9" transform="rotate(68 284.0 592.0)"/>
<ellipse cx="299.0" cy="597.0" rx="2.9" ry="1.4" fill="#8a1d55" opacity="0.9" transform="rotate(83 299.0 597.0)"/>
<ellipse cx="262.0" cy="608.0" rx="1.9" ry="1.0" fill="#8a1d55" opacity="0.9" transform="rotate(154 262.0 608.0)"/>
<ellipse cx="300.0" cy="566.0" rx="2.6" ry="1.3" fill="#8a1d55" opacity="0.9" transform="rotate(120 300.0 566.0)"/>
<ellipse cx="247.0" cy="570.0" rx="2.1" ry="1.0" fill="#8a1d55" opacity="0.9" transform="rotate(139 247.0 570.0)"/>
</g>
<rect x="235.30" y="494.20" width="73.50" height="55.20" fill="url(#gj64)" />
<rect x="86.10" y="562.90" width="73.50" height="55.20" fill="url(#gjb)" />
<rect x="235.30" y="562.90" width="73.50" height="55.20" fill="url(#gjr)" />
<path d="M123.4,521.5 L122.5,525.1 L118.9,528.2 L113.2,529.6 L107.1,529.8 L101.7,528.0 L99.5,524.7 L95.6,521.5 L96.8,517.5 L101.0,514.4 L107.3,513.8 L113.0,514.0 L118.9,514.8 L121.4,518.2 Z" fill="none" stroke="#161616" stroke-width="1.5" stroke-dasharray="3 1.6" stroke-linejoin="round"/>
<path d="M178.0,494.3 L177.0,500.0 L180.0,507.0 L185.0,512.0 L190.0,518.0 L196.0,519.5 L202.0,517.0 L205.0,511.0 L207.0,504.0 L206.5,497.0 L205.0,494.3" fill="none" stroke="#161616" stroke-width="1.5" stroke-dasharray="3 1.6" stroke-linejoin="round"/>
<path d="M231.1,539.2 L231.2,543.6 L225.9,545.7 L221.5,547.8 L215.9,548.5 L210.9,546.4 L208.4,542.9 L207.5,539.2 L208.5,535.6 L211.7,532.7 L216.0,530.4 L221.3,531.1 L226.6,532.1 L229.6,535.4 Z" fill="none" stroke="#161616" stroke-width="1.5" stroke-dasharray="3 1.6" stroke-linejoin="round"/>
<path d="M243.0,494.3 L244.0,499.0 L248.0,503.0 L252.0,503.5 L256.0,500.0 L257.0,494.3" fill="none" stroke="#161616" stroke-width="1.5" stroke-dasharray="3 1.6" stroke-linejoin="round"/>
<path d="M235.5,512.0 L244.0,511.5 L252.0,513.0 L256.8,518.0 L255.5,524.0 L248.0,527.5 L240.0,528.6 L235.5,529.5" fill="none" stroke="#161616" stroke-width="1.5" stroke-dasharray="3 1.6" stroke-linejoin="round"/>
<path d="M236.0,549.5 L237.0,541.0 L241.0,534.0 L248.0,530.0 L256.0,530.0 L262.0,533.0 L265.0,540.0 L265.3,549.5" fill="none" stroke="#161616" stroke-width="1.5" stroke-dasharray="3 1.6" stroke-linejoin="round"/>
<path d="M276.0,500.0 L282.0,497.0 L290.0,496.0 L297.0,497.5 L300.5,501.0 L299.0,508.0 L295.0,514.0 L290.0,519.0 L286.0,524.0 L280.0,526.0 L276.0,523.0 L272.0,517.0 L271.5,510.0 L275.0,506.0 Z" fill="none" stroke="#161616" stroke-width="1.5" stroke-dasharray="3 1.6" stroke-linejoin="round"/>
<path d="M125.1,574.2 L123.8,578.1 L121.9,581.6 L118.1,582.9 L114.2,583.5 L111.6,580.2 L108.3,578.2 L108.5,574.2 L108.7,570.4 L111.1,567.5 L114.4,565.8 L118.2,565.1 L121.8,566.8 L123.2,570.7 Z" fill="none" stroke="#161616" stroke-width="1.5" stroke-dasharray="3 1.6" stroke-linejoin="round"/>
<path d="M99.9,591.2 L100.0,593.4 L97.9,594.8 L95.5,595.8 L92.7,596.3 L90.1,595.3 L88.9,593.2 L87.8,591.2 L88.2,588.9 L90.0,587.0 L92.9,586.8 L95.6,586.3 L98.4,587.1 L99.9,589.0 Z" fill="none" stroke="#161616" stroke-width="1.5" stroke-dasharray="3 1.6" stroke-linejoin="round"/>
<path d="M113.9,595.3 L112.7,597.9 L111.7,600.6 L109.1,601.5 L106.5,602.1 L104.0,600.8 L102.5,598.2 L101.6,595.3 L102.9,592.5 L103.9,589.6 L106.5,588.4 L109.1,589.5 L111.8,589.8 L113.1,592.5 Z" fill="none" stroke="#161616" stroke-width="1.5" stroke-dasharray="3 1.6" stroke-linejoin="round"/>
<path d="M205.0,570.0 L210.0,566.0 L216.0,565.0 L222.0,566.5 L226.0,570.0 L228.0,576.0 L226.0,582.0 L222.0,585.0 L217.0,587.0 L212.0,585.0 L207.0,581.0 L204.0,576.0 Z" fill="none" stroke="#161616" stroke-width="1.5" stroke-dasharray="3 1.6" stroke-linejoin="round"/>
<text x="297.70" y="542.40" font-size="5.2" text-anchor="middle" font-weight="normal" font-style="normal" fill="#222" font-family='"Liberation Sans", sans-serif' >100 µm</text>
<line x1="291.80" y1="544.80" x2="302.50" y2="544.80" stroke="#111" stroke-width="1.3" />
<text x="297.70" y="611.10" font-size="5.2" text-anchor="middle" font-weight="normal" font-style="normal" fill="#222" font-family='"Liberation Sans", sans-serif' >100 µm</text>
<line x1="291.80" y1="613.50" x2="302.50" y2="613.50" stroke="#111" stroke-width="1.3" />
<text x="316.80" y="410.30" font-size="12" text-anchor="start" font-weight="bold" font-style="normal" fill="#231f20" font-family='"Liberation Sans", sans-serif' >k</text>
<text x="371.20" y="414.30" font-size="10.1" text-anchor="middle" font-weight="normal" font-style="normal" fill="#231f20" font-family='"Liberation Sans", sans-serif' >RANKL</text>
<text x="453.60" y="414.30" font-size="10.1" text-anchor="middle" font-weight="normal" font-style="normal" fill="#231f20" font-family='"Liberation Sans", sans-serif' >BGD</text>
<text x="537.00" y="414.30" font-size="10.1" text-anchor="middle" font-weight="normal" font-style="normal" fill="#231f20" font-family='"Liberation Sans", sans-serif' textLength="75">BGD + Balicatib</text>
<text x="618.40" y="414.30" font-size="10.1" text-anchor="middle" font-weight="normal" font-style="normal" fill="#231f20" font-family='"Liberation Sans", sans-serif' >BAD</text>
<text x="327.50" y="460.30" font-size="9.4" text-anchor="middle" font-weight="normal" font-style="normal" fill="#231f20" font-family='"Liberation Sans", sans-serif' transform="rotate(-90 327.5 460.3)" ><tspan fill="#e8242b">F-actin</tspan><tspan fill="#2f86c8">/Dapi</tspan></text>
<text x="327.60" y="529.30" font-size="10.4" text-anchor="middle" font-weight="normal" font-style="normal" fill="#231f20" font-family='"Liberation Sans", sans-serif' transform="rotate(-90 327.6 529.3)" >Bone slices</text>
<text x="327.60" y="590.20" font-size="10.4" text-anchor="middle" font-weight="normal" font-style="normal" fill="#231f20" font-family='"Liberation Sans", sans-serif' transform="rotate(-90 327.6 590.2)" >Enlarged</text>
<rect x="330.10" y="417.20" width="81.20" height="81.20" fill="#050505" />
<rect x="330.10" y="500.90" width="81.20" height="56.80" fill="#9a9b9d" filter="url(#sem2_0)"/>
<rect x="330.10" y="559.90" width="81.20" height="60.50" fill="#9a9b9d" filter="url(#sem3_0)"/>
<rect x="413.00" y="417.20" width="80.70" height="81.20" fill="#050505" />
<rect x="413.00" y="500.90" width="80.70" height="56.80" fill="#9a9b9d" filter="url(#sem2_1)"/>
<rect x="413.00" y="559.90" width="80.70" height="60.50" fill="#9a9b9d" filter="url(#sem3_1)"/>
<rect x="495.80" y="417.20" width="80.60" height="81.20" fill="#050505" />
<rect x="495.80" y="500.90" width="80.60" height="56.80" fill="#9a9b9d" filter="url(#sem2_2)"/>
<rect x="495.80" y="559.90" width="80.60" height="60.50" fill="#9a9b9d" filter="url(#sem3_2)"/>
<rect x="578.30" y="417.20" width="81.50" height="81.20" fill="#050505" />
<rect x="578.30" y="500.90" width="80.50" height="56.80" fill="#9a9b9d" filter="url(#sem2_3)"/>
<rect x="578.30" y="559.90" width="81.50" height="60.50" fill="#9a9b9d" filter="url(#sem3_3)"/>
<circle cx="339.1" cy="492.6" r="0.47" fill="#3f7fd0" opacity="0.87"/>
<circle cx="397.0" cy="476.9" r="0.55" fill="#3f7fd0" opacity="0.68"/>
<circle cx="387.8" cy="493.7" r="0.73" fill="#3f7fd0" opacity="0.77"/>
<circle cx="362.0" cy="450.5" r="0.76" fill="#3f7fd0" opacity="0.71"/>
<circle cx="373.3" cy="467.9" r="0.72" fill="#3f7fd0" opacity="0.52"/>
<circle cx="349.9" cy="473.7" r="0.69" fill="#3f7fd0" opacity="0.92"/>
<circle cx="336.2" cy="437.1" r="0.65" fill="#3f7fd0" opacity="0.87"/>
<circle cx="347.2" cy="478.2" r="0.61" fill="#3f7fd0" opacity="0.65"/>
<circle cx="396.1" cy="427.5" r="0.87" fill="#3f7fd0" opacity="0.66"/>
<circle cx="360.1" cy="434.9" r="0.63" fill="#3f7fd0" opacity="0.92"/>
<circle cx="349.2" cy="462.0" r="0.62" fill="#3f7fd0" opacity="0.65"/>
<circle cx="342.2" cy="473.1" r="0.61" fill="#3f7fd0" opacity="0.73"/>
<circle cx="378.6" cy="427.5" r="0.81" fill="#3f7fd0" opacity="0.95"/>
<circle cx="351.7" cy="482.2" r="0.75" fill="#3f7fd0" opacity="0.65"/>
<circle cx="352.9" cy="425.7" r="0.61" fill="#3f7fd0" opacity="0.73"/>
<circle cx="369.7" cy="456.4" r="0.67" fill="#3f7fd0" opacity="0.56"/>
<circle cx="349.4" cy="462.4" r="0.64" fill="#3f7fd0" opacity="0.59"/>
<circle cx="353.5" cy="494.8" r="0.80" fill="#3f7fd0" opacity="0.86"/>
<circle cx="359.5" cy="451.5" r="0.75" fill="#3f7fd0" opacity="0.78"/>
<circle cx="381.5" cy="421.9" r="0.76" fill="#3f7fd0" opacity="0.60"/>
<circle cx="357.4" cy="460.2" r="0.87" fill="#3f7fd0" opacity="0.70"/>
<circle cx="382.0" cy="435.3" r="0.87" fill="#3f7fd0" opacity="0.62"/>
<circle cx="373.9" cy="471.8" r="0.75" fill="#3f7fd0" opacity="0.72"/>
<circle cx="382.1" cy="420.0" r="0.89" fill="#3f7fd0" opacity="0.78"/>
<circle cx="378.0" cy="438.8" r="0.64" fill="#3f7fd0" opacity="0.82"/>
<circle cx="363.9" cy="428.6" r="0.50" fill="#3f7fd0" opacity="0.94"/>
<circle cx="348.0" cy="458.9" r="0.76" fill="#3f7fd0" opacity="0.61"/>
<circle cx="394.5" cy="455.9" r="0.87" fill="#3f7fd0" opacity="0.60"/>
<circle cx="364.9" cy="447.2" r="0.44" fill="#c0202a" opacity="0.61"/>
<circle cx="365.1" cy="449.6" r="0.73" fill="#c0202a" opacity="0.56"/>
<circle cx="336.4" cy="477.1" r="0.52" fill="#c0202a" opacity="0.41"/>
<circle cx="390.4" cy="475.2" r="0.63" fill="#c0202a" opacity="0.81"/>
<circle cx="352.9" cy="484.1" r="0.48" fill="#c0202a" opacity="0.83"/>
<circle cx="409.2" cy="462.0" r="0.51" fill="#c0202a" opacity="0.77"/>
<circle cx="387.6" cy="458.2" r="0.34" fill="#c0202a" opacity="0.58"/>
<circle cx="384.6" cy="420.3" r="0.50" fill="#c0202a" opacity="0.86"/>
<circle cx="387.3" cy="439.3" r="0.37" fill="#c0202a" opacity="0.69"/>
<circle cx="379.6" cy="441.3" r="0.56" fill="#c0202a" opacity="0.90"/>
<circle cx="382.3" cy="461.1" r="0.33" fill="#c0202a" opacity="0.64"/>
<circle cx="333.8" cy="493.6" r="0.56" fill="#c0202a" opacity="0.70"/>
<circle cx="384.6" cy="422.3" r="0.71" fill="#c0202a" opacity="0.75"/>
<circle cx="337.7" cy="489.8" r="0.73" fill="#c0202a" opacity="0.90"/>
<circle cx="339.2" cy="489.9" r="0.69" fill="#c0202a" opacity="0.53"/>
<circle cx="338.2" cy="471.4" r="0.33" fill="#c0202a" opacity="0.67"/>
<circle cx="394.3" cy="449.8" r="0.47" fill="#c0202a" opacity="0.61"/>
<circle cx="340.9" cy="424.0" r="0.58" fill="#c0202a" opacity="0.81"/>
<circle cx="408.7" cy="427.2" r="0.45" fill="#c0202a" opacity="0.81"/>
<circle cx="354.6" cy="478.5" r="0.77" fill="#c0202a" opacity="0.83"/>
<circle cx="380.3" cy="475.4" r="0.73" fill="#c0202a" opacity="0.47"/>
<circle cx="358.1" cy="475.9" r="0.54" fill="#c0202a" opacity="0.78"/>
<circle cx="407.3" cy="475.1" r="0.59" fill="#c0202a" opacity="0.76"/>
<circle cx="403.7" cy="426.8" r="0.32" fill="#c0202a" opacity="0.80"/>
<circle cx="397.9" cy="470.0" r="0.53" fill="#c0202a" opacity="0.53"/>
<circle cx="490.5" cy="473.6" r="0.89" fill="#3f7fd0" opacity="0.83"/>
<circle cx="480.5" cy="437.0" r="0.76" fill="#3f7fd0" opacity="0.55"/>
<circle cx="440.1" cy="453.8" r="0.66" fill="#3f7fd0" opacity="1.00"/>
<circle cx="463.3" cy="427.5" r="0.80" fill="#3f7fd0" opacity="0.88"/>
<circle cx="478.7" cy="491.4" r="0.79" fill="#3f7fd0" opacity="0.76"/>
<circle cx="466.0" cy="423.4" r="0.59" fill="#3f7fd0" opacity="0.70"/>
<circle cx="471.5" cy="424.0" r="0.50" fill="#3f7fd0" opacity="0.62"/>
<circle cx="430.4" cy="455.7" r="0.90" fill="#3f7fd0" opacity="0.66"/>
<circle cx="420.2" cy="420.5" r="0.77" fill="#3f7fd0" opacity="0.70"/>
<circle cx="490.7" cy="438.4" r="0.89" fill="#3f7fd0" opacity="0.66"/>
<circle cx="490.0" cy="491.2" r="0.60" fill="#3f7fd0" opacity="0.54"/>
<circle cx="462.6" cy="464.4" r="0.72" fill="#3f7fd0" opacity="0.57"/>
<circle cx="479.3" cy="445.8" r="0.56" fill="#3f7fd0" opacity="0.54"/>
<circle cx="416.6" cy="453.9" r="0.47" fill="#3f7fd0" opacity="0.65"/>
<circle cx="471.6" cy="477.4" r="0.62" fill="#3f7fd0" opacity="0.61"/>
<circle cx="463.1" cy="448.9" r="0.89" fill="#3f7fd0" opacity="0.88"/>
<circle cx="480.8" cy="440.1" r="0.78" fill="#3f7fd0" opacity="0.71"/>
<circle cx="434.5" cy="428.2" r="0.66" fill="#3f7fd0" opacity="0.82"/>
<circle cx="434.6" cy="426.6" r="0.69" fill="#3f7fd0" opacity="0.76"/>
<circle cx="470.4" cy="486.1" r="0.48" fill="#3f7fd0" opacity="0.99"/>
<circle cx="437.2" cy="476.6" r="0.52" fill="#3f7fd0" opacity="0.88"/>
<circle cx="441.9" cy="459.6" r="0.84" fill="#3f7fd0" opacity="0.88"/>
<circle cx="473.2" cy="489.9" r="0.61" fill="#3f7fd0" opacity="0.63"/>
<circle cx="478.5" cy="464.2" r="0.54" fill="#3f7fd0" opacity="0.99"/>
<circle cx="483.6" cy="481.0" r="0.63" fill="#3f7fd0" opacity="0.90"/>
<circle cx="445.5" cy="441.6" r="0.81" fill="#3f7fd0" opacity="0.80"/>
<circle cx="471.9" cy="425.0" r="0.66" fill="#3f7fd0" opacity="0.71"/>
<circle cx="418.1" cy="484.4" r="0.63" fill="#3f7fd0" opacity="0.74"/>
<circle cx="459.3" cy="467.2" r="0.36" fill="#c0202a" opacity="0.50"/>
<circle cx="422.5" cy="468.5" r="0.38" fill="#c0202a" opacity="0.75"/>
<circle cx="475.7" cy="477.0" r="0.79" fill="#c0202a" opacity="0.66"/>
<circle cx="456.3" cy="463.8" r="0.60" fill="#c0202a" opacity="0.66"/>
<circle cx="434.9" cy="473.4" r="0.68" fill="#c0202a" opacity="0.57"/>
<circle cx="422.6" cy="464.4" r="0.42" fill="#c0202a" opacity="0.56"/>
<circle cx="482.2" cy="480.6" r="0.78" fill="#c0202a" opacity="0.69"/>
<circle cx="470.6" cy="438.3" r="0.61" fill="#c0202a" opacity="0.67"/>
<circle cx="430.4" cy="468.4" r="0.62" fill="#c0202a" opacity="0.49"/>
<circle cx="475.0" cy="440.6" r="0.74" fill="#c0202a" opacity="0.54"/>
<circle cx="483.0" cy="476.9" r="0.45" fill="#c0202a" opacity="0.48"/>
<circle cx="453.8" cy="447.8" r="0.60" fill="#c0202a" opacity="0.65"/>
<circle cx="417.5" cy="441.6" r="0.57" fill="#c0202a" opacity="0.75"/>
<circle cx="434.1" cy="461.6" r="0.40" fill="#c0202a" opacity="0.77"/>
<circle cx="463.3" cy="442.7" r="0.37" fill="#c0202a" opacity="0.89"/>
<circle cx="428.5" cy="462.9" r="0.38" fill="#c0202a" opacity="0.54"/>
<circle cx="429.2" cy="486.4" r="0.56" fill="#c0202a" opacity="0.45"/>
<circle cx="418.0" cy="465.5" r="0.42" fill="#c0202a" opacity="0.79"/>
<circle cx="461.8" cy="470.7" r="0.39" fill="#c0202a" opacity="0.51"/>
<circle cx="475.5" cy="495.4" r="0.54" fill="#c0202a" opacity="0.63"/>
<circle cx="452.5" cy="427.7" r="0.39" fill="#c0202a" opacity="0.45"/>
<circle cx="422.6" cy="446.3" r="0.38" fill="#c0202a" opacity="0.88"/>
<circle cx="475.3" cy="493.7" r="0.31" fill="#c0202a" opacity="0.81"/>
<circle cx="473.6" cy="474.7" r="0.33" fill="#c0202a" opacity="0.88"/>
<circle cx="490.7" cy="468.1" r="0.65" fill="#c0202a" opacity="0.50"/>
<circle cx="562.3" cy="426.1" r="0.71" fill="#3f7fd0" opacity="0.94"/>
<circle cx="521.8" cy="454.4" r="0.73" fill="#3f7fd0" opacity="0.51"/>
<circle cx="512.7" cy="480.2" r="0.88" fill="#3f7fd0" opacity="0.57"/>
<circle cx="509.8" cy="422.5" r="0.78" fill="#3f7fd0" opacity="0.99"/>
<circle cx="500.3" cy="478.6" r="0.68" fill="#3f7fd0" opacity="0.61"/>
<circle cx="550.1" cy="456.7" r="0.51" fill="#3f7fd0" opacity="0.61"/>
<circle cx="517.8" cy="427.1" r="0.59" fill="#3f7fd0" opacity="0.84"/>
<circle cx="504.2" cy="457.3" r="0.87" fill="#3f7fd0" opacity="0.72"/>
<circle cx="505.7" cy="479.8" r="0.82" fill="#3f7fd0" opacity="0.55"/>
<circle cx="560.3" cy="487.0" r="0.76" fill="#3f7fd0" opacity="0.97"/>
<circle cx="555.1" cy="473.6" r="0.47" fill="#3f7fd0" opacity="0.95"/>
<circle cx="563.0" cy="446.5" r="0.67" fill="#3f7fd0" opacity="0.86"/>
<circle cx="513.1" cy="444.4" r="0.51" fill="#3f7fd0" opacity="0.94"/>
<circle cx="521.3" cy="427.3" r="0.85" fill="#3f7fd0" opacity="0.87"/>
<circle cx="513.3" cy="419.5" r="0.61" fill="#3f7fd0" opacity="0.94"/>
<circle cx="510.9" cy="455.5" r="0.40" fill="#3f7fd0" opacity="0.68"/>
<circle cx="539.9" cy="477.9" r="0.50" fill="#3f7fd0" opacity="0.66"/>
<circle cx="526.5" cy="420.7" r="0.78" fill="#3f7fd0" opacity="0.88"/>
<circle cx="507.0" cy="451.0" r="0.84" fill="#3f7fd0" opacity="0.92"/>
<circle cx="550.4" cy="435.0" r="0.52" fill="#3f7fd0" opacity="0.77"/>
<circle cx="552.7" cy="459.1" r="0.81" fill="#3f7fd0" opacity="0.96"/>
<circle cx="502.5" cy="491.4" r="0.66" fill="#3f7fd0" opacity="0.79"/>
<circle cx="539.9" cy="473.1" r="0.66" fill="#3f7fd0" opacity="0.76"/>
<circle cx="550.9" cy="444.3" r="0.56" fill="#3f7fd0" opacity="0.53"/>
<circle cx="570.4" cy="463.5" r="0.79" fill="#3f7fd0" opacity="0.84"/>
<circle cx="552.9" cy="434.9" r="0.86" fill="#3f7fd0" opacity="0.63"/>
<circle cx="565.5" cy="483.2" r="0.87" fill="#3f7fd0" opacity="0.99"/>
<circle cx="549.4" cy="489.1" r="0.51" fill="#3f7fd0" opacity="0.79"/>
<circle cx="558.4" cy="454.3" r="0.44" fill="#c0202a" opacity="0.73"/>
<circle cx="537.0" cy="434.1" r="0.45" fill="#c0202a" opacity="0.57"/>
<circle cx="571.4" cy="434.1" r="0.43" fill="#c0202a" opacity="0.80"/>
<circle cx="519.0" cy="432.5" r="0.70" fill="#c0202a" opacity="0.75"/>
<circle cx="558.0" cy="429.5" r="0.49" fill="#c0202a" opacity="0.45"/>
<circle cx="538.7" cy="440.2" r="0.58" fill="#c0202a" opacity="0.49"/>
<circle cx="505.1" cy="436.3" r="0.78" fill="#c0202a" opacity="0.51"/>
<circle cx="515.1" cy="448.1" r="0.34" fill="#c0202a" opacity="0.79"/>
<circle cx="509.8" cy="491.7" r="0.50" fill="#c0202a" opacity="0.44"/>
<circle cx="514.5" cy="442.8" r="0.40" fill="#c0202a" opacity="0.86"/>
<circle cx="553.8" cy="456.8" r="0.55" fill="#c0202a" opacity="0.81"/>
<circle cx="541.5" cy="473.3" r="0.40" fill="#c0202a" opacity="0.85"/>
<circle cx="517.9" cy="488.5" r="0.75" fill="#c0202a" opacity="0.42"/>
<circle cx="525.9" cy="451.2" r="0.34" fill="#c0202a" opacity="0.69"/>
<circle cx="541.3" cy="479.5" r="0.37" fill="#c0202a" opacity="0.43"/>
<circle cx="523.6" cy="446.2" r="0.54" fill="#c0202a" opacity="0.71"/>
<circle cx="564.1" cy="425.8" r="0.40" fill="#c0202a" opacity="0.87"/>
<circle cx="561.6" cy="468.0" r="0.79" fill="#c0202a" opacity="0.43"/>
<circle cx="538.0" cy="436.4" r="0.39" fill="#c0202a" opacity="0.59"/>
<circle cx="560.9" cy="432.9" r="0.51" fill="#c0202a" opacity="0.43"/>
<circle cx="531.1" cy="434.3" r="0.69" fill="#c0202a" opacity="0.75"/>
<circle cx="516.3" cy="480.0" r="0.74" fill="#c0202a" opacity="0.70"/>
<circle cx="570.5" cy="450.7" r="0.61" fill="#c0202a" opacity="0.68"/>
<circle cx="537.2" cy="477.9" r="0.41" fill="#c0202a" opacity="0.61"/>
<circle cx="512.6" cy="460.8" r="0.41" fill="#c0202a" opacity="0.72"/>
<circle cx="649.2" cy="439.1" r="0.42" fill="#3f7fd0" opacity="0.99"/>
<circle cx="589.2" cy="477.1" r="0.86" fill="#3f7fd0" opacity="0.71"/>
<circle cx="632.5" cy="452.3" r="0.57" fill="#3f7fd0" opacity="0.77"/>
<circle cx="620.2" cy="454.4" r="0.64" fill="#3f7fd0" opacity="0.55"/>
<circle cx="657.5" cy="445.3" r="0.70" fill="#3f7fd0" opacity="0.97"/>
<circle cx="584.3" cy="457.5" r="0.52" fill="#3f7fd0" opacity="0.86"/>
<circle cx="648.3" cy="487.2" r="0.59" fill="#3f7fd0" opacity="0.59"/>
<circle cx="630.1" cy="485.7" r="0.86" fill="#3f7fd0" opacity="0.84"/>
<circle cx="585.9" cy="493.0" r="0.80" fill="#3f7fd0" opacity="0.99"/>
<circle cx="598.7" cy="443.2" r="0.48" fill="#3f7fd0" opacity="0.58"/>
<circle cx="628.5" cy="463.6" r="0.53" fill="#3f7fd0" opacity="0.85"/>
<circle cx="608.5" cy="424.8" r="0.69" fill="#3f7fd0" opacity="0.86"/>
<circle cx="608.8" cy="433.2" r="0.84" fill="#3f7fd0" opacity="0.74"/>
<circle cx="630.8" cy="463.4" r="0.80" fill="#3f7fd0" opacity="0.85"/>
<circle cx="653.4" cy="459.2" r="0.80" fill="#3f7fd0" opacity="0.65"/>
<circle cx="622.1" cy="459.5" r="0.57" fill="#3f7fd0" opacity="0.92"/>
<circle cx="622.6" cy="437.5" r="0.44" fill="#3f7fd0" opacity="0.71"/>
<circle cx="580.8" cy="447.4" r="0.71" fill="#3f7fd0" opacity="0.83"/>
<circle cx="631.7" cy="434.2" r="0.50" fill="#3f7fd0" opacity="0.52"/>
<circle cx="594.7" cy="494.3" r="0.64" fill="#3f7fd0" opacity="0.92"/>
<circle cx="640.7" cy="443.7" r="0.59" fill="#3f7fd0" opacity="0.90"/>
<circle cx="654.5" cy="488.6" r="0.83" fill="#3f7fd0" opacity="0.55"/>
<circle cx="631.7" cy="458.0" r="0.42" fill="#3f7fd0" opacity="0.99"/>
<circle cx="649.8" cy="473.5" r="0.72" fill="#3f7fd0" opacity="0.52"/>
<circle cx="642.6" cy="435.9" r="0.45" fill="#3f7fd0" opacity="0.58"/>
<circle cx="584.5" cy="456.2" r="0.83" fill="#3f7fd0" opacity="0.95"/>
<circle cx="596.2" cy="479.5" r="0.43" fill="#3f7fd0" opacity="0.83"/>
<circle cx="587.9" cy="481.4" r="0.64" fill="#3f7fd0" opacity="1.00"/>
<circle cx="615.1" cy="452.0" r="0.47" fill="#c0202a" opacity="0.85"/>
<circle cx="641.9" cy="471.8" r="0.66" fill="#c0202a" opacity="0.77"/>
<circle cx="592.2" cy="493.8" r="0.43" fill="#c0202a" opacity="0.65"/>
<circle cx="606.0" cy="463.3" r="0.45" fill="#c0202a" opacity="0.63"/>
<circle cx="615.1" cy="462.6" r="0.37" fill="#c0202a" opacity="0.50"/>
<circle cx="584.4" cy="446.4" r="0.76" fill="#c0202a" opacity="0.40"/>
<circle cx="631.2" cy="466.9" r="0.74" fill="#c0202a" opacity="0.46"/>
<circle cx="620.1" cy="423.5" r="0.44" fill="#c0202a" opacity="0.90"/>
<circle cx="580.6" cy="494.0" r="0.59" fill="#c0202a" opacity="0.84"/>
<circle cx="597.0" cy="492.8" r="0.41" fill="#c0202a" opacity="0.60"/>
<circle cx="635.1" cy="470.4" r="0.36" fill="#c0202a" opacity="0.47"/>
<circle cx="603.3" cy="441.4" r="0.54" fill="#c0202a" opacity="0.78"/>
<circle cx="652.9" cy="456.8" r="0.49" fill="#c0202a" opacity="0.90"/>
<circle cx="628.4" cy="490.3" r="0.40" fill="#c0202a" opacity="0.64"/>
<circle cx="587.7" cy="480.8" r="0.69" fill="#c0202a" opacity="0.42"/>
<circle cx="643.0" cy="448.4" r="0.42" fill="#c0202a" opacity="0.89"/>
<circle cx="643.6" cy="468.8" r="0.56" fill="#c0202a" opacity="0.43"/>
<circle cx="649.9" cy="486.6" r="0.47" fill="#c0202a" opacity="0.40"/>
<circle cx="617.3" cy="443.2" r="0.50" fill="#c0202a" opacity="0.73"/>
<circle cx="638.1" cy="437.8" r="0.33" fill="#c0202a" opacity="0.51"/>
<circle cx="601.5" cy="435.5" r="0.50" fill="#c0202a" opacity="0.56"/>
<circle cx="584.8" cy="429.8" r="0.77" fill="#c0202a" opacity="0.85"/>
<circle cx="593.9" cy="435.1" r="0.65" fill="#c0202a" opacity="0.51"/>
<circle cx="600.3" cy="437.3" r="0.67" fill="#c0202a" opacity="0.84"/>
<circle cx="619.4" cy="421.8" r="0.30" fill="#c0202a" opacity="0.75"/>
<path d="M335.4,490.5 C334.8,489.3 336.1,482.8 336.3,479.1 C336.5,475.5 335.9,471.5 336.3,468.6 C336.7,465.7 337.4,463.9 338.9,461.6 C340.3,459.3 342.2,457.2 345.0,454.6 C347.8,452.0 352.0,447.4 355.5,445.8 C359.0,444.2 362.5,444.8 366.0,444.9 C369.5,445.0 374.6,447.4 376.6,446.7 C378.7,446.0 378.3,442.6 378.3,440.5 C378.3,438.4 376.3,436.6 376.6,434.4 C376.9,432.2 378.1,428.8 380.1,427.4 C382.1,425.9 385.9,425.7 388.8,425.7 C391.7,425.7 395.6,426.4 397.6,427.4 C399.7,428.4 400.8,429.9 401.1,431.8 C401.4,433.7 398.7,436.5 399.3,438.8 C399.9,441.1 403.3,443.2 404.6,445.8 C405.9,448.4 407.1,451.4 407.2,454.6 C407.3,457.8 407.1,462.2 405.5,465.1 C403.9,468.0 400.7,470.7 397.6,472.1 C394.5,473.6 390.3,473.8 387.1,473.8 C383.9,473.8 380.9,471.5 378.3,472.1 C375.7,472.7 373.9,476.6 371.3,477.3 C368.7,478.0 365.5,476.2 362.6,476.5 C359.7,476.8 356.7,478.4 353.8,479.1 C350.9,479.8 347.3,479.6 345.0,480.8 C342.7,482.0 341.4,484.5 339.8,486.1 C338.2,487.7 336.0,491.7 335.4,490.5 Z" fill="none" stroke="#b01820" stroke-width="1.75" opacity="0.45" filter="url(#glow)"/>
<path d="M335.4,490.5 C334.8,489.3 336.1,482.8 336.3,479.1 C336.5,475.5 335.9,471.5 336.3,468.6 C336.7,465.7 337.4,463.9 338.9,461.6 C340.3,459.3 342.2,457.2 345.0,454.6 C347.8,452.0 352.0,447.4 355.5,445.8 C359.0,444.2 362.5,444.8 366.0,444.9 C369.5,445.0 374.6,447.4 376.6,446.7 C378.7,446.0 378.3,442.6 378.3,440.5 C378.3,438.4 376.3,436.6 376.6,434.4 C376.9,432.2 378.1,428.8 380.1,427.4 C382.1,425.9 385.9,425.7 388.8,425.7 C391.7,425.7 395.6,426.4 397.6,427.4 C399.7,428.4 400.8,429.9 401.1,431.8 C401.4,433.7 398.7,436.5 399.3,438.8 C399.9,441.1 403.3,443.2 404.6,445.8 C405.9,448.4 407.1,451.4 407.2,454.6 C407.3,457.8 407.1,462.2 405.5,465.1 C403.9,468.0 400.7,470.7 397.6,472.1 C394.5,473.6 390.3,473.8 387.1,473.8 C383.9,473.8 380.9,471.5 378.3,472.1 C375.7,472.7 373.9,476.6 371.3,477.3 C368.7,478.0 365.5,476.2 362.6,476.5 C359.7,476.8 356.7,478.4 353.8,479.1 C350.9,479.8 347.3,479.6 345.0,480.8 C342.7,482.0 341.4,484.5 339.8,486.1 C338.2,487.7 336.0,491.7 335.4,490.5 Z" fill="none" stroke="#e8262e" stroke-width="0.95"/>
<path d="M580.8,464.2 C580.8,460.7 585.2,456.8 587.8,452.8 C590.4,448.9 593.3,444.3 596.5,440.5 C599.7,436.7 603.5,432.9 607.0,430.0 C610.5,427.1 615.0,424.0 617.6,423.0 C620.2,422.0 621.3,423.3 622.8,423.9 C624.2,424.5 624.5,426.1 626.3,426.5 C628.0,426.9 631.5,426.1 633.3,426.2 C635.0,426.3 635.8,425.9 636.8,427.4 C637.8,428.9 638.8,432.2 639.5,435.3 C640.2,438.4 640.6,442.0 641.2,445.8 C641.8,449.6 642.9,454.3 643.0,458.1 C643.1,461.9 643.4,465.4 642.1,468.6 C640.8,471.8 638.0,474.7 635.1,477.3 C632.2,479.9 627.5,482.0 624.6,484.3 C621.7,486.6 620.0,489.5 617.6,491.4 C615.2,493.3 612.5,495.4 610.5,495.7 C608.5,496.0 607.0,494.4 605.3,493.1 C603.5,491.8 602.3,489.1 600.0,487.9 C597.7,486.7 593.3,488.5 591.3,486.1 C589.3,483.8 589.5,477.5 587.8,473.8 C586.0,470.1 580.8,467.7 580.8,464.2 Z" fill="none" stroke="#b01820" stroke-width="1.75" opacity="0.45" filter="url(#glow)"/>
<path d="M580.8,464.2 C580.8,460.7 585.2,456.8 587.8,452.8 C590.4,448.9 593.3,444.3 596.5,440.5 C599.7,436.7 603.5,432.9 607.0,430.0 C610.5,427.1 615.0,424.0 617.6,423.0 C620.2,422.0 621.3,423.3 622.8,423.9 C624.2,424.5 624.5,426.1 626.3,426.5 C628.0,426.9 631.5,426.1 633.3,426.2 C635.0,426.3 635.8,425.9 636.8,427.4 C637.8,428.9 638.8,432.2 639.5,435.3 C640.2,438.4 640.6,442.0 641.2,445.8 C641.8,449.6 642.9,454.3 643.0,458.1 C643.1,461.9 643.4,465.4 642.1,468.6 C640.8,471.8 638.0,474.7 635.1,477.3 C632.2,479.9 627.5,482.0 624.6,484.3 C621.7,486.6 620.0,489.5 617.6,491.4 C615.2,493.3 612.5,495.4 610.5,495.7 C608.5,496.0 607.0,494.4 605.3,493.1 C603.5,491.8 602.3,489.1 600.0,487.9 C597.7,486.7 593.3,488.5 591.3,486.1 C589.3,483.8 589.5,477.5 587.8,473.8 C586.0,470.1 580.8,467.7 580.8,464.2 Z" fill="none" stroke="#e8262e" stroke-width="0.95"/>
<path d="M502.3,470.0 C502.5,466.3 503.9,461.2 506.0,458.0 C508.1,454.8 511.0,452.4 515.0,451.0 C519.0,449.6 525.0,449.8 530.0,449.5 C535.0,449.2 540.3,448.8 545.0,449.0 C549.7,449.2 554.3,449.5 558.0,451.0 C561.7,452.5 565.1,455.2 567.0,458.0 C568.9,460.8 569.6,464.5 569.6,468.0 C569.6,471.5 568.9,475.8 567.0,479.0 C565.1,482.2 561.7,485.3 558.0,487.0 C554.3,488.7 550.0,489.1 545.0,489.4 C540.0,489.7 533.2,489.6 528.0,489.0 C522.8,488.4 517.8,487.5 514.0,486.0 C510.2,484.5 506.9,482.7 505.0,480.0 C503.1,477.3 502.1,473.7 502.3,470.0 Z" fill="none" stroke="#b01820" stroke-width="1.75" opacity="0.45" filter="url(#glow)"/>
<path d="M502.3,470.0 C502.5,466.3 503.9,461.2 506.0,458.0 C508.1,454.8 511.0,452.4 515.0,451.0 C519.0,449.6 525.0,449.8 530.0,449.5 C535.0,449.2 540.3,448.8 545.0,449.0 C549.7,449.2 554.3,449.5 558.0,451.0 C561.7,452.5 565.1,455.2 567.0,458.0 C568.9,460.8 569.6,464.5 569.6,468.0 C569.6,471.5 568.9,475.8 567.0,479.0 C565.1,482.2 561.7,485.3 558.0,487.0 C554.3,488.7 550.0,489.1 545.0,489.4 C540.0,489.7 533.2,489.6 528.0,489.0 C522.8,488.4 517.8,487.5 514.0,486.0 C510.2,484.5 506.9,482.7 505.0,480.0 C503.1,477.3 502.1,473.7 502.3,470.0 Z" fill="none" stroke="#e8262e" stroke-width="0.95"/>
<path d="M496.0,474.0 C496.7,474.7 498.8,476.7 500.0,478.0 C501.2,479.3 502.5,481.3 503.0,482.0" fill="none" stroke="#b01820" stroke-width="1.6" opacity="0.45" filter="url(#glow)"/>
<path d="M496.0,474.0 C496.7,474.7 498.8,476.7 500.0,478.0 C501.2,479.3 502.5,481.3 503.0,482.0" fill="none" stroke="#e8262e" stroke-width="0.8"/>
<ellipse cx="520.2" cy="434.3" rx="9" ry="5.4" transform="rotate(-38 520.2 434.3)" fill="none" stroke="#e8262e" stroke-width="0.9"/>
<ellipse cx="443" cy="467.6" rx="6.3" ry="6.8" fill="none" stroke="#e02a32" stroke-width="1.0" stroke-dasharray="1.8 0.6"/>
<circle cx="478.3" cy="448.5" r="2.6" fill="#e8303a" opacity="0.9" filter="url(#glow2)"/>
<circle cx="478.3" cy="448.5" r="1.43" fill="#ff5a60" opacity="0.8"/>
<circle cx="436.8" cy="441" r="1.7" fill="#e8303a" opacity="0.9" filter="url(#glow2)"/>
<circle cx="436.8" cy="441" r="0.94" fill="#ff5a60" opacity="0.8"/>
<circle cx="426.9" cy="422.4" r="1.4" fill="#e8303a" opacity="0.9" filter="url(#glow2)"/>
<circle cx="426.9" cy="422.4" r="0.77" fill="#ff5a60" opacity="0.8"/>
<circle cx="533.4" cy="423.7" r="1.7" fill="#e8303a" opacity="0.9" filter="url(#glow2)"/>
<circle cx="533.4" cy="423.7" r="0.94" fill="#ff5a60" opacity="0.8"/>
<circle cx="622" cy="432" r="0.8" fill="#e8303a" opacity="0.9" filter="url(#glow2)"/>
<circle cx="622" cy="432" r="0.44" fill="#ff5a60" opacity="0.8"/>
<circle cx="652" cy="459" r="1.1" fill="#e8303a" opacity="0.9" filter="url(#glow2)"/>
<circle cx="652" cy="459" r="0.61" fill="#ff5a60" opacity="0.8"/>
<circle cx="652" cy="464" r="1.0" fill="#e8303a" opacity="0.9" filter="url(#glow2)"/>
<circle cx="652" cy="464" r="0.55" fill="#ff5a60" opacity="0.8"/>
<circle cx="595" cy="432" r="0.8" fill="#e8303a" opacity="0.9" filter="url(#glow2)"/>
<circle cx="595" cy="432" r="0.44" fill="#ff5a60" opacity="0.8"/>
<circle cx="583" cy="432" r="1.1" fill="#e8303a" opacity="0.9" filter="url(#glow2)"/>
<circle cx="583" cy="432" r="0.61" fill="#ff5a60" opacity="0.8"/>
<circle cx="459.3" cy="463.6" r="0.59" fill="#3f7fd0" opacity="0.8"/>
<circle cx="467.6" cy="470.0" r="0.65" fill="#c0303a" opacity="0.8"/>
<circle cx="469.1" cy="475.7" r="0.84" fill="#3f7fd0" opacity="0.8"/>
<circle cx="431.4" cy="473.7" r="0.76" fill="#3f7fd0" opacity="0.8"/>
<circle cx="450.2" cy="469.6" r="0.54" fill="#c0303a" opacity="0.8"/>
<circle cx="445.4" cy="468.6" r="0.71" fill="#c0303a" opacity="0.8"/>
<circle cx="456.5" cy="461.0" r="0.63" fill="#7a4ab0" opacity="0.8"/>
<circle cx="451.2" cy="480.5" r="0.45" fill="#3f7fd0" opacity="0.8"/>
<circle cx="448.2" cy="463.0" r="0.65" fill="#c0303a" opacity="0.8"/>
<circle cx="444.5" cy="455.2" r="0.83" fill="#3f7fd0" opacity="0.8"/>
<circle cx="443.4" cy="463.6" r="0.46" fill="#7a4ab0" opacity="0.8"/>
<circle cx="434.5" cy="478.9" r="0.52" fill="#3f7fd0" opacity="0.8"/>
<circle cx="442.6" cy="466.8" r="0.64" fill="#c0303a" opacity="0.8"/>
<circle cx="431.6" cy="473.5" r="0.58" fill="#c0303a" opacity="0.8"/>
<circle cx="437.6" cy="483.3" r="0.55" fill="#c0303a" opacity="0.8"/>
<circle cx="449.3" cy="463.3" r="0.81" fill="#3f7fd0" opacity="0.8"/>
<circle cx="439.6" cy="463.3" r="0.61" fill="#c0303a" opacity="0.8"/>
<circle cx="440.7" cy="459.9" r="0.68" fill="#c0303a" opacity="0.8"/>
<circle cx="467.3" cy="464.7" r="0.40" fill="#7a4ab0" opacity="0.8"/>
<circle cx="453.8" cy="456.9" r="0.50" fill="#7a4ab0" opacity="0.8"/>
<circle cx="456.2" cy="472.6" r="0.49" fill="#7a4ab0" opacity="0.8"/>
<circle cx="442.5" cy="472.3" r="0.81" fill="#c0303a" opacity="0.8"/>
<circle cx="464.1" cy="476.3" r="0.43" fill="#3f7fd0" opacity="0.8"/>
<circle cx="452.5" cy="462.3" r="0.87" fill="#3f7fd0" opacity="0.8"/>
<circle cx="463.3" cy="464.0" r="0.76" fill="#c0303a" opacity="0.8"/>
<circle cx="460.0" cy="482.0" r="0.48" fill="#3f7fd0" opacity="0.8"/>
<circle cx="459.1" cy="479.0" r="0.88" fill="#7a4ab0" opacity="0.8"/>
<circle cx="466.5" cy="478.1" r="0.78" fill="#7a4ab0" opacity="0.8"/>
<circle cx="445.7" cy="456.8" r="0.41" fill="#3f7fd0" opacity="0.8"/>
<circle cx="469.0" cy="467.1" r="0.49" fill="#7a4ab0" opacity="0.8"/>
<circle cx="462.9" cy="458.0" r="0.48" fill="#7a4ab0" opacity="0.8"/>
<circle cx="444.8" cy="480.7" r="0.47" fill="#c0303a" opacity="0.8"/>
<circle cx="433.3" cy="462.6" r="0.50" fill="#7a4ab0" opacity="0.8"/>
<circle cx="458.6" cy="465.6" r="0.62" fill="#c0303a" opacity="0.8"/>
<circle cx="448.6" cy="466.1" r="0.76" fill="#3f7fd0" opacity="0.8"/>
<circle cx="467.7" cy="474.9" r="0.53" fill="#7a4ab0" opacity="0.8"/>
<circle cx="448.3" cy="472.7" r="0.82" fill="#c0303a" opacity="0.8"/>
<circle cx="432.4" cy="470.4" r="0.90" fill="#c0303a" opacity="0.8"/>
<circle cx="461.4" cy="474.3" r="0.71" fill="#7a4ab0" opacity="0.8"/>
<circle cx="451.2" cy="463.5" r="0.83" fill="#7a4ab0" opacity="0.8"/>
<g filter="url(#glow)"><ellipse cx="393.2" cy="520.5" rx="0.93" ry="0.72" fill="#2e3033" opacity="0.83"/><ellipse cx="341.8" cy="528.1" rx="1.30" ry="1.00" fill="#2e3033" opacity="0.74"/><ellipse cx="344.0" cy="535.9" rx="1.24" ry="0.95" fill="#2e3033" opacity="0.84"/><ellipse cx="335.2" cy="552.5" rx="0.85" ry="0.66" fill="#2e3033" opacity="0.83"/><ellipse cx="371.3" cy="546.4" rx="0.86" ry="0.66" fill="#2e3033" opacity="0.63"/><ellipse cx="339.7" cy="543.5" rx="1.27" ry="0.98" fill="#2e3033" opacity="0.58"/><ellipse cx="347.5" cy="508.0" rx="0.88" ry="0.68" fill="#2e3033" opacity="0.72"/><ellipse cx="366.0" cy="539.7" rx="0.74" ry="0.57" fill="#2e3033" opacity="0.84"/><ellipse cx="407.0" cy="541.5" rx="1.52" ry="1.17" fill="#2e3033" opacity="0.84"/><ellipse cx="340.2" cy="527.3" rx="0.74" ry="0.57" fill="#2e3033" opacity="0.81"/><ellipse cx="373.6" cy="568.7" rx="1.17" ry="0.90" fill="#2e3033" opacity="0.81"/><ellipse cx="374.6" cy="569.5" rx="1.75" ry="1.34" fill="#2e3033" opacity="0.52"/><ellipse cx="396.5" cy="616.0" rx="1.53" ry="1.18" fill="#2e3033" opacity="0.88"/><ellipse cx="373.0" cy="574.8" rx="1.20" ry="0.93" fill="#2e3033" opacity="0.80"/><ellipse cx="390.9" cy="583.8" rx="1.76" ry="1.35" fill="#2e3033" opacity="0.51"/><ellipse cx="370.4" cy="565.1" rx="1.07" ry="0.82" fill="#2e3033" opacity="0.90"/><ellipse cx="342.0" cy="616.6" rx="1.71" ry="1.31" fill="#2e3033" opacity="0.78"/><ellipse cx="337.3" cy="588.6" rx="1.46" ry="1.12" fill="#2e3033" opacity="0.54"/><ellipse cx="438.3" cy="508.6" rx="1.64" ry="1.26" fill="#2e3033" opacity="0.87"/><ellipse cx="485.0" cy="542.0" rx="1.32" ry="1.02" fill="#2e3033" opacity="0.52"/><ellipse cx="452.0" cy="542.5" rx="1.53" ry="1.18" fill="#2e3033" opacity="0.51"/><ellipse cx="416.6" cy="567.7" rx="1.73" ry="1.33" fill="#2e3033" opacity="0.55"/><ellipse cx="445.2" cy="588.8" rx="1.68" ry="1.30" fill="#2e3033" opacity="0.55"/><ellipse cx="435.5" cy="605.0" rx="0.75" ry="0.58" fill="#2e3033" opacity="0.57"/><ellipse cx="417.9" cy="615.1" rx="0.92" ry="0.71" fill="#2e3033" opacity="0.70"/><ellipse cx="527.1" cy="553.8" rx="1.48" ry="1.14" fill="#2e3033" opacity="0.74"/><ellipse cx="535.3" cy="517.5" rx="1.63" ry="1.26" fill="#2e3033" opacity="0.54"/><ellipse cx="545.2" cy="518.9" rx="0.97" ry="0.75" fill="#2e3033" opacity="0.68"/><ellipse cx="512.9" cy="534.0" rx="0.73" ry="0.56" fill="#2e3033" opacity="0.51"/><ellipse cx="509.3" cy="508.5" rx="1.68" ry="1.29" fill="#2e3033" opacity="0.70"/><ellipse cx="549.4" cy="543.5" rx="0.84" ry="0.65" fill="#2e3033" opacity="0.88"/><ellipse cx="527.5" cy="527.3" rx="1.22" ry="0.94" fill="#2e3033" opacity="0.78"/><ellipse cx="556.1" cy="513.8" rx="1.62" ry="1.25" fill="#2e3033" opacity="0.67"/><ellipse cx="517.5" cy="610.0" rx="1.67" ry="1.28" fill="#2e3033" opacity="0.84"/><ellipse cx="522.9" cy="612.7" rx="1.56" ry="1.20" fill="#2e3033" opacity="0.89"/><ellipse cx="555.1" cy="617.4" rx="1.21" ry="0.93" fill="#2e3033" opacity="0.80"/><ellipse cx="557.1" cy="591.5" rx="1.24" ry="0.95" fill="#2e3033" opacity="0.66"/><ellipse cx="563.6" cy="583.5" rx="1.52" ry="1.17" fill="#2e3033" opacity="0.72"/><ellipse cx="551.5" cy="579.8" rx="0.74" ry="0.57" fill="#2e3033" opacity="0.77"/><ellipse cx="509.6" cy="582.5" rx="1.56" ry="1.20" fill="#2e3033" opacity="0.52"/><ellipse cx="566.8" cy="595.0" rx="1.31" ry="1.00" fill="#2e3033" opacity="0.77"/><ellipse cx="585.6" cy="505.0" rx="1.49" ry="1.15" fill="#2e3033" opacity="0.73"/><ellipse cx="629.6" cy="545.7" rx="0.97" ry="0.74" fill="#2e3033" opacity="0.56"/><ellipse cx="654.5" cy="507.0" rx="1.25" ry="0.96" fill="#2e3033" opacity="0.75"/><ellipse cx="653.4" cy="508.3" rx="1.47" ry="1.13" fill="#2e3033" opacity="0.53"/><ellipse cx="615.6" cy="596.7" rx="1.64" ry="1.26" fill="#2e3033" opacity="0.52"/><ellipse cx="637.8" cy="571.0" rx="1.12" ry="0.86" fill="#2e3033" opacity="0.89"/><ellipse cx="645.5" cy="567.1" rx="0.66" ry="0.50" fill="#2e3033" opacity="0.51"/><ellipse cx="640.3" cy="565.0" rx="1.57" ry="1.21" fill="#2e3033" opacity="0.82"/></g>
<path d="M355.2,527.2 L391.5,527.2 L391.5,554.3 L355.2,554.3 Z" fill="none" stroke="#e8323a" stroke-width="1.1" stroke-dasharray="3 1.8"/>
<path d="M355.2,554.3 L330.5,559" fill="none" stroke="#e8323a" stroke-width="1.1" stroke-dasharray="3 1.8"/>
<path d="M391.5,554.3 L411,559" fill="none" stroke="#e8323a" stroke-width="1.1" stroke-dasharray="3 1.8"/>
<path d="M438.4,507.3 L474.6,507.3 L474.6,535.2 L438.4,535.2 Z" fill="none" stroke="#e8323a" stroke-width="1.1" stroke-dasharray="3 1.8"/>
<path d="M438.4,535.2 L413.5,559" fill="none" stroke="#e8323a" stroke-width="1.1" stroke-dasharray="3 1.8"/>
<path d="M474.6,535.2 L493.5,559" fill="none" stroke="#e8323a" stroke-width="1.1" stroke-dasharray="3 1.8"/>
<path d="M512.2,520.5 L549,520.5 L549,547.5 L512.2,547.5 Z" fill="none" stroke="#e8323a" stroke-width="1.1" stroke-dasharray="3 1.8"/>
<path d="M512.2,547.5 L496.2,559" fill="none" stroke="#e8323a" stroke-width="1.1" stroke-dasharray="3 1.8"/>
<path d="M549,547.5 L576.2,559" fill="none" stroke="#e8323a" stroke-width="1.1" stroke-dasharray="3 1.8"/>
<path d="M612.2,516 L648.3,516 L648.3,543.4 L612.2,543.4 Z" fill="none" stroke="#e8323a" stroke-width="1.1" stroke-dasharray="3 1.8"/>
<path d="M612.2,543.4 L578.6,559" fill="none" stroke="#e8323a" stroke-width="1.1" stroke-dasharray="3 1.8"/>
<path d="M648.3,543.4 L659.5,559" fill="none" stroke="#e8323a" stroke-width="1.1" stroke-dasharray="3 1.8"/>
<text x="637.00" y="547.30" font-size="5" text-anchor="middle" font-weight="normal" font-style="normal" fill="#222" font-family='"Liberation Sans", sans-serif' >100 µm</text>
<line x1="622.50" y1="550.50" x2="652.00" y2="550.50" stroke="#111" stroke-width="1.1" />
<text x="641.00" y="610.60" font-size="5" text-anchor="middle" font-weight="normal" font-style="normal" fill="#222" font-family='"Liberation Sans", sans-serif' >30 µm</text>
<line x1="630.00" y1="614.70" x2="651.00" y2="614.70" stroke="#111" stroke-width="1.1" />
<text x="45.60" y="637.60" font-size="12" text-anchor="start" font-weight="bold" font-style="normal" fill="#231f20" font-family='"Liberation Sans", sans-serif' >l</text>
<line x1="75.40" y1="750.60" x2="75.40" y2="657.09" stroke="#231f20" stroke-width="1.9" />
<line x1="71.10" y1="749.80" x2="75.40" y2="749.80" stroke="#231f20" stroke-width="1.6" />
<text x="70.10" y="752.30" font-size="7.0" text-anchor="end" font-weight="bold" font-style="normal" fill="#231f20" font-family='"Liberation Sans", sans-serif' >0</text>
<line x1="71.10" y1="719.13" x2="75.40" y2="719.13" stroke="#231f20" stroke-width="1.6" />
<text x="70.10" y="721.63" font-size="7.0" text-anchor="end" font-weight="bold" font-style="normal" fill="#231f20" font-family='"Liberation Sans", sans-serif' >100</text>
<line x1="71.10" y1="688.46" x2="75.40" y2="688.46" stroke="#231f20" stroke-width="1.6" />
<text x="70.10" y="690.96" font-size="7.0" text-anchor="end" font-weight="bold" font-style="normal" fill="#231f20" font-family='"Liberation Sans", sans-serif' >200</text>
<line x1="71.10" y1="657.79" x2="75.40" y2="657.79" stroke="#231f20" stroke-width="1.6" />
<text x="70.10" y="660.29" font-size="7.0" text-anchor="end" font-weight="bold" font-style="normal" fill="#231f20" font-family='"Liberation Sans", sans-serif' >300</text>
<rect x="82.75" y="679.57" width="10.90" height="70.23" fill="#8d8c92" stroke="#111" stroke-width="1.7"/>
<rect x="102.05" y="695.51" width="10.90" height="54.29" fill="#ea3b26" stroke="#111" stroke-width="1.7"/>
<rect x="121.45" y="709.62" width="10.90" height="40.18" fill="#5ec8ef" stroke="#111" stroke-width="1.7"/>
<rect x="140.65" y="718.21" width="10.90" height="31.59" fill="#f6c27d" stroke="#111" stroke-width="1.7"/>
<line x1="88.20" y1="671.97" x2="88.20" y2="687.17" stroke="#231f20" stroke-width="1.2" />
<line x1="84.90" y1="671.97" x2="91.50" y2="671.97" stroke="#231f20" stroke-width="1.2" />
<line x1="84.90" y1="687.17" x2="91.50" y2="687.17" stroke="#231f20" stroke-width="1.2" />
<circle cx="88.20" cy="670.67" r="1.7" fill="#fff" stroke="#111" stroke-width="1.0"/>
<circle cx="88.20" cy="674.05" r="1.7" fill="#fff" stroke="#111" stroke-width="1.0"/>
<circle cx="88.20" cy="678.65" r="1.7" fill="#fff" stroke="#111" stroke-width="1.0"/>
<circle cx="88.20" cy="686.01" r="1.7" fill="#fff" stroke="#111" stroke-width="1.0"/>
<circle cx="85.50" cy="688.46" r="1.7" fill="#fff" stroke="#111" stroke-width="1.0"/>
<line x1="107.50" y1="692.85" x2="107.50" y2="698.18" stroke="#231f20" stroke-width="1.2" />
<line x1="104.20" y1="692.85" x2="110.80" y2="692.85" stroke="#231f20" stroke-width="1.2" />
<line x1="104.20" y1="698.18" x2="110.80" y2="698.18" stroke="#231f20" stroke-width="1.2" />
<circle cx="107.50" cy="692.14" r="1.7" fill="#fff" stroke="#111" stroke-width="1.0"/>
<circle cx="102.30" cy="693.98" r="1.7" fill="#fff" stroke="#111" stroke-width="1.0"/>
<circle cx="110.20" cy="694.90" r="1.7" fill="#fff" stroke="#111" stroke-width="1.0"/>
<circle cx="104.80" cy="696.43" r="1.7" fill="#fff" stroke="#111" stroke-width="1.0"/>
<circle cx="107.50" cy="699.19" r="1.7" fill="#fff" stroke="#111" stroke-width="1.0"/>
<line x1="126.90" y1="707.34" x2="126.90" y2="711.91" stroke="#231f20" stroke-width="1.2" />
<line x1="123.60" y1="707.34" x2="130.20" y2="707.34" stroke="#231f20" stroke-width="1.2" />
<line x1="123.60" y1="711.91" x2="130.20" y2="711.91" stroke="#231f20" stroke-width="1.2" />
<circle cx="126.90" cy="706.86" r="1.7" fill="#fff" stroke="#111" stroke-width="1.0"/>
<circle cx="121.70" cy="708.09" r="1.7" fill="#fff" stroke="#111" stroke-width="1.0"/>
<circle cx="129.60" cy="709.62" r="1.7" fill="#fff" stroke="#111" stroke-width="1.0"/>
<circle cx="124.20" cy="710.85" r="1.7" fill="#fff" stroke="#111" stroke-width="1.0"/>
<circle cx="132.10" cy="712.69" r="1.7" fill="#fff" stroke="#111" stroke-width="1.0"/>
<line x1="146.10" y1="715.05" x2="146.10" y2="721.37" stroke="#231f20" stroke-width="1.2" />
<line x1="142.80" y1="715.05" x2="149.40" y2="715.05" stroke="#231f20" stroke-width="1.2" />
<line x1="142.80" y1="721.37" x2="149.40" y2="721.37" stroke="#231f20" stroke-width="1.2" />
<circle cx="146.10" cy="713.92" r="1.7" fill="#fff" stroke="#111" stroke-width="1.0"/>
<circle cx="143.40" cy="716.37" r="1.7" fill="#fff" stroke="#111" stroke-width="1.0"/>
<circle cx="148.80" cy="718.21" r="1.7" fill="#fff" stroke="#111" stroke-width="1.0"/>
<circle cx="143.40" cy="719.74" r="1.7" fill="#fff" stroke="#111" stroke-width="1.0"/>
<circle cx="146.10" cy="722.20" r="1.7" fill="#fff" stroke="#111" stroke-width="1.0"/>
<line x1="71.10" y1="749.80" x2="159.20" y2="749.80" stroke="#231f20" stroke-width="1.9" />
<line x1="88.20" y1="749.80" x2="88.20" y2="754.40" stroke="#231f20" stroke-width="1.5" />
<line x1="107.50" y1="749.80" x2="107.50" y2="754.40" stroke="#231f20" stroke-width="1.5" />
<line x1="126.90" y1="749.80" x2="126.90" y2="754.40" stroke="#231f20" stroke-width="1.5" />
<line x1="146.10" y1="749.80" x2="146.10" y2="754.40" stroke="#231f20" stroke-width="1.5" />
<path d="M88.20,664.70 L88.20,661.30 L108.30,661.30 L108.30,664.70" fill="none" stroke="#6a6a6a" stroke-width="0.95"/>
<text x="81.20" y="660.00" font-size="7.8" text-anchor="start" font-weight="normal" font-style="normal" fill="#555" font-family='"Liberation Sans", sans-serif' textLength="33.3" lengthAdjust="spacing"><tspan font-style="italic">P</tspan>=0.0002</text>
<path d="M88.20,653.80 L88.20,650.40 L128.00,650.40 L128.00,653.80" fill="none" stroke="#6a6a6a" stroke-width="0.95"/>
<text x="90.80" y="648.30" font-size="7.8" text-anchor="start" font-weight="normal" font-style="normal" fill="#555" font-family='"Liberation Sans", sans-serif' textLength="36.0" lengthAdjust="spacing"><tspan font-style="italic">P</tspan>&lt;0.0001</text>
<path d="M88.20,643.80 L88.20,640.40 L146.50,640.40 L146.50,643.80" fill="none" stroke="#6a6a6a" stroke-width="0.95"/>
<text x="99.20" y="638.10" font-size="7.8" text-anchor="start" font-weight="normal" font-style="normal" fill="#555" font-family='"Liberation Sans", sans-serif' textLength="36.0" lengthAdjust="spacing"><tspan font-style="italic">P</tspan>&lt;0.0001</text>
<text x="54.30" y="707.90" font-size="10.4" text-anchor="middle" font-weight="normal" font-style="normal" fill="#231f20" font-family='"Liberation Sans", sans-serif' transform="rotate(-90 54.3 707.9)" >Osteoclasts/Well</text>
<text x="88.00" y="761.30" font-size="7.3" text-anchor="end" font-weight="bold" font-style="normal" fill="#231f20" font-family='"Liberation Sans", sans-serif' transform="rotate(-45 88.0 761.3)" >RANKL</text>
<text x="109.50" y="760.80" font-size="7.3" text-anchor="end" font-weight="bold" font-style="normal" fill="#231f20" font-family='"Liberation Sans", sans-serif' transform="rotate(-45 109.5 760.8)" >16</text>
<text x="129.00" y="760.80" font-size="7.3" text-anchor="end" font-weight="bold" font-style="normal" fill="#231f20" font-family='"Liberation Sans", sans-serif' transform="rotate(-45 129.0 760.8)" >32</text>
<text x="148.30" y="760.80" font-size="7.3" text-anchor="end" font-weight="bold" font-style="normal" fill="#231f20" font-family='"Liberation Sans", sans-serif' transform="rotate(-45 148.3 760.8)" >64</text>
<line x1="106.00" y1="767.80" x2="148.20" y2="767.80" stroke="#231f20" stroke-width="1.0" />
<text x="123.90" y="780.20" font-size="7.2" text-anchor="middle" font-weight="normal" font-style="normal" fill="#333" font-family='"Liberation Sans", sans-serif' >Concentration (µM)</text>
<text x="184.20" y="638.30" font-size="12" text-anchor="start" font-weight="bold" font-style="normal" fill="#231f20" font-family='"Liberation Sans", sans-serif' >m</text>
<line x1="220.20" y1="751.20" x2="220.20" y2="656.61" stroke="#231f20" stroke-width="1.9" />
<line x1="215.90" y1="750.40" x2="220.20" y2="750.40" stroke="#231f20" stroke-width="1.6" />
<text x="214.90" y="752.90" font-size="7.0" text-anchor="end" font-weight="bold" font-style="normal" fill="#231f20" font-family='"Liberation Sans", sans-serif' >0</text>
<line x1="215.90" y1="719.37" x2="220.20" y2="719.37" stroke="#231f20" stroke-width="1.6" />
<text x="214.90" y="721.87" font-size="7.0" text-anchor="end" font-weight="bold" font-style="normal" fill="#231f20" font-family='"Liberation Sans", sans-serif' >100</text>
<line x1="215.90" y1="688.34" x2="220.20" y2="688.34" stroke="#231f20" stroke-width="1.6" />
<text x="214.90" y="690.84" font-size="7.0" text-anchor="end" font-weight="bold" font-style="normal" fill="#231f20" font-family='"Liberation Sans", sans-serif' >200</text>
<line x1="215.90" y1="657.31" x2="220.20" y2="657.31" stroke="#231f20" stroke-width="1.6" />
<text x="214.90" y="659.81" font-size="7.0" text-anchor="end" font-weight="bold" font-style="normal" fill="#231f20" font-family='"Liberation Sans", sans-serif' >300</text>
<rect x="228.60" y="680.27" width="10.90" height="70.13" fill="#8d8c92" stroke="#111" stroke-width="1.7"/>
<rect x="248.05" y="717.20" width="10.90" height="33.20" fill="#ea3b26" stroke="#111" stroke-width="1.7"/>
<rect x="267.25" y="684.62" width="10.90" height="65.78" fill="#5ec8ef" stroke="#111" stroke-width="1.7"/>
<rect x="287.00" y="679.34" width="10.90" height="71.06" fill="#f6c27d" stroke="#111" stroke-width="1.7"/>
<line x1="234.05" y1="675.20" x2="234.05" y2="685.34" stroke="#231f20" stroke-width="1.2" />
<line x1="230.75" y1="675.20" x2="237.35" y2="675.20" stroke="#231f20" stroke-width="1.2" />
<line x1="230.75" y1="685.34" x2="237.35" y2="685.34" stroke="#231f20" stroke-width="1.2" />
<circle cx="234.05" cy="673.76" r="1.7" fill="#fff" stroke="#111" stroke-width="1.0"/>
<circle cx="231.35" cy="676.55" r="1.7" fill="#fff" stroke="#111" stroke-width="1.0"/>
<circle cx="234.05" cy="681.51" r="1.7" fill="#fff" stroke="#111" stroke-width="1.0"/>
<circle cx="231.35" cy="684.00" r="1.7" fill="#fff" stroke="#111" stroke-width="1.0"/>
<circle cx="236.75" cy="685.86" r="1.7" fill="#fff" stroke="#111" stroke-width="1.0"/>
<line x1="253.50" y1="713.36" x2="253.50" y2="721.04" stroke="#231f20" stroke-width="1.2" />
<line x1="250.20" y1="713.36" x2="256.80" y2="713.36" stroke="#231f20" stroke-width="1.2" />
<line x1="250.20" y1="721.04" x2="256.80" y2="721.04" stroke="#231f20" stroke-width="1.2" />
<circle cx="253.50" cy="711.92" r="1.7" fill="#fff" stroke="#111" stroke-width="1.0"/>
<circle cx="250.80" cy="714.72" r="1.7" fill="#fff" stroke="#111" stroke-width="1.0"/>
<circle cx="253.50" cy="717.51" r="1.7" fill="#fff" stroke="#111" stroke-width="1.0"/>
<circle cx="250.80" cy="719.68" r="1.7" fill="#fff" stroke="#111" stroke-width="1.0"/>
<circle cx="256.20" cy="721.54" r="1.7" fill="#fff" stroke="#111" stroke-width="1.0"/>
<line x1="272.70" y1="681.18" x2="272.70" y2="688.05" stroke="#231f20" stroke-width="1.2" />
<line x1="269.40" y1="681.18" x2="276.00" y2="681.18" stroke="#231f20" stroke-width="1.2" />
<line x1="269.40" y1="688.05" x2="276.00" y2="688.05" stroke="#231f20" stroke-width="1.2" />
<circle cx="272.70" cy="680.27" r="1.7" fill="#fff" stroke="#111" stroke-width="1.0"/>
<circle cx="270.00" cy="682.44" r="1.7" fill="#fff" stroke="#111" stroke-width="1.0"/>
<circle cx="272.70" cy="684.62" r="1.7" fill="#fff" stroke="#111" stroke-width="1.0"/>
<circle cx="270.00" cy="686.79" r="1.7" fill="#fff" stroke="#111" stroke-width="1.0"/>
<circle cx="272.70" cy="688.96" r="1.7" fill="#fff" stroke="#111" stroke-width="1.0"/>
<line x1="292.45" y1="676.59" x2="292.45" y2="682.09" stroke="#231f20" stroke-width="1.2" />
<line x1="289.15" y1="676.59" x2="295.75" y2="676.59" stroke="#231f20" stroke-width="1.2" />
<line x1="289.15" y1="682.09" x2="295.75" y2="682.09" stroke="#231f20" stroke-width="1.2" />
<circle cx="292.45" cy="675.62" r="1.7" fill="#fff" stroke="#111" stroke-width="1.0"/>
<circle cx="287.25" cy="677.17" r="1.7" fill="#fff" stroke="#111" stroke-width="1.0"/>
<circle cx="292.45" cy="679.34" r="1.7" fill="#fff" stroke="#111" stroke-width="1.0"/>
<circle cx="287.25" cy="680.89" r="1.7" fill="#fff" stroke="#111" stroke-width="1.0"/>
<circle cx="295.15" cy="682.44" r="1.7" fill="#fff" stroke="#111" stroke-width="1.0"/>
<line x1="215.90" y1="750.40" x2="304.90" y2="750.40" stroke="#231f20" stroke-width="1.9" />
<line x1="234.05" y1="750.40" x2="234.05" y2="755.00" stroke="#231f20" stroke-width="1.5" />
<line x1="253.50" y1="750.40" x2="253.50" y2="755.00" stroke="#231f20" stroke-width="1.5" />
<line x1="272.70" y1="750.40" x2="272.70" y2="755.00" stroke="#231f20" stroke-width="1.5" />
<line x1="292.45" y1="750.40" x2="292.45" y2="755.00" stroke="#231f20" stroke-width="1.5" />
<path d="M234.50,667.30 L234.50,663.90 L255.50,663.90 L255.50,667.30" fill="none" stroke="#6a6a6a" stroke-width="0.95"/>
<text x="227.40" y="662.40" font-size="7.8" text-anchor="start" font-weight="normal" font-style="normal" fill="#555" font-family='"Liberation Sans", sans-serif' textLength="36.0" lengthAdjust="spacing"><tspan font-style="italic">P</tspan>&lt;0.0001</text>
<path d="M234.50,655.90 L234.50,652.50 L274.30,652.50 L274.30,655.90" fill="none" stroke="#6a6a6a" stroke-width="0.95"/>
<text x="238.80" y="650.60" font-size="7.8" text-anchor="start" font-weight="normal" font-style="normal" fill="#555" font-family='"Liberation Sans", sans-serif' textLength="33.3" lengthAdjust="spacing"><tspan font-style="italic">P</tspan>=0.3955</text>
<path d="M234.50,645.10 L234.50,641.70 L292.90,641.70 L292.90,645.10" fill="none" stroke="#6a6a6a" stroke-width="0.95"/>
<text x="246.00" y="639.60" font-size="7.8" text-anchor="start" font-weight="normal" font-style="normal" fill="#555" font-family='"Liberation Sans", sans-serif' textLength="33.3" lengthAdjust="spacing"><tspan font-style="italic">P</tspan>=0.9539</text>
<text x="199.70" y="707.90" font-size="10.4" text-anchor="middle" font-weight="normal" font-style="normal" fill="#231f20" font-family='"Liberation Sans", sans-serif' transform="rotate(-90 199.7 707.9)" >Osteoclasts/Well</text>
<text x="234.00" y="761.30" font-size="7.3" text-anchor="end" font-weight="bold" font-style="normal" fill="#231f20" font-family='"Liberation Sans", sans-serif' transform="rotate(-45 234.0 761.3)" >RANKL</text>
<text x="253.80" y="761.10" font-size="7.3" text-anchor="end" font-weight="bold" font-style="normal" fill="#231f20" font-family='"Liberation Sans", sans-serif' transform="rotate(-45 253.8 761.0999999999999)" >BGD</text>
<text x="273.50" y="761.10" font-size="7.3" text-anchor="end" font-weight="bold" font-style="normal" fill="#231f20" font-family='"Liberation Sans", sans-serif' transform="rotate(-45 273.5 761.0999999999999)" >BGD+Balicatib</text>
<text x="292.90" y="761.10" font-size="7.3" text-anchor="end" font-weight="bold" font-style="normal" fill="#231f20" font-family='"Liberation Sans", sans-serif' transform="rotate(-45 292.9 761.0999999999999)" >BAD</text>
<text x="337.20" y="638.30" font-size="12" text-anchor="start" font-weight="bold" font-style="normal" fill="#231f20" font-family='"Liberation Sans", sans-serif' >n</text>
<line x1="367.60" y1="750.60" x2="367.60" y2="655.60" stroke="#231f20" stroke-width="1.9" />
<line x1="363.30" y1="749.80" x2="367.60" y2="749.80" stroke="#231f20" stroke-width="1.6" />
<text x="362.30" y="752.30" font-size="7.0" text-anchor="end" font-weight="bold" font-style="normal" fill="#231f20" font-family='"Liberation Sans", sans-serif' >0</text>
<line x1="363.30" y1="731.10" x2="367.60" y2="731.10" stroke="#231f20" stroke-width="1.6" />
<text x="362.30" y="733.60" font-size="7.0" text-anchor="end" font-weight="bold" font-style="normal" fill="#231f20" font-family='"Liberation Sans", sans-serif' >10</text>
<line x1="363.30" y1="712.40" x2="367.60" y2="712.40" stroke="#231f20" stroke-width="1.6" />
<text x="362.30" y="714.90" font-size="7.0" text-anchor="end" font-weight="bold" font-style="normal" fill="#231f20" font-family='"Liberation Sans", sans-serif' >20</text>
<line x1="363.30" y1="693.70" x2="367.60" y2="693.70" stroke="#231f20" stroke-width="1.6" />
<text x="362.30" y="696.20" font-size="7.0" text-anchor="end" font-weight="bold" font-style="normal" fill="#231f20" font-family='"Liberation Sans", sans-serif' >30</text>
<line x1="363.30" y1="675.00" x2="367.60" y2="675.00" stroke="#231f20" stroke-width="1.6" />
<text x="362.30" y="677.50" font-size="7.0" text-anchor="end" font-weight="bold" font-style="normal" fill="#231f20" font-family='"Liberation Sans", sans-serif' >40</text>
<line x1="363.30" y1="656.30" x2="367.60" y2="656.30" stroke="#231f20" stroke-width="1.6" />
<text x="362.30" y="658.80" font-size="7.0" text-anchor="end" font-weight="bold" font-style="normal" fill="#231f20" font-family='"Liberation Sans", sans-serif' >50</text>
<rect x="374.85" y="685.28" width="10.90" height="64.51" fill="#8d8c92" stroke="#111" stroke-width="1.7"/>
<rect x="394.35" y="725.12" width="10.90" height="24.68" fill="#ea3b26" stroke="#111" stroke-width="1.7"/>
<rect x="413.75" y="694.26" width="10.90" height="55.54" fill="#5ec8ef" stroke="#111" stroke-width="1.7"/>
<rect x="433.05" y="687.53" width="10.90" height="62.27" fill="#f6c27d" stroke="#111" stroke-width="1.7"/>
<line x1="380.30" y1="675.18" x2="380.30" y2="695.39" stroke="#231f20" stroke-width="1.2" />
<line x1="377.00" y1="675.18" x2="383.60" y2="675.18" stroke="#231f20" stroke-width="1.2" />
<line x1="377.00" y1="695.39" x2="383.60" y2="695.39" stroke="#231f20" stroke-width="1.2" />
<circle cx="380.30" cy="673.13" r="1.7" fill="#fff" stroke="#111" stroke-width="1.0"/>
<circle cx="380.30" cy="680.61" r="1.7" fill="#fff" stroke="#111" stroke-width="1.0"/>
<circle cx="380.30" cy="688.09" r="1.7" fill="#fff" stroke="#111" stroke-width="1.0"/>
<circle cx="380.30" cy="691.83" r="1.7" fill="#fff" stroke="#111" stroke-width="1.0"/>
<circle cx="380.30" cy="699.31" r="1.7" fill="#fff" stroke="#111" stroke-width="1.0"/>
<line x1="399.80" y1="719.93" x2="399.80" y2="730.31" stroke="#231f20" stroke-width="1.2" />
<line x1="396.50" y1="719.93" x2="403.10" y2="719.93" stroke="#231f20" stroke-width="1.2" />
<line x1="396.50" y1="730.31" x2="403.10" y2="730.31" stroke="#231f20" stroke-width="1.2" />
<circle cx="399.80" cy="718.01" r="1.7" fill="#fff" stroke="#111" stroke-width="1.0"/>
<circle cx="399.80" cy="721.75" r="1.7" fill="#fff" stroke="#111" stroke-width="1.0"/>
<circle cx="399.80" cy="725.49" r="1.7" fill="#fff" stroke="#111" stroke-width="1.0"/>
<circle cx="397.10" cy="728.29" r="1.7" fill="#fff" stroke="#111" stroke-width="1.0"/>
<circle cx="399.80" cy="731.10" r="1.7" fill="#fff" stroke="#111" stroke-width="1.0"/>
<line x1="419.20" y1="685.16" x2="419.20" y2="703.36" stroke="#231f20" stroke-width="1.2" />
<line x1="415.90" y1="685.16" x2="422.50" y2="685.16" stroke="#231f20" stroke-width="1.2" />
<line x1="415.90" y1="703.36" x2="422.50" y2="703.36" stroke="#231f20" stroke-width="1.2" />
<circle cx="419.20" cy="680.61" r="1.7" fill="#fff" stroke="#111" stroke-width="1.0"/>
<circle cx="419.20" cy="691.83" r="1.7" fill="#fff" stroke="#111" stroke-width="1.0"/>
<circle cx="414.00" cy="693.70" r="1.7" fill="#fff" stroke="#111" stroke-width="1.0"/>
<circle cx="419.20" cy="699.31" r="1.7" fill="#fff" stroke="#111" stroke-width="1.0"/>
<circle cx="419.20" cy="704.92" r="1.7" fill="#fff" stroke="#111" stroke-width="1.0"/>
<line x1="438.50" y1="680.86" x2="438.50" y2="694.19" stroke="#231f20" stroke-width="1.2" />
<line x1="435.20" y1="680.86" x2="441.80" y2="680.86" stroke="#231f20" stroke-width="1.2" />
<line x1="435.20" y1="694.19" x2="441.80" y2="694.19" stroke="#231f20" stroke-width="1.2" />
<circle cx="438.50" cy="678.74" r="1.7" fill="#fff" stroke="#111" stroke-width="1.0"/>
<circle cx="433.30" cy="680.61" r="1.7" fill="#fff" stroke="#111" stroke-width="1.0"/>
<circle cx="438.50" cy="688.09" r="1.7" fill="#fff" stroke="#111" stroke-width="1.0"/>
<circle cx="438.50" cy="691.83" r="1.7" fill="#fff" stroke="#111" stroke-width="1.0"/>
<circle cx="433.30" cy="693.70" r="1.7" fill="#fff" stroke="#111" stroke-width="1.0"/>
<line x1="363.30" y1="749.80" x2="450.90" y2="749.80" stroke="#231f20" stroke-width="1.9" />
<line x1="380.30" y1="749.80" x2="380.30" y2="754.40" stroke="#231f20" stroke-width="1.5" />
<line x1="399.80" y1="749.80" x2="399.80" y2="754.40" stroke="#231f20" stroke-width="1.5" />
<line x1="419.20" y1="749.80" x2="419.20" y2="754.40" stroke="#231f20" stroke-width="1.5" />
<line x1="438.50" y1="749.80" x2="438.50" y2="754.40" stroke="#231f20" stroke-width="1.5" />
<path d="M380.30,661.60 L380.30,658.20 L401.20,658.20 L401.20,661.60" fill="none" stroke="#6a6a6a" stroke-width="0.95"/>
<text x="372.70" y="656.60" font-size="7.8" text-anchor="start" font-weight="normal" font-style="normal" fill="#555" font-family='"Liberation Sans", sans-serif' textLength="36.0" lengthAdjust="spacing"><tspan font-style="italic">P</tspan>&lt;0.0001</text>
<path d="M380.30,650.60 L380.30,647.20 L419.60,647.20 L419.60,650.60" fill="none" stroke="#6a6a6a" stroke-width="0.95"/>
<text x="384.00" y="645.70" font-size="7.8" text-anchor="start" font-weight="normal" font-style="normal" fill="#555" font-family='"Liberation Sans", sans-serif' textLength="33.3" lengthAdjust="spacing"><tspan font-style="italic">P</tspan>=0.3408</text>
<path d="M380.30,641.70 L380.30,638.30 L439.10,638.30 L439.10,641.70" fill="none" stroke="#6a6a6a" stroke-width="0.95"/>
<text x="392.60" y="636.80" font-size="7.8" text-anchor="start" font-weight="normal" font-style="normal" fill="#555" font-family='"Liberation Sans", sans-serif' textLength="33.3" lengthAdjust="spacing"><tspan font-style="italic">P</tspan>=0.9567</text>
<path d="M401.20,672.10 L401.20,668.70 L419.60,668.70 L419.60,672.10" fill="none" stroke="#6a6a6a" stroke-width="0.95"/>
<text x="394.10" y="667.50" font-size="7.8" text-anchor="start" font-weight="normal" font-style="normal" fill="#555" font-family='"Liberation Sans", sans-serif' textLength="33.3" lengthAdjust="spacing"><tspan font-style="italic">P</tspan>=0.0001</text>
<text x="350.30" y="703.00" font-size="10.5" text-anchor="middle" font-weight="normal" font-style="normal" fill="#231f20" font-family='"Liberation Sans", sans-serif' transform="rotate(-90 350.3 703.0)" >Nuclei/Osteoclast</text>
<text x="380.00" y="760.80" font-size="7.3" text-anchor="end" font-weight="bold" font-style="normal" fill="#231f20" font-family='"Liberation Sans", sans-serif' transform="rotate(-45 380.0 760.8)" >RANKL</text>
<text x="399.80" y="760.60" font-size="7.3" text-anchor="end" font-weight="bold" font-style="normal" fill="#231f20" font-family='"Liberation Sans", sans-serif' transform="rotate(-45 399.8 760.5999999999999)" >BGD</text>
<text x="419.50" y="760.60" font-size="7.3" text-anchor="end" font-weight="bold" font-style="normal" fill="#231f20" font-family='"Liberation Sans", sans-serif' transform="rotate(-45 419.5 760.5999999999999)" >BGD+Balicatib</text>
<text x="438.80" y="760.60" font-size="7.3" text-anchor="end" font-weight="bold" font-style="normal" fill="#231f20" font-family='"Liberation Sans", sans-serif' transform="rotate(-45 438.8 760.5999999999999)" >BAD</text>
<text x="484.00" y="638.30" font-size="12" text-anchor="start" font-weight="bold" font-style="normal" fill="#231f20" font-family='"Liberation Sans", sans-serif' >o</text>
<line x1="530.30" y1="750.40" x2="530.30" y2="656.50" stroke="#231f20" stroke-width="1.9" />
<line x1="526.00" y1="749.60" x2="530.30" y2="749.60" stroke="#231f20" stroke-width="1.6" />
<text x="525.00" y="752.10" font-size="7.0" text-anchor="end" font-weight="bold" font-style="normal" fill="#231f20" font-family='"Liberation Sans", sans-serif' >0</text>
<line x1="526.00" y1="726.50" x2="530.30" y2="726.50" stroke="#231f20" stroke-width="1.6" />
<text x="525.00" y="729.00" font-size="7.0" text-anchor="end" font-weight="bold" font-style="normal" fill="#231f20" font-family='"Liberation Sans", sans-serif' >20</text>
<line x1="526.00" y1="703.40" x2="530.30" y2="703.40" stroke="#231f20" stroke-width="1.6" />
<text x="525.00" y="705.90" font-size="7.0" text-anchor="end" font-weight="bold" font-style="normal" fill="#231f20" font-family='"Liberation Sans", sans-serif' >40</text>
<line x1="526.00" y1="680.30" x2="530.30" y2="680.30" stroke="#231f20" stroke-width="1.6" />
<text x="525.00" y="682.80" font-size="7.0" text-anchor="end" font-weight="bold" font-style="normal" fill="#231f20" font-family='"Liberation Sans", sans-serif' >60</text>
<line x1="526.00" y1="657.20" x2="530.30" y2="657.20" stroke="#231f20" stroke-width="1.6" />
<text x="525.00" y="659.70" font-size="7.0" text-anchor="end" font-weight="bold" font-style="normal" fill="#231f20" font-family='"Liberation Sans", sans-serif' >80</text>
<rect x="537.75" y="671.06" width="10.90" height="78.54" fill="#8d8c92" stroke="#111" stroke-width="1.7"/>
<rect x="557.30" y="723.38" width="10.90" height="26.22" fill="#ea3b26" stroke="#111" stroke-width="1.7"/>
<rect x="576.40" y="676.84" width="10.90" height="72.76" fill="#5ec8ef" stroke="#111" stroke-width="1.7"/>
<rect x="595.70" y="677.53" width="10.90" height="72.07" fill="#f6c27d" stroke="#111" stroke-width="1.7"/>
<line x1="543.20" y1="666.40" x2="543.20" y2="675.72" stroke="#231f20" stroke-width="1.2" />
<line x1="539.90" y1="666.40" x2="546.50" y2="666.40" stroke="#231f20" stroke-width="1.2" />
<line x1="539.90" y1="675.72" x2="546.50" y2="675.72" stroke="#231f20" stroke-width="1.2" />
<circle cx="543.20" cy="664.13" r="1.7" fill="#fff" stroke="#111" stroke-width="1.0"/>
<circle cx="543.20" cy="667.60" r="1.7" fill="#fff" stroke="#111" stroke-width="1.0"/>
<circle cx="543.20" cy="672.22" r="1.7" fill="#fff" stroke="#111" stroke-width="1.0"/>
<circle cx="538.00" cy="673.37" r="1.7" fill="#fff" stroke="#111" stroke-width="1.0"/>
<circle cx="543.20" cy="675.68" r="1.7" fill="#fff" stroke="#111" stroke-width="1.0"/>
<line x1="562.75" y1="719.30" x2="562.75" y2="727.47" stroke="#231f20" stroke-width="1.2" />
<line x1="559.45" y1="719.30" x2="566.05" y2="719.30" stroke="#231f20" stroke-width="1.2" />
<line x1="559.45" y1="727.47" x2="566.05" y2="727.47" stroke="#231f20" stroke-width="1.2" />
<circle cx="562.75" cy="717.26" r="1.7" fill="#fff" stroke="#111" stroke-width="1.0"/>
<circle cx="562.75" cy="720.73" r="1.7" fill="#fff" stroke="#111" stroke-width="1.0"/>
<circle cx="562.75" cy="724.19" r="1.7" fill="#fff" stroke="#111" stroke-width="1.0"/>
<circle cx="557.55" cy="725.35" r="1.7" fill="#fff" stroke="#111" stroke-width="1.0"/>
<circle cx="562.75" cy="727.65" r="1.7" fill="#fff" stroke="#111" stroke-width="1.0"/>
<line x1="581.85" y1="672.07" x2="581.85" y2="681.60" stroke="#231f20" stroke-width="1.2" />
<line x1="578.55" y1="672.07" x2="585.15" y2="672.07" stroke="#231f20" stroke-width="1.2" />
<line x1="578.55" y1="681.60" x2="585.15" y2="681.60" stroke="#231f20" stroke-width="1.2" />
<circle cx="581.85" cy="671.06" r="1.7" fill="#fff" stroke="#111" stroke-width="1.0"/>
<circle cx="579.15" cy="673.37" r="1.7" fill="#fff" stroke="#111" stroke-width="1.0"/>
<circle cx="581.85" cy="676.84" r="1.7" fill="#fff" stroke="#111" stroke-width="1.0"/>
<circle cx="581.85" cy="680.30" r="1.7" fill="#fff" stroke="#111" stroke-width="1.0"/>
<circle cx="579.15" cy="682.61" r="1.7" fill="#fff" stroke="#111" stroke-width="1.0"/>
<line x1="601.15" y1="671.13" x2="601.15" y2="683.93" stroke="#231f20" stroke-width="1.2" />
<line x1="597.85" y1="671.13" x2="604.45" y2="671.13" stroke="#231f20" stroke-width="1.2" />
<line x1="597.85" y1="683.93" x2="604.45" y2="683.93" stroke="#231f20" stroke-width="1.2" />
<circle cx="601.15" cy="669.90" r="1.7" fill="#fff" stroke="#111" stroke-width="1.0"/>
<circle cx="595.95" cy="671.06" r="1.7" fill="#fff" stroke="#111" stroke-width="1.0"/>
<circle cx="601.15" cy="677.99" r="1.7" fill="#fff" stroke="#111" stroke-width="1.0"/>
<circle cx="601.15" cy="682.61" r="1.7" fill="#fff" stroke="#111" stroke-width="1.0"/>
<circle cx="595.95" cy="683.76" r="1.7" fill="#fff" stroke="#111" stroke-width="1.0"/>
<line x1="526.00" y1="749.60" x2="613.90" y2="749.60" stroke="#231f20" stroke-width="1.9" />
<line x1="543.20" y1="749.60" x2="543.20" y2="754.20" stroke="#231f20" stroke-width="1.5" />
<line x1="562.75" y1="749.60" x2="562.75" y2="754.20" stroke="#231f20" stroke-width="1.5" />
<line x1="581.85" y1="749.60" x2="581.85" y2="754.20" stroke="#231f20" stroke-width="1.5" />
<line x1="601.15" y1="749.60" x2="601.15" y2="754.20" stroke="#231f20" stroke-width="1.5" />
<path d="M542.60,655.00 L542.60,651.60 L563.50,651.60 L563.50,655.00" fill="none" stroke="#6a6a6a" stroke-width="0.95"/>
<text x="534.10" y="649.70" font-size="7.8" text-anchor="start" font-weight="normal" font-style="normal" fill="#555" font-family='"Liberation Sans", sans-serif' textLength="36.0" lengthAdjust="spacing"><tspan font-style="italic">P</tspan>&lt;0.0001</text>
<path d="M542.60,645.10 L542.60,641.70 L582.50,641.70 L582.50,645.10" fill="none" stroke="#6a6a6a" stroke-width="0.95"/>
<text x="546.40" y="639.60" font-size="7.8" text-anchor="start" font-weight="normal" font-style="normal" fill="#555" font-family='"Liberation Sans", sans-serif' textLength="33.3" lengthAdjust="spacing"><tspan font-style="italic">P</tspan>=0.3861</text>
<path d="M542.60,636.00 L542.60,632.60 L601.10,632.60 L601.10,636.00" fill="none" stroke="#6a6a6a" stroke-width="0.95"/>
<text x="554.40" y="630.20" font-size="7.8" text-anchor="start" font-weight="normal" font-style="normal" fill="#555" font-family='"Liberation Sans", sans-serif' textLength="33.3" lengthAdjust="spacing"><tspan font-style="italic">P</tspan>=0.3370</text>
<path d="M563.50,665.40 L563.50,662.00 L582.50,662.00 L582.50,665.40" fill="none" stroke="#6a6a6a" stroke-width="0.95"/>
<text x="554.00" y="660.00" font-size="7.8" text-anchor="start" font-weight="normal" font-style="normal" fill="#555" font-family='"Liberation Sans", sans-serif' textLength="36.0" lengthAdjust="spacing"><tspan font-style="italic">P</tspan>&lt;0.0001</text>
<text x="497.90" y="703.40" font-size="10.4" text-anchor="middle" font-weight="normal" font-style="normal" fill="#3a3a3a" font-family='"Liberation Sans", sans-serif' transform="rotate(-90 497.9 703.4)" >Bone resorption</text>
<text x="511.60" y="702.20" font-size="10.4" text-anchor="middle" font-weight="normal" font-style="normal" fill="#3a3a3a" font-family='"Liberation Sans", sans-serif' transform="rotate(-90 511.6 702.2)" textLength="41.5" lengthAdjust="spacing">area ( % )</text>
<text x="543.00" y="760.80" font-size="7.3" text-anchor="end" font-weight="bold" font-style="normal" fill="#231f20" font-family='"Liberation Sans", sans-serif' transform="rotate(-45 543.0 760.8)" >RANKL</text>
<text x="562.80" y="760.60" font-size="7.3" text-anchor="end" font-weight="bold" font-style="normal" fill="#231f20" font-family='"Liberation Sans", sans-serif' transform="rotate(-45 562.8 760.5999999999999)" >BGD</text>
<text x="582.20" y="760.60" font-size="7.3" text-anchor="end" font-weight="bold" font-style="normal" fill="#231f20" font-family='"Liberation Sans", sans-serif' transform="rotate(-45 582.2 760.5999999999999)" >BGD+Balicatib</text>
<text x="601.40" y="760.60" font-size="7.3" text-anchor="end" font-weight="bold" font-style="normal" fill="#231f20" font-family='"Liberation Sans", sans-serif' transform="rotate(-45 601.4 760.5999999999999)" >BAD</text>
</svg>
</body></html>
